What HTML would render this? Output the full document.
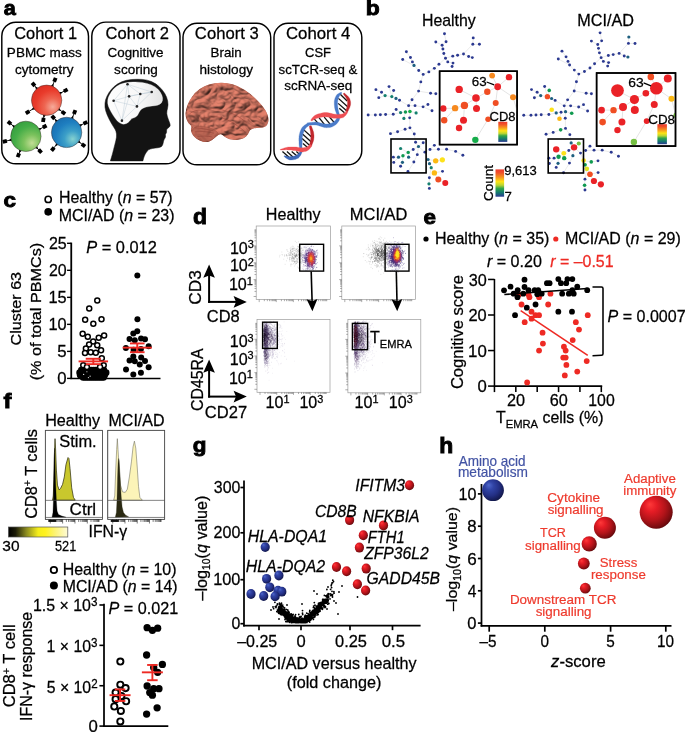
<!DOCTYPE html>
<html lang="en"><head><meta charset="utf-8"><title>Figure</title>
<style>html,body{margin:0;padding:0;background:#fff;}svg{display:block;font-family:"Liberation Sans",sans-serif;}.k{stroke:#000;}</style></head><body>
<svg width="685" height="732" viewBox="0 0 685 732" stroke-width="0.26">
<rect width="685" height="732" fill="#fff"/>
<g id="pa">
<text x="3.70" y="15.10" font-size="20.4" font-weight="bold" stroke="#000" stroke-width="0.9" textLength="12.03" lengthAdjust="spacingAndGlyphs">a</text>
<rect x="1.80" y="22.20" width="86.70" height="141.60" fill="none" stroke="#000" stroke-width="1.45" rx="14" />
<rect x="91.80" y="22.10" width="88.20" height="141.70" fill="none" stroke="#000" stroke-width="1.45" rx="14" />
<rect x="183.00" y="23.30" width="87.70" height="141.50" fill="none" stroke="#000" stroke-width="1.45" rx="14" />
<rect x="274.00" y="23.30" width="87.80" height="141.50" fill="none" stroke="#000" stroke-width="1.45" rx="14" />
<text x="14.18" y="39.30" font-size="16.63" class="k" textLength="62.91" lengthAdjust="spacingAndGlyphs">Cohort 1</text>
<text x="105.57" y="39.30" font-size="16.63" class="k" textLength="63.46" lengthAdjust="spacingAndGlyphs">Cohort 2</text>
<text x="194.87" y="39.30" font-size="16.63" class="k" textLength="63.85" lengthAdjust="spacingAndGlyphs">Cohort 3</text>
<text x="285.96" y="39.30" font-size="16.63" class="k" textLength="64.41" lengthAdjust="spacingAndGlyphs">Cohort 4</text>
<text x="6.89" y="57.30" font-size="12.56" class="k" textLength="75.00" lengthAdjust="spacingAndGlyphs">PBMC mass</text>
<text x="14.93" y="73.60" font-size="12.56" class="k" textLength="58.49" lengthAdjust="spacingAndGlyphs">cytometry</text>
<text x="107.53" y="57.30" font-size="12.56" class="k" textLength="55.86" lengthAdjust="spacingAndGlyphs">Cognitive</text>
<text x="114.13" y="73.60" font-size="12.56" class="k" textLength="43.74" lengthAdjust="spacingAndGlyphs">scoring</text>
<text x="210.60" y="57.30" font-size="12.56" class="k" textLength="31.16" lengthAdjust="spacingAndGlyphs">Brain</text>
<text x="199.45" y="73.60" font-size="12.56" class="k" textLength="53.58" lengthAdjust="spacingAndGlyphs">histology</text>
<text x="305.05" y="57.30" font-size="12.56" class="k" textLength="25.86" lengthAdjust="spacingAndGlyphs">CSF</text>
<text x="278.54" y="73.60" font-size="12.56" class="k" textLength="78.77" lengthAdjust="spacingAndGlyphs">scTCR-seq &amp;</text>
<text x="284.23" y="89.50" font-size="12.56" class="k" textLength="68.03" lengthAdjust="spacingAndGlyphs">scRNA-seq</text>
<defs>
<radialGradient id="cg0" cx="0.7" cy="0.72" r="0.9"><stop offset="0" stop-color="#f6ab9a"/><stop offset="0.3" stop-color="#ee6652"/><stop offset="0.62" stop-color="#e93b2b"/><stop offset="1" stop-color="#d9291d"/></radialGradient>
<radialGradient id="cg1" cx="0.7" cy="0.72" r="0.9"><stop offset="0" stop-color="#c2dd95"/><stop offset="0.3" stop-color="#7cc25d"/><stop offset="0.62" stop-color="#45ad48"/><stop offset="1" stop-color="#2f9a3a"/></radialGradient>
<radialGradient id="cg2" cx="0.7" cy="0.72" r="0.9"><stop offset="0" stop-color="#86d2d0"/><stop offset="0.3" stop-color="#3c9fc8"/><stop offset="0.62" stop-color="#1e7ec0"/><stop offset="1" stop-color="#1568aa"/></radialGradient>
</defs>
<line x1="37.68" y1="89.46" x2="33.50" y2="84.45" stroke="#000" stroke-width="0.9" />
<rect x="31.40" y="82.55" width="4.2" height="3.8" fill="#000" transform="rotate(-129.8 33.50 84.45)"/>
<path d="M38.53,87.98 L35.25,86.55 L36.07,90.03Z" fill="#000" stroke="none" stroke-width="0" />
<line x1="51.91" y1="87.25" x2="54.92" y2="79.85" stroke="#000" stroke-width="0.9" />
<rect x="52.82" y="77.95" width="4.2" height="3.8" fill="#000" transform="rotate(-67.9 54.92 79.85)"/>
<path d="M53.62,87.30 L53.35,83.73 L50.66,86.09Z" fill="#000" stroke="none" stroke-width="0" />
<line x1="59.08" y1="93.79" x2="65.69" y2="90.37" stroke="#000" stroke-width="0.9" />
<rect x="63.59" y="88.47" width="4.2" height="3.8" fill="#000" transform="rotate(-27.3 65.69 90.37)"/>
<path d="M60.35,94.93 L62.45,92.04 L58.88,92.09Z" fill="#000" stroke="none" stroke-width="0" />
<line x1="57.89" y1="108.56" x2="63.46" y2="112.70" stroke="#000" stroke-width="0.9" />
<rect x="61.36" y="110.80" width="4.2" height="3.8" fill="#000" transform="rotate(36.6 63.46 112.70)"/>
<path d="M57.41,110.21 L60.94,110.83 L59.32,107.64Z" fill="#000" stroke="none" stroke-width="0" />
<line x1="44.34" y1="114.03" x2="43.36" y2="119.93" stroke="#000" stroke-width="0.9" />
<rect x="41.26" y="118.03" width="4.2" height="3.8" fill="#000" transform="rotate(99.5 43.36 119.93)"/>
<path d="M42.66,114.36 L43.72,117.78 L45.82,114.88Z" fill="#000" stroke="none" stroke-width="0" />
<line x1="34.82" y1="107.72" x2="27.59" y2="112.31" stroke="#000" stroke-width="0.9" />
<rect x="25.49" y="110.41" width="4.2" height="3.8" fill="#000" transform="rotate(147.6 27.59 112.31)"/>
<path d="M33.46,106.69 L31.61,109.76 L35.17,109.39Z" fill="#000" stroke="none" stroke-width="0" />
<circle cx="46.64" cy="100.22" r="15.20" fill="url(#cg0)" stroke="#3a2a2a" stroke-width="0.45" />
<line x1="15.08" y1="127.45" x2="9.46" y2="122.82" stroke="#000" stroke-width="0.9" />
<rect x="7.36" y="120.92" width="4.2" height="3.8" fill="#000" transform="rotate(-140.5 9.46 122.82)"/>
<path d="M15.63,125.83 L12.15,125.03 L13.60,128.30Z" fill="#000" stroke="none" stroke-width="0" />
<line x1="38.28" y1="129.85" x2="44.67" y2="126.50" stroke="#000" stroke-width="0.9" />
<rect x="42.57" y="124.60" width="4.2" height="3.8" fill="#000" transform="rotate(-27.7 44.67 126.50)"/>
<path d="M39.56,130.99 L41.65,128.08 L38.07,128.15Z" fill="#000" stroke="none" stroke-width="0" />
<line x1="12.26" y1="139.59" x2="4.86" y2="141.34" stroke="#000" stroke-width="0.9" />
<rect x="2.76" y="139.44" width="4.2" height="3.8" fill="#000" transform="rotate(166.6 4.86 141.34)"/>
<path d="M11.31,138.17 L8.57,140.46 L12.05,141.28Z" fill="#000" stroke="none" stroke-width="0" />
<line x1="20.70" y1="149.36" x2="18.39" y2="155.14" stroke="#000" stroke-width="0.9" />
<rect x="16.29" y="153.24" width="4.2" height="3.8" fill="#000" transform="rotate(111.7 18.39 155.14)"/>
<path d="M18.99,149.32 L19.29,152.89 L21.96,150.51Z" fill="#000" stroke="none" stroke-width="0" />
<line x1="35.56" y1="146.47" x2="40.07" y2="151.20" stroke="#000" stroke-width="0.9" />
<rect x="37.97" y="149.30" width="4.2" height="3.8" fill="#000" transform="rotate(46.3 40.07 151.20)"/>
<path d="M34.81,148.01 L38.18,149.22 L37.13,145.80Z" fill="#000" stroke="none" stroke-width="0" />
<circle cx="25.88" cy="136.35" r="15.20" fill="url(#cg1)" stroke="#3a2a2a" stroke-width="0.45" />
<line x1="57.32" y1="121.94" x2="53.21" y2="117.30" stroke="#000" stroke-width="0.9" />
<rect x="51.11" y="115.40" width="4.2" height="3.8" fill="#000" transform="rotate(-131.6 53.21 117.30)"/>
<path d="M58.12,120.43 L54.80,119.09 L55.73,122.55Z" fill="#000" stroke="none" stroke-width="0" />
<line x1="71.74" y1="119.38" x2="74.63" y2="112.04" stroke="#000" stroke-width="0.9" />
<rect x="72.53" y="110.14" width="4.2" height="3.8" fill="#000" transform="rotate(-68.5 74.63 112.04)"/>
<path d="M73.45,119.41 L73.13,115.85 L70.47,118.24Z" fill="#000" stroke="none" stroke-width="0" />
<line x1="79.08" y1="126.04" x2="85.40" y2="122.82" stroke="#000" stroke-width="0.9" />
<rect x="83.30" y="120.92" width="4.2" height="3.8" fill="#000" transform="rotate(-27.0 85.40 122.82)"/>
<path d="M80.35,127.20 L82.47,124.32 L78.89,124.35Z" fill="#000" stroke="none" stroke-width="0" />
<line x1="77.73" y1="140.92" x2="83.43" y2="145.29" stroke="#000" stroke-width="0.9" />
<rect x="81.33" y="143.39" width="4.2" height="3.8" fill="#000" transform="rotate(37.4 83.43 145.29)"/>
<path d="M77.23,142.56 L80.75,143.23 L79.18,140.01Z" fill="#000" stroke="none" stroke-width="0" />
<line x1="57.69" y1="143.20" x2="52.82" y2="149.10" stroke="#000" stroke-width="0.9" />
<rect x="50.72" y="147.20" width="4.2" height="3.8" fill="#000" transform="rotate(129.6 52.82 149.10)"/>
<path d="M56.08,142.64 L55.27,146.13 L58.54,144.68Z" fill="#000" stroke="none" stroke-width="0" />
<circle cx="66.61" cy="132.41" r="15.20" fill="url(#cg2)" stroke="#3a2a2a" stroke-width="0.45" />
<path d="M131.6,79.5 Q137.2,79.1 142.1,79.4 Q147.1,79.7 151.5,81.6 Q155.8,83.4 159.2,86.7 Q162.6,89.9 164.8,93.6 Q167.0,97.3 167.7,101.1 Q168.4,104.8 167.6,107.9 Q166.7,111.0 166.8,113.5 Q167.0,115.9 168.2,119.0 Q169.4,122.1 170.0,124.0 Q170.6,125.9 169.4,126.9 Q168.2,128.0 167.3,128.8 Q166.3,129.6 166.6,131.1 Q166.8,132.7 166.0,133.6 Q165.1,134.6 165.5,135.8 Q165.8,137.0 164.9,138.3 Q163.9,139.5 163.5,141.4 Q163.2,143.2 162.6,144.9 Q162.0,146.6 160.1,147.2 Q158.3,147.8 155.2,148.1 Q152.1,148.4 150.2,149.1 Q148.3,149.7 147.1,151.2 Q145.9,152.8 144.9,154.8 Q144.0,156.9 143.4,158.9 Q142.9,160.9 142.9,160.9 Q142.9,160.9 126.6,160.9 Q110.4,160.9 110.4,160.9 Q110.4,160.9 111.4,157.6 Q112.4,154.4 113.6,149.4 Q114.9,144.5 115.8,140.8 Q116.8,137.0 116.5,133.9 Q116.1,130.8 114.9,129.0 Q113.6,127.1 111.1,122.8 Q108.6,118.4 107.1,114.7 Q105.5,111.0 105.0,107.3 Q104.6,103.5 105.6,99.8 Q106.7,96.1 108.9,92.7 Q111.1,89.3 114.2,86.5 Q117.3,83.7 121.7,81.8 Q126.0,80.0 131.6,79.5Z" fill="#131313" stroke="#131313" stroke-width="0.5" stroke-linejoin="round"/>
<defs><linearGradient id="bwg" x1="0" y1="0" x2="1" y2="0"><stop offset="0" stop-color="#fdfdfd"/><stop offset="0.6" stop-color="#f7f7f7"/><stop offset="1" stop-color="#e4e4e4"/></linearGradient></defs>
<path d="M124.2,83.1 Q128.5,82.2 132.8,82.0 Q137.2,81.8 142.1,82.4 Q147.1,83.1 151.5,84.9 Q155.8,86.8 158.3,89.6 Q160.8,92.4 161.9,95.2 Q163.0,98.0 162.5,100.4 Q162.0,102.9 159.8,104.2 Q157.7,105.4 154.9,105.7 Q152.1,106.0 149.0,106.5 Q145.9,107.0 143.7,107.9 Q141.5,108.7 140.3,110.5 Q139.0,112.2 138.4,113.8 Q137.8,115.3 136.3,116.6 Q134.7,117.8 133.2,118.1 Q131.6,118.4 130.7,119.8 Q129.7,121.2 128.2,122.4 Q126.6,123.6 124.8,124.0 Q122.9,124.4 121.1,123.6 Q119.2,122.8 117.3,120.9 Q115.5,119.0 113.3,115.6 Q111.1,112.2 109.6,109.1 Q108.0,106.0 107.7,103.2 Q107.4,100.4 108.3,97.6 Q109.3,94.9 111.4,91.7 Q113.6,88.6 116.7,86.3 Q119.8,83.9 124.2,83.1Z" fill="url(#bwg)" stroke="#fafafa" stroke-width="0.3" stroke-linejoin="round"/>
<line x1="127.51" y1="84.31" x2="140.29" y2="93.98" stroke="#a9bccb" stroke-width="0.35" />
<line x1="127.51" y1="84.31" x2="151.70" y2="92.00" stroke="#a9bccb" stroke-width="0.35" />
<line x1="127.51" y1="84.31" x2="129.12" y2="96.34" stroke="#a9bccb" stroke-width="0.35" />
<line x1="127.51" y1="84.31" x2="113.61" y2="100.81" stroke="#a9bccb" stroke-width="0.35" />
<line x1="140.29" y1="93.98" x2="151.70" y2="92.00" stroke="#a9bccb" stroke-width="0.35" />
<line x1="140.29" y1="93.98" x2="129.12" y2="96.34" stroke="#a9bccb" stroke-width="0.35" />
<line x1="140.29" y1="93.98" x2="136.94" y2="106.39" stroke="#a9bccb" stroke-width="0.35" />
<line x1="151.70" y1="92.00" x2="136.94" y2="106.39" stroke="#a9bccb" stroke-width="0.35" />
<line x1="129.12" y1="96.34" x2="113.61" y2="100.81" stroke="#a9bccb" stroke-width="0.35" />
<line x1="129.12" y1="96.34" x2="136.94" y2="106.39" stroke="#a9bccb" stroke-width="0.35" />
<line x1="129.12" y1="96.34" x2="121.92" y2="120.66" stroke="#a9bccb" stroke-width="0.35" />
<line x1="113.61" y1="100.81" x2="136.94" y2="106.39" stroke="#a9bccb" stroke-width="0.35" />
<line x1="113.61" y1="100.81" x2="121.92" y2="120.66" stroke="#a9bccb" stroke-width="0.35" />
<line x1="136.94" y1="106.39" x2="121.92" y2="120.66" stroke="#a9bccb" stroke-width="0.35" />
<line x1="127.51" y1="84.31" x2="121.92" y2="120.66" stroke="#a9bccb" stroke-width="0.35" />
<line x1="151.70" y1="92.00" x2="129.12" y2="96.34" stroke="#a9bccb" stroke-width="0.35" />
<circle cx="127.51" cy="84.31" r="1.30" fill="#222" />
<circle cx="140.29" cy="93.98" r="1.30" fill="#222" />
<circle cx="151.70" cy="92.00" r="1.30" fill="#222" />
<circle cx="129.12" cy="96.34" r="1.30" fill="#222" />
<circle cx="113.61" cy="100.81" r="1.30" fill="#222" />
<circle cx="136.94" cy="106.39" r="1.30" fill="#222" />
<circle cx="121.92" cy="120.66" r="1.30" fill="#222" />
<defs><radialGradient id="brg" cx="0.45" cy="0.35" r="0.8"><stop offset="0" stop-color="#cf8270"/><stop offset="0.6" stop-color="#b96250"/><stop offset="1" stop-color="#9a493b"/></radialGradient><filter id="bt" x="-0.05" y="-0.05" width="1.1" height="1.1" color-interpolation-filters="sRGB"><feTurbulence type="turbulence" baseFrequency="0.085 0.11" numOctaves="2" seed="8" result="n"/><feDiffuseLighting in="n" surfaceScale="2.5" diffuseConstant="1.2" lighting-color="#c9725f" result="l"><feDistantLight azimuth="240" elevation="52"/></feDiffuseLighting><feComposite in="l" in2="SourceGraphic" operator="in" result="c"/><feGaussianBlur in="c" stdDeviation="0.35" result="cb"/><feComposite in="cb" in2="SourceGraphic" operator="in"/></filter></defs>
<path d="M186.6,119.6 Q185.3,116.0 185.6,112.7 Q185.9,109.4 187.3,105.5 Q188.6,101.5 191.9,96.9 Q195.1,92.3 199.7,89.1 Q204.3,85.8 209.6,84.3 Q214.8,82.9 220.8,82.7 Q226.7,82.5 232.6,84.3 Q238.5,86.0 244.4,89.8 Q250.3,93.6 254.9,97.9 Q259.5,102.2 262.8,106.5 Q266.1,110.7 267.5,114.7 Q269.0,118.6 268.2,121.9 Q267.4,125.2 265.4,126.5 Q263.5,127.8 259.5,127.8 Q255.6,127.8 252.6,128.8 Q249.7,129.8 249.0,132.1 Q248.4,134.4 246.1,136.4 Q243.8,138.3 240.5,139.3 Q237.2,140.3 233.2,139.8 Q229.3,139.4 226.7,137.9 Q224.0,136.4 222.4,135.0 Q220.8,133.7 218.8,134.7 Q216.8,135.7 214.5,138.0 Q212.2,140.3 209.3,141.4 Q206.3,142.5 203.0,141.7 Q199.7,140.9 196.8,138.7 Q193.8,136.4 192.2,133.7 Q190.5,131.1 191.2,128.5 Q191.9,125.8 189.9,124.5 Q187.9,123.2 186.6,119.6Z" fill="url(#brg)" stroke="none" stroke-width="0" />
<path d="M186.6,119.6 Q185.3,116.0 185.6,112.7 Q185.9,109.4 187.3,105.5 Q188.6,101.5 191.9,96.9 Q195.1,92.3 199.7,89.1 Q204.3,85.8 209.6,84.3 Q214.8,82.9 220.8,82.7 Q226.7,82.5 232.6,84.3 Q238.5,86.0 244.4,89.8 Q250.3,93.6 254.9,97.9 Q259.5,102.2 262.8,106.5 Q266.1,110.7 267.5,114.7 Q269.0,118.6 268.2,121.9 Q267.4,125.2 265.4,126.5 Q263.5,127.8 259.5,127.8 Q255.6,127.8 252.6,128.8 Q249.7,129.8 249.0,132.1 Q248.4,134.4 246.1,136.4 Q243.8,138.3 240.5,139.3 Q237.2,140.3 233.2,139.8 Q229.3,139.4 226.7,137.9 Q224.0,136.4 222.4,135.0 Q220.8,133.7 218.8,134.7 Q216.8,135.7 214.5,138.0 Q212.2,140.3 209.3,141.4 Q206.3,142.5 203.0,141.7 Q199.7,140.9 196.8,138.7 Q193.8,136.4 192.2,133.7 Q190.5,131.1 191.2,128.5 Q191.9,125.8 189.9,124.5 Q187.9,123.2 186.6,119.6Z" fill="#c06a58" stroke="none" stroke-width="0" filter="url(#bt)" opacity="0.85"/>
<path d="M192.2,133.4 Q191.2,130.4 193.8,128.1 Q196.5,125.8 201.1,126.2 Q205.6,126.5 210.2,128.1 Q214.8,129.8 217.1,131.8 Q219.4,133.7 217.1,135.7 Q214.8,137.7 211.6,139.8 Q208.3,142.0 204.3,141.5 Q200.4,140.9 196.8,138.7 Q193.2,136.4 192.2,133.4Z" fill="#b4604f" stroke="#8a3e32" stroke-width="0.4" opacity="0.75"/>
<path d="M189.9,113.4 Q196.5,109.4 200.4,110.1 Q204.3,110.7 208.3,109.4 Q212.2,108.1 216.8,108.8 Q221.4,109.4 226.7,111.4 Q231.9,113.4 235.9,115.3 Q239.8,117.3 243.1,119.9 L246.4,122.6" fill="none" stroke="#8a3e32" stroke-width="0.8" stroke-linecap="round" opacity="0.6"/>
<path d="M201.7,118.6 Q210.9,116.0 216.2,116.6 Q221.4,117.3 226.0,119.3 Q230.6,121.2 234.6,123.9 Q238.5,126.5 241.8,129.1 L245.1,131.8" fill="none" stroke="#8a3e32" stroke-width="0.8" stroke-linecap="round" opacity="0.6"/>
<path d="M195.1,131.8 Q204.3,131.1 208.9,132.1 L213.5,133.1" fill="none" stroke="#8a3e32" stroke-width="0.8" stroke-linecap="round" opacity="0.6"/>
<path d="M197.8,136.4 Q205.6,135.7 208.9,136.4 L212.2,137.0" fill="none" stroke="#8a3e32" stroke-width="0.8" stroke-linecap="round" opacity="0.6"/>
<path d="M194.5,127.8 Q203.0,128.5 207.9,129.6 L212.9,130.7" fill="none" stroke="#8a3e32" stroke-width="0.8" stroke-linecap="round" opacity="0.6"/>
<line x1="302.96" y1="129.12" x2="311.37" y2="136.75" stroke="#111" stroke-width="1.3" />
<line x1="302.17" y1="133.72" x2="311.37" y2="142.00" stroke="#111" stroke-width="1.3" />
<line x1="302.17" y1="138.58" x2="310.58" y2="146.21" stroke="#111" stroke-width="1.3" />
<line x1="302.96" y1="143.58" x2="308.47" y2="148.31" stroke="#111" stroke-width="1.3" />
<line x1="313.99" y1="118.61" x2="318.99" y2="124.39" stroke="#111" stroke-width="1.3" />
<line x1="318.99" y1="117.56" x2="324.77" y2="124.92" stroke="#111" stroke-width="1.3" />
<line x1="324.24" y1="117.04" x2="330.29" y2="124.39" stroke="#111" stroke-width="1.3" />
<line x1="329.50" y1="117.04" x2="334.75" y2="123.08" stroke="#111" stroke-width="1.3" />
<line x1="340.27" y1="94.18" x2="347.10" y2="101.01" stroke="#111" stroke-width="1.3" />
<line x1="338.43" y1="98.38" x2="347.63" y2="106.79" stroke="#111" stroke-width="1.3" />
<line x1="338.17" y1="103.37" x2="346.31" y2="110.47" stroke="#111" stroke-width="1.3" />
<line x1="339.22" y1="108.37" x2="344.48" y2="112.83" stroke="#111" stroke-width="1.3" />
<line x1="282.46" y1="151.46" x2="289.03" y2="157.24" stroke="#111" stroke-width="1.3" />
<line x1="286.93" y1="151.46" x2="293.76" y2="157.77" stroke="#111" stroke-width="1.3" />
<line x1="291.66" y1="151.46" x2="297.96" y2="156.72" stroke="#111" stroke-width="1.3" />
<line x1="296.39" y1="151.46" x2="300.33" y2="155.14" stroke="#111" stroke-width="1.3" />
<path d="M309.3,126.1 L309.4,126.7 L309.5,127.5 L309.7,128.4 L310.0,129.4 L310.2,130.4 L310.4,131.5 L310.5,132.4 L310.6,133.3 L310.7,134.1 L310.8,134.9 L310.8,135.6 L310.8,136.4 L310.8,137.1 L310.8,137.8 L310.7,138.6 L310.6,139.4 L310.5,140.2 L310.4,141.2 L310.1,142.2 L309.9,143.3 L309.6,144.3 L309.4,145.2 L309.2,146.0 L309.1,146.6 L311.0,147.2 L311.2,146.6 L311.5,145.9 L311.9,145.0 L312.3,144.0 L312.7,143.0 L313.1,141.9 L313.4,140.9 L313.7,139.9 L313.8,139.0 L313.9,138.1 L314.0,137.2 L314.0,136.3 L314.0,135.5 L313.9,134.6 L313.8,133.7 L313.7,132.8 L313.5,131.8 L313.1,130.8 L312.8,129.7 L312.4,128.7 L312.0,127.7 L311.7,126.8 L311.3,126.1 L311.1,125.6Z" fill="#c1272d" stroke="#c1272d" stroke-width="0.3" stroke-linejoin="round"/>
<path d="M343.2,93.8 L343.5,94.3 L344.0,94.9 L344.5,95.7 L345.1,96.5 L345.7,97.3 L346.2,98.1 L346.6,98.9 L346.8,99.5 L347.1,100.1 L347.3,100.7 L347.4,101.3 L347.5,102.0 L347.5,102.6 L347.5,103.2 L347.5,103.9 L347.4,104.6 L347.3,105.3 L347.2,106.2 L346.9,107.2 L346.6,108.2 L346.3,109.2 L346.0,110.1 L345.8,110.9 L345.7,111.4 L347.5,112.1 L347.8,111.6 L348.1,110.9 L348.5,110.1 L349.0,109.1 L349.5,108.1 L349.9,107.1 L350.2,106.0 L350.5,105.0 L350.6,104.1 L350.6,103.3 L350.6,102.4 L350.5,101.6 L350.3,100.8 L350.1,99.9 L349.8,99.1 L349.5,98.3 L348.9,97.4 L348.2,96.6 L347.4,95.8 L346.6,95.1 L345.9,94.4 L345.2,93.8 L344.6,93.3 L344.1,93.0Z" fill="#c1272d" stroke="#c1272d" stroke-width="0.3" stroke-linejoin="round"/>
<path d="M284.0,156.4 L284.4,156.7 L284.9,157.2 L285.5,157.7 L286.2,158.2 L287.1,158.7 L288.0,159.2 L288.9,159.7 L290.0,160.0 L291.0,160.0 L292.0,159.9 L293.1,159.8 L294.2,159.6 L295.2,159.4 L296.3,159.0 L297.2,158.6 L298.2,158.2 L299.0,157.4 L299.7,156.6 L300.3,155.7 L300.8,154.9 L301.3,154.0 L301.6,153.3 L301.9,152.7 L302.0,152.3 L300.5,151.2 L300.1,151.6 L299.6,152.1 L299.2,152.7 L298.6,153.4 L298.1,154.0 L297.5,154.6 L296.9,155.0 L296.4,155.3 L295.9,155.6 L295.1,155.8 L294.3,156.1 L293.5,156.3 L292.6,156.5 L291.7,156.6 L290.9,156.6 L290.2,156.6 L289.5,156.7 L288.8,156.7 L287.9,156.5 L287.1,156.3 L286.3,156.1 L285.5,155.9 L284.8,155.8 L284.3,155.7Z" fill="#3f68b8" stroke="#3f68b8" stroke-width="0.3" stroke-linejoin="round"/>
<path d="M301.7,152.1 L301.8,151.4 L301.8,150.5 L301.9,149.5 L301.9,148.3 L302.0,147.1 L302.0,145.8 L302.1,144.6 L302.2,143.6 L302.2,142.5 L302.2,141.5 L302.2,140.5 L302.2,139.6 L302.2,138.6 L302.3,137.7 L302.4,136.9 L302.5,136.0 L302.7,135.1 L302.9,134.2 L303.2,133.3 L303.5,132.4 L303.8,131.6 L304.1,130.8 L304.5,130.0 L304.9,129.4 L305.3,128.8 L305.8,128.2 L306.4,127.6 L307.0,127.0 L307.7,126.4 L308.3,125.9 L308.8,125.5 L309.2,125.1 L307.7,123.2 L307.3,123.4 L306.7,123.8 L306.0,124.2 L305.3,124.7 L304.4,125.3 L303.6,125.9 L302.8,126.7 L302.1,127.5 L301.5,128.4 L301.1,129.3 L300.7,130.3 L300.3,131.3 L299.9,132.3 L299.7,133.3 L299.4,134.4 L299.2,135.4 L299.0,136.4 L299.0,137.5 L298.9,138.5 L298.9,139.5 L298.9,140.6 L299.0,141.6 L299.0,142.6 L299.0,143.6 L299.1,144.7 L299.2,145.9 L299.4,147.1 L299.5,148.4 L299.6,149.6 L299.8,150.6 L299.9,151.5 L300.0,152.1Z" fill="#4a7bc9" stroke="#4a7bc9" stroke-width="0.3" stroke-linejoin="round"/>
<path d="M307.5,125.3 L308.2,125.3 L309.2,125.2 L310.2,125.1 L311.4,125.1 L312.7,125.0 L313.9,124.9 L315.1,125.0 L316.2,125.0 L317.2,125.2 L318.3,125.5 L319.4,125.9 L320.6,126.3 L321.8,126.7 L323.0,127.1 L324.2,127.5 L325.4,127.6 L326.6,127.7 L327.7,127.6 L328.7,127.6 L329.8,127.4 L330.8,127.2 L331.7,126.9 L332.7,126.6 L333.6,126.1 L334.5,125.6 L335.3,125.0 L336.1,124.4 L336.8,123.7 L337.4,123.0 L338.0,122.2 L338.5,121.5 L339.0,120.7 L339.4,119.8 L339.6,118.9 L339.8,118.0 L339.9,117.2 L339.9,116.4 L339.9,115.7 L339.9,115.2 L339.9,114.8 L337.5,114.5 L337.4,115.0 L337.3,115.5 L337.2,116.2 L337.1,116.8 L336.9,117.5 L336.8,118.2 L336.5,118.7 L336.3,119.2 L335.9,119.6 L335.5,120.2 L335.0,120.7 L334.4,121.3 L333.8,121.8 L333.2,122.2 L332.6,122.6 L332.0,122.9 L331.3,123.2 L330.6,123.4 L329.9,123.7 L329.1,123.8 L328.3,124.0 L327.4,124.0 L326.6,124.1 L325.7,124.0 L324.8,124.0 L323.8,123.8 L322.7,123.5 L321.6,123.2 L320.3,122.9 L319.1,122.6 L317.8,122.3 L316.5,122.2 L315.2,122.1 L313.9,122.2 L312.5,122.3 L311.2,122.4 L310.0,122.6 L308.9,122.7 L308.0,122.8 L307.3,122.9Z" fill="#4a7bc9" stroke="#4a7bc9" stroke-width="0.3" stroke-linejoin="round"/>
<path d="M339.6,115.0 L339.4,114.4 L339.2,113.6 L339.0,112.7 L338.7,111.7 L338.5,110.7 L338.2,109.7 L338.0,108.7 L337.9,107.8 L337.8,107.0 L337.7,106.1 L337.6,105.2 L337.6,104.3 L337.6,103.4 L337.6,102.6 L337.7,101.8 L337.7,101.1 L337.8,100.4 L337.9,99.8 L338.1,99.2 L338.3,98.6 L338.5,98.0 L338.7,97.4 L339.0,96.9 L339.2,96.5 L339.4,96.0 L339.7,95.5 L340.1,95.0 L340.5,94.6 L340.9,94.1 L341.3,93.7 L341.7,93.3 L341.9,93.0 L341.3,92.2 L340.9,92.3 L340.5,92.5 L340.0,92.7 L339.4,93.0 L338.7,93.4 L338.1,93.8 L337.4,94.2 L336.8,94.8 L336.4,95.4 L336.0,96.0 L335.7,96.7 L335.3,97.4 L335.0,98.2 L334.8,99.0 L334.6,99.8 L334.4,100.6 L334.3,101.6 L334.3,102.5 L334.3,103.5 L334.3,104.4 L334.4,105.4 L334.5,106.4 L334.6,107.4 L334.8,108.4 L335.0,109.4 L335.3,110.5 L335.7,111.5 L336.1,112.6 L336.4,113.6 L336.8,114.4 L337.1,115.2 L337.3,115.7Z" fill="#4a7bc9" stroke="#4a7bc9" stroke-width="0.3" stroke-linejoin="round"/>
<path d="M280.3,150.0 L280.9,150.0 L281.6,150.0 L282.5,150.0 L283.5,149.9 L284.5,149.9 L285.6,149.8 L286.6,149.8 L287.5,149.9 L288.5,149.9 L289.4,150.0 L290.4,150.0 L291.4,150.1 L292.4,150.2 L293.3,150.4 L294.3,150.5 L295.1,150.6 L296.0,150.8 L296.7,150.9 L297.5,151.1 L298.4,151.3 L299.2,151.6 L300.1,151.7 L301.0,151.9 L301.9,151.9 L302.8,151.9 L303.6,151.8 L304.5,151.6 L305.3,151.4 L306.1,151.2 L306.8,150.9 L307.6,150.5 L308.3,150.1 L309.0,149.6 L309.6,148.9 L310.1,148.2 L310.6,147.5 L311.0,146.9 L311.3,146.3 L311.6,145.8 L311.7,145.5 L310.5,144.3 L310.1,144.6 L309.6,144.9 L309.1,145.3 L308.6,145.8 L308.1,146.2 L307.5,146.6 L307.0,146.8 L306.5,147.0 L306.1,147.2 L305.6,147.4 L305.0,147.5 L304.4,147.6 L303.8,147.7 L303.2,147.8 L302.5,147.8 L301.9,147.8 L301.3,147.8 L300.7,147.8 L300.0,147.7 L299.2,147.6 L298.3,147.4 L297.5,147.3 L296.5,147.1 L295.5,147.0 L294.6,147.0 L293.6,147.0 L292.5,147.0 L291.5,147.0 L290.5,147.0 L289.4,147.1 L288.4,147.1 L287.4,147.2 L286.3,147.5 L285.3,147.7 L284.2,148.1 L283.2,148.4 L282.3,148.7 L281.4,149.0 L280.7,149.3 L280.2,149.5Z" fill="#ee4f54" stroke="#ee4f54" stroke-width="0.3" stroke-linejoin="round"/>
<path d="M311.5,121.0 L312.0,120.8 L312.6,120.5 L313.2,120.1 L313.9,119.7 L314.7,119.2 L315.5,118.8 L316.3,118.5 L317.1,118.3 L317.9,118.0 L318.9,117.7 L320.0,117.5 L321.1,117.3 L322.3,117.1 L323.4,116.9 L324.6,116.9 L325.6,116.8 L326.5,116.9 L327.5,117.0 L328.6,117.2 L329.7,117.4 L330.9,117.7 L332.1,118.0 L333.4,118.2 L334.6,118.3 L335.7,118.3 L336.8,118.3 L338.0,118.3 L339.1,118.3 L340.2,118.2 L341.2,118.0 L342.3,117.8 L343.3,117.4 L344.2,116.8 L345.0,116.1 L345.7,115.4 L346.3,114.6 L346.8,113.9 L347.2,113.2 L347.5,112.7 L347.7,112.3 L346.7,111.3 L346.3,111.5 L345.7,111.9 L345.2,112.4 L344.5,112.8 L343.9,113.3 L343.2,113.6 L342.6,113.9 L342.0,114.0 L341.4,114.2 L340.6,114.3 L339.8,114.4 L338.9,114.4 L337.9,114.4 L336.9,114.4 L335.9,114.3 L334.9,114.2 L334.0,114.1 L333.0,113.9 L331.9,113.6 L330.7,113.3 L329.5,113.0 L328.2,112.7 L326.9,112.6 L325.5,112.5 L324.2,112.6 L322.9,112.8 L321.6,113.1 L320.3,113.4 L319.0,113.7 L317.8,114.1 L316.7,114.5 L315.6,115.0 L314.7,115.6 L313.8,116.3 L313.0,117.1 L312.4,117.8 L311.8,118.5 L311.3,119.2 L311.0,119.7 L310.7,120.1Z" fill="#ee4f54" stroke="#ee4f54" stroke-width="0.3" stroke-linejoin="round"/>
</g>
<g id="pb">
<text x="365.70" y="14.80" font-size="20.6" font-weight="bold" stroke="#000" stroke-width="0.9" textLength="13.98" lengthAdjust="spacingAndGlyphs">b</text>
<text x="421.99" y="25.70" font-size="16.96" class="k" textLength="53.76" lengthAdjust="spacingAndGlyphs">Healthy</text>
<text x="577.26" y="25.70" font-size="16.96" class="k" textLength="56.71" lengthAdjust="spacingAndGlyphs">MCI/AD</text>
<path d="M444.5,33.8 L446.1,41.7 L442.1,45.2 L442.9,49.0 L443.8,53.5 L445.5,58.2 L447.8,61.9" fill="none" stroke="#d6d6d6" stroke-width="0.5" />
<path d="M435.8,41.9 L442.1,45.2" fill="none" stroke="#d6d6d6" stroke-width="0.5" />
<path d="M445.5,58.2 L439.0,64.3 L434.4,68.4 L428.8,71.9 L423.2,74.4 L420.8,81.9 L418.6,91.1 L412.0,99.8 L408.6,105.7" fill="none" stroke="#d6d6d6" stroke-width="0.5" />
<path d="M423.2,74.4 L418.7,70.5 L414.0,65.5 L412.4,61.9 L410.5,57.5 L406.4,51.8" fill="none" stroke="#d6d6d6" stroke-width="0.5" />
<path d="M402.7,59.6 L414.0,65.5" fill="none" stroke="#d6d6d6" stroke-width="0.5" />
<path d="M418.6,91.1 L430.6,93.2 L435.8,93.7" fill="none" stroke="#d6d6d6" stroke-width="0.5" />
<path d="M408.6,105.7 L415.1,105.7 L423.1,106.9 L427.9,104.5" fill="none" stroke="#d6d6d6" stroke-width="0.5" />
<path d="M423.1,106.9 L432.0,110.8" fill="none" stroke="#d6d6d6" stroke-width="0.5" />
<path d="M408.6,105.7 L399.5,100.3 L396.0,98.4 L391.8,96.6 L385.1,95.6 L381.5,92.3 L375.9,89.6" fill="none" stroke="#d6d6d6" stroke-width="0.5" />
<path d="M385.1,95.6 L378.8,97.7" fill="none" stroke="#d6d6d6" stroke-width="0.5" />
<path d="M391.8,96.6 L389.0,86.6" fill="none" stroke="#d6d6d6" stroke-width="0.5" />
<path d="M391.8,96.6 L393.6,90.4" fill="none" stroke="#d6d6d6" stroke-width="0.5" />
<path d="M368.1,115.0 L375.4,115.0 L380.4,114.7 L385.6,114.5 L393.2,114.2 L400.6,112.6 L405.5,112.0 L409.9,111.4 L416.1,112.9" fill="none" stroke="#d6d6d6" stroke-width="0.5" />
<path d="M396.1,109.5 L400.6,112.6" fill="none" stroke="#d6d6d6" stroke-width="0.5" />
<path d="M409.9,111.4 L408.6,105.7" fill="none" stroke="#d6d6d6" stroke-width="0.5" />
<path d="M409.9,111.4 L409.7,117.9 L409.9,127.9 L405.1,129.3 L397.6,131.8 L390.5,133.6" fill="none" stroke="#d6d6d6" stroke-width="0.5" />
<path d="M403.9,118.4 L405.5,112.0" fill="none" stroke="#d6d6d6" stroke-width="0.5" />
<path d="M409.9,127.9 L414.3,134.0 L415.6,142.2 L418.5,146.5 L413.2,149.5 L408.2,152.4 L403.0,155.7 L398.5,157.2 L393.4,157.2" fill="none" stroke="#d6d6d6" stroke-width="0.5" />
<path d="M408.2,152.4 L400.6,148.5" fill="none" stroke="#d6d6d6" stroke-width="0.5" />
<path d="M403.0,155.7 L402.4,162.3 L400.6,166.2" fill="none" stroke="#d6d6d6" stroke-width="0.5" />
<path d="M398.5,157.2 L393.8,162.4" fill="none" stroke="#d6d6d6" stroke-width="0.5" />
<path d="M418.5,146.5 L423.2,142.7" fill="none" stroke="#d6d6d6" stroke-width="0.5" />
<path d="M418.5,146.5 L424.9,152.2 L428.1,159.5 L429.5,163.7 L431.2,167.7 L434.4,172.9 L438.3,179.6 L445.3,182.9" fill="none" stroke="#d6d6d6" stroke-width="0.5" />
<path d="M418.5,146.5 L417.3,154.7 L413.9,162.0 L408.0,171.5" fill="none" stroke="#d6d6d6" stroke-width="0.5" />
<path d="M408.2,152.4 L408.6,157.2" fill="none" stroke="#d6d6d6" stroke-width="0.5" />
<path d="M424.9,152.2 L430.0,149.5 L434.4,145.3" fill="none" stroke="#d6d6d6" stroke-width="0.5" />
<path d="M430.0,149.5 L438.4,149.3 L446.6,149.3 L455.6,151.4 L462.9,155.2" fill="none" stroke="#d6d6d6" stroke-width="0.5" />
<path d="M428.1,159.5 L435.7,160.8 L442.4,159.8" fill="none" stroke="#d6d6d6" stroke-width="0.5" />
<path d="M434.4,172.9 L442.5,171.3" fill="none" stroke="#d6d6d6" stroke-width="0.5" />
<path d="M431.2,167.7 L429.4,177.8 L429.0,183.8 L429.4,188.4" fill="none" stroke="#d6d6d6" stroke-width="0.5" />
<path d="M445.5,58.2 L452.7,56.1 L457.6,55.2 L463.5,54.0 L472.8,44.2 L473.2,37.9" fill="none" stroke="#d6d6d6" stroke-width="0.5" />
<path d="M472.8,44.2 L479.4,44.3" fill="none" stroke="#d6d6d6" stroke-width="0.5" />
<path d="M463.5,54.0 L468.6,56.5 L472.3,57.6" fill="none" stroke="#d6d6d6" stroke-width="0.5" />
<path d="M447.8,61.9 L453.0,63.1 L452.1,66.5" fill="none" stroke="#d6d6d6" stroke-width="0.5" />
<circle cx="444.48" cy="33.80" r="1.45" fill="#2b3990" />
<circle cx="446.06" cy="41.69" r="1.45" fill="#2b3990" />
<circle cx="442.12" cy="45.23" r="1.45" fill="#2b3990" />
<circle cx="442.91" cy="49.04" r="1.45" fill="#2b3990" />
<circle cx="443.83" cy="53.51" r="1.45" fill="#2b3990" />
<circle cx="445.53" cy="58.24" r="1.45" fill="#2b3990" />
<circle cx="447.77" cy="61.92" r="1.45" fill="#2b3990" />
<circle cx="435.81" cy="41.95" r="1.45" fill="#2b3990" />
<circle cx="438.96" cy="64.29" r="1.45" fill="#2b3990" />
<circle cx="434.37" cy="68.36" r="1.45" fill="#2b3990" />
<circle cx="428.85" cy="71.91" r="1.45" fill="#2b3990" />
<circle cx="423.20" cy="74.40" r="1.45" fill="#2b3990" />
<circle cx="420.83" cy="81.89" r="1.45" fill="#2b3990" />
<circle cx="418.60" cy="91.09" r="1.45" fill="#2b3990" />
<circle cx="412.03" cy="99.76" r="1.45" fill="#2b3990" />
<circle cx="408.61" cy="105.67" r="1.45" fill="#2b3990" />
<circle cx="418.73" cy="70.46" r="1.45" fill="#2b3990" />
<circle cx="414.00" cy="65.47" r="1.60" fill="#1d5f7f" />
<circle cx="412.42" cy="61.92" r="1.45" fill="#2b3990" />
<circle cx="410.45" cy="57.45" r="1.45" fill="#2b3990" />
<circle cx="406.38" cy="51.80" r="1.45" fill="#2b3990" />
<circle cx="402.70" cy="59.56" r="1.45" fill="#2b3990" />
<circle cx="430.56" cy="93.19" r="1.45" fill="#2b3990" />
<circle cx="435.81" cy="93.72" r="1.45" fill="#2b3990" />
<circle cx="415.05" cy="105.67" r="1.45" fill="#2b3990" />
<circle cx="423.07" cy="106.86" r="1.45" fill="#2b3990" />
<circle cx="427.93" cy="104.49" r="1.45" fill="#2b3990" />
<circle cx="432.00" cy="110.80" r="1.45" fill="#2b3990" />
<circle cx="399.55" cy="100.29" r="1.45" fill="#2b3990" />
<circle cx="396.00" cy="98.45" r="1.60" fill="#1d5f7f" />
<circle cx="391.80" cy="96.61" r="1.60" fill="#14806f" />
<circle cx="385.10" cy="95.56" r="1.60" fill="#14806f" />
<circle cx="381.55" cy="92.27" r="1.45" fill="#2b3990" />
<circle cx="375.90" cy="89.64" r="1.45" fill="#2b3990" />
<circle cx="378.79" cy="97.66" r="1.45" fill="#2b3990" />
<circle cx="389.04" cy="86.62" r="1.45" fill="#2b3990" />
<circle cx="393.64" cy="90.43" r="1.45" fill="#2b3990" />
<circle cx="368.15" cy="114.98" r="1.45" fill="#2b3990" />
<circle cx="375.37" cy="114.98" r="1.45" fill="#2b3990" />
<circle cx="380.37" cy="114.72" r="1.45" fill="#2b3990" />
<circle cx="385.62" cy="114.45" r="1.45" fill="#2b3990" />
<circle cx="393.24" cy="114.19" r="1.45" fill="#2b3990" />
<circle cx="400.60" cy="112.61" r="1.60" fill="#14806f" />
<circle cx="405.46" cy="111.96" r="1.70" fill="#0f9a4f" />
<circle cx="409.93" cy="111.43" r="1.80" fill="#16ad4b" />
<circle cx="416.10" cy="112.88" r="1.60" fill="#14806f" />
<circle cx="396.13" cy="109.46" r="1.45" fill="#2b3990" />
<circle cx="403.88" cy="118.39" r="1.60" fill="#14806f" />
<circle cx="409.66" cy="117.87" r="1.45" fill="#2b3990" />
<circle cx="409.93" cy="127.85" r="1.45" fill="#2b3990" />
<circle cx="405.07" cy="129.30" r="1.45" fill="#2b3990" />
<circle cx="397.58" cy="131.80" r="1.45" fill="#2b3990" />
<circle cx="390.48" cy="133.64" r="1.45" fill="#2b3990" />
<circle cx="414.26" cy="134.03" r="1.45" fill="#2b3990" />
<circle cx="415.58" cy="142.18" r="1.45" fill="#2b3990" />
<circle cx="418.47" cy="146.51" r="1.60" fill="#1d5f7f" />
<circle cx="413.21" cy="149.53" r="1.45" fill="#2b3990" />
<circle cx="408.22" cy="152.42" r="1.70" fill="#0f9a4f" />
<circle cx="402.96" cy="155.71" r="1.70" fill="#0f9a4f" />
<circle cx="398.50" cy="157.15" r="1.60" fill="#1d5f7f" />
<circle cx="393.37" cy="157.15" r="1.45" fill="#2b3990" />
<circle cx="400.60" cy="148.48" r="1.60" fill="#14806f" />
<circle cx="402.44" cy="162.28" r="1.60" fill="#1d5f7f" />
<circle cx="400.60" cy="166.22" r="1.45" fill="#2b3990" />
<circle cx="393.77" cy="162.41" r="1.45" fill="#2b3990" />
<circle cx="423.20" cy="142.70" r="1.45" fill="#2b3990" />
<circle cx="417.29" cy="154.66" r="1.45" fill="#2b3990" />
<circle cx="413.87" cy="162.02" r="1.45" fill="#2b3990" />
<circle cx="407.96" cy="171.48" r="1.45" fill="#2b3990" />
<circle cx="408.61" cy="157.15" r="1.60" fill="#1d5f7f" />
<circle cx="424.91" cy="152.16" r="1.45" fill="#2b3990" />
<circle cx="428.06" cy="159.52" r="1.60" fill="#1d5f7f" />
<circle cx="429.50" cy="163.72" r="1.60" fill="#1d5f7f" />
<circle cx="431.21" cy="167.67" r="1.60" fill="#14806f" />
<circle cx="434.37" cy="172.92" r="2.70" fill="#fcb913" />
<circle cx="438.31" cy="179.62" r="3.00" fill="#f04e23" />
<circle cx="445.27" cy="182.91" r="3.00" fill="#ea2227" />
<circle cx="430.03" cy="149.53" r="1.45" fill="#2b3990" />
<circle cx="434.37" cy="145.33" r="1.45" fill="#2b3990" />
<circle cx="438.44" cy="149.27" r="1.45" fill="#2b3990" />
<circle cx="446.59" cy="149.27" r="1.45" fill="#2b3990" />
<circle cx="455.63" cy="151.39" r="1.45" fill="#2b3990" />
<circle cx="462.85" cy="155.20" r="1.45" fill="#2b3990" />
<circle cx="435.68" cy="160.83" r="2.70" fill="#fcb913" />
<circle cx="442.38" cy="159.78" r="2.60" fill="#fde21a" />
<circle cx="442.51" cy="171.34" r="1.45" fill="#2b3990" />
<circle cx="429.37" cy="177.78" r="1.45" fill="#2b3990" />
<circle cx="428.98" cy="183.83" r="1.60" fill="#14806f" />
<circle cx="429.37" cy="188.42" r="1.45" fill="#2b3990" />
<circle cx="452.74" cy="56.14" r="1.45" fill="#2b3990" />
<circle cx="457.60" cy="55.22" r="1.45" fill="#2b3990" />
<circle cx="463.51" cy="54.04" r="1.45" fill="#2b3990" />
<circle cx="472.84" cy="44.18" r="1.45" fill="#2b3990" />
<circle cx="473.23" cy="37.88" r="1.45" fill="#2b3990" />
<circle cx="479.41" cy="44.31" r="1.45" fill="#2b3990" />
<circle cx="468.64" cy="56.53" r="1.45" fill="#2b3990" />
<circle cx="472.31" cy="57.58" r="1.45" fill="#2b3990" />
<circle cx="453.00" cy="63.10" r="1.45" fill="#2b3990" />
<circle cx="452.08" cy="66.52" r="1.45" fill="#2b3990" />
<path d="M600.1,32.8 L601.7,40.9 L597.7,44.5 L598.5,48.3 L599.4,52.9 L601.1,57.7 L603.4,61.4" fill="none" stroke="#d6d6d6" stroke-width="0.5" />
<path d="M591.4,41.1 L597.7,44.5" fill="none" stroke="#d6d6d6" stroke-width="0.5" />
<path d="M601.1,57.7 L594.6,63.8 L590.0,68.0 L584.4,71.6 L578.8,74.1 L576.4,81.7 L574.2,91.0 L567.6,99.9 L564.2,105.9" fill="none" stroke="#d6d6d6" stroke-width="0.5" />
<path d="M578.8,74.1 L574.3,70.1 L569.6,65.0 L568.0,61.4 L566.1,56.9 L562.0,51.1" fill="none" stroke="#d6d6d6" stroke-width="0.5" />
<path d="M558.3,59.0 L569.6,65.0" fill="none" stroke="#d6d6d6" stroke-width="0.5" />
<path d="M574.2,91.0 L586.2,93.2 L591.4,93.7" fill="none" stroke="#d6d6d6" stroke-width="0.5" />
<path d="M564.2,105.9 L570.7,105.9 L578.7,107.1 L583.5,104.7" fill="none" stroke="#d6d6d6" stroke-width="0.5" />
<path d="M578.7,107.1 L587.6,111.1" fill="none" stroke="#d6d6d6" stroke-width="0.5" />
<path d="M564.2,105.9 L555.1,100.4 L551.6,98.5 L547.4,96.7 L540.7,95.6 L537.1,92.2 L531.5,89.6" fill="none" stroke="#d6d6d6" stroke-width="0.5" />
<path d="M540.7,95.6 L534.4,97.7" fill="none" stroke="#d6d6d6" stroke-width="0.5" />
<path d="M547.4,96.7 L544.6,86.5" fill="none" stroke="#d6d6d6" stroke-width="0.5" />
<path d="M547.4,96.7 L549.2,90.4" fill="none" stroke="#d6d6d6" stroke-width="0.5" />
<path d="M523.7,115.3 L531.0,115.3 L536.0,115.1 L541.2,114.8 L548.8,114.5 L556.2,112.9 L561.1,112.2 L565.5,111.7 L571.7,113.2" fill="none" stroke="#d6d6d6" stroke-width="0.5" />
<path d="M551.7,109.7 L556.2,112.9" fill="none" stroke="#d6d6d6" stroke-width="0.5" />
<path d="M565.5,111.7 L564.2,105.9" fill="none" stroke="#d6d6d6" stroke-width="0.5" />
<path d="M565.5,111.7 L565.3,118.3 L565.5,128.4 L560.7,129.9 L553.2,132.4 L546.1,134.3" fill="none" stroke="#d6d6d6" stroke-width="0.5" />
<path d="M559.5,118.8 L561.1,112.2" fill="none" stroke="#d6d6d6" stroke-width="0.5" />
<path d="M565.5,128.4 L569.9,134.7 L571.2,143.0 L574.1,147.4 L568.8,150.4 L563.8,153.4 L558.6,156.7 L554.1,158.2 L549.0,158.2" fill="none" stroke="#d6d6d6" stroke-width="0.5" />
<path d="M563.8,153.4 L556.2,149.4" fill="none" stroke="#d6d6d6" stroke-width="0.5" />
<path d="M558.6,156.7 L558.0,163.4 L556.2,167.4" fill="none" stroke="#d6d6d6" stroke-width="0.5" />
<path d="M554.1,158.2 L549.4,163.5" fill="none" stroke="#d6d6d6" stroke-width="0.5" />
<path d="M574.1,147.4 L578.8,143.5" fill="none" stroke="#d6d6d6" stroke-width="0.5" />
<path d="M574.1,147.4 L580.5,153.1 L583.7,160.6 L585.1,164.8 L586.8,168.8 L590.0,174.2 L593.9,181.0 L600.9,184.3" fill="none" stroke="#d6d6d6" stroke-width="0.5" />
<path d="M574.1,147.4 L572.9,155.6 L569.5,163.1 L563.6,172.7" fill="none" stroke="#d6d6d6" stroke-width="0.5" />
<path d="M563.8,153.4 L564.2,158.2" fill="none" stroke="#d6d6d6" stroke-width="0.5" />
<path d="M580.5,153.1 L585.6,150.4 L590.0,146.2" fill="none" stroke="#d6d6d6" stroke-width="0.5" />
<path d="M585.6,150.4 L594.0,150.2 L602.2,150.2 L611.2,152.3 L618.5,156.2" fill="none" stroke="#d6d6d6" stroke-width="0.5" />
<path d="M583.7,160.6 L591.3,161.9 L598.0,160.8" fill="none" stroke="#d6d6d6" stroke-width="0.5" />
<path d="M590.0,174.2 L598.1,172.6" fill="none" stroke="#d6d6d6" stroke-width="0.5" />
<path d="M586.8,168.8 L585.0,179.1 L584.6,185.3 L585.0,189.9" fill="none" stroke="#d6d6d6" stroke-width="0.5" />
<path d="M601.1,57.7 L608.3,55.5 L613.2,54.6 L619.1,53.4 L628.4,43.4 L628.8,37.0" fill="none" stroke="#d6d6d6" stroke-width="0.5" />
<path d="M628.4,43.4 L635.0,43.5" fill="none" stroke="#d6d6d6" stroke-width="0.5" />
<path d="M619.1,53.4 L624.2,55.9 L627.9,57.0" fill="none" stroke="#d6d6d6" stroke-width="0.5" />
<path d="M603.4,61.4 L608.6,62.6 L607.7,66.1" fill="none" stroke="#d6d6d6" stroke-width="0.5" />
<circle cx="600.08" cy="32.84" r="1.45" fill="#2b3990" />
<circle cx="601.66" cy="40.85" r="1.45" fill="#2b3990" />
<circle cx="597.72" cy="44.46" r="1.45" fill="#2b3990" />
<circle cx="598.51" cy="48.33" r="1.45" fill="#2b3990" />
<circle cx="599.43" cy="52.87" r="1.45" fill="#2b3990" />
<circle cx="601.13" cy="57.67" r="1.45" fill="#2b3990" />
<circle cx="603.37" cy="61.41" r="1.45" fill="#2b3990" />
<circle cx="591.41" cy="41.12" r="1.45" fill="#2b3990" />
<circle cx="594.56" cy="63.81" r="1.45" fill="#2b3990" />
<circle cx="589.97" cy="67.95" r="1.45" fill="#2b3990" />
<circle cx="584.45" cy="71.56" r="1.45" fill="#2b3990" />
<circle cx="578.80" cy="74.09" r="1.45" fill="#2b3990" />
<circle cx="576.43" cy="81.70" r="1.45" fill="#2b3990" />
<circle cx="574.20" cy="91.05" r="1.45" fill="#2b3990" />
<circle cx="567.63" cy="99.86" r="1.45" fill="#2b3990" />
<circle cx="564.21" cy="105.86" r="1.45" fill="#2b3990" />
<circle cx="574.33" cy="70.09" r="1.45" fill="#2b3990" />
<circle cx="569.60" cy="65.02" r="1.45" fill="#2b3990" />
<circle cx="568.02" cy="61.41" r="1.45" fill="#2b3990" />
<circle cx="566.05" cy="56.87" r="1.45" fill="#2b3990" />
<circle cx="561.98" cy="51.13" r="1.45" fill="#2b3990" />
<circle cx="558.30" cy="59.01" r="1.45" fill="#2b3990" />
<circle cx="586.16" cy="93.18" r="1.45" fill="#2b3990" />
<circle cx="591.41" cy="93.72" r="1.45" fill="#2b3990" />
<circle cx="570.65" cy="105.86" r="1.45" fill="#2b3990" />
<circle cx="578.67" cy="107.06" r="1.45" fill="#2b3990" />
<circle cx="583.53" cy="104.66" r="1.45" fill="#2b3990" />
<circle cx="587.60" cy="111.07" r="1.45" fill="#2b3990" />
<circle cx="555.15" cy="100.39" r="1.45" fill="#2b3990" />
<circle cx="551.60" cy="98.52" r="1.60" fill="#1d5f7f" />
<circle cx="547.40" cy="96.65" r="2.70" fill="#f04e23" />
<circle cx="540.70" cy="95.58" r="1.60" fill="#1d5f7f" />
<circle cx="537.15" cy="92.25" r="1.45" fill="#2b3990" />
<circle cx="531.50" cy="89.58" r="1.45" fill="#2b3990" />
<circle cx="534.39" cy="97.72" r="1.45" fill="#2b3990" />
<circle cx="544.64" cy="86.51" r="1.45" fill="#2b3990" />
<circle cx="549.24" cy="90.38" r="1.80" fill="#0f9a4f" />
<circle cx="523.75" cy="115.32" r="1.45" fill="#2b3990" />
<circle cx="530.97" cy="115.32" r="1.45" fill="#2b3990" />
<circle cx="535.97" cy="115.05" r="1.45" fill="#2b3990" />
<circle cx="541.22" cy="114.78" r="1.45" fill="#2b3990" />
<circle cx="548.84" cy="114.52" r="1.45" fill="#2b3990" />
<circle cx="556.20" cy="112.92" r="1.60" fill="#1d5f7f" />
<circle cx="561.06" cy="112.25" r="1.45" fill="#2b3990" />
<circle cx="565.53" cy="111.71" r="1.60" fill="#1d5f7f" />
<circle cx="571.70" cy="113.18" r="1.80" fill="#0f9a4f" />
<circle cx="551.73" cy="109.71" r="2.30" fill="#fde21a" />
<circle cx="559.48" cy="118.79" r="2.30" fill="#fcb913" />
<circle cx="565.26" cy="118.25" r="1.45" fill="#2b3990" />
<circle cx="565.53" cy="128.40" r="1.45" fill="#2b3990" />
<circle cx="560.67" cy="129.87" r="1.80" fill="#0f9a4f" />
<circle cx="553.18" cy="132.40" r="1.45" fill="#2b3990" />
<circle cx="546.08" cy="134.27" r="1.45" fill="#2b3990" />
<circle cx="569.86" cy="134.67" r="1.45" fill="#2b3990" />
<circle cx="571.18" cy="142.95" r="1.60" fill="#1d5f7f" />
<circle cx="574.07" cy="147.36" r="3.20" fill="#ea2227" />
<circle cx="568.81" cy="150.43" r="1.45" fill="#2b3990" />
<circle cx="563.82" cy="153.36" r="2.40" fill="#fde21a" />
<circle cx="558.56" cy="156.70" r="2.20" fill="#0f9a4f" />
<circle cx="554.10" cy="158.17" r="1.45" fill="#2b3990" />
<circle cx="548.97" cy="158.17" r="1.45" fill="#2b3990" />
<circle cx="556.20" cy="149.36" r="3.20" fill="#ea2227" />
<circle cx="558.04" cy="163.37" r="1.60" fill="#1d5f7f" />
<circle cx="556.20" cy="167.38" r="1.45" fill="#2b3990" />
<circle cx="549.37" cy="163.51" r="1.45" fill="#2b3990" />
<circle cx="578.80" cy="143.48" r="2.10" fill="#76c043" />
<circle cx="572.89" cy="155.63" r="1.60" fill="#1d5f7f" />
<circle cx="569.47" cy="163.11" r="1.45" fill="#2b3990" />
<circle cx="563.56" cy="172.72" r="1.45" fill="#2b3990" />
<circle cx="564.21" cy="158.17" r="2.20" fill="#0f9a4f" />
<circle cx="580.51" cy="153.10" r="1.45" fill="#2b3990" />
<circle cx="583.66" cy="160.57" r="2.30" fill="#fde21a" />
<circle cx="585.10" cy="164.84" r="1.80" fill="#0f9a4f" />
<circle cx="586.81" cy="168.85" r="2.30" fill="#dde225" />
<circle cx="589.97" cy="174.19" r="2.80" fill="#f04e23" />
<circle cx="593.91" cy="181.00" r="3.10" fill="#ea2227" />
<circle cx="600.87" cy="184.33" r="3.10" fill="#ea2227" />
<circle cx="585.63" cy="150.43" r="1.45" fill="#2b3990" />
<circle cx="589.97" cy="146.15" r="1.45" fill="#2b3990" />
<circle cx="594.04" cy="150.16" r="1.45" fill="#2b3990" />
<circle cx="602.19" cy="150.16" r="1.45" fill="#2b3990" />
<circle cx="611.23" cy="152.31" r="1.45" fill="#2b3990" />
<circle cx="618.45" cy="156.18" r="1.45" fill="#2b3990" />
<circle cx="591.28" cy="161.91" r="1.80" fill="#0f9a4f" />
<circle cx="597.98" cy="160.84" r="1.45" fill="#2b3990" />
<circle cx="598.11" cy="172.59" r="1.45" fill="#2b3990" />
<circle cx="584.97" cy="179.13" r="1.45" fill="#2b3990" />
<circle cx="584.58" cy="185.27" r="1.80" fill="#0f9a4f" />
<circle cx="584.97" cy="189.94" r="1.45" fill="#2b3990" />
<circle cx="608.34" cy="55.54" r="1.45" fill="#2b3990" />
<circle cx="613.20" cy="54.60" r="1.45" fill="#2b3990" />
<circle cx="619.11" cy="53.40" r="1.45" fill="#2b3990" />
<circle cx="628.44" cy="43.39" r="1.45" fill="#2b3990" />
<circle cx="628.83" cy="36.98" r="1.60" fill="#1d5f7f" />
<circle cx="635.01" cy="43.52" r="1.45" fill="#2b3990" />
<circle cx="624.24" cy="55.94" r="1.45" fill="#2b3990" />
<circle cx="627.91" cy="57.01" r="1.60" fill="#1d5f7f" />
<circle cx="608.60" cy="62.61" r="1.45" fill="#2b3990" />
<circle cx="607.68" cy="66.08" r="1.45" fill="#2b3990" />
<defs><linearGradient id="rb" x1="0" y1="0" x2="0" y2="1"><stop offset="0" stop-color="#ee3a2c"/><stop offset="0.12" stop-color="#f0502a"/><stop offset="0.3" stop-color="#f79a1e"/><stop offset="0.45" stop-color="#fde414"/><stop offset="0.58" stop-color="#b8d433"/><stop offset="0.7" stop-color="#2fa54a"/><stop offset="0.85" stop-color="#14796f"/><stop offset="1" stop-color="#2b3990"/></linearGradient></defs>
<rect x="391.00" y="139.00" width="35.10" height="33.90" fill="none" stroke="#000" stroke-width="1.6" />
<rect x="548.20" y="139.00" width="35.30" height="34.00" fill="none" stroke="#000" stroke-width="1.6" />
<rect x="439.60" y="71.20" width="77.50" height="73.40" fill="#fff" stroke="#000" stroke-width="1.5" />
<clipPath id="cl439"><rect x="439.6" y="71.2" width="77.5" height="73.39999999999999"/></clipPath><g clip-path="url(#cl439)">
<line x1="492.15" y1="75.58" x2="497.67" y2="86.75" stroke="#c9c9c9" stroke-width="0.5" />
<line x1="508.97" y1="77.16" x2="497.67" y2="86.75" stroke="#c9c9c9" stroke-width="0.5" />
<line x1="497.67" y1="86.75" x2="487.29" y2="91.75" stroke="#c9c9c9" stroke-width="0.5" />
<line x1="487.29" y1="91.75" x2="475.99" y2="98.05" stroke="#c9c9c9" stroke-width="0.5" />
<line x1="475.99" y1="98.05" x2="459.18" y2="89.38" stroke="#c9c9c9" stroke-width="0.5" />
<line x1="475.99" y1="98.05" x2="464.43" y2="105.41" stroke="#c9c9c9" stroke-width="0.5" />
<line x1="464.43" y1="105.41" x2="455.10" y2="108.17" stroke="#c9c9c9" stroke-width="0.5" />
<line x1="455.10" y1="108.17" x2="443.28" y2="108.56" stroke="#c9c9c9" stroke-width="0.5" />
<line x1="455.10" y1="108.17" x2="444.20" y2="120.25" stroke="#c9c9c9" stroke-width="0.5" />
<line x1="464.43" y1="105.41" x2="463.51" y2="120.25" stroke="#c9c9c9" stroke-width="0.5" />
<line x1="463.51" y1="120.25" x2="459.04" y2="128.00" stroke="#c9c9c9" stroke-width="0.5" />
<line x1="475.99" y1="98.05" x2="476.52" y2="108.43" stroke="#c9c9c9" stroke-width="0.5" />
<line x1="497.67" y1="86.75" x2="513.04" y2="97.13" stroke="#c9c9c9" stroke-width="0.5" />
<line x1="497.67" y1="86.75" x2="495.70" y2="103.04" stroke="#c9c9c9" stroke-width="0.5" />
<line x1="495.70" y1="103.04" x2="488.08" y2="119.20" stroke="#c9c9c9" stroke-width="0.5" />
<line x1="488.08" y1="119.20" x2="475.34" y2="139.83" stroke="#c9c9c9" stroke-width="0.5" />
<line x1="513.04" y1="97.13" x2="519.09" y2="117.88" stroke="#c9c9c9" stroke-width="0.5" />
<circle cx="492.15" cy="75.58" r="2.90" fill="#f6891f" />
<circle cx="508.97" cy="77.16" r="3.20" fill="#ea2227" />
<circle cx="497.67" cy="86.75" r="3.40" fill="#ea2227" />
<circle cx="487.29" cy="91.75" r="3.20" fill="#f04e23" />
<circle cx="459.18" cy="89.38" r="3.70" fill="#ea2227" />
<circle cx="475.99" cy="98.05" r="3.80" fill="#ea2227" />
<circle cx="513.04" cy="97.13" r="3.00" fill="#f6891f" />
<circle cx="495.70" cy="103.04" r="3.00" fill="#f04e23" />
<circle cx="464.43" cy="105.41" r="3.70" fill="#f04e23" />
<circle cx="455.10" cy="108.17" r="3.20" fill="#f6891f" />
<circle cx="443.28" cy="108.56" r="3.20" fill="#ea2227" />
<circle cx="476.52" cy="108.43" r="3.50" fill="#ea2227" />
<circle cx="444.20" cy="120.25" r="3.20" fill="#f04e23" />
<circle cx="463.51" cy="120.25" r="3.50" fill="#ea2227" />
<circle cx="459.04" cy="128.00" r="3.20" fill="#ea2227" />
<circle cx="488.08" cy="119.20" r="2.80" fill="#f04e23" />
<circle cx="475.34" cy="139.83" r="3.20" fill="#16ad4b" />
<circle cx="519.09" cy="117.88" r="2.00" fill="#0f9a4f" />
</g>
<rect x="439.60" y="71.20" width="77.50" height="73.40" fill="none" stroke="#000" stroke-width="1.5" />
<rect x="498.3" y="121.8" width="9.00" height="20.10" fill="url(#rb)"/>
<text x="471.73" y="86.10" font-size="13.36" class="k" textLength="14.87" lengthAdjust="spacingAndGlyphs">63</text>
<text x="489.55" y="121.00" font-size="13.04" class="k" textLength="26.01" lengthAdjust="spacingAndGlyphs">CD8</text>
<line x1="486.60" y1="82.00" x2="494.20" y2="84.90" stroke="#000" stroke-width="1.3" />
<rect x="596.60" y="73.00" width="78.90" height="73.10" fill="#fff" stroke="#000" stroke-width="1.5" />
<clipPath id="cl596"><rect x="596.6" y="73.0" width="78.89999999999998" height="73.1"/></clipPath><g clip-path="url(#cl596)">
<line x1="650.84" y1="76.90" x2="656.36" y2="88.20" stroke="#c9c9c9" stroke-width="0.5" />
<line x1="667.79" y1="78.48" x2="656.36" y2="88.20" stroke="#c9c9c9" stroke-width="0.5" />
<line x1="656.36" y1="88.20" x2="645.85" y2="93.32" stroke="#c9c9c9" stroke-width="0.5" />
<line x1="645.85" y1="93.32" x2="634.42" y2="99.50" stroke="#c9c9c9" stroke-width="0.5" />
<line x1="634.42" y1="99.50" x2="617.47" y2="90.56" stroke="#c9c9c9" stroke-width="0.5" />
<line x1="634.42" y1="99.50" x2="622.99" y2="107.12" stroke="#c9c9c9" stroke-width="0.5" />
<line x1="622.99" y1="107.12" x2="613.53" y2="110.14" stroke="#c9c9c9" stroke-width="0.5" />
<line x1="613.53" y1="110.14" x2="601.57" y2="110.14" stroke="#c9c9c9" stroke-width="0.5" />
<line x1="613.53" y1="110.14" x2="602.62" y2="122.09" stroke="#c9c9c9" stroke-width="0.5" />
<line x1="622.99" y1="107.12" x2="621.93" y2="122.09" stroke="#c9c9c9" stroke-width="0.5" />
<line x1="621.93" y1="122.09" x2="617.47" y2="130.10" stroke="#c9c9c9" stroke-width="0.5" />
<line x1="634.42" y1="99.50" x2="634.81" y2="109.88" stroke="#c9c9c9" stroke-width="0.5" />
<line x1="656.36" y1="88.20" x2="671.47" y2="98.84" stroke="#c9c9c9" stroke-width="0.5" />
<line x1="656.36" y1="88.20" x2="654.26" y2="104.62" stroke="#c9c9c9" stroke-width="0.5" />
<line x1="654.26" y1="104.62" x2="646.64" y2="121.04" stroke="#c9c9c9" stroke-width="0.5" />
<line x1="646.64" y1="121.04" x2="633.89" y2="141.93" stroke="#c9c9c9" stroke-width="0.5" />
<line x1="671.47" y1="98.84" x2="675.80" y2="115.26" stroke="#c9c9c9" stroke-width="0.5" />
<circle cx="650.84" cy="76.90" r="3.30" fill="#f04e23" />
<circle cx="667.79" cy="78.48" r="4.00" fill="#ea2227" />
<circle cx="656.36" cy="88.20" r="6.30" fill="#ea2227" />
<circle cx="645.85" cy="93.32" r="3.30" fill="#ea2227" />
<circle cx="617.47" cy="90.56" r="6.40" fill="#ea2227" />
<circle cx="634.42" cy="99.50" r="4.60" fill="#ea2227" />
<circle cx="671.47" cy="98.84" r="3.00" fill="#fcb913" />
<circle cx="654.26" cy="104.62" r="3.50" fill="#ea2227" />
<circle cx="622.99" cy="107.12" r="4.00" fill="#ea2227" />
<circle cx="613.53" cy="110.14" r="3.20" fill="#f04e23" />
<circle cx="601.57" cy="110.14" r="3.30" fill="#ea2227" />
<circle cx="634.81" cy="109.88" r="4.00" fill="#ea2227" />
<circle cx="602.62" cy="122.09" r="3.30" fill="#f04e23" />
<circle cx="621.93" cy="122.09" r="3.50" fill="#ea2227" />
<circle cx="617.47" cy="130.10" r="3.20" fill="#ea2227" />
<circle cx="646.64" cy="121.04" r="2.90" fill="#ea2227" />
<circle cx="633.89" cy="141.93" r="3.20" fill="#76c043" />
<circle cx="675.80" cy="115.26" r="2.40" fill="#76c043" />
</g>
<rect x="596.60" y="73.00" width="78.90" height="73.10" fill="none" stroke="#000" stroke-width="1.5" />
<rect x="657.4" y="124.2" width="9.50" height="20.00" fill="url(#rb)"/>
<text x="628.21" y="87.00" font-size="13.36" class="k" textLength="15.41" lengthAdjust="spacingAndGlyphs">63</text>
<text x="648.23" y="123.50" font-size="13.04" class="k" textLength="26.85" lengthAdjust="spacingAndGlyphs">CD8</text>
<line x1="643.60" y1="82.90" x2="651.00" y2="85.80" stroke="#000" stroke-width="1.3" />
<rect x="495.5" y="169.4" width="8.6" height="27.3" fill="url(#rb)"/>
<text x="504.28" y="175.00" font-size="12.80" class="k" textLength="32.57" lengthAdjust="spacingAndGlyphs">9,613</text>
<text x="504.64" y="201.00" font-size="12.80" class="k" textLength="7.34" lengthAdjust="spacingAndGlyphs">7</text>
<text x="492.53" y="200.30" font-size="12.94" class="k" textLength="35.99" lengthAdjust="spacingAndGlyphs" transform="rotate(-90 493.20 200.30)">Count</text>
</g>
<g id="pc">
<text x="3.60" y="206.70" font-size="20.4" font-weight="bold" stroke="#000" stroke-width="0.9" textLength="12.49" lengthAdjust="spacingAndGlyphs">c</text>
<circle cx="48.20" cy="199.40" r="3.10" fill="#fff" stroke="#000" stroke-width="1.6" />
<circle cx="48.20" cy="211.80" r="3.85" fill="#000" />
<text x="58.99" y="203.10" font-size="16.43" class="k" textLength="113.67" lengthAdjust="spacingAndGlyphs">Healthy (<tspan font-style="italic">n</tspan> = 57)</text>
<text x="58.68" y="220.80" font-size="16.43" class="k" textLength="115.78" lengthAdjust="spacingAndGlyphs">MCI/AD (<tspan font-style="italic">n</tspan> = 23)</text>
<line x1="71.25" y1="242.60" x2="71.25" y2="379.10" stroke="#000" stroke-width="1.8" />
<line x1="70.35" y1="378.40" x2="160.50" y2="378.40" stroke="#000" stroke-width="1.5" />
<line x1="67.05" y1="378.40" x2="71.25" y2="378.40" stroke="#000" stroke-width="1.4" />
<text x="57.33" y="384.10" font-size="16.98" class="k" textLength="9.32" lengthAdjust="spacingAndGlyphs">0</text>
<line x1="67.05" y1="351.38" x2="71.25" y2="351.38" stroke="#000" stroke-width="1.4" />
<text x="57.33" y="357.08" font-size="16.98" class="k" textLength="9.37" lengthAdjust="spacingAndGlyphs">5</text>
<line x1="67.05" y1="324.36" x2="71.25" y2="324.36" stroke="#000" stroke-width="1.4" />
<text x="48.47" y="330.06" font-size="16.98" class="k" textLength="18.18" lengthAdjust="spacingAndGlyphs">10</text>
<line x1="67.05" y1="297.34" x2="71.25" y2="297.34" stroke="#000" stroke-width="1.4" />
<text x="48.47" y="303.04" font-size="16.98" class="k" textLength="18.22" lengthAdjust="spacingAndGlyphs">15</text>
<line x1="67.05" y1="270.32" x2="71.25" y2="270.32" stroke="#000" stroke-width="1.4" />
<text x="48.90" y="276.02" font-size="16.98" class="k" textLength="17.73" lengthAdjust="spacingAndGlyphs">20</text>
<line x1="67.05" y1="243.30" x2="71.25" y2="243.30" stroke="#000" stroke-width="1.4" />
<text x="48.90" y="249.00" font-size="16.98" class="k" textLength="17.78" lengthAdjust="spacingAndGlyphs">25</text>
<text x="86.21" y="252.70" font-size="16.43" class="k" textLength="70.65" lengthAdjust="spacingAndGlyphs"><tspan font-style="italic">P</tspan> = 0.012</text>
<text x="-15.91" y="308.60" font-size="15.35" class="k" textLength="73.50" lengthAdjust="spacingAndGlyphs" transform="rotate(-90 20.90 308.60)">Cluster 63</text>
<text x="-27.96" y="311.60" font-size="15.35" class="k" textLength="137.48" lengthAdjust="spacingAndGlyphs" transform="rotate(-90 40.80 311.60)">(% of total PBMCs)</text>
<circle cx="81.35" cy="370.00" r="3.30" fill="#000" />
<circle cx="83.39" cy="370.00" r="3.30" fill="#000" />
<circle cx="85.44" cy="370.00" r="3.30" fill="#000" />
<circle cx="87.48" cy="370.00" r="3.30" fill="#000" />
<circle cx="89.53" cy="370.00" r="3.30" fill="#000" />
<circle cx="91.57" cy="370.00" r="3.30" fill="#000" />
<circle cx="93.61" cy="370.00" r="3.30" fill="#000" />
<circle cx="95.66" cy="370.00" r="3.30" fill="#000" />
<circle cx="97.70" cy="370.00" r="3.30" fill="#000" />
<circle cx="99.74" cy="370.00" r="3.30" fill="#000" />
<circle cx="101.79" cy="370.00" r="3.30" fill="#000" />
<circle cx="103.83" cy="370.00" r="3.30" fill="#000" />
<circle cx="79.60" cy="372.63" r="3.30" fill="#000" />
<circle cx="81.64" cy="372.63" r="3.30" fill="#000" />
<circle cx="83.69" cy="372.63" r="3.30" fill="#000" />
<circle cx="85.73" cy="372.63" r="3.30" fill="#000" />
<circle cx="87.77" cy="372.63" r="3.30" fill="#000" />
<circle cx="89.82" cy="372.63" r="3.30" fill="#000" />
<circle cx="91.86" cy="372.63" r="3.30" fill="#000" />
<circle cx="93.91" cy="372.63" r="3.30" fill="#000" />
<circle cx="95.95" cy="372.63" r="3.30" fill="#000" />
<circle cx="97.99" cy="372.63" r="3.30" fill="#000" />
<circle cx="100.04" cy="372.63" r="3.30" fill="#000" />
<circle cx="102.08" cy="372.63" r="3.30" fill="#000" />
<circle cx="104.12" cy="372.63" r="3.30" fill="#000" />
<circle cx="106.17" cy="372.63" r="3.30" fill="#000" />
<circle cx="80.18" cy="375.26" r="3.30" fill="#000" />
<circle cx="82.23" cy="375.26" r="3.30" fill="#000" />
<circle cx="84.27" cy="375.26" r="3.30" fill="#000" />
<circle cx="86.31" cy="375.26" r="3.30" fill="#000" />
<circle cx="88.36" cy="375.26" r="3.30" fill="#000" />
<circle cx="90.40" cy="375.26" r="3.30" fill="#000" />
<circle cx="92.45" cy="375.26" r="3.30" fill="#000" />
<circle cx="94.49" cy="375.26" r="3.30" fill="#000" />
<circle cx="96.53" cy="375.26" r="3.30" fill="#000" />
<circle cx="98.58" cy="375.26" r="3.30" fill="#000" />
<circle cx="100.62" cy="375.26" r="3.30" fill="#000" />
<circle cx="102.66" cy="375.26" r="3.30" fill="#000" />
<circle cx="104.71" cy="375.26" r="3.30" fill="#000" />
<circle cx="83.10" cy="377.45" r="3.30" fill="#000" />
<circle cx="85.15" cy="377.45" r="3.30" fill="#000" />
<circle cx="87.19" cy="377.45" r="3.30" fill="#000" />
<circle cx="89.23" cy="377.45" r="3.30" fill="#000" />
<circle cx="91.28" cy="377.45" r="3.30" fill="#000" />
<circle cx="93.32" cy="377.45" r="3.30" fill="#000" />
<circle cx="95.36" cy="377.45" r="3.30" fill="#000" />
<circle cx="97.41" cy="377.45" r="3.30" fill="#000" />
<circle cx="99.45" cy="377.45" r="3.30" fill="#000" />
<circle cx="101.50" cy="377.45" r="3.30" fill="#000" />
<circle cx="103.54" cy="377.45" r="3.30" fill="#000" />
<circle cx="97.26" cy="300.51" r="2.50" fill="#fff" stroke="#000" stroke-width="1.5" />
<circle cx="89.23" cy="308.54" r="2.50" fill="#fff" stroke="#000" stroke-width="1.5" />
<circle cx="85.15" cy="319.64" r="2.50" fill="#fff" stroke="#000" stroke-width="1.5" />
<circle cx="101.50" cy="319.20" r="2.50" fill="#fff" stroke="#000" stroke-width="1.5" />
<circle cx="93.32" cy="323.87" r="2.50" fill="#fff" stroke="#000" stroke-width="1.5" />
<circle cx="82.66" cy="333.65" r="2.50" fill="#fff" stroke="#000" stroke-width="1.5" />
<circle cx="104.12" cy="335.55" r="2.50" fill="#fff" stroke="#000" stroke-width="1.5" />
<circle cx="87.77" cy="336.86" r="2.50" fill="#fff" stroke="#000" stroke-width="1.5" />
<circle cx="98.72" cy="337.74" r="2.50" fill="#fff" stroke="#000" stroke-width="1.5" />
<circle cx="93.18" cy="341.53" r="2.50" fill="#fff" stroke="#000" stroke-width="1.5" />
<circle cx="89.09" cy="344.45" r="2.50" fill="#fff" stroke="#000" stroke-width="1.5" />
<circle cx="97.26" cy="345.18" r="2.50" fill="#fff" stroke="#000" stroke-width="1.5" />
<circle cx="85.88" cy="348.39" r="2.50" fill="#fff" stroke="#000" stroke-width="1.5" />
<circle cx="101.06" cy="350.15" r="2.50" fill="#fff" stroke="#000" stroke-width="1.5" />
<circle cx="85.00" cy="353.07" r="2.50" fill="#fff" stroke="#000" stroke-width="1.5" />
<circle cx="90.69" cy="352.19" r="2.50" fill="#fff" stroke="#000" stroke-width="1.5" />
<circle cx="95.80" cy="352.63" r="2.50" fill="#fff" stroke="#000" stroke-width="1.5" />
<circle cx="101.79" cy="358.32" r="2.50" fill="#fff" stroke="#000" stroke-width="1.5" />
<circle cx="83.25" cy="365.18" r="2.50" fill="#fff" stroke="#000" stroke-width="1.5" />
<circle cx="103.69" cy="365.18" r="2.50" fill="#fff" stroke="#000" stroke-width="1.5" />
<circle cx="86.90" cy="367.08" r="2.50" fill="#fff" stroke="#000" stroke-width="1.5" />
<circle cx="100.04" cy="367.08" r="2.50" fill="#fff" stroke="#000" stroke-width="1.5" />
<circle cx="86.90" cy="371.75" r="0.55" fill="#fff" />
<circle cx="90.11" cy="376.13" r="0.55" fill="#fff" />
<circle cx="83.69" cy="374.38" r="0.55" fill="#fff" />
<circle cx="88.36" cy="377.59" r="0.55" fill="#fff" />
<circle cx="137.41" cy="319.20" r="3.00" fill="#000" />
<circle cx="137.34" cy="275.40" r="3.00" fill="#000" />
<circle cx="137.26" cy="331.31" r="3.00" fill="#000" />
<circle cx="133.32" cy="333.50" r="3.00" fill="#000" />
<circle cx="129.53" cy="339.05" r="3.00" fill="#000" />
<circle cx="134.78" cy="340.36" r="3.00" fill="#000" />
<circle cx="141.06" cy="338.61" r="3.00" fill="#000" />
<circle cx="145.00" cy="339.20" r="3.00" fill="#000" />
<circle cx="125.88" cy="347.96" r="3.00" fill="#000" />
<circle cx="148.65" cy="346.35" r="3.00" fill="#000" />
<circle cx="133.61" cy="349.85" r="3.00" fill="#000" />
<circle cx="140.91" cy="349.12" r="3.00" fill="#000" />
<circle cx="133.32" cy="356.42" r="3.00" fill="#000" />
<circle cx="141.20" cy="357.59" r="3.00" fill="#000" />
<circle cx="129.53" cy="360.51" r="3.00" fill="#000" />
<circle cx="134.78" cy="361.24" r="3.00" fill="#000" />
<circle cx="145.00" cy="360.95" r="3.00" fill="#000" />
<circle cx="139.74" cy="364.45" r="3.00" fill="#000" />
<circle cx="148.65" cy="367.23" r="3.00" fill="#000" />
<circle cx="126.02" cy="369.56" r="3.00" fill="#000" />
<circle cx="140.91" cy="372.63" r="3.00" fill="#000" />
<circle cx="133.32" cy="374.38" r="3.00" fill="#000" />
<line x1="78.58" y1="361.39" x2="108.07" y2="361.39" stroke="#ee2a24" stroke-width="1.9" />
<line x1="85.73" y1="358.76" x2="100.91" y2="358.76" stroke="#ee2a24" stroke-width="1.9" />
<line x1="85.73" y1="364.16" x2="100.91" y2="364.16" stroke="#ee2a24" stroke-width="1.9" />
<line x1="93.32" y1="358.76" x2="93.32" y2="364.16" stroke="#ee2a24" stroke-width="1.9" />
<line x1="122.66" y1="347.66" x2="151.86" y2="347.66" stroke="#ee2a24" stroke-width="1.9" />
<line x1="129.96" y1="343.43" x2="144.56" y2="343.43" stroke="#ee2a24" stroke-width="1.9" />
<line x1="129.96" y1="352.19" x2="144.56" y2="352.19" stroke="#ee2a24" stroke-width="1.9" />
<line x1="137.26" y1="343.43" x2="137.26" y2="352.19" stroke="#ee2a24" stroke-width="1.9" />
</g>
<g id="pd">
<text x="193.00" y="223.70" font-size="21.4" font-weight="bold" stroke="#000" stroke-width="0.9" textLength="13.98" lengthAdjust="spacingAndGlyphs">d</text>
<text x="265.87" y="220.00" font-size="16.28" class="k" textLength="54.58" lengthAdjust="spacingAndGlyphs">Healthy</text>
<text x="349.84" y="220.00" font-size="16.28" class="k" textLength="57.54" lengthAdjust="spacingAndGlyphs">MCI/AD</text>
<rect x="256.20" y="226.00" width="74.30" height="73.50" fill="#fff" stroke="#9c9c9c" stroke-width="0.7" />
<path d="M256.2,296.50h-2.6M259.20,299.5v2.6M256.2,291.42h-1.7M264.34,299.5v1.7M256.2,288.45h-1.7M267.35,299.5v1.7M256.2,286.34h-1.7M269.48,299.5v1.7M256.2,284.70h-1.7M271.13,299.5v1.7M256.2,283.37h-1.7M272.49,299.5v1.7M256.2,282.24h-1.7M273.63,299.5v1.7M256.2,281.26h-1.7M274.62,299.5v1.7M256.2,280.40h-1.7M275.49,299.5v1.7M256.2,279.62h-2.6M276.27,299.5v2.6M256.2,274.55h-1.7M281.42,299.5v1.7M256.2,271.57h-1.7M284.42,299.5v1.7M256.2,269.47h-1.7M286.56,299.5v1.7M256.2,267.83h-1.7M288.21,299.5v1.7M256.2,266.49h-1.7M289.56,299.5v1.7M256.2,265.36h-1.7M290.71,299.5v1.7M256.2,264.39h-1.7M291.70,299.5v1.7M256.2,263.52h-1.7M292.57,299.5v1.7M256.2,262.75h-2.6M293.35,299.5v2.6M256.2,257.67h-1.7M298.49,299.5v1.7M256.2,254.70h-1.7M301.50,299.5v1.7M256.2,252.59h-1.7M303.63,299.5v1.7M256.2,250.95h-1.7M305.28,299.5v1.7M256.2,249.62h-1.7M306.64,299.5v1.7M256.2,248.49h-1.7M307.78,299.5v1.7M256.2,247.51h-1.7M308.77,299.5v1.7M256.2,246.65h-1.7M309.64,299.5v1.7M256.2,245.88h-2.6M310.43,299.5v2.6M256.2,240.80h-1.7M315.57,299.5v1.7M256.2,237.82h-1.7M318.57,299.5v1.7M256.2,235.72h-1.7M320.71,299.5v1.7M256.2,234.08h-1.7M322.36,299.5v1.7M256.2,232.74h-1.7M323.71,299.5v1.7M256.2,231.61h-1.7M324.86,299.5v1.7M256.2,230.64h-1.7M325.85,299.5v1.7M256.2,229.77h-1.7M326.72,299.5v1.7" stroke="#5a5a5a" stroke-width="0.5" fill="none"/>
<rect x="341.80" y="226.00" width="73.70" height="73.50" fill="#fff" stroke="#9c9c9c" stroke-width="0.7" />
<path d="M341.8,296.50h-2.6M344.80,299.5v2.6M341.8,291.42h-1.7M349.89,299.5v1.7M341.8,288.45h-1.7M352.88,299.5v1.7M341.8,286.34h-1.7M354.99,299.5v1.7M341.8,284.70h-1.7M356.63,299.5v1.7M341.8,283.37h-1.7M357.97,299.5v1.7M341.8,282.24h-1.7M359.10,299.5v1.7M341.8,281.26h-1.7M360.08,299.5v1.7M341.8,280.40h-1.7M360.95,299.5v1.7M341.8,279.62h-2.6M361.73,299.5v2.6M341.8,274.55h-1.7M366.82,299.5v1.7M341.8,271.57h-1.7M369.80,299.5v1.7M341.8,269.47h-1.7M371.91,299.5v1.7M341.8,267.83h-1.7M373.56,299.5v1.7M341.8,266.49h-1.7M374.90,299.5v1.7M341.8,265.36h-1.7M376.03,299.5v1.7M341.8,264.39h-1.7M377.01,299.5v1.7M341.8,263.52h-1.7M377.88,299.5v1.7M341.8,262.75h-2.6M378.65,299.5v2.6M341.8,257.67h-1.7M383.74,299.5v1.7M341.8,254.70h-1.7M386.73,299.5v1.7M341.8,252.59h-1.7M388.84,299.5v1.7M341.8,250.95h-1.7M390.48,299.5v1.7M341.8,249.62h-1.7M391.82,299.5v1.7M341.8,248.49h-1.7M392.95,299.5v1.7M341.8,247.51h-1.7M393.93,299.5v1.7M341.8,246.65h-1.7M394.80,299.5v1.7M341.8,245.88h-2.6M395.57,299.5v2.6M341.8,240.80h-1.7M400.67,299.5v1.7M341.8,237.82h-1.7M403.65,299.5v1.7M341.8,235.72h-1.7M405.76,299.5v1.7M341.8,234.08h-1.7M407.41,299.5v1.7M341.8,232.74h-1.7M408.75,299.5v1.7M341.8,231.61h-1.7M409.88,299.5v1.7M341.8,230.64h-1.7M410.86,299.5v1.7M341.8,229.77h-1.7M411.73,299.5v1.7" stroke="#5a5a5a" stroke-width="0.5" fill="none"/>
<rect x="257.00" y="319.60" width="73.00" height="72.70" fill="#fff" stroke="#9c9c9c" stroke-width="0.7" />
<path d="M257.0,389.30h-2.6M260.00,392.3v2.6M257.0,384.28h-1.7M265.04,392.3v1.7M257.0,381.34h-1.7M267.99,392.3v1.7M257.0,379.26h-1.7M270.08,392.3v1.7M257.0,377.64h-1.7M271.71,392.3v1.7M257.0,376.32h-1.7M273.03,392.3v1.7M257.0,375.21h-1.7M274.16,392.3v1.7M257.0,374.24h-1.7M275.13,392.3v1.7M257.0,373.39h-1.7M275.98,392.3v1.7M257.0,372.62h-2.6M276.75,392.3v2.6M257.0,367.61h-1.7M281.79,392.3v1.7M257.0,364.67h-1.7M284.74,392.3v1.7M257.0,362.59h-1.7M286.83,392.3v1.7M257.0,360.97h-1.7M288.46,392.3v1.7M257.0,359.65h-1.7M289.78,392.3v1.7M257.0,358.53h-1.7M290.91,392.3v1.7M257.0,357.57h-1.7M291.88,392.3v1.7M257.0,356.71h-1.7M292.73,392.3v1.7M257.0,355.95h-2.6M293.50,392.3v2.6M257.0,350.93h-1.7M298.54,392.3v1.7M257.0,347.99h-1.7M301.49,392.3v1.7M257.0,345.91h-1.7M303.58,392.3v1.7M257.0,344.29h-1.7M305.21,392.3v1.7M257.0,342.97h-1.7M306.53,392.3v1.7M257.0,341.86h-1.7M307.66,392.3v1.7M257.0,340.89h-1.7M308.63,392.3v1.7M257.0,340.04h-1.7M309.48,392.3v1.7M257.0,339.28h-2.6M310.25,392.3v2.6M257.0,334.26h-1.7M315.29,392.3v1.7M257.0,331.32h-1.7M318.24,392.3v1.7M257.0,329.24h-1.7M320.33,392.3v1.7M257.0,327.62h-1.7M321.96,392.3v1.7M257.0,326.30h-1.7M323.28,392.3v1.7M257.0,325.18h-1.7M324.41,392.3v1.7M257.0,324.22h-1.7M325.38,392.3v1.7M257.0,323.36h-1.7M326.23,392.3v1.7" stroke="#5a5a5a" stroke-width="0.5" fill="none"/>
<rect x="347.90" y="319.60" width="72.90" height="73.20" fill="#fff" stroke="#9c9c9c" stroke-width="0.7" />
<path d="M347.9,389.80h-2.6M350.90,392.8v2.6M347.9,384.74h-1.7M355.93,392.8v1.7M347.9,381.78h-1.7M358.88,392.8v1.7M347.9,379.69h-1.7M360.97,392.8v1.7M347.9,378.06h-1.7M362.59,392.8v1.7M347.9,376.73h-1.7M363.91,392.8v1.7M347.9,375.60h-1.7M365.03,392.8v1.7M347.9,374.63h-1.7M366.00,392.8v1.7M347.9,373.77h-1.7M366.86,392.8v1.7M347.9,373.00h-2.6M367.62,392.8v2.6M347.9,367.94h-1.7M372.66,392.8v1.7M347.9,364.98h-1.7M375.60,392.8v1.7M347.9,362.89h-1.7M377.69,392.8v1.7M347.9,361.26h-1.7M379.32,392.8v1.7M347.9,359.93h-1.7M380.64,392.8v1.7M347.9,358.80h-1.7M381.76,392.8v1.7M347.9,357.83h-1.7M382.73,392.8v1.7M347.9,356.97h-1.7M383.58,392.8v1.7M347.9,356.20h-2.6M384.35,392.8v2.6M347.9,351.14h-1.7M389.38,392.8v1.7M347.9,348.18h-1.7M392.33,392.8v1.7M347.9,346.09h-1.7M394.42,392.8v1.7M347.9,344.46h-1.7M396.04,392.8v1.7M347.9,343.13h-1.7M397.36,392.8v1.7M347.9,342.00h-1.7M398.48,392.8v1.7M347.9,341.03h-1.7M399.45,392.8v1.7M347.9,340.17h-1.7M400.31,392.8v1.7M347.9,339.40h-2.6M401.07,392.8v2.6M347.9,334.34h-1.7M406.11,392.8v1.7M347.9,331.38h-1.7M409.05,392.8v1.7M347.9,329.29h-1.7M411.14,392.8v1.7M347.9,327.66h-1.7M412.77,392.8v1.7M347.9,326.33h-1.7M414.09,392.8v1.7M347.9,325.20h-1.7M415.21,392.8v1.7M347.9,324.23h-1.7M416.18,392.8v1.7M347.9,323.37h-1.7M417.03,392.8v1.7" stroke="#5a5a5a" stroke-width="0.5" fill="none"/>
<path d="M302.7,262.5h0.60M289.8,248.6h0.60M297.3,267.0h0.60M306.6,255.1h0.60M303.5,249.2h0.60M285.8,255.1h0.60M279.6,255.3h0.60M281.7,254.5h0.60M297.7,246.8h0.60M306.1,258.8h0.60M301.9,248.9h0.60M298.5,247.0h0.60M295.1,264.7h0.60M304.8,262.0h0.60M287.4,250.0h0.60M298.3,268.4h0.60M306.7,253.5h0.60M291.7,264.4h0.60M290.6,266.1h0.60M301.6,244.4h0.60M305.7,245.9h0.60M290.3,264.2h0.60M305.3,254.8h0.60M290.6,247.4h0.60M279.3,256.9h0.60M306.7,252.7h0.60M305.6,259.8h0.60M298.0,246.7h0.60M293.8,263.8h0.60M304.2,262.1h0.60M305.3,261.9h0.60M284.8,264.3h0.60M308.2,248.9h0.60M291.1,264.0h0.60M293.0,263.7h0.60M284.4,255.9h0.60M298.2,241.8h0.60M290.6,265.0h0.60M299.6,245.6h0.60M305.4,253.5h0.60M305.9,249.6h0.60M284.1,254.8h0.60M291.7,246.8h0.60M302.9,247.5h0.60M310.8,258.9h0.60M294.1,266.0h0.60M297.2,246.4h0.60M283.5,259.2h0.60M304.1,263.0h0.60M298.1,247.1h0.60M284.5,256.0h0.60M303.4,261.0h0.60M281.6,252.0h0.60M296.5,242.6h0.60M286.1,249.8h0.60M294.9,241.3h0.60M286.3,260.8h0.60M304.5,252.3h0.60M292.5,246.1h0.60M282.0,255.0h0.60M304.9,259.6h0.60M293.2,246.9h0.60M300.1,263.0h0.60M298.0,267.7h0.60" stroke="#9a9a9a" stroke-width="0.60" fill="none" opacity="0.7"/>
<path d="M295.9,251.8h0.60M296.6,256.1h0.60M295.5,255.2h0.60M296.6,254.8h0.60M299.4,256.1h0.60M295.9,259.0h0.60M295.2,256.5h0.60M293.3,253.1h0.60M299.6,256.3h0.60M294.1,255.6h0.60M292.8,257.3h0.60M298.1,252.8h0.60M296.1,255.4h0.60M292.1,254.1h0.60M299.5,256.1h0.60M294.4,253.7h0.60M296.5,255.6h0.60M295.6,251.9h0.60M294.3,257.0h0.60M297.7,258.8h0.60M292.3,257.0h0.60M291.7,255.3h0.60M296.6,255.6h0.60M299.9,257.0h0.60M295.5,256.1h0.60M296.6,254.6h0.60M292.4,254.2h0.60M292.1,256.8h0.60M296.4,255.0h0.60M293.4,258.3h0.60M298.4,257.0h0.60M298.8,253.7h0.60M293.0,258.9h0.60M296.8,256.3h0.60M291.9,254.0h0.60M299.3,257.4h0.60M295.9,254.8h0.60M294.3,253.7h0.60M299.5,256.4h0.60M298.0,257.4h0.60M299.4,253.3h0.60M296.3,255.7h0.60M300.2,255.1h0.60M294.7,257.1h0.60M298.2,255.1h0.60M294.0,258.9h0.60M299.5,257.4h0.60M299.2,253.0h0.60M295.5,256.5h0.60M295.6,257.4h0.60M293.5,254.9h0.60M296.1,253.7h0.60M298.8,254.6h0.60M299.6,253.6h0.60M297.9,253.9h0.60M296.7,254.8h0.60M294.2,252.7h0.60M292.5,256.7h0.60M295.5,257.3h0.60M295.4,256.6h0.60M293.7,254.8h0.60M293.6,257.6h0.60M298.6,258.1h0.60M295.6,256.1h0.60M291.5,256.0h0.60M297.6,256.1h0.60M299.1,252.7h0.60M297.4,258.8h0.60M295.6,253.9h0.60M298.5,254.8h0.60M298.2,254.9h0.60M299.0,258.2h0.60M299.1,255.6h0.60M294.4,255.9h0.60M297.4,252.7h0.60M292.1,258.1h0.60M291.2,253.7h0.60M295.3,255.5h0.60M292.8,257.8h0.60M300.0,255.6h0.60M294.3,258.3h0.60M295.2,255.8h0.60M292.9,258.6h0.60M292.4,254.7h0.60M293.8,255.8h0.60M294.9,254.7h0.60M296.5,258.7h0.60M298.8,253.0h0.60" stroke="#666" stroke-width="0.60" fill="none" opacity="0.7"/>
<path d="M289.4,255.7h0.60M298.6,251.1h0.60M287.1,258.1h0.60M302.4,256.5h0.60M300.6,253.7h0.60M296.7,260.4h0.60M289.4,257.6h0.60M296.7,260.7h0.60M299.2,250.3h0.60M299.2,258.5h0.60M293.9,248.1h0.60M300.9,253.5h0.60M299.5,249.2h0.60M293.0,261.5h0.60M288.0,255.3h0.60M297.2,250.8h0.60M298.8,260.9h0.60M293.1,248.6h0.60M291.3,259.2h0.60M290.0,254.9h0.60M303.9,257.5h0.60M303.0,254.8h0.60M296.4,249.6h0.60M290.0,253.0h0.60M294.6,261.5h0.60M302.4,250.3h0.60M298.0,250.1h0.60M290.0,253.6h0.60M289.1,255.3h0.60M292.3,259.0h0.60M287.9,253.9h0.60M290.8,252.1h0.60M298.8,261.2h0.60M301.6,259.8h0.60M299.2,260.5h0.60M294.0,250.4h0.60M292.7,260.4h0.60M301.0,256.2h0.60M300.9,261.6h0.60M300.2,261.8h0.60M292.4,250.1h0.60M297.5,250.0h0.60M296.9,262.3h0.60M289.7,259.4h0.60M292.1,261.6h0.60M295.3,250.5h0.60M293.6,250.0h0.60M291.8,258.6h0.60M297.8,262.4h0.60M302.1,259.8h0.60M293.6,260.9h0.60M297.0,259.6h0.60M300.2,253.7h0.60M301.8,250.6h0.60M296.4,263.2h0.60M295.9,249.0h0.60M298.4,251.6h0.60M300.6,250.7h0.60M300.2,260.1h0.60M291.3,261.1h0.60M296.6,250.9h0.60M301.1,251.6h0.60M301.0,253.1h0.60M301.3,255.1h0.60M296.0,263.4h0.60M295.4,261.0h0.60M302.1,259.6h0.60M290.5,252.5h0.60M297.2,262.0h0.60M302.5,254.7h0.60M292.4,249.0h0.60M295.1,261.5h0.60M301.6,255.0h0.60M290.9,249.9h0.60M300.7,253.8h0.60M293.8,259.5h0.60M292.0,260.7h0.60M288.9,252.4h0.60M302.6,258.6h0.60M299.2,260.2h0.60M297.6,251.7h0.60M300.8,259.1h0.60M300.5,248.8h0.60M293.7,248.5h0.60M288.8,253.7h0.60M299.2,251.3h0.60M291.5,258.2h0.60M292.0,251.5h0.60M298.2,251.2h0.60M289.2,259.3h0.60M289.0,254.5h0.60M291.9,251.4h0.60M292.0,248.3h0.60M296.0,261.1h0.60M289.4,258.7h0.60M294.2,262.3h0.60M300.6,262.4h0.60M289.5,260.9h0.60M294.9,249.1h0.60M302.6,253.9h0.60M297.0,261.6h0.60M291.8,248.6h0.60M291.6,260.2h0.60M300.1,262.2h0.60M298.3,249.2h0.60M290.8,249.2h0.60M300.9,254.7h0.60M297.4,250.7h0.60M298.0,259.2h0.60M290.9,252.6h0.60M295.6,263.5h0.60M290.2,250.8h0.60M294.0,261.4h0.60M294.4,261.8h0.60M295.5,262.8h0.60M302.4,254.5h0.60M296.4,249.3h0.60M302.3,260.9h0.60M299.8,259.8h0.60M290.2,255.4h0.60M289.8,257.4h0.60M293.6,260.1h0.60M297.3,248.4h0.60M287.4,255.8h0.60M298.7,250.5h0.60M301.7,255.1h0.60M298.4,251.3h0.60M290.5,251.5h0.60M291.0,258.7h0.60M287.6,251.5h0.60M303.0,250.7h0.60M286.2,255.9h0.60M290.4,250.1h0.60M291.6,251.9h0.60M290.0,250.6h0.60M300.9,248.8h0.60M298.5,249.5h0.60M298.7,250.7h0.60M286.3,255.0h0.60M290.9,257.6h0.60M293.4,251.0h0.60M292.6,249.4h0.60M290.2,254.8h0.60M286.4,254.9h0.60M299.5,261.6h0.60M294.5,262.0h0.60M296.3,261.6h0.60M298.9,252.3h0.60" stroke="#808080" stroke-width="0.60" fill="none" opacity="0.7"/>
<path d="M312.8,254.6h0.72M308.3,266.4h0.72M304.4,262.2h0.72M312.4,262.3h0.72M310.5,266.4h0.72M307.5,266.8h0.72M313.7,260.2h0.72M311.7,264.7h0.72M311.3,265.1h0.72M311.9,253.0h0.72M312.9,258.8h0.72M303.1,257.3h0.72M313.2,261.6h0.72M312.2,254.1h0.72M310.4,265.8h0.72M303.3,264.7h0.72M303.6,265.0h0.72M313.1,255.0h0.72M306.9,268.7h0.72M313.9,261.2h0.72M305.1,254.9h0.72M313.2,261.3h0.72M308.4,268.3h0.72M312.2,266.0h0.72M313.6,259.3h0.72M304.6,253.8h0.72M307.0,267.5h0.72M305.3,252.8h0.72M308.7,250.4h0.72M313.5,258.8h0.72M306.3,252.3h0.72M312.0,265.1h0.72M306.3,250.7h0.72M313.7,262.7h0.72M309.2,251.7h0.72M303.2,254.8h0.72M311.2,252.2h0.72M313.4,261.1h0.72M311.6,250.5h0.72M312.8,263.6h0.72M304.3,256.1h0.72M309.0,267.4h0.72M313.1,253.7h0.72M304.0,257.5h0.72M312.9,259.6h0.72M302.8,262.5h0.72M314.1,259.0h0.72M307.1,268.8h0.72M303.6,260.8h0.72M305.4,250.9h0.72M310.3,265.7h0.72M305.7,265.1h0.72M302.5,260.5h0.72M314.2,257.9h0.72M305.0,265.5h0.72M313.8,260.2h0.72M315.0,260.3h0.72M303.9,262.5h0.72M314.0,259.8h0.72M302.6,257.4h0.72M311.1,252.7h0.72M311.2,251.7h0.72M312.5,255.5h0.72M304.3,254.3h0.72M311.6,252.0h0.72M303.9,258.8h0.72M310.4,250.4h0.72M309.7,267.1h0.72M303.9,260.5h0.72M311.5,265.2h0.72M309.5,265.7h0.72M308.4,267.3h0.72M306.0,253.1h0.72M313.6,257.6h0.72M313.9,261.4h0.72M312.0,265.3h0.72M308.5,268.8h0.72M302.8,255.2h0.72M311.9,264.2h0.72M306.6,251.1h0.72M312.2,253.1h0.72M313.4,252.2h0.72M312.8,251.6h0.72M305.5,251.3h0.72M313.4,259.7h0.72M310.2,268.3h0.72M309.6,250.1h0.72M306.1,266.4h0.72M313.4,256.6h0.72M304.8,252.2h0.72M305.1,254.2h0.72M313.4,261.2h0.72M311.1,253.2h0.72M312.8,252.1h0.72M313.4,259.5h0.72M312.9,254.4h0.72M303.9,260.1h0.72M312.4,262.7h0.72M303.4,256.1h0.72M307.3,265.4h0.72M310.4,250.3h0.72M304.4,266.0h0.72M305.7,253.3h0.72M313.2,263.0h0.72M314.7,261.1h0.72M308.5,266.8h0.72M313.7,261.3h0.72M307.5,250.0h0.72M307.3,251.4h0.72M306.9,265.6h0.72M313.7,260.8h0.72M312.0,264.8h0.72M303.4,256.0h0.72M313.2,255.2h0.72M304.6,256.4h0.72M305.5,251.3h0.72M313.5,258.4h0.72M305.3,265.9h0.72" stroke="#7a5a9c" stroke-width="0.72" fill="none" opacity="0.75"/>
<path d="M309.3,247.8h0.72M314.1,253.1h0.72M299.7,267.8h0.72M312.5,269.3h0.72M299.1,265.3h0.72M307.6,246.3h0.72M307.5,269.5h0.72M302.5,268.8h0.72M301.3,256.8h0.72M300.4,255.0h0.72M316.1,267.6h0.72M305.1,250.4h0.72M316.9,250.0h0.72M314.4,253.3h0.72M314.0,252.7h0.72M307.7,248.6h0.72M314.5,253.6h0.72M315.0,261.4h0.72M301.4,263.2h0.72M313.2,270.2h0.72M314.7,252.0h0.72M314.7,263.0h0.72M302.7,266.8h0.72M315.2,269.2h0.72M316.8,250.8h0.72M313.2,266.9h0.72M310.9,273.4h0.72M302.1,261.2h0.72M316.9,254.6h0.72M311.4,249.0h0.72M316.0,256.8h0.72M313.4,250.4h0.72M301.3,248.0h0.72M316.3,252.8h0.72M302.5,252.4h0.72M307.2,269.1h0.72M309.6,270.2h0.72M317.1,255.6h0.72M303.8,246.6h0.72M313.2,267.3h0.72M316.9,257.1h0.72M314.4,267.4h0.72M305.9,268.9h0.72M310.1,248.9h0.72M301.2,258.4h0.72M305.8,249.2h0.72M317.2,262.5h0.72M313.0,267.1h0.72M311.1,269.8h0.72M303.4,269.7h0.72M308.9,248.0h0.72M314.3,251.3h0.72M300.6,252.5h0.72M299.6,259.1h0.72M315.7,256.8h0.72M315.9,257.1h0.72M304.2,247.7h0.72M313.7,265.4h0.72M306.2,247.4h0.72M299.3,252.0h0.72M312.3,267.8h0.72M304.9,247.1h0.72M305.0,269.0h0.72M305.5,247.9h0.72M301.9,255.5h0.72M315.5,263.0h0.72M316.4,263.6h0.72M314.7,263.1h0.72M313.3,246.7h0.72M307.5,270.8h0.72M314.6,254.8h0.72" stroke="#9080b0" stroke-width="0.72" fill="none" opacity="0.75"/>
<path d="M306.8,257.6h0.72M310.0,259.5h0.72M309.5,261.2h0.72M308.6,259.8h0.72M307.7,261.1h0.72M309.5,256.8h0.72M308.8,258.8h0.72M308.0,260.8h0.72M308.6,256.7h0.72M308.5,261.2h0.72M309.3,259.3h0.72M309.3,259.1h0.72M308.3,259.1h0.72M307.9,256.9h0.72M307.1,259.6h0.72M308.1,255.8h0.72M309.9,258.0h0.72M308.9,260.6h0.72M309.6,260.7h0.72M308.9,258.0h0.72M307.5,261.4h0.72M307.6,261.2h0.72M306.6,259.6h0.72M310.0,257.5h0.72M309.4,259.7h0.72M306.7,259.3h0.72M309.4,255.9h0.72M309.4,260.4h0.72M310.2,258.5h0.72M308.9,255.8h0.72M308.8,261.0h0.72M308.2,261.3h0.72M309.2,259.9h0.72M308.9,258.4h0.72M307.5,261.4h0.72M309.1,255.9h0.72M309.2,259.8h0.72M309.5,259.2h0.72M309.8,257.9h0.72M308.4,258.5h0.72M308.0,261.2h0.72M309.1,259.1h0.72M309.5,260.3h0.72M309.5,259.4h0.72M309.4,261.8h0.72M308.7,260.5h0.72M307.5,258.7h0.72M309.0,260.2h0.72M309.8,260.5h0.72M307.5,259.8h0.72M310.4,259.5h0.72M308.5,261.5h0.72M308.5,256.9h0.72M309.3,261.4h0.72M310.1,258.2h0.72M308.1,260.8h0.72M308.9,258.7h0.72M307.6,261.7h0.72M307.7,259.8h0.72M309.6,260.2h0.72M309.9,259.9h0.72M309.0,256.3h0.72M309.7,260.8h0.72M306.5,259.7h0.72M306.7,260.2h0.72M306.7,260.4h0.72M308.5,255.9h0.72M308.8,261.1h0.72M306.9,260.3h0.72M306.8,257.5h0.72M308.4,259.4h0.72M308.2,261.7h0.72M308.3,261.8h0.72M309.4,259.8h0.72M309.2,260.1h0.72M308.9,258.1h0.72M308.3,261.5h0.72M309.0,257.9h0.72M308.4,255.8h0.72M309.0,258.9h0.72M307.4,257.2h0.72M309.5,256.8h0.72M308.1,261.0h0.72M309.9,259.5h0.72M307.4,260.0h0.72M308.8,261.8h0.72" stroke="#4a2f7c" stroke-width="0.72" fill="none" opacity="0.75"/>
<path d="M310.9,261.8h0.72M312.0,257.2h0.72M309.3,263.4h0.72M311.1,256.4h0.72M309.9,253.3h0.72M310.1,256.2h0.72M306.9,255.5h0.72M305.7,255.7h0.72M305.3,257.1h0.72M305.5,255.1h0.72M306.9,255.3h0.72M311.3,262.9h0.72M307.1,255.3h0.72M309.3,265.1h0.72M306.6,253.5h0.72M310.5,262.4h0.72M310.5,262.0h0.72M306.8,261.4h0.72M309.4,262.5h0.72M307.3,265.3h0.72M310.9,256.6h0.72M306.8,262.3h0.72M306.6,257.3h0.72M306.1,255.4h0.72M306.9,262.3h0.72M310.9,255.6h0.72M310.7,254.9h0.72M310.6,255.7h0.72M309.0,254.7h0.72M311.6,258.7h0.72M310.4,261.6h0.72M309.1,265.3h0.72M308.7,264.2h0.72M305.5,263.2h0.72M307.8,254.9h0.72M311.9,262.0h0.72M305.5,259.5h0.72M305.7,254.2h0.72M306.9,253.1h0.72M306.1,253.9h0.72M307.0,261.6h0.72M305.8,258.8h0.72M311.7,254.4h0.72M309.9,262.7h0.72M310.8,261.1h0.72M310.9,261.5h0.72M312.2,260.6h0.72M307.7,253.0h0.72M305.2,258.9h0.72M312.1,257.6h0.72M309.6,263.0h0.72M309.8,263.9h0.72M310.3,261.4h0.72M309.3,263.1h0.72M305.2,261.3h0.72M307.0,261.9h0.72M310.3,262.8h0.72M306.7,262.0h0.72M305.4,255.5h0.72M311.6,254.3h0.72M310.4,260.8h0.72M304.7,257.0h0.72M305.8,260.6h0.72M305.0,258.6h0.72M305.9,258.8h0.72M308.4,263.4h0.72M305.2,256.8h0.72M309.8,262.9h0.72M306.5,255.2h0.72M308.1,263.7h0.72M309.4,252.6h0.72M311.9,262.4h0.72M311.3,258.0h0.72M305.7,254.8h0.72M305.9,260.5h0.72M307.8,264.7h0.72M305.9,260.3h0.72M305.4,261.7h0.72M311.9,259.8h0.72M305.9,261.0h0.72M311.7,263.5h0.72M310.3,256.4h0.72M308.6,264.0h0.72M312.2,261.7h0.72M309.9,255.7h0.72M305.1,260.8h0.72M308.8,253.2h0.72M306.3,258.5h0.72M310.9,257.6h0.72M307.1,264.6h0.72M307.2,261.7h0.72M309.1,255.3h0.72M304.8,260.6h0.72M306.3,260.6h0.72M307.5,263.5h0.72M310.4,257.0h0.72M304.8,258.6h0.72M306.3,259.9h0.72M311.6,256.8h0.72M311.6,259.9h0.72M309.1,262.7h0.72M306.4,261.0h0.72M311.0,259.3h0.72M305.4,261.0h0.72M311.4,261.7h0.72M309.3,263.5h0.72M310.9,260.0h0.72M305.4,260.9h0.72M308.2,252.3h0.72M310.2,262.6h0.72M306.1,254.8h0.72M305.5,263.5h0.72M305.5,262.4h0.72M306.1,255.3h0.72M311.2,263.7h0.72M311.1,263.5h0.72M304.5,258.4h0.72M304.5,257.2h0.72M308.6,264.1h0.72M311.2,263.2h0.72M306.2,257.6h0.72M311.4,260.4h0.72M306.6,257.7h0.72M307.6,263.6h0.72M307.1,256.0h0.72M305.5,258.9h0.72M309.6,253.3h0.72M306.6,257.5h0.72M310.6,255.1h0.72M308.2,262.6h0.72M306.3,259.7h0.72M310.6,253.2h0.72M308.6,254.6h0.72M311.6,256.0h0.72M307.7,264.8h0.72M309.6,254.9h0.72M310.8,264.2h0.72M307.7,265.1h0.72M306.6,261.0h0.72M311.5,260.5h0.72M310.2,255.9h0.72M305.0,259.5h0.72M305.9,260.1h0.72M310.9,260.7h0.72M311.6,255.9h0.72" stroke="#5a3f8c" stroke-width="0.72" fill="none" opacity="0.75"/>
<path d="M316.0,255.7h0.80M302.2,257.6h0.80M306.7,268.2h0.80M305.4,259.2h0.80M305.3,257.9h0.80M315.6,263.9h0.80M304.0,258.0h0.80M317.4,253.0h0.80M306.8,265.8h0.80M306.9,250.2h0.80M305.6,270.4h0.80M316.1,250.7h0.80M309.3,248.8h0.80M316.1,259.7h0.80M312.3,269.4h0.80M309.6,269.3h0.80M308.5,248.9h0.80M314.3,251.2h0.80M310.7,246.6h0.80M312.9,268.7h0.80M304.1,255.6h0.80M316.4,267.4h0.80M314.4,265.9h0.80M311.3,246.0h0.80M312.8,268.5h0.80M315.7,256.4h0.80M315.3,264.2h0.80M307.3,250.4h0.80M305.1,260.3h0.80M306.9,266.5h0.80M305.4,262.6h0.80M305.1,261.2h0.80M304.9,261.7h0.80M303.8,258.7h0.80M315.5,251.7h0.80M305.0,261.7h0.80M316.2,256.9h0.80" stroke="#4a3a80" stroke-width="0.80" fill="none" opacity="0.75"/>
<path d="M311.5,259.2h0.80M309.4,257.4h0.80M310.0,260.7h0.80M309.9,256.2h0.80M311.9,258.0h0.80M310.2,256.1h0.80M309.9,257.4h0.80M310.6,257.1h0.80M311.1,256.3h0.80M311.9,258.4h0.80M311.4,257.0h0.80M309.3,258.4h0.80M311.1,259.7h0.80M311.9,259.1h0.80M309.7,259.7h0.80M311.8,260.2h0.80M311.0,260.3h0.80M311.4,260.1h0.80M311.0,256.8h0.80M311.5,259.3h0.80M309.9,256.8h0.80M309.4,257.5h0.80M311.4,256.9h0.80M311.4,257.7h0.80M311.1,257.0h0.80M310.2,260.2h0.80M309.3,259.3h0.80M309.5,260.2h0.80M311.5,257.7h0.80M311.8,259.5h0.80M310.8,256.3h0.80M311.2,260.7h0.80M310.1,256.9h0.80M309.4,257.8h0.80M309.8,258.6h0.80M311.4,260.2h0.80M311.8,257.3h0.80M311.0,260.5h0.80M310.0,256.8h0.80M309.5,257.5h0.80M310.0,259.7h0.80M310.3,257.3h0.80M309.5,258.4h0.80M309.4,258.9h0.80M309.4,259.5h0.80M311.2,257.3h0.80M310.9,256.1h0.80M311.5,257.5h0.80M309.9,257.7h0.80M310.8,261.4h0.80M310.2,257.4h0.80M311.7,258.1h0.80M309.5,259.2h0.80M310.2,260.2h0.80M309.5,256.9h0.80M312.0,258.3h0.80M309.2,258.4h0.80M309.7,260.7h0.80M311.1,261.2h0.80M309.4,259.0h0.80M312.0,257.9h0.80M311.8,259.5h0.80M309.7,258.8h0.80M310.9,256.2h0.80M311.7,259.0h0.80M311.7,258.1h0.80M309.6,258.2h0.80M310.1,260.2h0.80" stroke="#f47b20" stroke-width="0.80" fill="none" opacity="0.75"/>
<path d="M312.5,252.6h0.80M313.8,253.8h0.80M310.9,251.0h0.80M306.3,258.6h0.80M307.8,253.9h0.80M311.0,251.6h0.80M313.8,254.4h0.80M307.7,253.2h0.80M314.0,261.9h0.80M314.5,262.7h0.80M308.4,252.3h0.80M314.6,256.4h0.80M314.6,255.2h0.80M314.3,256.4h0.80M314.6,258.4h0.80M308.1,252.2h0.80M314.0,263.3h0.80M312.1,265.8h0.80M306.2,259.3h0.80M308.5,252.6h0.80M314.0,262.1h0.80M312.4,265.0h0.80M308.8,251.9h0.80M308.1,252.5h0.80M313.8,263.7h0.80M307.1,263.3h0.80M310.4,251.4h0.80M307.9,263.9h0.80M306.2,257.4h0.80M308.5,264.9h0.80M308.8,266.1h0.80M315.0,258.0h0.80M313.9,263.5h0.80M307.3,263.2h0.80M307.9,253.6h0.80M314.4,260.8h0.80M312.5,251.3h0.80M311.7,266.4h0.80M306.4,257.0h0.80M309.6,251.9h0.80M313.8,263.3h0.80M307.9,252.7h0.80M308.2,265.5h0.80M314.8,256.9h0.80M310.7,266.2h0.80M311.3,265.6h0.80M314.7,256.3h0.80M309.2,266.4h0.80M307.7,264.8h0.80M307.7,253.7h0.80M307.6,254.3h0.80M312.5,265.9h0.80M309.2,266.2h0.80M310.8,266.9h0.80M310.8,266.4h0.80M314.5,254.8h0.80M307.6,253.6h0.80M314.1,262.4h0.80M307.1,263.6h0.80M307.9,252.8h0.80M307.9,252.0h0.80M313.8,263.1h0.80M313.1,253.1h0.80M313.1,263.9h0.80M307.9,265.3h0.80" stroke="#7a2f7c" stroke-width="0.80" fill="none" opacity="0.75"/>
<path d="M309.6,255.4h0.80M308.9,259.8h0.80M308.6,259.4h0.80M311.0,262.4h0.80M312.1,256.7h0.80M312.3,256.6h0.80M310.0,261.3h0.80M311.9,257.1h0.80M309.5,255.8h0.80M311.6,256.0h0.80M312.7,259.4h0.80M312.4,259.0h0.80M312.7,259.5h0.80M312.2,261.1h0.80M309.0,259.1h0.80M309.5,255.4h0.80M312.3,257.8h0.80M310.2,255.4h0.80M310.3,255.5h0.80M310.8,261.6h0.80M311.3,254.7h0.80M309.1,256.3h0.80M312.8,258.2h0.80M312.2,260.8h0.80M312.3,260.2h0.80M311.1,255.4h0.80M310.1,261.6h0.80M308.8,258.8h0.80M310.1,261.6h0.80M310.2,255.4h0.80M312.6,257.7h0.80M310.8,255.7h0.80M309.0,259.9h0.80M309.7,261.5h0.80M308.7,259.4h0.80M312.8,257.8h0.80M311.5,255.3h0.80M310.0,261.5h0.80M309.0,259.4h0.80M309.0,261.4h0.80M308.8,259.9h0.80M312.4,257.0h0.80M312.0,260.5h0.80M309.1,261.5h0.80M311.1,255.6h0.80M309.5,255.0h0.80M312.7,257.5h0.80M309.3,261.9h0.80M309.0,257.8h0.80M311.8,261.6h0.80M311.6,260.9h0.80M310.6,262.5h0.80M310.6,261.8h0.80M309.0,256.1h0.80M312.3,260.3h0.80M312.3,261.1h0.80M311.8,260.5h0.80M312.1,259.6h0.80M309.5,256.5h0.80M309.2,261.1h0.80M308.7,259.2h0.80M311.0,261.3h0.80M308.7,259.4h0.80M310.0,255.3h0.80M310.1,255.3h0.80M312.0,257.0h0.80M312.0,257.3h0.80M308.6,259.7h0.80M308.9,259.2h0.80M308.8,257.0h0.80M311.6,256.3h0.80M310.0,261.3h0.80M311.6,255.5h0.80M311.2,262.1h0.80M309.9,261.6h0.80M310.3,254.7h0.80M311.7,261.6h0.80M310.8,261.6h0.80M311.0,261.6h0.80M311.9,261.5h0.80M309.3,261.7h0.80M309.7,255.4h0.80M308.7,258.6h0.80M308.4,259.6h0.80M312.1,261.5h0.80M309.0,257.2h0.80M309.0,260.2h0.80M309.9,254.7h0.80M311.2,254.8h0.80M312.6,257.2h0.80M309.1,257.2h0.80M308.8,259.4h0.80M310.3,255.6h0.80M309.1,257.0h0.80M311.7,260.8h0.80M311.2,255.2h0.80M309.1,259.2h0.80M312.6,259.6h0.80M309.0,256.0h0.80M308.7,259.0h0.80M311.7,261.6h0.80M310.9,255.5h0.80" stroke="#ea5a2a" stroke-width="0.80" fill="none" opacity="0.75"/>
<path d="M308.1,255.0h0.80M310.7,251.8h0.80M314.1,256.8h0.80M308.8,253.9h0.80M312.2,252.3h0.80M307.4,261.8h0.80M312.2,264.3h0.80M314.3,259.7h0.80M312.0,264.6h0.80M312.9,253.5h0.80M313.3,262.1h0.80M310.6,264.4h0.80M309.4,264.3h0.80M314.2,257.0h0.80M314.1,259.4h0.80M312.5,253.2h0.80M311.4,264.1h0.80M311.7,263.8h0.80M307.5,261.4h0.80M313.3,255.8h0.80M308.9,252.9h0.80M310.5,252.3h0.80M311.1,264.5h0.80M307.8,262.3h0.80M313.8,257.7h0.80M310.2,252.8h0.80M310.5,252.9h0.80M312.7,263.1h0.80M307.2,259.2h0.80M309.4,264.4h0.80M311.6,252.8h0.80M307.5,260.8h0.80M311.9,264.6h0.80M311.8,252.9h0.80M309.8,264.4h0.80M309.9,264.6h0.80M307.4,259.6h0.80M308.1,255.3h0.80M313.9,257.5h0.80M308.3,262.7h0.80M311.1,265.2h0.80M309.5,252.6h0.80M307.7,255.6h0.80M311.1,252.1h0.80M312.1,263.7h0.80M308.1,254.4h0.80M313.2,254.3h0.80M312.4,263.4h0.80M311.6,265.0h0.80M312.8,254.5h0.80M313.8,261.0h0.80M312.7,263.2h0.80M311.2,253.0h0.80M307.5,257.2h0.80M313.5,261.9h0.80M309.3,264.5h0.80M313.4,255.9h0.80M314.0,258.9h0.80M314.2,258.6h0.80M307.5,257.1h0.80M313.6,260.2h0.80M313.6,257.7h0.80M311.6,252.7h0.80M312.2,263.5h0.80M314.2,259.6h0.80M313.8,257.7h0.80M307.4,255.9h0.80M310.7,265.4h0.80M307.3,260.1h0.80M310.5,252.3h0.80M308.0,255.1h0.80M312.7,263.7h0.80M307.9,262.1h0.80M309.0,253.0h0.80M312.9,254.3h0.80M307.2,255.7h0.80M307.6,258.5h0.80M312.6,254.3h0.80M311.7,264.9h0.80M309.6,263.9h0.80M312.8,262.7h0.80M311.0,264.5h0.80M314.2,256.7h0.80M308.2,253.4h0.80M314.0,257.8h0.80M313.6,260.9h0.80M313.3,256.2h0.80" stroke="#a8305e" stroke-width="0.80" fill="none" opacity="0.75"/>
<path d="M308.5,260.4h0.80M313.3,256.9h0.80M307.7,257.7h0.80M307.9,259.9h0.80M312.7,255.8h0.80M310.2,253.7h0.80M307.8,258.5h0.80M312.8,261.8h0.80M313.1,259.5h0.80M312.6,261.4h0.80M308.6,256.4h0.80M308.7,255.8h0.80M313.5,259.2h0.80M310.9,263.2h0.80M308.1,261.0h0.80M308.1,258.0h0.80M308.1,260.7h0.80M308.2,261.2h0.80M313.1,259.1h0.80M308.4,261.2h0.80M308.6,261.6h0.80M310.7,254.3h0.80M310.2,253.6h0.80M309.0,262.3h0.80M308.0,257.8h0.80M312.0,262.2h0.80M308.0,260.6h0.80M312.8,262.1h0.80M312.9,261.5h0.80M312.6,255.7h0.80M309.9,254.4h0.80M311.8,263.3h0.80M308.3,259.1h0.80M309.9,253.9h0.80M313.2,259.0h0.80M308.2,256.7h0.80M311.1,254.3h0.80M311.8,262.2h0.80M313.5,259.0h0.80M308.4,257.6h0.80M307.8,259.1h0.80M309.3,255.1h0.80M309.1,255.4h0.80M313.0,256.3h0.80M310.8,254.0h0.80M311.7,254.9h0.80M310.6,263.1h0.80M312.0,254.9h0.80M308.8,255.8h0.80M312.9,258.5h0.80M308.3,259.8h0.80M310.7,263.5h0.80M311.8,253.9h0.80M312.3,262.5h0.80M310.0,253.6h0.80M308.4,260.5h0.80M311.7,253.5h0.80M313.5,259.6h0.80M309.8,253.9h0.80M308.7,254.5h0.80M313.0,255.4h0.80M308.6,260.9h0.80M310.1,253.9h0.80M309.2,263.2h0.80M308.4,261.9h0.80M311.2,254.0h0.80M311.5,263.2h0.80M311.5,263.1h0.80M308.4,260.2h0.80M309.0,254.6h0.80M309.8,253.6h0.80M308.7,261.5h0.80M312.9,257.8h0.80M308.4,259.3h0.80M310.0,254.4h0.80M307.8,258.3h0.80M313.0,261.9h0.80M312.8,255.5h0.80M308.4,260.4h0.80M312.4,255.9h0.80M312.9,258.8h0.80M307.8,258.0h0.80M312.3,261.8h0.80M308.1,258.1h0.80M308.2,260.3h0.80M313.5,257.7h0.80M307.9,256.8h0.80M310.7,254.1h0.80M312.8,257.7h0.80M309.2,255.0h0.80M311.4,254.5h0.80M313.1,255.7h0.80M308.7,256.0h0.80M312.8,256.3h0.80M313.2,259.6h0.80M309.3,262.9h0.80M308.4,261.3h0.80M311.6,253.7h0.80M311.2,262.9h0.80M311.6,263.7h0.80" stroke="#d03a40" stroke-width="0.80" fill="none" opacity="0.75"/>
<path d="M311.1,258.8h0.80M310.6,259.5h0.80M310.1,259.4h0.80M311.2,258.6h0.80M309.9,257.9h0.80M310.4,257.7h0.80M310.1,259.0h0.80M310.8,258.7h0.80M310.1,258.6h0.80M311.0,259.3h0.80M309.9,258.4h0.80M310.7,258.1h0.80M310.1,257.9h0.80M310.8,257.9h0.80M310.7,259.5h0.80M311.1,258.4h0.80M311.1,257.9h0.80M310.2,257.9h0.80M310.1,259.3h0.80M311.0,259.1h0.80M310.4,257.2h0.80M310.6,258.4h0.80M311.0,258.7h0.80" stroke="#f9a825" stroke-width="0.80" fill="none" opacity="0.75"/>
<path d="M307.1,264.8h0.80M310.1,249.3h0.80M307.7,265.7h0.80M305.9,254.6h0.80M311.3,267.3h0.80M311.8,267.2h0.80M311.8,267.7h0.80M305.4,257.4h0.80M306.7,253.6h0.80M310.9,250.2h0.80M309.5,249.9h0.80M314.6,253.6h0.80M306.2,261.7h0.80M306.2,257.0h0.80M314.7,252.6h0.80M308.0,266.0h0.80M305.8,259.9h0.80M314.7,254.2h0.80M308.4,250.0h0.80M315.3,261.4h0.80M312.2,267.8h0.80M308.7,250.6h0.80M313.7,251.4h0.80M315.5,257.3h0.80M315.2,259.3h0.80M306.3,253.6h0.80M312.2,249.5h0.80M306.4,264.1h0.80M305.7,258.3h0.80M311.6,249.6h0.80M315.3,259.2h0.80M312.2,250.3h0.80M315.4,260.1h0.80M313.5,266.6h0.80M305.4,258.3h0.80M312.7,250.3h0.80M306.3,255.0h0.80" stroke="#4f2f7c" stroke-width="0.80" fill="none" opacity="0.75"/>
<path d="M380.7,256.3h0.60M377.7,255.6h0.60M381.8,256.0h0.60M382.4,251.8h0.60M376.7,253.4h0.60M377.9,253.9h0.60M381.2,251.9h0.60M382.8,251.9h0.60M377.4,254.6h0.60M380.1,254.2h0.60M384.0,254.5h0.60M379.8,256.1h0.60M381.0,255.5h0.60M383.9,254.7h0.60M379.0,250.4h0.60M381.7,255.0h0.60M377.9,253.6h0.60M382.8,252.9h0.60M379.6,251.9h0.60M383.0,251.6h0.60M383.9,254.8h0.60M380.6,254.0h0.60M381.4,253.0h0.60M382.6,251.4h0.60M382.1,253.8h0.60M381.7,251.3h0.60M383.1,252.9h0.60M380.9,251.3h0.60M382.0,256.6h0.60M380.3,252.9h0.60M378.1,253.7h0.60M377.4,254.7h0.60M378.8,250.8h0.60M383.4,255.2h0.60M381.9,250.0h0.60M378.6,251.7h0.60M381.7,253.7h0.60M383.9,252.5h0.60M379.7,254.0h0.60M378.0,251.1h0.60M377.0,253.0h0.60M381.8,254.4h0.60M379.3,256.3h0.60M377.0,253.4h0.60M383.8,255.0h0.60M382.5,256.4h0.60M379.2,252.5h0.60M381.2,255.7h0.60M379.5,250.7h0.60M380.2,253.5h0.60M379.7,252.7h0.60M380.3,251.9h0.60M377.2,254.0h0.60M379.3,252.5h0.60M377.1,254.9h0.60M381.8,255.8h0.60M377.5,253.5h0.60M384.1,253.3h0.60M384.2,253.3h0.60M382.5,253.2h0.60M383.9,254.3h0.60M380.8,254.9h0.60M378.8,253.5h0.60M377.9,255.6h0.60M381.5,254.6h0.60M377.9,255.0h0.60M380.3,252.2h0.60M381.6,254.9h0.60M378.1,250.8h0.60M377.5,254.0h0.60M383.8,253.2h0.60M382.2,251.8h0.60M380.3,255.6h0.60M381.4,253.5h0.60M379.7,251.5h0.60M377.5,254.8h0.60M377.9,250.9h0.60M381.7,255.9h0.60M382.1,253.4h0.60M379.8,256.0h0.60M381.2,250.9h0.60M381.0,253.7h0.60M378.5,255.1h0.60M380.8,257.3h0.60M377.7,250.8h0.60M378.2,250.5h0.60M381.0,250.1h0.60M382.5,254.3h0.60M381.1,251.4h0.60M377.7,251.1h0.60M378.5,251.2h0.60M380.5,256.2h0.60M378.8,255.0h0.60M383.1,255.6h0.60M381.8,250.2h0.60M378.3,252.9h0.60M379.6,255.8h0.60M377.9,254.1h0.60M381.1,253.1h0.60M379.5,249.7h0.60M379.7,254.8h0.60M383.1,256.2h0.60M380.3,256.4h0.60M383.0,252.9h0.60M380.0,252.0h0.60M379.6,251.7h0.60M381.2,252.1h0.60M381.9,254.9h0.60M378.1,255.5h0.60M381.3,252.0h0.60M381.8,252.8h0.60M383.8,251.9h0.60M377.8,251.4h0.60M382.8,252.7h0.60M381.5,254.6h0.60M381.6,252.2h0.60M381.6,255.5h0.60M383.2,255.3h0.60M383.1,250.9h0.60M379.3,251.8h0.60M381.0,251.3h0.60M376.9,254.7h0.60M377.2,252.2h0.60M381.5,250.0h0.60M383.0,252.9h0.60M381.9,257.1h0.60M383.9,254.0h0.60M382.7,253.3h0.60M377.3,255.1h0.60M381.0,250.4h0.60M377.9,255.5h0.60M381.9,250.3h0.60M381.0,250.4h0.60M379.0,256.3h0.60M380.2,256.7h0.60M383.5,253.7h0.60" stroke="#2a2a2a" stroke-width="0.60" fill="none" opacity="0.75"/>
<path d="M386.1,256.0h0.60M380.9,249.3h0.60M375.8,252.4h0.60M381.7,249.8h0.60M375.7,252.0h0.60M374.3,253.2h0.60M375.3,249.8h0.60M383.2,257.8h0.60M379.1,260.8h0.60M375.1,254.5h0.60M384.5,253.4h0.60M377.1,255.6h0.60M377.3,249.9h0.60M377.2,260.4h0.60M384.5,255.1h0.60M380.9,258.9h0.60M383.4,259.5h0.60M385.4,254.1h0.60M379.4,257.3h0.60M381.7,247.9h0.60M386.8,252.8h0.60M387.2,255.3h0.60M385.8,258.6h0.60M381.4,247.4h0.60M387.3,253.0h0.60M380.8,259.7h0.60M386.6,254.9h0.60M383.9,247.3h0.60M385.0,254.4h0.60M380.7,257.6h0.60M387.5,250.1h0.60M386.6,253.1h0.60M383.4,246.7h0.60M375.4,247.7h0.60M386.0,248.2h0.60M383.4,250.7h0.60M378.0,248.8h0.60M373.3,254.8h0.60M374.7,249.6h0.60M384.2,257.9h0.60M381.3,246.2h0.60M374.8,251.9h0.60M381.7,248.5h0.60M381.2,260.4h0.60M385.9,248.8h0.60M383.4,250.8h0.60M375.0,253.7h0.60M377.6,260.5h0.60M381.3,247.9h0.60M385.2,250.2h0.60M375.5,250.9h0.60M378.1,258.0h0.60M374.4,250.0h0.60M378.9,257.5h0.60M375.6,257.1h0.60M382.5,249.0h0.60M383.5,260.3h0.60M376.4,250.3h0.60M384.4,256.0h0.60M383.1,257.1h0.60M377.3,246.7h0.60M385.0,252.3h0.60M379.2,246.0h0.60M384.4,247.8h0.60M383.8,250.2h0.60M384.0,249.4h0.60M375.7,257.6h0.60M381.4,261.1h0.60M384.9,250.8h0.60M377.4,250.1h0.60M376.6,249.6h0.60M374.7,249.0h0.60M386.1,253.1h0.60M373.0,253.6h0.60M376.8,250.9h0.60M378.7,259.2h0.60M384.9,251.5h0.60M380.7,247.4h0.60M380.2,260.7h0.60M385.1,254.4h0.60M376.9,259.1h0.60M378.3,260.9h0.60M382.2,257.2h0.60M385.7,254.7h0.60M376.0,249.9h0.60M383.7,255.9h0.60M384.9,258.7h0.60M373.3,251.4h0.60M381.3,257.8h0.60M377.0,251.7h0.60M376.6,249.6h0.60M384.2,252.2h0.60M375.7,258.2h0.60M376.5,258.6h0.60M378.3,260.9h0.60M385.9,249.3h0.60M387.7,252.3h0.60M382.5,258.0h0.60M375.7,255.6h0.60M384.8,251.7h0.60M376.7,259.9h0.60M375.0,251.9h0.60M383.1,250.5h0.60M374.5,248.9h0.60M382.2,260.1h0.60M379.0,259.6h0.60M387.9,253.6h0.60M386.3,256.3h0.60M386.0,256.5h0.60M384.7,250.9h0.60M382.2,249.8h0.60M385.5,253.6h0.60M374.2,252.8h0.60M372.9,253.0h0.60M378.0,258.4h0.60M374.4,251.7h0.60M378.6,258.8h0.60M380.9,246.2h0.60M376.1,252.5h0.60M376.9,251.8h0.60M375.3,255.1h0.60M378.8,258.4h0.60M378.9,258.5h0.60M382.3,260.2h0.60M379.0,259.1h0.60M377.8,249.0h0.60M376.5,252.0h0.60M377.0,256.3h0.60M386.9,253.2h0.60M379.9,245.9h0.60M385.9,252.6h0.60M386.2,253.5h0.60M377.4,256.2h0.60M385.4,254.3h0.60M385.2,258.2h0.60M384.4,250.0h0.60M379.3,258.8h0.60M376.7,258.5h0.60M381.1,246.8h0.60M380.2,248.6h0.60M384.1,257.9h0.60M376.4,259.3h0.60M378.3,249.5h0.60M384.0,249.8h0.60M376.2,251.3h0.60M377.7,250.2h0.60M384.4,253.6h0.60M381.7,249.4h0.60M387.4,254.1h0.60M385.2,250.7h0.60M384.0,249.4h0.60M377.4,256.2h0.60M380.6,260.5h0.60M378.7,247.4h0.60M383.7,259.3h0.60M385.3,248.0h0.60M384.0,249.0h0.60M376.4,251.7h0.60M377.5,249.8h0.60M386.5,253.8h0.60M374.7,258.3h0.60M375.7,252.6h0.60M376.4,251.2h0.60M384.1,259.5h0.60M384.6,249.8h0.60M373.3,255.1h0.60M375.7,258.9h0.60M383.3,247.6h0.60M382.9,247.0h0.60M373.6,253.3h0.60M375.2,258.8h0.60M384.4,259.5h0.60M383.2,258.8h0.60M382.8,258.3h0.60M376.3,249.2h0.60M383.8,259.4h0.60M378.1,249.0h0.60M379.6,259.9h0.60M383.5,251.0h0.60M375.9,253.7h0.60M379.7,247.3h0.60M376.6,257.5h0.60M386.3,250.6h0.60M378.5,249.1h0.60M386.6,253.6h0.60M384.5,258.1h0.60M377.4,250.0h0.60M385.9,254.3h0.60M380.3,259.4h0.60M376.3,255.6h0.60M384.7,257.7h0.60M381.8,246.3h0.60M375.6,253.0h0.60M377.7,257.4h0.60M376.1,248.7h0.60M374.9,258.3h0.60M380.7,248.1h0.60M378.1,257.0h0.60M374.7,256.6h0.60M376.4,247.7h0.60M375.3,250.3h0.60M384.0,250.5h0.60M384.3,252.1h0.60M386.1,257.7h0.60M383.0,257.4h0.60M375.9,256.9h0.60M373.8,253.1h0.60M383.4,258.2h0.60M376.8,257.8h0.60M373.3,250.8h0.60M374.2,254.9h0.60M375.2,249.1h0.60M385.6,259.1h0.60M384.6,259.8h0.60M375.5,253.2h0.60M380.0,249.5h0.60M378.3,248.5h0.60M376.2,248.3h0.60M383.5,248.7h0.60M387.4,256.3h0.60M387.4,250.2h0.60M374.4,257.1h0.60M372.8,254.0h0.60M375.2,250.6h0.60M381.8,259.6h0.60M380.0,248.8h0.60M386.6,256.7h0.60M385.3,259.7h0.60M381.1,257.8h0.60M380.1,258.5h0.60M382.1,245.9h0.60M375.3,257.6h0.60M386.4,256.3h0.60M378.9,258.9h0.60M383.0,260.0h0.60M375.6,248.0h0.60M379.3,248.5h0.60M383.8,259.4h0.60M376.2,251.3h0.60M381.9,248.3h0.60M380.9,258.1h0.60M382.3,258.4h0.60M384.7,255.4h0.60M385.3,254.4h0.60M376.8,249.3h0.60M384.7,252.9h0.60M375.5,255.7h0.60M384.1,247.0h0.60M377.2,250.9h0.60M375.6,259.3h0.60M381.6,257.7h0.60M385.4,256.1h0.60M382.6,249.5h0.60" stroke="#4a4a4a" stroke-width="0.60" fill="none" opacity="0.75"/>
<path d="M389.9,248.2h0.60M385.7,243.9h0.60M377.4,261.3h0.60M373.5,248.0h0.60M387.1,249.3h0.60M389.1,245.7h0.60M388.6,255.9h0.60M374.4,261.3h0.60M381.3,245.2h0.60M389.4,256.0h0.60M390.6,251.3h0.60M372.5,245.9h0.60M387.6,248.4h0.60M383.0,243.9h0.60M376.0,261.0h0.60M383.1,245.3h0.60M375.4,246.0h0.60M389.2,251.8h0.60M384.4,243.7h0.60M388.5,247.0h0.60M385.9,247.3h0.60M391.9,254.3h0.60M386.8,259.0h0.60M376.8,264.3h0.60M371.0,258.5h0.60M371.0,254.3h0.60M380.8,265.1h0.60M374.1,261.5h0.60M388.9,252.7h0.60M376.8,246.1h0.60M382.4,245.5h0.60M384.2,261.4h0.60M391.2,250.0h0.60M383.9,243.2h0.60M387.0,259.3h0.60M376.0,244.6h0.60M372.1,245.9h0.60M373.8,258.0h0.60M388.0,247.9h0.60M376.6,261.0h0.60M377.6,245.7h0.60M388.6,247.0h0.60M386.0,262.6h0.60M377.6,244.2h0.60M387.4,246.9h0.60M371.9,250.1h0.60M373.5,259.2h0.60M387.0,244.4h0.60M371.0,254.9h0.60M384.9,263.8h0.60M389.9,253.3h0.60M372.0,261.5h0.60M384.5,246.6h0.60M387.0,258.7h0.60M386.0,246.6h0.60M375.4,245.7h0.60M388.8,258.1h0.60M391.6,252.0h0.60M385.2,246.5h0.60M380.4,242.5h0.60M377.7,262.3h0.60M382.8,244.4h0.60M372.5,245.2h0.60M376.9,261.0h0.60M387.3,261.0h0.60M380.9,265.0h0.60M390.8,258.8h0.60M384.6,262.1h0.60M390.6,255.2h0.60M389.2,250.8h0.60M388.2,248.2h0.60M374.8,243.4h0.60M374.1,261.0h0.60M385.8,244.9h0.60M374.3,260.6h0.60M384.6,264.0h0.60M377.2,262.5h0.60M382.5,244.0h0.60M384.0,261.0h0.60M373.9,248.7h0.60M370.6,257.7h0.60M375.4,260.9h0.60M386.5,248.1h0.60M378.5,245.7h0.60M391.0,257.0h0.60M390.3,249.7h0.60M378.6,262.5h0.60M387.5,244.3h0.60M387.7,258.2h0.60M376.3,246.1h0.60M388.6,259.7h0.60M379.1,261.4h0.60M386.8,259.3h0.60M386.2,262.1h0.60M371.8,254.5h0.60M372.9,251.3h0.60M389.3,251.1h0.60M387.5,245.4h0.60M375.1,263.5h0.60M389.3,253.6h0.60M371.4,257.0h0.60M375.2,260.9h0.60M381.0,245.7h0.60M371.6,257.5h0.60M379.7,243.4h0.60M385.1,245.2h0.60M371.7,257.3h0.60M386.2,248.1h0.60M374.3,247.0h0.60M370.4,259.2h0.60M389.8,254.2h0.60M379.6,263.0h0.60M372.4,250.0h0.60M390.7,251.9h0.60M389.4,249.2h0.60M380.9,243.0h0.60M388.5,247.7h0.60M391.1,256.6h0.60M385.2,243.0h0.60M371.6,257.0h0.60M375.9,259.9h0.60M372.2,249.1h0.60M385.6,246.6h0.60M388.5,245.2h0.60M378.8,242.4h0.60M389.4,251.3h0.60M375.7,246.8h0.60M385.3,244.4h0.60M384.7,263.6h0.60M374.0,258.3h0.60M385.7,262.3h0.60M382.9,262.9h0.60M376.8,244.1h0.60M375.0,245.2h0.60M373.9,248.6h0.60M382.2,243.3h0.60M375.2,259.3h0.60M381.5,244.0h0.60M373.6,261.6h0.60M388.7,259.7h0.60M385.5,260.2h0.60M370.2,252.6h0.60M388.8,256.9h0.60M384.0,243.5h0.60M379.6,244.0h0.60M388.2,256.5h0.60M386.8,258.2h0.60M371.9,252.5h0.60M386.4,246.3h0.60M378.0,262.0h0.60M376.7,260.9h0.60M372.3,261.8h0.60M374.3,248.3h0.60M383.0,243.8h0.60M386.7,259.7h0.60M377.9,261.6h0.60M384.1,245.6h0.60M372.6,256.7h0.60M381.2,264.2h0.60M385.5,260.8h0.60M388.0,248.1h0.60M390.4,248.3h0.60M371.5,257.1h0.60M379.8,242.4h0.60M387.6,256.9h0.60M375.2,244.3h0.60M378.1,245.2h0.60M369.6,249.6h0.60M371.6,252.5h0.60M374.7,261.0h0.60M380.9,263.4h0.60M387.6,259.9h0.60M374.7,244.3h0.60M379.4,263.5h0.60M373.2,245.9h0.60M370.8,254.3h0.60M369.6,254.0h0.60M372.2,252.1h0.60M375.4,260.7h0.60M374.2,258.3h0.60M381.3,242.3h0.60M383.7,242.4h0.60M390.4,251.5h0.60M382.9,262.7h0.60M373.0,259.5h0.60M380.3,244.9h0.60M389.9,251.1h0.60M371.5,257.3h0.60M384.2,245.9h0.60M382.8,244.9h0.60M372.8,247.4h0.60M384.8,263.8h0.60M389.3,259.4h0.60" stroke="#707070" stroke-width="0.60" fill="none" opacity="0.75"/>
<path d="M383.5,266.9h0.60M379.2,241.8h0.60M391.5,248.7h0.60M392.3,244.4h0.60M379.1,238.4h0.60M368.3,261.2h0.60M369.2,263.9h0.60M380.6,274.4h0.60M380.6,266.1h0.60M381.9,265.5h0.60M383.5,265.3h0.60M391.5,245.5h0.60M378.9,267.0h0.60M395.6,250.7h0.60M380.2,239.8h0.60M369.7,258.3h0.60M386.6,264.1h0.60M368.0,250.1h0.60M375.4,265.7h0.60M367.6,256.2h0.60M376.4,264.8h0.60M369.0,261.6h0.60M367.9,247.2h0.60M381.5,237.8h0.60M376.0,266.5h0.60M393.3,253.2h0.60M370.8,264.6h0.60M395.2,260.2h0.60M393.9,252.5h0.60M382.9,267.1h0.60M376.1,267.4h0.60M397.9,260.6h0.60M377.4,265.7h0.60M372.2,241.2h0.60M392.6,255.7h0.60M395.6,255.3h0.60M392.9,246.8h0.60M372.8,243.3h0.60M376.0,265.4h0.60M386.9,242.6h0.60M390.2,245.8h0.60M383.1,240.6h0.60M372.5,263.2h0.60M366.6,262.0h0.60M380.8,241.5h0.60M393.0,254.9h0.60M377.4,266.4h0.60M395.5,262.6h0.60M383.8,267.0h0.60M374.3,242.5h0.60M392.6,264.0h0.60M373.5,242.4h0.60M372.4,268.6h0.60M383.8,268.1h0.60M370.7,267.3h0.60M378.8,239.4h0.60M365.9,249.3h0.60M368.6,255.3h0.60M392.7,250.3h0.60M389.0,241.2h0.60M392.3,246.8h0.60M394.0,259.9h0.60M378.2,238.7h0.60M392.5,253.9h0.60M380.9,269.2h0.60M366.4,254.4h0.60M374.4,242.5h0.60M370.0,261.6h0.60M391.3,261.6h0.60M392.8,242.1h0.60M370.7,244.1h0.60M392.5,256.2h0.60M368.3,255.1h0.60M389.1,261.9h0.60M384.6,238.2h0.60M395.4,255.2h0.60M377.5,241.6h0.60M386.1,241.3h0.60M369.1,248.7h0.60M377.4,266.9h0.60M383.0,239.7h0.60M385.2,265.1h0.60M395.8,251.1h0.60M374.3,265.2h0.60M391.5,245.7h0.60M362.9,256.7h0.60M379.9,236.9h0.60M363.6,253.6h0.60M367.8,248.9h0.60M385.8,242.4h0.60M390.2,260.5h0.60M378.3,266.1h0.60M368.8,257.5h0.60M386.5,263.5h0.60M375.8,241.2h0.60M394.8,252.6h0.60M388.6,243.7h0.60M370.6,259.9h0.60M368.0,247.4h0.60M383.5,273.1h0.60M392.3,267.4h0.60M388.1,263.8h0.60M363.5,253.5h0.60M367.9,244.9h0.60M399.2,254.0h0.60M377.8,265.2h0.60M378.1,271.1h0.60M372.2,262.5h0.60M385.0,242.3h0.60M377.8,265.2h0.60M369.7,262.0h0.60M367.7,254.9h0.60M364.9,260.5h0.60M381.7,266.2h0.60M387.1,243.1h0.60M389.4,261.9h0.60M370.1,246.0h0.60M374.2,240.7h0.60" stroke="#9a9a9a" stroke-width="0.60" fill="none" opacity="0.75"/>
<path d="M393.7,259.9h0.72M393.8,255.2h0.72M396.0,258.0h0.72M395.7,256.7h0.72M395.7,259.2h0.72M393.4,256.4h0.72M396.4,256.7h0.72M395.5,259.4h0.72M396.6,256.2h0.72M394.1,255.3h0.72M395.8,257.8h0.72M395.1,260.2h0.72M394.0,258.6h0.72M396.7,257.0h0.72M393.1,254.9h0.72M393.4,259.2h0.72M396.0,258.3h0.72M395.6,254.1h0.72M392.6,256.4h0.72M393.8,256.6h0.72M394.1,258.1h0.72M394.3,253.6h0.72M396.0,259.3h0.72M395.0,257.7h0.72M393.9,256.8h0.72M392.5,258.3h0.72M395.6,254.4h0.72M393.5,254.4h0.72M394.5,255.9h0.72M394.4,259.9h0.72M395.6,258.0h0.72M394.4,259.9h0.72M396.3,259.1h0.72M392.3,257.0h0.72M394.2,257.9h0.72M394.6,258.0h0.72M396.2,255.9h0.72M396.4,258.0h0.72M394.5,260.3h0.72M395.3,257.3h0.72M396.6,256.7h0.72M394.7,258.4h0.72M394.3,257.0h0.72M393.9,255.3h0.72M393.7,255.2h0.72M394.1,256.6h0.72M392.8,257.6h0.72M396.4,256.1h0.72M393.8,257.1h0.72M395.6,254.6h0.72M394.4,258.7h0.72M392.3,256.7h0.72M394.4,255.2h0.72M394.3,258.7h0.72M396.3,255.7h0.72M395.7,259.9h0.72M392.7,257.9h0.72M395.2,259.3h0.72M393.7,259.1h0.72M396.4,256.4h0.72M395.1,256.2h0.72M394.5,256.9h0.72M396.2,259.1h0.72M395.6,258.4h0.72M394.2,256.5h0.72M394.3,258.1h0.72M394.7,258.5h0.72M392.3,257.1h0.72M395.3,258.4h0.72M394.6,255.6h0.72M394.7,257.4h0.72M396.4,256.2h0.72M395.3,256.2h0.72M394.7,255.4h0.72M395.9,257.4h0.72M395.3,256.6h0.72M396.7,255.4h0.72M394.9,254.8h0.72M394.6,259.0h0.72M394.5,259.3h0.72M393.7,254.6h0.72M396.3,256.9h0.72M396.3,259.5h0.72M396.2,256.1h0.72M393.6,253.8h0.72M396.1,258.0h0.72M393.6,255.1h0.72M392.5,257.8h0.72M395.2,259.8h0.72M393.4,257.2h0.72M395.6,254.0h0.72M395.7,253.9h0.72M394.6,255.4h0.72M395.5,254.6h0.72M392.4,257.9h0.72M392.9,257.4h0.72M393.6,256.9h0.72M393.6,255.2h0.72M393.4,256.9h0.72M396.5,256.1h0.72M396.5,255.3h0.72M394.7,253.7h0.72M395.4,254.1h0.72M396.8,257.8h0.72M392.5,258.2h0.72M394.6,255.2h0.72M394.5,257.3h0.72M396.6,257.7h0.72M394.2,256.0h0.72M394.7,260.2h0.72M396.5,255.9h0.72M395.5,253.8h0.72M394.9,259.6h0.72M394.7,258.6h0.72M395.1,256.3h0.72M395.1,258.0h0.72M393.5,259.6h0.72M395.6,257.3h0.72M395.3,258.0h0.72M395.9,258.5h0.72M395.6,255.1h0.72M395.5,253.9h0.72M395.8,255.5h0.72M395.2,256.2h0.72M395.8,259.7h0.72M392.5,256.5h0.72M393.5,260.2h0.72M393.9,257.9h0.72M393.8,258.5h0.72M392.8,256.1h0.72M392.5,258.6h0.72M394.2,256.3h0.72M396.2,258.9h0.72M393.4,259.6h0.72M394.8,260.1h0.72M393.4,257.1h0.72M392.6,257.6h0.72M396.0,256.5h0.72M395.4,256.1h0.72M396.9,257.1h0.72M394.7,254.4h0.72M395.0,258.4h0.72M396.4,257.7h0.72M393.2,258.4h0.72" stroke="#352a6a" stroke-width="0.72" fill="none" opacity="0.8"/>
<path d="M391.3,255.8h0.72M398.6,259.4h0.72M398.3,258.4h0.72M396.4,259.8h0.72M391.4,254.4h0.72M396.5,253.4h0.72M392.4,252.9h0.72M396.9,258.4h0.72M393.0,251.6h0.72M391.7,258.4h0.72M394.2,252.4h0.72M397.0,262.3h0.72M396.8,253.6h0.72M391.1,254.0h0.72M395.9,252.9h0.72M398.6,257.9h0.72M396.5,260.1h0.72M398.0,260.0h0.72M393.9,262.7h0.72M395.8,260.6h0.72M395.0,263.4h0.72M392.2,254.7h0.72M398.4,257.2h0.72M391.4,262.3h0.72M391.8,260.5h0.72M397.4,260.2h0.72M394.6,262.2h0.72M390.6,258.4h0.72M393.0,260.7h0.72M394.4,262.3h0.72M393.4,260.5h0.72M395.2,263.7h0.72M397.5,257.8h0.72M398.4,255.4h0.72M397.9,255.5h0.72M395.1,260.9h0.72M395.4,260.6h0.72M396.8,251.6h0.72M394.6,250.6h0.72M398.2,256.0h0.72M391.9,262.7h0.72M395.7,253.6h0.72M394.6,261.7h0.72M394.4,262.8h0.72M392.2,261.9h0.72M390.2,256.9h0.72M396.5,262.6h0.72M393.9,249.9h0.72M392.6,263.0h0.72M398.2,261.4h0.72M394.6,261.5h0.72M395.2,250.4h0.72M397.9,253.8h0.72M391.4,252.7h0.72M390.4,259.0h0.72M397.2,255.5h0.72M397.4,261.2h0.72M397.0,258.8h0.72M391.3,260.9h0.72M396.6,262.1h0.72M391.3,256.5h0.72M395.7,261.6h0.72M390.9,255.0h0.72M397.8,257.6h0.72M391.5,252.3h0.72M396.8,259.7h0.72M395.8,253.1h0.72M393.2,251.5h0.72M391.5,258.5h0.72M392.0,256.3h0.72M396.9,258.2h0.72M393.4,261.4h0.72M394.8,252.4h0.72M394.1,250.0h0.72M396.1,262.9h0.72M396.2,251.6h0.72M391.3,261.1h0.72M391.9,259.9h0.72M394.1,261.1h0.72M393.5,263.0h0.72M396.7,262.1h0.72M399.1,255.8h0.72M393.4,261.9h0.72M398.1,257.0h0.72M390.4,258.1h0.72M395.9,263.3h0.72M397.4,257.1h0.72M397.7,260.0h0.72M393.7,260.8h0.72M390.8,253.5h0.72M392.1,260.2h0.72M397.4,262.2h0.72M396.9,260.9h0.72M390.1,256.9h0.72M394.4,252.7h0.72M397.1,259.0h0.72M394.3,253.2h0.72M391.1,257.2h0.72M396.3,260.4h0.72M394.5,252.2h0.72M397.2,258.6h0.72M393.3,252.9h0.72M390.6,256.4h0.72M396.5,254.7h0.72M398.6,257.7h0.72M391.9,258.4h0.72M397.4,262.3h0.72M396.4,251.0h0.72M398.8,257.1h0.72M391.7,258.4h0.72M396.7,261.0h0.72M397.0,254.3h0.72M392.1,261.0h0.72M392.2,261.5h0.72M394.6,261.4h0.72M398.8,254.4h0.72M394.2,250.9h0.72M391.3,257.9h0.72M397.4,256.4h0.72M392.9,253.1h0.72M391.2,255.0h0.72M392.1,257.1h0.72M394.8,261.3h0.72M394.6,251.2h0.72M390.8,260.5h0.72M392.3,260.6h0.72M397.3,258.7h0.72M396.2,254.0h0.72M394.2,261.2h0.72M391.4,260.6h0.72M397.8,253.1h0.72M397.3,256.3h0.72M390.2,258.9h0.72M392.7,253.2h0.72M396.5,260.1h0.72M392.6,259.6h0.72M393.3,262.9h0.72M397.6,252.8h0.72M394.9,261.2h0.72M392.2,259.1h0.72M392.6,262.0h0.72M393.6,253.6h0.72M392.2,256.9h0.72M397.7,256.1h0.72M395.7,253.3h0.72M395.2,262.7h0.72M396.8,261.5h0.72M397.9,259.1h0.72M397.5,254.9h0.72M392.8,252.3h0.72M392.3,260.6h0.72M394.0,262.1h0.72M397.0,256.2h0.72M396.3,251.6h0.72M398.5,258.9h0.72M395.8,262.0h0.72M397.0,254.9h0.72M393.1,260.8h0.72M393.4,261.1h0.72M395.0,263.3h0.72M392.5,259.8h0.72M390.8,259.8h0.72M392.1,253.9h0.72M393.2,261.8h0.72M399.1,258.5h0.72M398.1,260.7h0.72M393.6,251.1h0.72M395.0,262.8h0.72M396.2,253.1h0.72M391.4,254.8h0.72M394.4,253.3h0.72M394.6,261.2h0.72M391.8,254.6h0.72M392.0,256.8h0.72M397.5,258.2h0.72M397.7,254.7h0.72M397.2,252.4h0.72M395.3,262.3h0.72M396.1,259.9h0.72M393.2,253.9h0.72M397.8,257.4h0.72M393.7,260.5h0.72M395.9,250.2h0.72M391.0,261.3h0.72M392.1,259.5h0.72M392.8,263.7h0.72M392.3,261.5h0.72M393.0,259.8h0.72M394.3,253.3h0.72M399.1,257.7h0.72M391.7,261.8h0.72M396.4,260.6h0.72M397.8,261.1h0.72M397.8,254.5h0.72M395.2,253.1h0.72M395.3,262.5h0.72M391.1,256.4h0.72M396.5,259.9h0.72M399.1,258.8h0.72M390.9,252.9h0.72M392.5,253.6h0.72M390.9,259.0h0.72M392.0,257.3h0.72M397.2,261.3h0.72M397.9,260.3h0.72M391.1,256.9h0.72M397.7,259.1h0.72M396.9,254.3h0.72M395.3,261.2h0.72M391.4,256.8h0.72M397.9,261.6h0.72M392.4,253.0h0.72M397.8,251.9h0.72M392.1,252.9h0.72M395.4,252.8h0.72M395.8,253.1h0.72M391.7,253.0h0.72M396.3,260.0h0.72M398.0,257.1h0.72M397.3,260.3h0.72M392.5,255.0h0.72M391.7,252.5h0.72M392.3,259.5h0.72M391.5,255.0h0.72M392.2,252.2h0.72M398.9,258.9h0.72M392.4,259.3h0.72M399.1,257.5h0.72M393.5,261.4h0.72M394.5,250.7h0.72M394.4,250.9h0.72M393.9,252.7h0.72M391.0,255.0h0.72M395.6,250.4h0.72M397.1,256.1h0.72M394.4,261.1h0.72M394.5,252.0h0.72M396.9,253.6h0.72M391.8,254.9h0.72M396.5,259.4h0.72M392.6,253.6h0.72M394.7,253.2h0.72M393.0,262.3h0.72M397.3,257.6h0.72M392.5,260.6h0.72M398.8,255.5h0.72M398.2,258.1h0.72M392.2,256.1h0.72M397.0,257.0h0.72M398.8,257.2h0.72M396.3,263.0h0.72M394.1,260.8h0.72M393.3,250.8h0.72M392.3,253.2h0.72M391.7,260.3h0.72M395.4,261.2h0.72M398.1,253.2h0.72M395.0,263.2h0.72M392.7,261.1h0.72M396.5,262.3h0.72M397.4,261.4h0.72M396.6,254.3h0.72M395.7,261.4h0.72M394.6,262.0h0.72M397.4,260.3h0.72M394.2,251.0h0.72M396.5,259.4h0.72M393.1,250.8h0.72M391.9,252.4h0.72M397.8,253.8h0.72M392.3,258.9h0.72M392.1,252.2h0.72M397.7,260.4h0.72M392.7,253.9h0.72M391.1,259.9h0.72M391.9,253.0h0.72M395.2,251.5h0.72M399.0,258.7h0.72M398.7,254.5h0.72M396.7,251.0h0.72M394.0,262.6h0.72M398.3,257.5h0.72M392.9,260.5h0.72M398.7,254.5h0.72M392.7,259.4h0.72M390.1,258.4h0.72M391.7,257.9h0.72M396.3,252.5h0.72M396.3,253.4h0.72M392.6,260.0h0.72M394.1,261.1h0.72M393.3,263.1h0.72M392.8,252.5h0.72M393.1,253.5h0.72M391.9,255.5h0.72M390.4,257.4h0.72M390.1,258.4h0.72M391.9,261.1h0.72M390.5,256.6h0.72M391.9,261.7h0.72M395.5,262.8h0.72M390.6,260.3h0.72M396.0,252.9h0.72M396.3,252.0h0.72M391.7,256.9h0.72M393.1,261.3h0.72M398.0,252.4h0.72M397.5,258.5h0.72M393.6,253.5h0.72M392.6,251.6h0.72M392.7,252.5h0.72M392.0,255.4h0.72M393.4,262.6h0.72M393.0,262.4h0.72M399.0,259.4h0.72M398.0,254.0h0.72M398.1,257.5h0.72M398.7,256.2h0.72M393.1,254.0h0.72" stroke="#4a2f7c" stroke-width="0.72" fill="none" opacity="0.8"/>
<path d="M388.6,261.8h0.72M392.2,266.6h0.72M396.6,263.7h0.72M392.7,263.8h0.72M396.1,248.7h0.72M394.8,264.3h0.72M389.3,261.6h0.72M399.8,259.0h0.72M395.0,249.7h0.72M393.0,249.9h0.72M389.4,258.3h0.72M399.8,260.2h0.72M390.6,262.5h0.72M400.3,260.5h0.72M399.9,254.5h0.72M389.6,256.2h0.72M399.7,251.2h0.72M399.1,249.9h0.72M398.7,261.8h0.72M398.2,250.5h0.72M397.7,265.3h0.72M388.5,255.0h0.72M398.5,248.9h0.72M397.1,248.6h0.72M394.3,265.6h0.72M390.9,248.8h0.72M399.2,261.2h0.72M399.9,251.7h0.72M397.4,265.9h0.72M391.4,265.7h0.72M400.0,251.3h0.72M398.7,265.3h0.72M399.8,256.0h0.72M399.7,255.5h0.72M394.9,264.4h0.72M401.0,257.2h0.72M388.7,253.7h0.72M389.0,253.4h0.72M389.1,256.3h0.72M399.4,260.7h0.72M397.8,264.3h0.72M401.4,256.3h0.72M400.7,259.4h0.72M389.6,253.3h0.72M390.3,249.5h0.72M387.8,257.3h0.72M390.9,265.8h0.72M393.2,249.3h0.72M399.9,261.0h0.72M400.6,262.4h0.72M398.3,250.9h0.72M394.6,248.8h0.72M393.8,249.1h0.72M401.2,259.9h0.72M398.5,252.1h0.72M393.9,246.8h0.72M387.8,256.7h0.72M396.9,247.1h0.72M392.3,249.1h0.72M400.0,263.5h0.72M389.9,254.2h0.72M390.8,251.0h0.72M396.4,248.1h0.72M389.2,258.1h0.72M395.1,249.3h0.72M392.0,249.4h0.72M395.8,264.2h0.72M398.9,251.3h0.72M391.8,266.8h0.72M400.6,257.1h0.72M399.7,253.1h0.72M399.4,256.9h0.72M400.1,263.3h0.72M399.5,250.2h0.72M394.7,248.9h0.72M392.9,265.8h0.72M389.5,256.8h0.72M401.3,253.9h0.72M400.1,258.8h0.72M389.2,255.8h0.72M400.0,253.8h0.72M390.9,249.4h0.72M400.7,259.4h0.72M390.9,250.4h0.72M389.9,255.9h0.72M399.6,254.9h0.72M400.1,254.9h0.72M389.2,257.1h0.72M396.3,248.2h0.72M395.7,266.3h0.72M390.4,265.1h0.72M389.0,262.4h0.72M399.4,255.0h0.72M394.2,265.9h0.72M400.6,257.2h0.72M399.0,253.0h0.72M396.5,248.3h0.72M397.3,248.3h0.72M396.6,265.9h0.72M390.7,251.2h0.72M394.5,246.2h0.72M396.5,249.4h0.72M388.0,258.6h0.72M399.3,255.7h0.72M394.2,266.7h0.72M390.5,252.6h0.72M394.4,264.6h0.72M397.5,264.4h0.72M388.7,261.8h0.72M398.9,261.1h0.72M398.7,252.6h0.72M388.8,263.1h0.72M390.4,260.6h0.72M389.9,260.7h0.72M399.5,258.1h0.72M395.1,247.3h0.72M394.0,247.3h0.72M393.9,246.8h0.72M397.7,265.6h0.72M399.3,256.6h0.72M390.7,264.3h0.72M390.0,252.8h0.72M395.4,264.3h0.72M398.8,261.5h0.72M398.9,249.9h0.72M399.8,257.6h0.72M400.0,253.5h0.72M400.4,260.5h0.72M396.1,264.3h0.72M389.4,256.6h0.72M395.8,248.3h0.72M401.5,257.4h0.72M391.5,265.0h0.72M392.2,246.8h0.72M394.1,265.0h0.72M390.8,250.7h0.72M387.8,259.0h0.72M389.3,260.5h0.72M395.8,264.6h0.72M392.8,249.6h0.72M392.7,248.4h0.72M399.0,260.0h0.72M390.3,264.8h0.72M398.4,248.6h0.72M390.1,249.2h0.72M393.4,265.7h0.72M397.6,250.8h0.72M388.9,260.7h0.72M391.4,264.2h0.72M388.2,257.5h0.72M390.7,265.7h0.72M398.5,262.1h0.72M400.1,261.8h0.72M392.5,247.7h0.72M388.7,255.2h0.72M394.7,248.9h0.72M398.5,265.9h0.72M391.5,249.2h0.72M395.3,249.7h0.72M392.6,246.7h0.72M400.3,255.6h0.72M401.0,256.0h0.72M396.3,264.5h0.72M389.5,262.9h0.72M397.7,262.9h0.72M389.7,262.2h0.72M389.2,252.8h0.72M395.4,248.4h0.72M397.9,250.2h0.72M392.6,264.3h0.72M395.7,248.3h0.72M396.7,264.5h0.72M397.9,265.3h0.72M398.4,261.3h0.72M389.1,254.7h0.72M389.5,256.4h0.72M396.0,265.2h0.72M389.8,262.9h0.72M389.7,261.2h0.72M395.5,266.1h0.72M395.9,266.9h0.72M398.9,264.0h0.72M396.5,249.6h0.72M391.5,263.4h0.72M397.4,247.6h0.72M400.4,257.2h0.72M390.0,260.5h0.72M400.9,260.7h0.72M399.8,251.5h0.72M398.9,265.2h0.72M395.2,266.6h0.72M399.9,251.4h0.72M389.7,250.9h0.72M396.2,246.6h0.72M396.4,265.1h0.72M388.8,255.2h0.72M401.5,257.4h0.72M391.1,247.8h0.72M391.3,251.0h0.72M399.5,258.4h0.72M393.6,249.3h0.72M388.5,255.5h0.72M391.0,248.8h0.72M393.1,264.1h0.72M390.4,249.7h0.72M400.2,259.2h0.72M398.9,253.4h0.72M391.1,248.7h0.72M398.8,252.9h0.72M390.8,251.7h0.72M393.0,249.9h0.72M397.4,248.2h0.72M396.3,250.2h0.72" stroke="#5a3f8c" stroke-width="0.72" fill="none" opacity="0.8"/>
<path d="M388.5,247.2h0.72M387.3,255.2h0.72M399.2,245.6h0.72M387.8,242.9h0.72M389.0,264.2h0.72M387.5,253.5h0.72M397.6,246.9h0.72M389.9,266.0h0.72M401.8,258.8h0.72M401.2,242.6h0.72M403.3,259.0h0.72M384.8,254.3h0.72M398.5,242.0h0.72M404.5,250.6h0.72M389.1,248.5h0.72M387.5,264.9h0.72M386.3,254.8h0.72M387.9,261.6h0.72M400.0,266.0h0.72M387.8,250.9h0.72M387.5,263.0h0.72M386.1,258.8h0.72M392.3,246.1h0.72M386.6,252.1h0.72M396.2,245.3h0.72M401.6,247.2h0.72M396.3,270.6h0.72M404.2,263.4h0.72M396.9,242.5h0.72M387.6,262.8h0.72M399.4,267.1h0.72M402.2,262.8h0.72M400.7,262.5h0.72M401.2,261.5h0.72M386.8,252.8h0.72M390.7,242.3h0.72M393.8,271.3h0.72M394.9,271.5h0.72M393.0,245.8h0.72M388.0,251.0h0.72M394.0,241.8h0.72M403.0,255.2h0.72M398.6,243.7h0.72M396.8,270.1h0.72M395.5,268.9h0.72M392.7,269.8h0.72M388.3,267.0h0.72M389.2,247.9h0.72M396.6,268.8h0.72M404.7,246.5h0.72M387.8,252.0h0.72M388.2,265.1h0.72M397.8,247.2h0.72M395.5,269.5h0.72M390.5,245.9h0.72M392.1,270.3h0.72M390.1,245.2h0.72M396.8,271.7h0.72M400.6,250.1h0.72M393.2,237.7h0.72M397.9,269.1h0.72M389.0,266.0h0.72M394.5,245.0h0.72M403.2,253.3h0.72M390.0,270.9h0.72M402.6,245.9h0.72M398.9,266.5h0.72M385.7,267.6h0.72M398.9,246.5h0.72M391.4,270.0h0.72M402.6,242.8h0.72M402.3,257.4h0.72M388.4,263.4h0.72M389.6,247.5h0.72M386.5,255.3h0.72M397.8,243.2h0.72M403.8,251.7h0.72M393.4,245.2h0.72M402.1,242.4h0.72M398.1,271.9h0.72M385.6,257.7h0.72M396.6,244.4h0.72M386.5,256.8h0.72M399.1,268.2h0.72M391.3,246.2h0.72M388.1,251.4h0.72M403.6,267.8h0.72M388.0,244.6h0.72M387.0,256.1h0.72M400.2,266.9h0.72M394.7,269.1h0.72M401.8,260.5h0.72M394.3,243.5h0.72M395.1,269.2h0.72M389.5,243.6h0.72M392.3,246.5h0.72M401.6,262.8h0.72M401.1,265.0h0.72M397.8,246.3h0.72M401.2,261.5h0.72M402.0,250.1h0.72M395.4,241.6h0.72M394.0,270.4h0.72M389.2,265.0h0.72M402.0,265.6h0.72M393.3,245.6h0.72M390.8,245.5h0.72M384.9,258.0h0.72M387.2,264.3h0.72M402.1,268.2h0.72M396.0,271.3h0.72M401.0,252.2h0.72M403.4,258.0h0.72M398.3,267.3h0.72M390.9,246.7h0.72M387.7,261.4h0.72M387.6,254.3h0.72M391.2,245.2h0.72M389.7,270.9h0.72M390.8,266.5h0.72M384.8,256.4h0.72M395.8,244.7h0.72M389.3,246.9h0.72M387.5,249.8h0.72" stroke="#8070a8" stroke-width="0.72" fill="none" opacity="0.8"/>
<path d="M393.8,250.6h0.80M396.6,247.3h0.80M400.8,256.2h0.80M397.9,262.1h0.80M392.5,254.3h0.80M399.7,259.8h0.80M392.9,251.0h0.80M393.7,250.0h0.80M399.3,261.9h0.80M393.9,261.0h0.80M394.5,249.3h0.80M392.3,257.2h0.80M394.0,249.4h0.80M396.3,247.5h0.80M393.9,261.9h0.80M398.9,262.3h0.80M393.6,250.3h0.80M400.0,260.6h0.80M397.5,247.7h0.80M400.7,256.1h0.80M395.3,263.0h0.80M400.8,258.6h0.80M395.7,262.5h0.80M397.2,263.1h0.80M393.1,252.2h0.80M396.5,262.4h0.80M394.7,262.1h0.80M400.5,258.1h0.80M400.1,259.2h0.80M392.5,258.1h0.80M396.1,263.0h0.80M392.7,251.4h0.80M400.6,252.6h0.80M401.2,254.5h0.80M393.5,250.1h0.80M392.4,253.7h0.80M393.1,252.0h0.80M394.9,248.0h0.80M394.6,262.8h0.80M399.8,259.7h0.80M396.2,247.7h0.80M394.9,249.1h0.80M393.3,260.0h0.80M400.7,256.5h0.80M399.1,261.3h0.80M396.2,262.4h0.80M393.7,260.6h0.80M400.7,255.8h0.80M393.3,250.6h0.80M392.9,257.6h0.80M392.3,252.9h0.80M395.9,262.7h0.80M397.6,247.6h0.80M400.6,252.8h0.80M395.8,262.2h0.80M399.5,260.4h0.80M394.3,249.6h0.80M392.6,259.2h0.80M397.6,248.4h0.80M396.9,263.3h0.80M393.3,251.4h0.80M397.8,248.5h0.80M393.3,249.8h0.80M392.7,257.4h0.80M394.9,248.9h0.80M394.9,248.9h0.80M395.4,262.8h0.80" stroke="#702a78" stroke-width="0.80" fill="none" opacity="0.8"/>
<path d="M398.2,245.8h0.80M395.1,265.8h0.80M398.2,265.0h0.80M394.3,245.2h0.80M399.1,264.9h0.80M401.8,251.1h0.80M402.2,257.7h0.80M395.9,245.2h0.80M391.5,264.2h0.80M395.0,265.2h0.80M402.5,253.8h0.80M391.3,250.2h0.80M402.7,252.5h0.80M395.8,265.1h0.80M405.1,253.4h0.80M393.0,247.2h0.80M392.8,262.7h0.80M390.9,257.2h0.80M391.3,262.0h0.80M393.9,246.6h0.80M389.7,251.6h0.80M402.8,258.0h0.80M393.3,246.7h0.80M400.3,247.5h0.80M397.2,245.6h0.80M390.4,253.1h0.80M402.9,259.1h0.80M391.1,262.5h0.80M399.7,246.3h0.80M393.2,247.8h0.80M401.9,250.6h0.80M392.2,247.7h0.80M390.4,255.7h0.80M392.4,261.8h0.80M397.9,266.5h0.80M390.1,266.2h0.80M390.9,260.7h0.80M399.5,246.0h0.80M391.2,250.0h0.80M395.3,245.8h0.80M403.4,251.5h0.80M396.1,265.5h0.80M402.7,258.9h0.80M401.9,251.3h0.80M390.5,251.8h0.80M403.2,264.1h0.80M390.9,252.1h0.80" stroke="#3a2f70" stroke-width="0.80" fill="none" opacity="0.8"/>
<path d="M396.3,245.9h0.80M395.6,264.6h0.80M401.5,255.5h0.80M401.4,254.5h0.80M398.0,247.4h0.80M392.5,249.4h0.80M393.7,263.5h0.80M401.6,258.6h0.80M401.3,255.4h0.80M397.6,247.1h0.80M397.0,264.4h0.80M393.1,249.0h0.80M401.8,253.2h0.80M391.5,258.0h0.80M391.3,256.5h0.80M395.2,264.5h0.80M391.3,255.1h0.80M391.6,257.0h0.80M401.9,257.3h0.80M395.8,246.2h0.80M391.7,256.4h0.80M394.6,247.8h0.80M398.8,246.7h0.80M401.5,253.0h0.80M393.7,248.0h0.80M392.9,249.2h0.80M399.0,247.8h0.80M396.2,246.0h0.80M392.4,259.8h0.80M399.0,247.1h0.80M396.8,246.5h0.80M400.6,250.1h0.80M397.1,264.8h0.80M393.5,247.5h0.80M391.9,251.3h0.80M391.3,254.5h0.80M391.6,258.7h0.80M393.1,249.7h0.80M400.4,248.7h0.80M401.2,254.1h0.80M401.5,256.5h0.80M401.5,252.8h0.80M394.9,247.6h0.80M400.3,248.6h0.80M394.6,262.9h0.80M393.2,248.2h0.80M400.5,260.2h0.80M391.9,257.9h0.80M392.0,258.6h0.80" stroke="#452a72" stroke-width="0.80" fill="none" opacity="0.8"/>
<path d="M399.2,256.3h0.80M397.7,251.0h0.80M395.5,259.8h0.80M399.6,255.0h0.80M394.2,256.6h0.80M399.3,256.4h0.80M398.6,258.2h0.80M395.9,259.8h0.80M399.2,254.7h0.80M396.1,260.2h0.80M399.6,255.8h0.80M393.7,254.8h0.80M399.1,253.6h0.80M395.3,251.6h0.80M394.3,256.3h0.80M399.0,255.4h0.80M396.2,259.6h0.80M397.6,251.4h0.80M394.1,252.3h0.80M399.0,258.8h0.80M394.8,258.5h0.80M398.9,254.7h0.80M399.4,254.8h0.80M399.4,254.9h0.80M396.0,260.1h0.80M399.5,255.8h0.80M394.5,252.4h0.80M395.7,260.3h0.80M398.9,252.0h0.80M394.8,258.2h0.80M395.7,251.2h0.80M393.6,256.1h0.80M398.4,258.0h0.80M394.4,252.5h0.80M396.3,260.7h0.80M398.6,252.0h0.80M397.5,251.2h0.80M398.3,251.3h0.80M396.5,251.2h0.80M398.7,252.3h0.80M394.7,252.4h0.80M394.9,258.3h0.80M396.9,260.2h0.80M395.0,251.9h0.80M398.8,252.5h0.80M396.5,259.7h0.80M397.8,259.9h0.80M394.2,258.4h0.80M398.9,258.7h0.80M399.6,256.0h0.80M395.7,259.7h0.80M396.6,250.0h0.80M396.9,250.1h0.80M395.9,251.0h0.80M398.9,253.0h0.80M394.2,257.2h0.80M397.6,251.4h0.80M398.0,251.2h0.80M397.5,259.2h0.80M395.7,259.2h0.80M395.3,250.8h0.80M397.3,260.3h0.80M399.6,254.6h0.80M395.5,250.5h0.80M399.5,257.5h0.80M396.3,251.1h0.80M394.0,257.7h0.80M399.2,257.2h0.80M398.1,251.4h0.80M394.7,258.7h0.80M398.7,257.5h0.80M398.3,251.3h0.80M399.0,256.8h0.80M398.9,258.1h0.80M399.6,254.9h0.80M394.3,256.5h0.80M394.1,257.1h0.80M397.9,259.5h0.80M398.7,257.2h0.80M397.6,259.5h0.80M398.3,259.5h0.80M394.7,258.9h0.80M396.8,260.8h0.80M396.4,260.7h0.80M394.1,257.8h0.80M399.3,257.1h0.80M398.9,256.4h0.80M395.8,259.8h0.80M394.6,259.2h0.80M394.3,254.7h0.80M393.5,255.6h0.80M397.3,259.9h0.80M398.4,252.2h0.80M396.4,250.0h0.80M397.9,251.0h0.80M396.7,250.3h0.80M398.8,252.7h0.80M398.4,259.1h0.80M395.6,251.2h0.80M393.6,255.6h0.80M399.1,252.3h0.80M395.3,251.7h0.80M396.1,251.2h0.80M398.9,252.4h0.80M398.6,258.1h0.80M398.8,258.6h0.80M399.6,255.0h0.80M397.7,250.6h0.80M399.1,253.6h0.80M394.1,253.2h0.80M396.5,260.1h0.80M398.8,257.8h0.80M394.8,251.7h0.80M394.4,257.5h0.80M396.3,250.5h0.80M393.9,254.3h0.80M395.2,252.0h0.80M396.5,250.4h0.80M394.1,256.6h0.80M397.5,250.9h0.80M399.1,255.5h0.80M394.4,258.0h0.80M397.3,251.2h0.80M397.7,260.2h0.80M398.1,259.0h0.80M396.7,250.6h0.80M397.5,251.1h0.80M394.3,257.4h0.80M399.3,257.6h0.80M396.3,251.1h0.80M393.9,255.0h0.80M396.1,259.9h0.80M395.5,251.1h0.80M397.8,250.9h0.80M395.0,259.5h0.80M398.4,250.9h0.80M394.8,252.6h0.80" stroke="#d03a40" stroke-width="0.80" fill="none" opacity="0.8"/>
<path d="M399.9,253.3h0.80M393.6,253.9h0.80M393.1,253.9h0.80M395.6,260.8h0.80M400.2,255.5h0.80M394.5,259.5h0.80M392.7,255.9h0.80M399.9,253.9h0.80M397.2,249.0h0.80M394.1,260.4h0.80M397.1,249.0h0.80M394.7,250.9h0.80M396.6,261.7h0.80M394.6,260.3h0.80M399.1,250.7h0.80M395.2,249.1h0.80M397.2,250.0h0.80M394.1,250.3h0.80M393.4,257.6h0.80M397.3,261.7h0.80M394.2,251.8h0.80M397.9,249.8h0.80M399.0,259.5h0.80M394.6,250.9h0.80M396.5,249.8h0.80M393.8,257.8h0.80M395.7,249.7h0.80M398.4,260.0h0.80M397.5,249.4h0.80M400.4,256.5h0.80M398.5,260.1h0.80M400.1,257.6h0.80M398.6,260.2h0.80M393.5,253.4h0.80M395.8,249.4h0.80M399.7,258.6h0.80M400.4,256.6h0.80M400.1,253.5h0.80M400.1,254.3h0.80M398.3,250.1h0.80M394.0,252.4h0.80M395.2,249.6h0.80M399.2,259.6h0.80M395.7,261.5h0.80M396.2,248.8h0.80M399.5,252.7h0.80M393.5,255.9h0.80M394.2,259.5h0.80M393.8,257.8h0.80M399.4,251.7h0.80M396.8,249.9h0.80M396.1,248.9h0.80M396.3,261.7h0.80M399.7,256.5h0.80M398.6,250.7h0.80M399.7,259.3h0.80M393.4,255.0h0.80M392.9,256.4h0.80M395.3,249.5h0.80M394.5,259.7h0.80M396.7,249.1h0.80M396.4,249.6h0.80M399.4,252.3h0.80M398.3,260.6h0.80M396.0,261.0h0.80M393.6,253.2h0.80M393.7,252.0h0.80M395.2,249.1h0.80M397.1,261.8h0.80M398.5,260.1h0.80M397.9,249.1h0.80M399.0,259.2h0.80M394.0,259.9h0.80M396.8,248.7h0.80M392.9,255.5h0.80M397.4,250.1h0.80M396.9,261.6h0.80M400.1,253.6h0.80M393.6,257.6h0.80M399.4,251.9h0.80M400.3,254.4h0.80M392.9,256.2h0.80M398.2,250.2h0.80M394.0,259.2h0.80M396.0,249.7h0.80M400.0,257.9h0.80M393.2,256.9h0.80M399.6,251.2h0.80M399.7,257.9h0.80M393.6,258.1h0.80M394.2,251.0h0.80M399.3,259.0h0.80M398.4,250.8h0.80M394.1,259.4h0.80M394.1,259.4h0.80M396.8,249.7h0.80M395.3,249.0h0.80M398.5,261.0h0.80M399.1,258.8h0.80M400.2,257.6h0.80M394.9,260.2h0.80M398.7,250.5h0.80M395.8,249.8h0.80M394.8,250.8h0.80M393.2,257.6h0.80M393.7,251.0h0.80M398.6,250.7h0.80M395.4,261.9h0.80M394.7,250.2h0.80M399.4,250.9h0.80M399.3,258.6h0.80M399.6,257.4h0.80M399.5,252.6h0.80M397.3,261.5h0.80M399.8,258.1h0.80M394.9,261.0h0.80M393.3,257.2h0.80M394.0,252.0h0.80" stroke="#a8305e" stroke-width="0.80" fill="none" opacity="0.8"/>
<path d="M397.6,254.2h0.80M396.7,252.9h0.80M397.0,253.2h0.80M395.7,253.9h0.80M395.7,257.3h0.80M397.1,256.6h0.80M396.4,254.0h0.80M396.0,257.8h0.80M397.8,256.5h0.80M397.3,253.5h0.80M395.5,256.7h0.80M396.4,252.8h0.80M398.0,255.8h0.80M397.8,256.2h0.80M396.0,257.8h0.80M395.8,254.2h0.80M395.7,257.1h0.80M395.6,253.9h0.80M396.4,257.8h0.80M396.6,253.3h0.80M397.7,254.2h0.80M396.9,253.9h0.80M396.3,253.2h0.80M395.4,256.7h0.80M397.3,256.0h0.80M397.5,253.8h0.80M395.3,255.2h0.80M396.5,252.8h0.80M397.6,256.6h0.80M397.9,256.2h0.80M396.8,257.5h0.80M397.2,253.3h0.80M395.6,256.9h0.80M395.5,255.8h0.80M397.4,257.4h0.80M397.6,253.8h0.80M396.4,252.9h0.80M396.7,257.1h0.80M397.4,256.3h0.80M397.3,254.9h0.80M395.9,256.3h0.80M397.3,256.7h0.80M396.6,257.2h0.80M396.6,256.9h0.80M395.8,256.8h0.80M395.7,256.9h0.80M397.9,256.4h0.80M396.4,256.9h0.80M396.4,253.5h0.80M395.2,254.9h0.80M395.7,254.3h0.80M395.5,256.8h0.80M398.0,256.0h0.80M396.4,257.1h0.80M396.4,253.8h0.80M395.4,257.1h0.80M395.7,256.7h0.80M398.1,254.8h0.80M397.8,255.8h0.80M397.2,257.9h0.80M397.2,256.9h0.80M397.5,256.6h0.80M397.5,254.8h0.80M396.3,257.4h0.80M395.8,255.3h0.80M395.8,255.3h0.80M396.0,253.5h0.80M395.5,254.1h0.80M397.6,256.5h0.80M396.5,253.2h0.80M396.1,257.8h0.80M397.5,254.7h0.80M397.6,256.1h0.80M395.9,257.4h0.80M397.8,253.8h0.80M397.1,256.4h0.80M395.6,254.3h0.80M397.7,254.8h0.80M397.3,256.3h0.80M397.3,253.6h0.80M396.9,257.1h0.80M396.0,256.8h0.80M395.7,253.3h0.80M396.3,257.3h0.80M397.7,254.8h0.80M397.3,256.3h0.80M397.2,254.3h0.80M396.1,257.9h0.80M395.5,255.8h0.80M396.7,253.3h0.80M395.6,255.0h0.80M397.1,256.5h0.80M397.6,257.3h0.80M397.5,253.8h0.80M397.8,255.1h0.80M397.0,253.0h0.80M397.3,253.4h0.80M396.7,253.4h0.80M395.5,257.0h0.80M395.7,257.2h0.80M397.5,254.6h0.80M395.2,254.8h0.80M395.7,254.4h0.80M396.1,253.5h0.80M395.6,255.2h0.80M395.3,256.2h0.80M397.6,254.8h0.80M395.5,256.4h0.80" stroke="#f9a825" stroke-width="0.80" fill="none" opacity="0.8"/>
<path d="M394.8,256.0h0.80M398.3,255.6h0.80M397.0,258.2h0.80M398.2,253.2h0.80M395.5,258.5h0.80M395.3,258.7h0.80M398.4,257.5h0.80M394.6,254.4h0.80M395.1,257.1h0.80M394.6,255.9h0.80M394.4,255.4h0.80M398.2,257.2h0.80M394.9,255.9h0.80M394.5,254.3h0.80M394.9,252.9h0.80M396.9,258.8h0.80M395.1,253.6h0.80M394.8,257.3h0.80M394.7,256.6h0.80M397.0,252.3h0.80M398.6,255.2h0.80M396.7,251.9h0.80M394.5,254.6h0.80M394.4,256.3h0.80M398.4,256.1h0.80M397.5,253.2h0.80M394.4,255.5h0.80M397.5,252.9h0.80M394.7,256.9h0.80M398.8,253.9h0.80M396.8,259.4h0.80M395.1,253.7h0.80M395.0,252.6h0.80M396.8,259.2h0.80M394.9,252.9h0.80M396.6,258.8h0.80M397.6,258.3h0.80M395.2,258.1h0.80M394.7,256.1h0.80M397.5,258.1h0.80M394.4,254.9h0.80M398.4,257.2h0.80M397.6,253.1h0.80M397.4,252.7h0.80M398.2,257.8h0.80M397.5,252.1h0.80M397.2,258.7h0.80M394.8,257.1h0.80M398.1,258.3h0.80M395.3,253.4h0.80M394.5,257.1h0.80M398.1,257.9h0.80M395.3,257.2h0.80M396.3,258.2h0.80M394.5,253.9h0.80M396.6,252.3h0.80M395.5,257.9h0.80M397.9,253.8h0.80M397.2,251.8h0.80M398.5,257.5h0.80M396.1,251.9h0.80M398.3,254.0h0.80M398.0,253.5h0.80M396.1,251.4h0.80M397.9,253.5h0.80M396.0,258.5h0.80M396.8,252.4h0.80M398.3,253.4h0.80M397.9,257.0h0.80M398.1,256.5h0.80M394.4,254.3h0.80M394.4,255.9h0.80M395.1,257.7h0.80M396.0,259.0h0.80M398.3,256.9h0.80M398.5,257.5h0.80M396.8,251.4h0.80M398.4,255.7h0.80M398.3,257.1h0.80M398.3,255.3h0.80M394.9,257.0h0.80M394.7,256.1h0.80M395.2,252.2h0.80M398.4,253.8h0.80M398.0,258.4h0.80M398.4,254.7h0.80M396.5,252.1h0.80M396.7,258.7h0.80M395.3,253.5h0.80M396.7,252.2h0.80M397.5,257.8h0.80M397.8,258.0h0.80M396.5,259.3h0.80M398.0,253.3h0.80M396.9,251.6h0.80M396.3,252.2h0.80M394.8,257.4h0.80M394.8,254.0h0.80M394.8,256.7h0.80M395.1,256.7h0.80M398.5,253.6h0.80M397.7,257.5h0.80M396.6,259.3h0.80M396.2,259.1h0.80M398.5,254.1h0.80M395.6,252.0h0.80M397.8,257.3h0.80M395.5,253.0h0.80M394.7,256.8h0.80M396.4,251.4h0.80M398.3,256.6h0.80M398.2,255.2h0.80M398.6,256.9h0.80M398.5,257.8h0.80M398.0,257.0h0.80M396.0,252.7h0.80M395.1,256.4h0.80M395.7,258.2h0.80M397.8,252.0h0.80M397.7,252.2h0.80M397.4,252.7h0.80M397.0,251.8h0.80M396.7,258.9h0.80M398.3,257.3h0.80M398.4,253.9h0.80M398.4,257.6h0.80M395.7,257.8h0.80M398.2,256.5h0.80M396.2,258.6h0.80M395.8,259.2h0.80" stroke="#ef5e28" stroke-width="0.80" fill="none" opacity="0.8"/>
<path d="M397.1,255.3h0.80M397.3,255.5h0.80M397.0,256.5h0.80M396.1,254.5h0.80M396.8,256.5h0.80M396.1,256.2h0.80M396.7,255.3h0.80M396.4,254.1h0.80M396.1,254.5h0.80M397.1,256.0h0.80M396.8,256.5h0.80M396.6,255.3h0.80M396.8,256.3h0.80M396.9,255.3h0.80M396.0,256.1h0.80M396.6,256.8h0.80M396.3,256.7h0.80M396.4,254.1h0.80M397.4,255.6h0.80M396.4,256.0h0.80M396.4,255.8h0.80M396.4,256.3h0.80M396.5,255.6h0.80M396.7,255.0h0.80M396.2,254.5h0.80M396.8,256.2h0.80M397.2,255.0h0.80M396.3,256.1h0.80M397.3,255.5h0.80M397.1,254.5h0.80M396.6,255.6h0.80M396.7,256.4h0.80M396.6,255.2h0.80M396.5,255.4h0.80M397.0,254.3h0.80M396.5,256.0h0.80M397.0,255.7h0.80M396.1,255.3h0.80M396.1,255.9h0.80M396.5,255.9h0.80M396.8,255.7h0.80M396.8,255.8h0.80M396.1,254.5h0.80" stroke="#fdd022" stroke-width="0.80" fill="none" opacity="0.8"/>
<path d="M397.5,249.7h0.80M398.5,254.0h0.80M395.3,254.8h0.80M395.8,256.9h0.80M396.7,258.3h0.80M395.5,253.1h0.80M397.5,250.6h0.80M398.5,256.4h0.80M398.3,253.0h0.80M397.4,257.3h0.80M395.5,258.3h0.80M396.0,251.1h0.80M397.9,247.8h0.80M398.1,256.4h0.80M397.5,258.7h0.80M395.9,258.5h0.80M400.0,261.3h0.80M399.1,253.3h0.80M396.0,249.6h0.80M395.2,255.5h0.80M395.5,254.7h0.80M395.3,254.3h0.80M398.0,256.2h0.80M394.8,255.6h0.80M398.0,251.7h0.80M395.6,248.6h0.80M397.6,248.6h0.80M398.7,254.8h0.80M398.2,256.5h0.80M395.5,258.3h0.80M397.9,259.5h0.80M397.4,249.7h0.80M397.9,256.7h0.80M398.1,256.1h0.80M394.9,255.2h0.80M395.9,251.3h0.80M398.3,257.2h0.80M398.2,255.7h0.80M398.9,251.2h0.80M396.4,250.0h0.80M398.6,258.4h0.80M396.7,257.7h0.80M398.7,255.7h0.80M398.6,256.3h0.80M398.7,253.8h0.80M398.5,252.8h0.80M397.1,257.1h0.80M394.2,259.0h0.80M395.6,252.9h0.80M396.7,250.6h0.80" stroke="#fdd022" stroke-width="0.80" fill="none" opacity="0.8"/>
<path d="M396.2,254.2h0.80M396.9,251.5h0.80M397.4,256.9h0.80M397.3,252.2h0.80M397.5,252.2h0.80M397.4,251.5h0.80M397.6,254.9h0.80M396.5,252.5h0.80M398.0,252.4h0.80M397.9,254.4h0.80M396.3,252.8h0.80M396.6,253.4h0.80M397.9,252.0h0.80M396.7,255.5h0.80M396.5,254.1h0.80M396.9,253.6h0.80M397.0,253.6h0.80M396.4,252.6h0.80M396.3,255.7h0.80M398.0,254.8h0.80M397.0,251.6h0.80M397.7,253.8h0.80M397.3,251.2h0.80M396.6,254.6h0.80M397.0,252.1h0.80M397.1,254.4h0.80M396.5,255.4h0.80M397.0,256.5h0.80M396.9,256.7h0.80M396.5,254.2h0.80M396.4,255.4h0.80M397.3,252.0h0.80M397.9,252.9h0.80M396.3,252.7h0.80M396.1,255.7h0.80M397.0,254.3h0.80M396.7,254.3h0.80M397.2,253.3h0.80M396.2,252.4h0.80M395.9,254.1h0.80M397.8,255.3h0.80M396.6,253.2h0.80M396.7,253.2h0.80M397.9,252.4h0.80M397.9,252.6h0.80M397.2,251.4h0.80M397.8,253.7h0.80M397.4,253.6h0.80M397.5,252.5h0.80M398.0,253.5h0.80M397.2,253.7h0.80M396.2,251.7h0.80M397.6,254.3h0.80M396.8,254.6h0.80M396.8,254.8h0.80M396.9,252.8h0.80M395.9,253.2h0.80M396.6,254.0h0.80M398.1,255.3h0.80M398.2,254.6h0.80M397.5,255.6h0.80M397.8,256.5h0.80M396.5,255.1h0.80M397.2,257.0h0.80M397.9,252.7h0.80M397.5,255.8h0.80M397.3,251.0h0.80M397.3,256.0h0.80M396.2,255.8h0.80M397.3,251.8h0.80" stroke="#fde725" stroke-width="0.80" fill="none" opacity="0.8"/>
<path d="M265.8,358.5h0.64M264.9,363.2h0.64M266.6,356.3h0.64M268.5,345.0h0.64M267.2,357.2h0.64M268.9,349.3h0.64M269.5,326.4h0.64M264.6,354.5h0.64M268.4,326.2h0.64M269.1,336.7h0.64M268.3,325.4h0.64M268.3,352.8h0.64M270.0,337.1h0.64M269.3,333.1h0.64M268.0,350.0h0.64M264.6,355.5h0.64M268.9,334.6h0.64M269.1,334.2h0.64M264.0,353.9h0.64M263.6,352.9h0.64M268.0,353.1h0.64M268.0,347.9h0.64M268.9,343.1h0.64M266.7,353.9h0.64M269.7,336.5h0.64M269.4,338.7h0.64M268.0,354.0h0.64M265.5,358.2h0.64M268.7,350.7h0.64M267.2,357.1h0.64M263.8,353.7h0.64M266.2,363.1h0.64M265.4,356.9h0.64M270.6,332.1h0.64M264.1,354.5h0.64M269.5,328.2h0.64M268.2,350.8h0.64M269.8,331.5h0.64M269.3,330.1h0.64M265.5,364.0h0.64M264.4,354.9h0.64M268.9,337.5h0.64M268.9,340.4h0.64M267.3,352.7h0.64M266.2,354.0h0.64M269.5,323.3h0.64M268.9,336.6h0.64" stroke="#8a7aa0" stroke-width="0.64" fill="none" opacity="0.9"/>
<path d="M267.1,346.5h0.64M266.3,352.0h0.64M267.1,347.8h0.64M266.1,350.8h0.64M268.0,333.9h0.64M264.8,323.8h0.64M267.6,329.4h0.64M267.7,331.6h0.64M267.7,342.8h0.64M267.6,347.7h0.64M268.1,333.8h0.64M265.8,322.2h0.64M267.8,329.8h0.64M268.1,328.9h0.64M266.7,323.2h0.64M266.5,349.7h0.64M263.6,352.6h0.64M266.9,347.3h0.64M263.4,325.1h0.64M265.8,323.3h0.64M267.1,349.6h0.64M267.8,345.0h0.64M265.0,323.1h0.64M268.3,338.1h0.64M263.6,351.7h0.64M267.2,326.0h0.64M265.7,350.4h0.64M266.1,350.6h0.64M267.6,330.0h0.64M267.9,346.7h0.64M267.2,348.9h0.64M268.6,334.4h0.64M264.7,322.8h0.64M268.0,333.2h0.64M264.7,322.1h0.64M266.7,323.6h0.64M263.7,323.7h0.64M266.5,349.0h0.64M268.1,344.9h0.64M264.8,354.0h0.64M264.6,350.4h0.64M267.9,338.3h0.64M267.9,332.5h0.64M264.3,323.2h0.64M265.7,350.2h0.64M268.0,328.6h0.64M268.4,333.2h0.64M267.5,326.6h0.64M267.9,333.6h0.64M264.1,351.5h0.64M266.8,325.8h0.64M266.9,326.1h0.64M265.0,351.1h0.64M264.1,350.8h0.64M267.9,346.9h0.64M264.4,349.8h0.64M268.6,335.1h0.64M266.6,348.5h0.64M267.5,348.9h0.64M266.9,347.9h0.64M267.5,348.8h0.64M266.2,351.0h0.64M264.2,349.4h0.64M264.2,349.7h0.64M264.4,350.1h0.64M265.7,352.4h0.64M266.0,323.7h0.64M266.4,349.8h0.64M266.0,324.3h0.64M267.8,329.8h0.64M264.1,322.2h0.64M267.1,351.2h0.64M268.0,339.2h0.64M264.9,353.4h0.64M268.3,330.7h0.64M267.3,346.1h0.64M265.1,352.5h0.64M267.3,348.8h0.64M264.5,351.4h0.64M267.4,326.0h0.64M267.3,351.3h0.64M263.6,351.3h0.64M268.6,333.8h0.64" stroke="#5a4a78" stroke-width="0.64" fill="none" opacity="0.9"/>
<path d="M266.3,340.3h0.64M266.4,337.0h0.64M266.3,340.3h0.64M266.5,337.8h0.64M266.2,332.3h0.64M265.5,341.6h0.64M265.4,343.2h0.64M266.8,337.6h0.64M266.0,333.7h0.64M264.4,340.1h0.64M265.3,329.3h0.64M265.4,345.7h0.64M264.0,333.3h0.64M266.1,337.5h0.64M265.1,329.1h0.64M265.8,332.0h0.64M264.2,337.8h0.64M263.9,342.0h0.64M265.4,342.6h0.64M264.9,331.5h0.64M265.4,344.0h0.64M265.5,330.0h0.64M265.8,332.4h0.64M266.0,331.0h0.64M265.9,331.3h0.64M265.0,344.0h0.64M263.8,341.2h0.64M265.2,330.6h0.64M266.0,329.9h0.64M264.3,330.3h0.64M264.6,343.5h0.64M264.3,342.9h0.64M264.9,329.3h0.64M265.9,342.5h0.64M265.4,344.0h0.64M266.2,342.6h0.64M264.3,339.8h0.64M263.9,331.2h0.64M263.6,337.5h0.64M264.3,337.7h0.64M266.5,334.3h0.64M264.5,333.7h0.64M266.8,336.3h0.64M264.2,337.8h0.64M265.3,345.1h0.64M264.3,343.7h0.64M265.8,329.3h0.64M266.3,332.3h0.64M266.4,338.3h0.64M264.2,343.2h0.64M263.9,334.3h0.64M264.1,333.7h0.64M266.0,331.1h0.64M264.3,330.6h0.64M264.9,331.9h0.64M265.3,331.1h0.64M264.3,332.1h0.64M266.0,333.2h0.64M265.0,331.2h0.64M265.8,340.8h0.64M264.4,330.3h0.64M264.8,331.3h0.64M263.8,331.8h0.64M264.9,331.8h0.64M266.6,340.9h0.64M264.0,338.2h0.64M265.9,342.4h0.64M264.3,333.7h0.64M266.1,336.8h0.64M266.4,342.7h0.64M263.6,337.0h0.64M266.6,336.9h0.64M264.1,335.3h0.64M264.3,344.2h0.64M263.5,336.6h0.64M265.5,332.3h0.64M265.6,341.6h0.64M264.9,331.7h0.64M264.2,331.9h0.64M266.0,340.8h0.64M264.2,342.6h0.64M266.1,340.4h0.64M263.8,339.5h0.64M266.2,339.4h0.64M263.9,339.4h0.64M266.0,334.6h0.64M264.8,342.7h0.64M266.2,333.5h0.64M265.8,332.9h0.64M266.0,342.6h0.64M266.7,333.3h0.64M263.9,339.6h0.64M263.7,337.2h0.64M265.0,329.7h0.64M264.2,339.7h0.64M266.5,342.7h0.64M266.0,342.4h0.64M265.3,331.9h0.64M264.2,331.8h0.64M266.5,337.9h0.64M264.9,341.5h0.64M266.1,342.0h0.64M266.6,337.1h0.64M266.7,339.4h0.64M265.5,345.1h0.64M264.1,334.7h0.64M263.8,339.1h0.64M266.6,341.7h0.64M263.5,337.1h0.64M263.6,333.8h0.64M264.7,343.1h0.64M266.0,332.2h0.64M264.2,341.2h0.64M266.6,332.8h0.64M265.2,331.5h0.64M266.1,341.7h0.64M266.1,344.3h0.64M266.9,336.4h0.64M264.4,330.1h0.64M264.5,330.2h0.64M266.7,332.5h0.64M266.6,340.5h0.64M265.1,328.4h0.64M264.0,339.0h0.64M264.5,332.0h0.64M264.3,334.0h0.64M266.5,338.3h0.64M266.6,340.9h0.64M265.4,344.2h0.64M263.9,334.8h0.64M264.9,329.3h0.64M263.9,342.2h0.64M264.0,340.4h0.64M263.8,334.2h0.64M264.9,342.2h0.64M264.0,341.1h0.64M265.0,331.1h0.64M264.2,340.2h0.64M265.8,340.7h0.64M266.0,333.4h0.64M266.6,332.0h0.64M266.0,330.3h0.64M264.6,333.6h0.64M264.7,333.2h0.64M264.1,341.8h0.64M264.6,343.4h0.64M264.3,340.4h0.64M266.2,336.7h0.64M264.0,340.8h0.64M266.2,336.6h0.64M266.2,341.4h0.64M264.6,331.9h0.64M263.6,333.4h0.64M263.8,336.1h0.64M264.3,341.8h0.64M264.6,344.0h0.64M264.9,332.8h0.64M266.1,334.3h0.64M266.7,337.8h0.64M266.1,335.1h0.64M264.5,340.4h0.64M264.8,329.3h0.64M266.3,342.8h0.64M265.2,332.3h0.64M266.7,332.8h0.64M264.0,332.8h0.64M266.1,334.7h0.64M265.9,341.0h0.64M266.3,342.2h0.64M264.2,338.5h0.64M263.9,340.8h0.64M263.5,337.9h0.64M266.6,335.5h0.64M263.6,338.2h0.64M264.4,339.5h0.64M266.7,333.1h0.64M263.8,335.4h0.64M266.8,335.4h0.64M264.7,329.1h0.64M264.5,331.4h0.64M263.6,335.0h0.64M266.2,330.3h0.64M266.7,337.2h0.64M266.1,332.1h0.64M264.3,338.7h0.64M265.7,341.0h0.64M265.1,328.7h0.64M263.8,339.2h0.64M264.8,343.8h0.64M265.5,331.4h0.64M266.2,332.8h0.64M263.9,331.4h0.64M265.3,343.4h0.64M264.4,339.3h0.64M265.3,331.5h0.64M265.0,344.7h0.64M265.1,330.1h0.64M265.4,344.5h0.64M266.3,335.5h0.64M264.7,330.1h0.64M266.8,340.7h0.64M264.0,335.5h0.64M265.3,331.0h0.64M264.3,336.9h0.64M265.9,332.0h0.64M263.9,341.0h0.64M266.2,342.9h0.64M266.8,340.9h0.64M265.1,345.5h0.64M264.5,343.8h0.64M265.1,344.8h0.64M263.8,335.0h0.64M264.3,341.4h0.64M263.8,340.6h0.64M265.1,331.1h0.64M265.7,342.1h0.64M264.9,341.5h0.64M265.2,342.0h0.64M264.5,343.5h0.64M263.8,331.7h0.64M265.9,332.2h0.64M266.1,341.4h0.64M263.5,335.9h0.64M263.7,334.8h0.64M264.5,331.7h0.64M264.1,336.7h0.64M265.4,345.2h0.64M264.0,333.6h0.64M265.0,330.0h0.64M264.0,340.2h0.64M263.9,331.5h0.64M266.4,336.0h0.64M266.1,336.7h0.64M266.2,339.9h0.64M264.0,333.8h0.64M264.3,336.5h0.64M266.3,339.5h0.64M263.5,336.1h0.64M265.8,343.0h0.64M264.0,333.6h0.64M263.9,335.5h0.64M266.4,342.6h0.64M266.0,343.1h0.64M265.9,331.0h0.64M266.8,337.2h0.64M264.3,335.9h0.64M264.9,331.7h0.64M264.7,343.6h0.64M266.0,334.1h0.64M266.4,342.8h0.64M266.1,329.4h0.64M265.9,342.7h0.64M265.1,343.5h0.64M266.2,341.4h0.64M265.9,344.8h0.64M265.5,344.9h0.64M265.6,332.3h0.64M264.3,339.8h0.64M266.8,338.8h0.64M266.3,332.9h0.64M263.8,341.1h0.64M264.1,339.6h0.64M265.2,329.5h0.64M264.3,341.7h0.64M264.4,333.5h0.64M265.9,342.2h0.64M263.6,337.4h0.64M264.0,339.8h0.64" stroke="#2a1a38" stroke-width="0.64" fill="none" opacity="0.9"/>
<path d="M264.0,329.7h0.64M267.4,341.6h0.64M263.4,345.7h0.64M263.8,348.1h0.64M267.0,330.5h0.64M267.1,333.7h0.64M267.3,344.5h0.64M266.3,328.6h0.64M265.0,345.9h0.64M266.1,345.0h0.64M263.5,339.9h0.64M266.8,343.4h0.64M263.5,344.3h0.64M267.4,336.3h0.64M263.6,330.9h0.64M266.8,344.8h0.64M264.8,327.6h0.64M264.0,343.8h0.64M265.3,327.0h0.64M265.5,347.3h0.64M265.1,324.7h0.64M267.5,337.5h0.64M266.4,328.7h0.64M264.6,348.3h0.64M266.6,326.2h0.64M266.2,326.5h0.64M264.0,343.8h0.64M265.0,345.8h0.64M265.9,327.5h0.64M266.1,326.4h0.64M266.7,345.8h0.64M267.1,343.4h0.64M266.8,327.7h0.64M264.8,325.6h0.64M263.8,342.8h0.64M266.2,327.3h0.64M265.0,327.3h0.64M266.9,329.7h0.64M267.3,332.7h0.64M266.4,328.3h0.64M264.3,349.0h0.64M266.2,328.5h0.64M267.3,335.1h0.64M265.6,347.2h0.64M263.7,347.8h0.64M266.1,347.3h0.64M267.5,333.0h0.64M266.4,329.9h0.64M263.8,329.7h0.64M263.7,345.8h0.64M263.6,344.1h0.64M266.9,342.8h0.64M266.7,332.0h0.64M265.2,350.1h0.64M267.0,340.9h0.64M265.0,347.3h0.64M265.9,349.6h0.64M266.1,325.4h0.64M264.2,348.4h0.64M263.5,329.1h0.64M265.9,325.8h0.64M264.4,326.9h0.64M265.0,346.2h0.64M265.4,348.4h0.64M266.8,327.2h0.64M267.4,333.0h0.64M264.4,346.1h0.64M266.3,345.3h0.64M265.9,325.5h0.64M264.5,327.5h0.64M263.9,330.5h0.64M263.9,345.2h0.64M264.2,326.5h0.64M264.5,328.5h0.64M264.7,328.2h0.64M263.6,332.4h0.64M267.2,331.3h0.64M266.8,341.2h0.64M264.1,329.8h0.64M263.6,328.4h0.64M266.0,325.1h0.64M267.0,332.0h0.64M264.7,348.7h0.64M266.7,330.3h0.64M266.2,327.8h0.64M266.9,329.5h0.64M267.8,339.2h0.64M264.8,324.5h0.64M266.4,344.1h0.64M267.8,336.4h0.64M263.7,329.3h0.64M266.1,327.7h0.64M267.4,338.1h0.64M267.5,334.2h0.64M264.6,327.1h0.64M266.7,326.4h0.64M266.8,345.6h0.64M264.2,345.6h0.64M267.5,341.7h0.64M263.7,344.1h0.64M267.7,339.8h0.64M263.6,330.5h0.64M266.9,344.4h0.64M266.4,326.1h0.64M266.9,329.7h0.64M266.9,328.6h0.64M267.0,338.4h0.64M265.0,345.9h0.64M267.3,342.6h0.64M266.4,329.6h0.64M266.2,329.6h0.64M267.2,345.7h0.64M264.5,345.2h0.64M267.5,337.7h0.64M265.6,346.7h0.64M266.9,332.7h0.64M264.4,348.0h0.64M267.5,339.1h0.64M265.6,327.8h0.64M263.5,339.7h0.64M264.4,344.9h0.64M263.9,330.6h0.64M265.9,347.3h0.64M264.9,326.9h0.64M263.4,341.8h0.64M266.9,338.9h0.64M266.7,347.7h0.64M267.0,338.5h0.64M267.0,339.5h0.64M267.3,336.3h0.64M267.7,333.0h0.64M266.1,327.4h0.64M267.3,341.7h0.64M265.8,349.5h0.64M267.8,337.5h0.64M267.1,339.6h0.64M266.7,345.2h0.64M267.2,341.3h0.64M265.4,347.3h0.64M266.2,327.7h0.64M263.6,330.6h0.64M264.0,345.4h0.64M266.0,324.9h0.64M263.8,346.7h0.64M266.2,344.7h0.64M267.1,328.8h0.64M264.5,325.6h0.64M266.5,346.0h0.64M267.4,338.3h0.64M264.7,346.9h0.64M263.4,335.5h0.64M263.7,330.1h0.64M267.0,345.9h0.64M264.1,328.5h0.64M263.7,326.4h0.64M267.5,338.3h0.64M267.7,340.5h0.64M265.1,349.3h0.64M264.4,328.9h0.64M265.6,328.2h0.64M263.6,331.7h0.64M267.0,329.6h0.64M264.8,349.7h0.64M266.2,345.9h0.64M263.6,343.3h0.64M264.9,345.8h0.64M267.5,332.8h0.64M267.1,343.5h0.64M265.2,327.5h0.64M267.3,331.1h0.64M266.9,343.0h0.64M264.6,328.0h0.64M266.9,328.0h0.64M266.7,331.9h0.64M267.4,335.0h0.64M267.0,341.1h0.64M265.4,349.1h0.64M267.7,339.6h0.64M267.0,341.7h0.64M267.3,341.4h0.64M265.7,346.5h0.64M267.7,334.1h0.64M267.6,337.5h0.64M266.7,347.3h0.64M264.5,327.9h0.64M263.5,334.1h0.64M267.2,334.5h0.64M264.9,347.1h0.64M266.9,329.0h0.64M264.3,325.9h0.64M264.0,327.7h0.64M267.2,332.1h0.64M264.8,347.2h0.64M267.7,337.1h0.64M264.3,329.0h0.64M266.0,346.6h0.64M266.1,328.9h0.64M266.2,349.2h0.64M263.4,341.2h0.64M265.6,348.0h0.64M265.7,346.3h0.64M263.5,329.7h0.64M266.5,330.1h0.64M265.6,325.2h0.64M265.3,327.1h0.64M264.1,329.0h0.64M264.9,349.4h0.64M265.9,327.1h0.64M263.9,344.7h0.64M267.0,338.9h0.64M266.8,330.4h0.64M266.9,334.2h0.64M264.7,325.1h0.64M263.5,340.9h0.64M263.9,345.8h0.64M263.5,331.2h0.64M263.5,333.4h0.64M267.3,333.6h0.64M263.7,332.3h0.64M266.1,345.0h0.64M267.5,332.6h0.64M265.0,327.3h0.64M267.3,343.1h0.64" stroke="#3a2a50" stroke-width="0.64" fill="none" opacity="0.9"/>
<path d="M264.6,339.9h0.64M265.6,339.4h0.64M265.1,338.3h0.64M265.8,339.0h0.64M265.8,336.6h0.64M265.3,336.9h0.64M265.5,335.4h0.64M264.5,338.3h0.64M264.4,338.3h0.64M264.4,338.3h0.64M264.9,335.8h0.64M264.9,333.7h0.64M265.0,339.2h0.64M264.4,336.5h0.64M265.4,333.2h0.64M265.6,338.7h0.64M265.2,334.0h0.64M264.7,333.5h0.64M264.8,338.4h0.64M264.9,333.8h0.64M266.0,336.1h0.64M265.7,337.0h0.64M264.9,335.3h0.64M265.5,338.5h0.64M265.3,338.9h0.64M264.6,334.3h0.64M264.7,334.5h0.64M265.5,340.6h0.64M265.2,334.9h0.64M264.7,340.5h0.64M266.1,337.8h0.64M264.4,339.2h0.64M265.3,336.9h0.64M264.5,335.1h0.64M265.1,334.6h0.64M265.5,337.5h0.64M265.1,333.1h0.64M264.8,339.7h0.64M265.8,334.2h0.64M264.6,337.3h0.64M266.0,338.3h0.64M265.1,337.3h0.64M265.9,336.9h0.64M265.3,340.0h0.64M264.5,337.3h0.64M265.8,338.5h0.64M265.3,334.9h0.64M265.0,340.5h0.64M265.1,332.7h0.64M266.0,336.7h0.64M265.7,338.8h0.64M265.4,337.3h0.64M265.0,339.3h0.64M265.3,333.3h0.64M264.9,335.4h0.64M265.5,341.1h0.64M264.7,335.1h0.64M265.4,339.6h0.64M265.9,335.8h0.64M264.7,338.7h0.64M264.7,338.6h0.64M264.4,337.6h0.64M265.1,335.7h0.64M264.8,336.3h0.64M264.4,336.2h0.64M265.4,334.8h0.64M265.4,338.9h0.64M264.8,340.1h0.64M265.4,335.6h0.64M265.1,340.9h0.64M265.7,339.9h0.64M265.4,336.6h0.64M265.7,336.8h0.64M265.3,340.0h0.64M264.6,336.3h0.64M264.5,335.7h0.64M264.5,335.9h0.64M265.9,335.1h0.64M265.2,340.6h0.64M264.8,335.7h0.64M265.9,335.6h0.64M265.0,336.0h0.64M265.4,336.4h0.64M265.3,333.5h0.64M265.7,337.0h0.64M265.3,337.1h0.64M265.3,337.0h0.64M264.7,339.8h0.64M264.9,340.1h0.64M265.3,339.1h0.64M265.6,333.8h0.64M264.4,336.5h0.64M264.3,336.8h0.64M264.7,335.9h0.64M265.7,339.7h0.64M265.1,340.0h0.64M265.7,337.7h0.64M264.9,337.1h0.64M265.3,335.5h0.64M265.7,334.5h0.64M265.1,334.0h0.64M265.6,335.4h0.64M265.0,338.4h0.64M264.9,336.6h0.64M265.6,338.8h0.64M266.0,337.7h0.64M264.7,335.2h0.64M264.8,336.9h0.64M264.9,341.0h0.64M264.4,338.6h0.64M265.4,334.2h0.64M265.9,336.2h0.64M265.8,335.3h0.64M265.6,334.9h0.64M265.1,337.6h0.64" stroke="#1a1024" stroke-width="0.64" fill="none" opacity="0.9"/>
<path d="M265.0,340.1h0.56M275.2,338.5h0.56M274.0,340.4h0.56M268.0,328.0h0.56M272.7,342.7h0.56M269.2,344.5h0.56M265.5,345.6h0.56M274.5,339.5h0.56M274.7,343.9h0.56M265.3,342.6h0.56M275.3,342.0h0.56M273.9,340.4h0.56M265.0,332.8h0.56M270.8,329.9h0.56M266.5,340.7h0.56M265.5,340.9h0.56M271.5,327.6h0.56M268.6,331.1h0.56M269.1,328.0h0.56M265.7,343.4h0.56M272.4,331.0h0.56M271.6,331.9h0.56M270.7,347.1h0.56M274.7,344.3h0.56M269.9,328.7h0.56M273.6,330.4h0.56M270.1,331.4h0.56M274.1,330.3h0.56M265.8,328.7h0.56M267.9,328.1h0.56M267.4,329.3h0.56M273.6,341.5h0.56M273.0,343.4h0.56M270.7,344.3h0.56M269.8,345.3h0.56M266.3,337.3h0.56M266.8,333.9h0.56M273.1,340.7h0.56M268.0,344.5h0.56M265.1,331.3h0.56M266.9,341.9h0.56M268.6,348.4h0.56M264.7,330.1h0.56M266.0,342.9h0.56M272.4,348.5h0.56M266.4,331.9h0.56M269.2,331.5h0.56M265.3,335.8h0.56M275.5,339.4h0.56M268.7,330.4h0.56M266.6,330.3h0.56M273.9,330.7h0.56M267.1,343.8h0.56M267.5,346.5h0.56M274.9,339.4h0.56M270.0,346.5h0.56M269.4,329.2h0.56M264.6,330.9h0.56M271.7,342.9h0.56M270.2,344.3h0.56M267.5,328.8h0.56M271.2,329.1h0.56M275.5,335.3h0.56M273.4,342.5h0.56M266.7,334.9h0.56M271.4,331.3h0.56M272.3,343.8h0.56M274.3,340.2h0.56M270.5,327.7h0.56M266.6,335.1h0.56M266.6,328.0h0.56M272.2,345.6h0.56M274.2,335.6h0.56M268.3,348.6h0.56M275.2,335.4h0.56M273.7,335.3h0.56M272.7,338.6h0.56M275.0,342.2h0.56M268.2,344.3h0.56M273.7,334.4h0.56M266.8,331.6h0.56M274.7,331.9h0.56M268.4,329.3h0.56M273.0,332.7h0.56M267.5,347.7h0.56M270.1,345.3h0.56M274.2,335.2h0.56M266.4,330.1h0.56M274.6,339.2h0.56M273.4,339.5h0.56M266.7,335.0h0.56M265.9,332.0h0.56M272.0,334.0h0.56M266.9,331.5h0.56M265.9,329.9h0.56M273.7,343.1h0.56M274.4,342.9h0.56M264.5,331.9h0.56M267.6,326.9h0.56M273.4,338.6h0.56M264.3,337.3h0.56M268.1,330.2h0.56M274.0,342.1h0.56M272.1,332.2h0.56M265.5,338.9h0.56M269.5,347.2h0.56M269.1,345.1h0.56M268.3,331.1h0.56M271.2,329.2h0.56M272.4,344.4h0.56M271.1,329.7h0.56M273.4,342.6h0.56M265.0,340.0h0.56M270.5,348.2h0.56M266.9,332.8h0.56M264.8,332.3h0.56M266.1,341.9h0.56M265.8,339.1h0.56M269.4,326.5h0.56M274.3,338.5h0.56M275.0,338.4h0.56M265.8,328.6h0.56M266.1,334.6h0.56M265.9,335.7h0.56M275.1,332.5h0.56M265.4,336.3h0.56M268.8,327.7h0.56M266.3,338.2h0.56M274.7,337.8h0.56M266.3,339.2h0.56M264.4,341.4h0.56M272.3,343.2h0.56M272.8,336.7h0.56M265.3,337.3h0.56M274.4,337.1h0.56M273.1,340.2h0.56M269.9,345.5h0.56M273.6,333.0h0.56M274.1,341.3h0.56M265.1,337.1h0.56M274.9,339.3h0.56M269.6,327.9h0.56M265.7,347.5h0.56M272.9,344.4h0.56M266.6,345.5h0.56M266.5,331.5h0.56M266.3,344.9h0.56M268.3,347.7h0.56M267.6,347.9h0.56M274.0,334.8h0.56M265.3,337.7h0.56M264.4,331.7h0.56M267.8,343.4h0.56M275.0,335.4h0.56M266.8,330.1h0.56M273.5,335.8h0.56M270.2,346.9h0.56M273.6,338.1h0.56M271.2,343.8h0.56M272.0,328.6h0.56M266.9,330.6h0.56M271.9,332.7h0.56M266.7,327.5h0.56M266.8,333.9h0.56M266.8,327.4h0.56M272.8,340.3h0.56M272.7,339.1h0.56M265.3,336.7h0.56M272.9,341.8h0.56M271.7,331.0h0.56M268.7,331.0h0.56M275.3,338.6h0.56M273.5,334.7h0.56M267.3,345.8h0.56M265.0,332.4h0.56M268.8,330.7h0.56M270.0,328.0h0.56M266.7,333.5h0.56M270.3,326.9h0.56M266.4,339.4h0.56M268.7,349.6h0.56M270.5,331.3h0.56M266.8,347.0h0.56M266.9,342.9h0.56M271.4,330.1h0.56M272.1,328.0h0.56M273.4,328.8h0.56M275.5,336.6h0.56M267.8,331.3h0.56M274.0,333.8h0.56M267.2,345.6h0.56M269.7,326.7h0.56M266.1,339.5h0.56M272.5,330.4h0.56M271.4,348.6h0.56M266.3,333.0h0.56M266.2,332.5h0.56M272.8,339.9h0.56M274.3,333.8h0.56M266.4,327.9h0.56M270.6,329.5h0.56M268.9,348.5h0.56M267.2,342.6h0.56M275.6,337.9h0.56M273.7,343.5h0.56M266.1,342.4h0.56M266.8,349.1h0.56M273.0,339.4h0.56M265.8,337.6h0.56M266.2,331.0h0.56M265.4,334.1h0.56M271.0,345.3h0.56M265.1,341.8h0.56M271.9,332.7h0.56M267.8,348.1h0.56M268.4,349.2h0.56M274.4,339.9h0.56M269.9,350.3h0.56M273.6,346.7h0.56M274.1,337.0h0.56M274.0,346.2h0.56M266.1,340.1h0.56M272.9,344.3h0.56M274.2,335.7h0.56M269.7,328.6h0.56M266.1,340.5h0.56M267.0,328.9h0.56M268.6,348.7h0.56M274.2,335.7h0.56M272.1,328.6h0.56M268.3,331.8h0.56M273.0,337.8h0.56M272.8,331.7h0.56M272.3,344.7h0.56M265.4,345.0h0.56M268.2,345.0h0.56M264.4,339.9h0.56M274.1,340.8h0.56M272.4,334.0h0.56M272.1,346.1h0.56M273.0,337.4h0.56M270.6,329.9h0.56M274.8,341.7h0.56M268.1,328.1h0.56M275.4,340.7h0.56M271.3,330.5h0.56" stroke="#5a4a78" stroke-width="0.56" fill="none" opacity="0.75"/>
<path d="M275.7,352.6h0.56M272.6,356.8h0.56M267.7,368.7h0.56M271.0,362.3h0.56M281.9,346.1h0.56M274.9,358.3h0.56M284.4,343.4h0.56M281.4,339.3h0.56M281.6,328.2h0.56M269.4,356.6h0.56M278.5,325.3h0.56M277.2,323.1h0.56M280.3,339.5h0.56M280.3,325.9h0.56M278.3,344.5h0.56M266.0,355.2h0.56M282.2,343.5h0.56M277.4,349.9h0.56M281.4,334.1h0.56M267.6,362.8h0.56M273.4,356.1h0.56M279.2,338.8h0.56M276.6,360.6h0.56M279.8,325.0h0.56M278.4,324.2h0.56M272.1,357.7h0.56M279.8,347.1h0.56M280.3,327.3h0.56M278.8,339.5h0.56M267.7,356.7h0.56M277.8,321.3h0.56M286.2,359.2h0.56M281.5,341.1h0.56M271.6,357.2h0.56M276.9,357.4h0.56M282.4,338.9h0.56M279.3,342.0h0.56M282.2,350.5h0.56M278.3,349.3h0.56M278.9,327.3h0.56M276.8,324.3h0.56M281.7,336.0h0.56M275.2,354.4h0.56M284.6,356.4h0.56M280.7,326.2h0.56M276.0,356.6h0.56" stroke="#a9a0bd" stroke-width="0.56" fill="none" opacity="0.75"/>
<path d="M271.1,335.7h0.56M269.1,332.5h0.56M269.7,342.6h0.56M267.7,339.9h0.56M270.7,335.8h0.56M271.4,335.4h0.56M267.5,335.2h0.56M269.7,339.2h0.56M271.5,338.4h0.56M268.1,334.8h0.56M266.9,335.2h0.56M267.4,334.7h0.56M271.9,337.9h0.56M269.8,334.0h0.56M268.7,337.2h0.56M268.0,332.9h0.56M271.2,338.3h0.56M267.9,342.1h0.56M267.1,336.0h0.56M268.9,334.7h0.56M271.7,334.2h0.56M270.7,339.7h0.56M266.6,336.9h0.56M268.1,335.1h0.56M272.5,338.5h0.56M267.2,341.8h0.56M271.0,336.1h0.56M269.1,333.6h0.56M270.4,336.2h0.56M272.3,340.6h0.56M267.1,334.2h0.56M271.4,341.1h0.56M271.7,338.6h0.56M270.0,334.9h0.56M271.6,337.1h0.56M266.6,340.2h0.56M268.1,333.7h0.56M267.3,337.6h0.56M267.7,337.2h0.56M272.1,339.4h0.56M270.6,341.7h0.56M269.1,343.2h0.56M270.5,337.1h0.56M268.4,334.3h0.56M267.8,338.1h0.56M272.5,336.8h0.56M272.4,337.1h0.56M270.9,337.4h0.56M270.7,342.7h0.56M268.1,334.8h0.56M269.7,339.6h0.56M267.1,339.1h0.56M269.9,340.9h0.56M267.8,339.0h0.56M272.4,336.3h0.56M272.4,337.3h0.56M271.9,338.2h0.56M268.9,334.3h0.56M269.8,332.2h0.56M268.2,338.8h0.56M270.6,341.4h0.56M271.3,335.7h0.56M269.9,339.8h0.56M267.4,335.1h0.56M271.3,336.3h0.56M267.1,335.2h0.56M269.2,343.6h0.56M270.5,333.6h0.56M269.7,343.4h0.56M270.3,341.3h0.56M271.6,335.2h0.56M267.8,333.7h0.56M269.3,337.6h0.56M269.0,343.6h0.56M269.0,339.6h0.56M269.7,341.9h0.56M270.1,342.1h0.56M269.8,340.6h0.56M271.0,332.7h0.56M269.4,332.7h0.56M268.4,341.0h0.56M270.4,342.9h0.56M268.3,333.5h0.56M270.3,334.8h0.56M270.6,341.0h0.56M270.9,338.8h0.56M268.0,339.1h0.56M270.1,342.3h0.56M267.8,339.8h0.56M271.2,343.0h0.56M272.6,338.6h0.56M271.2,334.7h0.56M270.2,341.0h0.56M272.1,335.2h0.56M271.3,341.5h0.56M270.8,339.8h0.56M271.8,338.1h0.56M268.3,337.8h0.56M270.8,334.4h0.56M269.2,335.0h0.56M267.8,334.9h0.56M269.0,334.2h0.56M271.0,338.9h0.56M272.3,337.3h0.56M268.8,335.0h0.56M269.4,337.4h0.56M270.3,338.3h0.56M269.6,332.4h0.56M270.7,335.1h0.56M267.1,335.3h0.56M268.3,338.7h0.56M269.1,334.7h0.56M268.0,339.9h0.56M267.8,333.6h0.56M270.3,332.9h0.56M270.8,342.8h0.56M269.9,340.9h0.56M270.3,333.9h0.56M269.9,337.1h0.56M268.0,334.1h0.56M269.3,340.5h0.56M269.2,342.1h0.56M268.6,334.8h0.56M271.4,336.5h0.56M268.3,339.0h0.56M266.6,338.2h0.56M268.5,337.4h0.56M268.3,342.2h0.56M269.4,339.4h0.56M267.8,337.3h0.56M272.0,336.1h0.56M271.2,340.4h0.56M270.8,336.2h0.56M272.3,339.5h0.56M269.3,335.5h0.56M270.4,332.2h0.56M269.5,341.1h0.56M271.5,333.5h0.56M271.3,334.4h0.56M271.3,340.5h0.56M270.6,340.3h0.56M268.6,338.1h0.56M267.6,338.8h0.56M269.4,339.4h0.56M269.5,343.9h0.56M268.9,336.7h0.56M270.1,332.4h0.56M271.4,334.3h0.56" stroke="#3a2a50" stroke-width="0.56" fill="none" opacity="0.75"/>
<path d="M266.0,324.4h0.56M267.8,355.0h0.56M270.0,351.0h0.56M266.6,326.7h0.56M275.2,345.1h0.56M276.2,348.0h0.56M277.8,340.6h0.56M276.0,336.9h0.56M267.7,322.1h0.56M267.1,352.5h0.56M275.7,342.2h0.56M270.6,355.6h0.56M268.6,324.8h0.56M277.7,340.7h0.56M265.3,352.4h0.56M278.5,336.5h0.56M270.5,354.4h0.56M264.9,347.9h0.56M266.8,354.2h0.56M277.8,335.4h0.56M264.3,352.8h0.56M272.3,351.9h0.56M265.4,354.1h0.56M274.4,348.9h0.56M272.2,349.9h0.56M273.7,328.9h0.56M276.8,338.9h0.56M274.3,327.3h0.56M276.2,329.3h0.56M272.7,353.2h0.56M276.5,332.1h0.56M275.8,327.5h0.56M273.4,354.7h0.56M269.3,351.1h0.56M272.5,350.2h0.56M277.3,340.9h0.56M278.6,340.2h0.56M276.2,344.8h0.56M275.3,342.5h0.56M264.9,348.6h0.56M267.5,354.5h0.56M272.6,325.1h0.56M264.4,324.4h0.56M274.4,350.3h0.56M266.0,323.1h0.56M270.8,323.0h0.56M273.6,349.1h0.56M275.4,333.4h0.56M276.8,334.8h0.56M266.1,351.1h0.56M269.2,354.9h0.56M271.8,355.3h0.56M274.1,329.7h0.56M276.8,345.9h0.56M276.9,343.1h0.56M270.8,352.7h0.56M277.3,335.4h0.56M277.2,336.9h0.56M277.4,344.5h0.56M275.2,329.0h0.56M267.9,323.8h0.56M274.0,325.9h0.56M276.8,342.9h0.56M272.7,354.0h0.56M276.7,341.7h0.56M274.4,325.1h0.56M272.3,349.2h0.56M268.7,323.6h0.56M266.1,349.4h0.56M269.1,355.9h0.56M268.5,325.5h0.56M265.5,324.5h0.56M272.7,352.0h0.56M268.8,324.7h0.56M276.7,333.3h0.56M278.7,337.0h0.56M274.9,345.9h0.56M266.8,326.9h0.56M270.0,324.0h0.56M271.5,321.9h0.56M274.7,324.4h0.56M265.6,326.9h0.56M276.0,339.4h0.56M276.4,329.1h0.56M275.1,348.6h0.56M265.8,326.9h0.56M272.3,354.7h0.56M273.0,353.8h0.56M276.5,347.9h0.56M269.5,321.8h0.56M266.7,350.1h0.56M267.3,324.4h0.56M276.1,332.0h0.56M265.1,325.5h0.56M267.6,324.8h0.56M275.3,327.9h0.56M277.4,328.8h0.56M267.4,351.2h0.56M275.8,337.8h0.56M278.0,334.9h0.56M275.7,335.5h0.56M273.4,327.9h0.56M265.1,328.6h0.56M274.1,326.6h0.56M275.1,330.5h0.56M276.4,337.9h0.56M276.6,333.6h0.56M271.9,325.9h0.56M265.9,349.8h0.56M273.6,321.5h0.56M271.4,324.4h0.56M267.0,352.7h0.56M275.8,340.6h0.56M270.5,352.9h0.56M267.4,325.2h0.56M277.7,344.4h0.56M275.0,329.6h0.56M273.0,326.3h0.56M265.0,348.8h0.56M269.3,350.4h0.56M276.6,346.7h0.56M277.8,333.2h0.56M268.2,353.2h0.56M278.0,335.9h0.56M270.3,321.4h0.56M274.0,329.3h0.56M270.0,323.5h0.56M277.1,343.8h0.56M272.7,349.5h0.56M265.5,352.6h0.56M275.2,329.1h0.56M268.4,354.3h0.56M270.9,324.2h0.56M273.5,321.4h0.56" stroke="#8a7aa5" stroke-width="0.56" fill="none" opacity="0.75"/>
<path d="M263.9,352.0h0.56M264.0,354.2h0.56M267.2,348.2h0.56M264.7,348.6h0.56M264.6,346.2h0.56M267.7,363.2h0.56M264.7,362.5h0.56M264.4,348.3h0.56M264.0,352.4h0.56M267.4,352.8h0.56M265.2,363.9h0.56M266.0,347.7h0.56M264.5,360.7h0.56M268.4,355.3h0.56M264.8,360.0h0.56M267.3,358.4h0.56M264.0,351.8h0.56M267.4,347.9h0.56M265.7,362.9h0.56M267.4,350.8h0.56M263.6,355.5h0.56M264.1,359.0h0.56M263.7,350.9h0.56M267.8,355.1h0.56M267.1,359.5h0.56M267.7,354.7h0.56M263.7,356.8h0.56M263.6,355.0h0.56M265.0,348.5h0.56M264.1,348.2h0.56M266.6,348.5h0.56M266.2,360.6h0.56M264.9,347.6h0.56M263.9,361.9h0.56M267.4,348.2h0.56M267.3,357.9h0.56M265.5,362.2h0.56M265.7,345.9h0.56M265.0,364.8h0.56M265.4,362.0h0.56M264.0,363.8h0.56M263.7,355.8h0.56M264.5,345.4h0.56M266.2,348.7h0.56M268.5,354.5h0.56M264.9,360.1h0.56M265.5,346.1h0.56M266.2,365.6h0.56M263.9,351.9h0.56M267.0,348.1h0.56M263.7,360.3h0.56M267.5,351.3h0.56M264.5,360.3h0.56M264.1,352.2h0.56M264.9,346.4h0.56M266.3,349.6h0.56M263.7,352.4h0.56M266.3,361.5h0.56M266.6,363.5h0.56M266.1,349.1h0.56M266.7,363.3h0.56M264.0,351.0h0.56M266.6,360.7h0.56M265.6,347.7h0.56M264.0,351.7h0.56M267.9,361.5h0.56M263.8,348.9h0.56M267.1,363.2h0.56M264.3,349.4h0.56M264.0,351.9h0.56M265.9,361.0h0.56M267.0,348.9h0.56M265.4,348.9h0.56M263.8,349.3h0.56M263.6,359.0h0.56M266.9,359.5h0.56M267.5,355.6h0.56M264.3,347.3h0.56M267.5,350.2h0.56M267.3,357.1h0.56M264.0,356.5h0.56M268.1,357.0h0.56M267.5,358.8h0.56M267.6,362.0h0.56M265.6,348.1h0.56M264.0,348.4h0.56M264.2,348.6h0.56M264.9,348.7h0.56M266.7,350.1h0.56M266.7,363.1h0.56M268.0,356.5h0.56M267.0,345.0h0.56M264.2,363.2h0.56M266.8,361.2h0.56M264.0,359.7h0.56M264.6,350.6h0.56M267.7,353.5h0.56M267.2,357.6h0.56M265.6,344.0h0.56M266.3,349.2h0.56M267.1,348.1h0.56M267.4,361.9h0.56M264.4,362.5h0.56M266.8,361.2h0.56M264.6,348.2h0.56M268.3,358.1h0.56M267.2,357.8h0.56M266.7,347.7h0.56M266.3,349.0h0.56M263.7,347.4h0.56M264.5,349.1h0.56M265.9,362.6h0.56M265.8,361.3h0.56M267.9,356.4h0.56M264.5,365.4h0.56M267.6,356.3h0.56M268.3,356.1h0.56M264.0,356.7h0.56M268.1,357.5h0.56M264.3,361.6h0.56M266.1,345.1h0.56M267.5,357.6h0.56M265.3,349.0h0.56M265.3,347.7h0.56M267.7,358.6h0.56M264.1,353.3h0.56M268.4,357.8h0.56M266.7,361.3h0.56M264.2,359.0h0.56" stroke="#6a5a8a" stroke-width="0.56" fill="none" opacity="0.75"/>
<path d="M264.5,352.9h0.56M265.0,351.8h0.56M266.1,355.0h0.56M264.5,358.6h0.56M265.2,353.7h0.56M266.6,355.1h0.56M267.0,353.0h0.56M265.0,355.9h0.56M266.3,358.9h0.56M265.2,355.9h0.56M266.2,352.1h0.56M264.9,353.1h0.56M265.7,352.1h0.56M264.4,357.5h0.56M266.0,358.0h0.56M264.6,356.1h0.56M265.1,353.6h0.56M264.5,355.2h0.56M265.2,355.9h0.56M266.4,355.9h0.56M266.4,358.9h0.56M267.1,354.4h0.56M265.1,351.9h0.56M266.6,357.1h0.56M265.8,357.8h0.56M264.3,353.3h0.56M264.7,351.8h0.56M266.1,356.2h0.56M265.8,354.0h0.56M265.4,359.1h0.56M266.0,357.5h0.56M266.7,353.7h0.56M266.8,355.4h0.56M265.3,356.8h0.56M265.4,353.1h0.56M266.1,358.4h0.56M266.1,355.0h0.56M265.2,356.5h0.56M267.1,356.8h0.56M266.1,354.4h0.56M264.9,358.2h0.56M266.1,354.4h0.56M264.9,358.5h0.56M265.0,356.8h0.56M266.5,354.2h0.56M265.0,360.0h0.56M265.3,354.8h0.56M265.3,352.2h0.56M266.7,354.2h0.56M266.2,358.9h0.56M265.6,359.9h0.56M265.8,355.1h0.56M266.2,355.4h0.56M265.1,356.9h0.56M265.5,359.0h0.56M264.6,355.9h0.56M266.1,357.4h0.56M265.9,360.4h0.56M265.2,352.2h0.56M265.4,359.4h0.56M264.6,353.7h0.56M266.5,353.7h0.56M265.4,351.7h0.56M265.5,352.2h0.56M264.1,356.5h0.56M265.7,358.8h0.56M265.7,356.0h0.56M266.1,358.6h0.56M264.7,357.9h0.56M265.5,355.5h0.56M264.9,356.2h0.56M265.8,355.4h0.56M265.1,349.8h0.56M264.1,356.1h0.56M265.3,354.2h0.56M266.2,349.9h0.56M265.8,353.6h0.56M266.9,356.3h0.56M265.5,358.8h0.56M264.9,350.9h0.56M264.4,351.9h0.56M265.9,350.8h0.56" stroke="#3a2a50" stroke-width="0.56" fill="none" opacity="0.75"/>
<path d="M266.9,343.8h0.56M265.6,371.1h0.56M270.3,353.1h0.56M267.2,365.2h0.56M263.6,345.3h0.56M265.0,341.3h0.56M267.2,339.4h0.56M264.9,341.7h0.56M269.4,359.1h0.56M266.1,338.4h0.56M269.4,355.0h0.56M266.9,338.8h0.56M268.8,360.0h0.56M266.7,340.3h0.56M269.2,352.9h0.56M266.0,338.9h0.56M267.8,365.3h0.56M264.7,336.3h0.56M267.1,365.8h0.56M268.0,367.3h0.56M266.2,341.8h0.56M267.3,366.8h0.56M268.5,360.4h0.56M269.0,356.3h0.56M264.8,366.7h0.56M266.3,337.1h0.56M266.7,343.9h0.56M264.5,367.1h0.56M266.5,341.0h0.56M269.8,354.2h0.56M267.6,342.5h0.56M267.2,370.0h0.56M270.7,350.2h0.56M266.2,341.9h0.56M268.2,363.2h0.56M269.3,363.0h0.56M265.7,342.3h0.56M271.8,358.3h0.56M265.6,340.8h0.56M267.3,364.6h0.56M268.5,372.3h0.56M267.2,373.0h0.56M268.9,350.7h0.56" stroke="#9a8ab0" stroke-width="0.56" fill="none" opacity="0.75"/>
<path d="M272.9,343.7h0.52M271.7,338.2h0.52M273.1,343.8h0.52M270.7,336.2h0.52M271.6,351.2h0.52M273.3,337.2h0.52M269.9,346.0h0.52M275.3,344.6h0.52M274.1,341.0h0.52M273.4,346.1h0.52M268.2,343.9h0.52M272.5,352.6h0.52M269.8,345.4h0.52M269.1,344.8h0.52M271.7,335.8h0.52M275.3,342.0h0.52M273.8,343.6h0.52M270.4,336.8h0.52M272.7,344.7h0.52M267.7,339.1h0.52M268.7,343.4h0.52M275.4,346.2h0.52M274.5,340.8h0.52M269.0,343.4h0.52M271.6,349.2h0.52M272.5,349.8h0.52M273.3,341.5h0.52M274.9,340.4h0.52M272.2,338.0h0.52M273.0,350.9h0.52M274.5,341.1h0.52M275.0,341.3h0.52M269.6,337.7h0.52M270.6,340.1h0.52M274.9,349.3h0.52M270.0,337.6h0.52M270.7,340.8h0.52M271.8,351.4h0.52M273.7,350.7h0.52M272.7,341.3h0.52M272.5,337.0h0.52M269.2,346.0h0.52M270.7,341.9h0.52M273.1,340.1h0.52M273.8,343.4h0.52M268.6,344.0h0.52M268.6,348.7h0.52M269.0,344.1h0.52M273.2,337.9h0.52M275.7,349.0h0.52M274.6,342.4h0.52M269.4,348.8h0.52M269.1,346.2h0.52M270.2,347.0h0.52M270.2,349.3h0.52M274.2,350.4h0.52M270.5,346.8h0.52M272.2,349.1h0.52M272.6,347.9h0.52M270.9,346.3h0.52" stroke="#8a7aa5" stroke-width="0.52" fill="none" opacity="0.65"/>
<path d="M278.6,333.6h0.52M272.4,353.1h0.52M278.4,338.6h0.52M272.8,355.0h0.52M266.8,340.3h0.52M268.3,335.9h0.52M268.5,329.2h0.52M270.4,355.4h0.52M266.3,340.6h0.52M277.3,341.0h0.52M274.4,336.2h0.52M276.5,338.9h0.52M266.2,344.5h0.52M265.1,344.0h0.52M265.9,339.3h0.52M273.4,330.8h0.52M267.7,356.5h0.52M268.0,350.3h0.52M265.1,333.4h0.52M280.9,345.4h0.52M268.6,352.1h0.52M269.9,336.0h0.52M268.6,356.4h0.52M270.4,335.3h0.52M278.2,331.6h0.52M267.2,339.9h0.52M276.5,349.3h0.52M271.4,331.4h0.52M276.9,356.1h0.52M276.6,331.6h0.52M265.3,338.0h0.52M272.1,334.4h0.52M272.8,356.7h0.52M265.4,341.9h0.52M277.2,357.0h0.52M273.0,335.1h0.52M268.8,335.3h0.52M279.0,352.4h0.52M274.5,358.4h0.52M274.6,328.6h0.52M266.6,349.1h0.52M276.2,337.3h0.52M265.6,339.0h0.52M265.3,345.5h0.52M266.3,348.3h0.52M277.3,345.3h0.52M266.9,336.8h0.52M278.5,346.1h0.52M264.9,352.0h0.52M278.3,340.9h0.52M265.4,338.8h0.52M272.5,332.2h0.52M267.0,331.1h0.52M269.8,335.9h0.52M276.3,335.7h0.52M278.9,333.9h0.52M271.0,357.0h0.52M280.8,343.6h0.52M273.6,334.3h0.52M264.5,350.0h0.52M275.6,329.7h0.52M279.0,331.4h0.52M269.4,352.8h0.52M277.8,342.8h0.52M268.6,329.5h0.52M272.0,355.7h0.52M275.9,354.3h0.52M265.1,339.5h0.52M270.0,330.4h0.52M268.4,352.0h0.52M267.5,339.5h0.52M266.4,355.2h0.52M277.3,339.9h0.52M267.9,336.2h0.52M265.8,352.7h0.52M273.8,335.1h0.52M273.8,352.7h0.52M275.6,351.1h0.52M269.0,333.2h0.52M277.1,332.1h0.52M272.2,354.8h0.52M272.1,333.9h0.52M266.3,333.7h0.52M267.2,329.7h0.52M271.0,330.2h0.52M277.3,353.7h0.52M277.7,354.9h0.52M275.5,336.4h0.52M267.6,332.7h0.52M269.6,334.0h0.52M270.9,328.8h0.52M265.7,331.0h0.52M278.8,343.0h0.52M268.9,354.9h0.52M270.3,333.2h0.52" stroke="#a9a0bd" stroke-width="0.52" fill="none" opacity="0.65"/>
<path d="M279.7,328.1h0.52M278.6,364.8h0.52M280.9,334.2h0.52M279.4,324.6h0.52M284.3,349.4h0.52M282.7,351.3h0.52M276.7,327.8h0.52M281.9,330.9h0.52M272.1,373.3h0.52M265.5,363.3h0.52M280.9,355.9h0.52M282.5,344.5h0.52M283.8,321.9h0.52M268.8,380.3h0.52M284.4,352.3h0.52M268.6,327.5h0.52M286.6,331.5h0.52M272.3,368.3h0.52M277.4,362.0h0.52M280.7,363.8h0.52M276.7,321.9h0.52M273.4,326.5h0.52M283.7,345.0h0.52M280.7,331.5h0.52M284.4,353.0h0.52M283.9,337.8h0.52M285.3,339.5h0.52M282.7,335.7h0.52M269.3,365.3h0.52M272.4,325.7h0.52M280.0,363.7h0.52M278.5,363.4h0.52M265.9,328.1h0.52M284.4,343.8h0.52M266.9,326.9h0.52M269.8,365.4h0.52M294.4,361.2h0.52M282.6,346.0h0.52M281.3,363.2h0.52" stroke="#c0b8d0" stroke-width="0.52" fill="none" opacity="0.65"/>
<path d="M357.0,331.4h0.64M356.2,345.9h0.64M354.1,325.8h0.64M357.2,337.9h0.64M356.9,330.6h0.64M357.4,341.6h0.64M353.8,332.4h0.64M357.0,345.5h0.64M356.6,342.3h0.64M356.8,325.8h0.64M357.2,342.4h0.64M355.5,348.2h0.64M354.2,343.1h0.64M357.2,333.4h0.64M357.0,327.7h0.64M357.7,334.4h0.64M354.6,324.9h0.64M357.7,337.7h0.64M357.2,341.2h0.64M355.2,322.0h0.64M353.9,347.0h0.64M356.8,327.1h0.64M357.4,342.2h0.64M355.2,324.2h0.64M357.5,338.3h0.64M354.8,326.0h0.64M354.6,348.9h0.64M357.3,328.6h0.64M354.3,347.8h0.64M355.9,345.1h0.64M356.6,344.0h0.64M354.1,328.5h0.64M357.1,334.9h0.64M354.9,324.7h0.64M354.2,328.9h0.64M353.8,326.4h0.64M357.2,336.7h0.64M354.8,325.7h0.64M356.6,343.2h0.64M353.9,344.2h0.64M357.1,332.6h0.64M356.9,340.8h0.64M356.7,324.4h0.64M357.2,332.5h0.64M355.7,346.8h0.64M354.1,327.6h0.64M356.5,326.4h0.64M357.3,333.8h0.64M357.3,333.9h0.64M353.7,332.0h0.64M355.2,346.1h0.64M356.6,342.9h0.64M356.2,347.6h0.64M354.0,345.9h0.64M356.8,343.5h0.64M353.7,334.2h0.64M356.0,348.2h0.64M354.1,327.6h0.64M356.7,326.0h0.64M356.2,327.8h0.64M354.6,344.9h0.64M353.7,335.1h0.64M356.1,345.0h0.64M353.9,329.8h0.64M354.4,344.5h0.64M354.0,326.4h0.64M354.3,326.1h0.64M357.7,336.0h0.64M357.4,333.6h0.64M357.7,335.6h0.64M356.4,344.6h0.64M356.3,345.2h0.64M357.0,332.8h0.64M354.2,326.4h0.64M353.8,340.4h0.64M355.1,326.0h0.64M354.1,329.0h0.64M353.9,331.4h0.64M355.7,325.1h0.64M355.9,323.7h0.64M354.6,325.3h0.64M355.2,345.4h0.64M357.5,343.0h0.64M354.1,343.3h0.64M356.2,324.3h0.64M354.5,346.1h0.64M353.7,331.9h0.64M355.9,348.9h0.64M355.0,322.3h0.64M354.9,324.7h0.64M356.9,331.0h0.64M356.1,346.9h0.64M356.0,325.3h0.64M356.5,326.1h0.64M357.3,337.5h0.64M357.7,333.3h0.64M357.4,342.5h0.64M357.7,333.3h0.64M356.5,324.2h0.64M357.6,332.6h0.64M355.9,327.1h0.64M355.9,345.1h0.64M357.1,344.6h0.64M357.0,339.8h0.64M354.6,346.5h0.64M356.1,326.6h0.64M357.2,336.7h0.64M354.9,324.0h0.64M356.7,328.1h0.64M355.2,347.1h0.64M353.6,337.3h0.64M357.4,332.7h0.64M353.8,346.6h0.64M356.5,324.5h0.64M353.8,332.1h0.64M354.0,343.9h0.64M357.3,332.1h0.64M356.5,325.7h0.64M356.9,331.5h0.64M354.2,325.6h0.64M354.1,346.9h0.64M356.4,325.0h0.64M357.1,329.5h0.64M354.3,344.5h0.64M357.3,335.1h0.64M354.3,343.7h0.64M356.3,324.9h0.64M355.5,347.7h0.64M353.8,344.2h0.64M356.0,345.6h0.64M357.5,332.9h0.64M353.7,326.3h0.64M354.0,341.2h0.64M355.2,323.9h0.64M356.6,342.9h0.64M357.7,340.4h0.64M356.8,343.8h0.64M354.7,345.9h0.64M356.1,348.2h0.64M353.8,345.5h0.64M357.0,328.0h0.64M357.5,330.1h0.64M355.0,348.7h0.64M355.0,347.2h0.64M353.9,346.2h0.64M355.8,325.4h0.64M354.6,326.0h0.64M355.6,346.4h0.64M355.8,347.7h0.64M357.3,337.2h0.64M353.8,339.9h0.64M354.0,328.4h0.64M355.2,347.9h0.64M356.7,347.6h0.64M357.6,334.5h0.64M354.0,347.6h0.64M356.8,326.9h0.64M356.7,329.4h0.64M356.2,346.4h0.64M355.8,345.9h0.64M354.8,345.1h0.64M357.8,335.4h0.64M354.8,344.7h0.64M355.0,322.8h0.64M357.6,337.9h0.64M355.9,349.5h0.64M354.5,345.3h0.64M353.9,341.9h0.64M356.6,347.5h0.64M354.5,343.9h0.64M356.6,345.7h0.64M354.8,325.1h0.64M357.2,339.5h0.64M353.9,330.8h0.64M357.0,328.7h0.64M355.2,349.3h0.64M356.1,345.3h0.64M354.0,345.0h0.64M353.8,327.0h0.64M356.7,344.1h0.64M357.4,336.1h0.64M354.6,323.1h0.64M356.6,346.6h0.64M355.4,324.9h0.64M356.7,342.4h0.64M355.7,325.8h0.64M355.4,346.7h0.64M353.9,332.1h0.64M354.8,323.9h0.64M354.8,327.3h0.64M353.6,333.3h0.64M354.7,325.4h0.64M355.7,346.2h0.64M357.3,340.0h0.64M354.2,325.5h0.64M354.7,346.1h0.64M353.9,345.6h0.64M355.3,324.7h0.64M354.4,343.7h0.64M357.3,336.6h0.64M355.0,349.4h0.64M356.8,326.1h0.64M354.8,326.8h0.64M354.6,327.9h0.64M353.7,329.1h0.64M354.2,329.0h0.64M353.6,329.3h0.64M356.6,325.0h0.64M356.0,325.7h0.64M355.0,348.7h0.64M357.2,341.1h0.64M355.8,325.8h0.64M356.0,348.2h0.64M356.2,348.6h0.64M354.8,326.5h0.64M357.4,331.5h0.64M357.9,335.6h0.64M356.8,346.1h0.64M353.9,341.4h0.64M354.0,347.5h0.64M355.6,347.8h0.64M354.6,327.1h0.64M355.3,323.8h0.64M354.7,349.4h0.64M353.7,329.9h0.64M357.6,337.9h0.64M354.4,325.2h0.64M356.5,324.5h0.64M357.0,340.1h0.64M356.6,347.3h0.64M356.7,342.9h0.64M354.8,346.2h0.64M356.9,344.2h0.64M355.8,345.7h0.64M353.7,332.4h0.64M357.3,334.0h0.64M356.5,345.2h0.64M354.5,345.2h0.64M357.4,332.2h0.64M354.3,343.0h0.64M353.8,340.2h0.64M357.2,340.2h0.64M355.4,325.6h0.64M354.0,345.1h0.64M353.7,328.4h0.64M354.7,345.7h0.64M355.9,326.9h0.64M354.9,349.2h0.64M355.9,323.5h0.64M357.5,339.7h0.64M355.3,326.7h0.64M355.7,326.5h0.64M353.8,339.1h0.64M354.4,326.2h0.64M356.5,346.3h0.64M353.8,330.1h0.64M353.8,343.6h0.64M353.8,330.8h0.64M356.9,330.7h0.64M357.8,339.0h0.64M356.0,346.6h0.64M355.6,324.2h0.64M356.6,343.6h0.64M355.1,346.6h0.64M353.9,328.8h0.64M355.2,324.9h0.64M355.6,345.8h0.64M357.2,332.3h0.64M357.4,338.2h0.64M357.8,334.5h0.64M357.4,334.0h0.64M354.1,348.0h0.64M357.2,337.3h0.64M353.7,327.9h0.64M356.6,323.9h0.64M355.2,347.9h0.64M354.6,327.2h0.64M355.4,346.3h0.64M355.6,349.1h0.64M355.3,346.9h0.64M355.0,322.7h0.64M355.9,325.1h0.64M357.3,336.9h0.64M357.0,346.2h0.64M357.1,332.9h0.64M356.8,343.7h0.64M355.6,325.0h0.64M357.1,331.1h0.64M356.4,327.7h0.64M357.0,328.1h0.64M353.7,341.6h0.64M357.4,343.9h0.64M354.2,345.4h0.64M357.3,336.1h0.64M355.1,347.7h0.64M354.2,328.6h0.64M357.0,341.7h0.64M353.7,335.8h0.64M357.3,337.5h0.64" stroke="#3a1a38" stroke-width="0.64" fill="none" opacity="0.9"/>
<path d="M356.5,340.3h0.64M355.8,342.2h0.64M354.2,337.9h0.64M354.9,342.0h0.64M355.6,326.9h0.64M356.3,328.7h0.64M356.5,336.0h0.64M357.0,334.9h0.64M355.6,329.0h0.64M356.6,340.2h0.64M356.3,340.6h0.64M355.7,330.6h0.64M355.7,342.9h0.64M355.8,344.7h0.64M355.7,342.8h0.64M355.6,328.0h0.64M355.8,340.8h0.64M355.4,341.8h0.64M354.3,331.7h0.64M356.4,338.7h0.64M354.4,331.2h0.64M356.3,333.0h0.64M356.7,336.7h0.64M356.1,343.7h0.64M354.6,333.9h0.64M354.3,329.8h0.64M355.2,327.2h0.64M354.3,336.8h0.64M355.7,341.2h0.64M356.6,329.9h0.64M354.2,332.1h0.64M355.2,341.4h0.64M354.2,338.2h0.64M355.8,345.1h0.64M356.3,336.6h0.64M356.0,330.2h0.64M355.0,330.5h0.64M354.4,336.9h0.64M355.2,330.5h0.64M355.2,344.2h0.64M354.8,331.0h0.64M356.3,329.4h0.64M355.7,330.7h0.64M356.0,339.9h0.64M354.8,344.2h0.64M354.4,333.3h0.64M353.8,333.8h0.64M354.0,337.2h0.64M356.2,333.9h0.64M355.8,342.1h0.64M354.9,328.7h0.64M355.4,342.0h0.64M354.2,342.5h0.64M354.5,335.0h0.64M356.1,330.9h0.64M356.5,331.5h0.64M356.1,332.9h0.64M356.5,336.7h0.64M354.6,333.9h0.64M355.8,341.6h0.64M355.3,326.8h0.64M355.7,341.1h0.64M354.3,329.3h0.64M356.0,327.6h0.64M355.6,326.9h0.64M356.9,336.6h0.64M354.7,328.9h0.64M353.8,334.2h0.64M355.3,345.1h0.64M356.4,337.9h0.64M354.5,341.5h0.64M356.6,334.9h0.64M354.2,337.9h0.64M355.3,329.4h0.64M354.6,341.5h0.64M355.4,330.2h0.64M355.8,344.0h0.64M355.5,329.8h0.64M354.3,339.2h0.64M356.0,328.0h0.64M354.0,339.8h0.64M354.9,329.0h0.64M356.6,339.8h0.64M355.2,340.9h0.64M355.8,328.7h0.64M354.7,344.3h0.64M355.4,344.5h0.64M354.4,342.4h0.64M354.1,341.4h0.64M356.4,331.0h0.64M354.7,330.6h0.64M354.3,341.0h0.64M356.8,331.3h0.64M354.6,338.4h0.64M354.7,339.8h0.64M356.7,338.8h0.64M355.6,330.4h0.64M355.8,341.8h0.64M354.5,332.4h0.64M355.9,342.7h0.64M356.7,331.8h0.64M354.3,336.7h0.64M355.9,327.6h0.64M354.8,330.5h0.64M355.9,340.4h0.64M354.9,342.3h0.64M356.5,339.5h0.64M356.2,330.0h0.64M355.8,326.9h0.64M355.9,330.5h0.64M354.9,343.2h0.64M356.6,339.5h0.64M356.7,341.6h0.64M357.0,336.7h0.64M355.1,329.6h0.64M355.7,330.2h0.64M354.4,331.0h0.64M355.0,343.8h0.64M355.4,342.0h0.64M355.2,328.0h0.64M355.2,328.0h0.64M356.1,344.3h0.64M356.4,339.5h0.64M354.3,341.3h0.64M356.8,336.9h0.64M356.6,341.4h0.64M354.7,331.7h0.64M356.4,339.4h0.64M354.2,333.4h0.64M355.9,331.0h0.64M356.4,337.1h0.64M354.7,329.5h0.64M356.4,343.0h0.64M354.5,333.6h0.64M354.2,335.1h0.64M354.1,332.6h0.64M355.0,331.6h0.64M353.8,337.7h0.64M355.4,328.3h0.64M353.8,335.9h0.64M354.2,334.9h0.64M354.8,344.5h0.64M355.5,343.6h0.64M354.2,341.1h0.64M354.3,337.0h0.64M356.2,332.4h0.64M356.2,328.8h0.64M354.4,337.0h0.64M355.2,328.3h0.64M355.2,331.3h0.64M355.6,343.6h0.64M355.1,330.2h0.64M355.9,342.0h0.64M355.6,343.5h0.64M354.3,331.7h0.64M356.5,339.8h0.64M355.4,329.2h0.64M354.4,336.0h0.64M356.3,334.3h0.64M355.6,330.7h0.64M354.5,331.9h0.64M355.8,340.7h0.64M355.7,329.6h0.64M356.2,342.2h0.64M356.7,338.1h0.64M356.0,342.1h0.64M356.9,339.5h0.64M354.7,340.7h0.64M356.3,335.6h0.64M356.6,337.6h0.64M356.1,332.8h0.64M354.3,340.7h0.64M355.6,342.8h0.64M354.3,333.9h0.64M354.4,342.2h0.64M357.0,338.3h0.64M355.7,344.1h0.64M356.0,341.2h0.64M356.1,331.4h0.64M354.9,328.0h0.64M355.9,342.4h0.64M355.1,329.1h0.64M354.8,340.0h0.64M356.8,332.7h0.64M354.7,344.0h0.64M354.5,340.1h0.64M356.3,337.3h0.64M354.6,334.7h0.64M355.1,329.3h0.64M356.1,340.9h0.64M354.1,341.0h0.64M356.2,331.2h0.64M355.0,344.0h0.64M356.7,334.8h0.64M356.2,331.2h0.64M354.0,339.9h0.64M356.9,339.3h0.64M355.2,341.2h0.64M354.2,341.4h0.64M356.9,339.5h0.64M354.8,342.1h0.64M356.9,337.2h0.64M354.0,341.0h0.64M356.5,329.9h0.64M354.9,343.9h0.64M356.3,335.3h0.64M355.8,342.1h0.64M354.9,330.0h0.64M354.5,340.1h0.64M356.8,334.4h0.64M354.5,341.4h0.64M355.5,342.8h0.64M354.9,341.0h0.64M355.9,327.4h0.64M355.1,329.3h0.64M355.1,328.2h0.64M356.5,342.2h0.64M354.8,330.3h0.64M356.2,335.1h0.64M354.3,329.3h0.64M354.4,341.5h0.64M355.1,344.8h0.64M357.0,334.9h0.64M355.7,331.2h0.64M356.5,333.2h0.64M354.6,334.0h0.64M354.5,330.9h0.64M354.6,341.2h0.64M356.5,331.2h0.64M356.3,338.7h0.64M353.8,336.9h0.64M356.0,327.5h0.64M355.2,330.5h0.64M356.4,336.9h0.64M356.5,336.4h0.64M356.9,333.2h0.64M355.1,329.4h0.64M354.4,333.0h0.64M354.2,341.6h0.64M354.6,341.8h0.64M356.6,331.5h0.64M356.6,340.5h0.64M355.3,329.8h0.64M355.0,330.9h0.64M356.1,339.1h0.64M354.2,340.5h0.64M355.7,345.1h0.64M355.1,330.6h0.64M356.7,333.4h0.64M356.0,343.7h0.64M356.3,335.7h0.64M354.4,329.4h0.64M354.7,331.1h0.64M354.5,340.3h0.64M356.2,333.8h0.64M355.3,328.2h0.64M354.2,336.4h0.64M356.1,331.6h0.64M355.7,331.1h0.64M356.8,337.9h0.64M356.1,339.8h0.64M354.7,342.6h0.64M354.5,330.7h0.64M355.8,340.3h0.64M354.7,340.6h0.64M355.3,327.5h0.64M354.8,344.6h0.64M356.8,332.4h0.64M354.3,339.6h0.64M354.8,330.0h0.64M354.7,338.5h0.64M356.4,331.8h0.64M354.1,339.9h0.64M356.7,340.5h0.64M354.7,328.8h0.64M353.9,337.6h0.64M354.0,337.7h0.64M357.0,335.6h0.64M355.8,344.4h0.64M356.4,343.1h0.64M356.9,337.3h0.64M354.1,335.4h0.64M355.6,329.3h0.64M355.9,331.8h0.64M357.0,338.7h0.64M356.5,339.3h0.64M354.3,340.7h0.64M355.3,329.1h0.64M353.9,337.2h0.64M353.9,333.3h0.64M354.4,341.6h0.64M354.2,336.7h0.64M357.0,336.5h0.64M354.5,341.6h0.64M355.4,343.1h0.64M356.4,329.0h0.64M356.1,329.0h0.64M355.4,327.2h0.64M356.4,341.3h0.64M355.8,345.0h0.64M354.0,339.6h0.64M355.8,343.9h0.64M356.2,343.2h0.64M356.2,328.9h0.64M356.8,335.0h0.64M355.0,329.8h0.64M354.3,332.9h0.64M354.2,336.5h0.64M354.9,340.5h0.64M355.6,329.8h0.64M354.8,328.1h0.64M355.2,329.0h0.64M354.2,334.4h0.64M355.1,342.6h0.64M355.2,343.3h0.64M356.1,332.2h0.64M355.6,329.1h0.64M354.0,332.6h0.64M356.8,335.5h0.64M354.4,335.0h0.64M353.9,334.6h0.64M354.3,336.0h0.64M354.9,327.0h0.64M356.3,341.7h0.64M356.2,328.0h0.64M354.6,343.1h0.64M354.0,334.7h0.64M355.8,340.6h0.64M355.7,328.1h0.64M355.9,342.0h0.64M354.9,343.6h0.64M355.4,342.3h0.64M354.4,342.1h0.64M354.7,339.2h0.64M354.4,341.1h0.64M356.2,333.4h0.64M356.4,334.0h0.64M356.3,338.5h0.64M355.0,341.4h0.64M356.2,342.8h0.64M354.2,332.9h0.64M355.5,326.9h0.64M356.3,337.7h0.64M354.4,337.2h0.64M356.8,336.7h0.64M356.6,337.8h0.64M354.3,330.1h0.64M354.8,343.7h0.64M354.0,338.0h0.64M356.4,332.6h0.64M356.1,332.4h0.64M355.2,341.3h0.64M355.2,329.5h0.64M354.6,333.4h0.64M356.6,333.6h0.64M353.8,335.2h0.64M356.7,334.6h0.64M355.8,329.7h0.64M353.9,335.8h0.64M355.8,341.9h0.64M355.7,330.7h0.64M355.9,329.0h0.64" stroke="#4a1020" stroke-width="0.64" fill="none" opacity="0.9"/>
<path d="M357.9,344.8h0.64M356.7,324.1h0.64M358.4,331.5h0.64M358.0,332.6h0.64M356.3,349.6h0.64M358.2,333.1h0.64M354.3,353.6h0.64M357.9,327.0h0.64M355.6,350.0h0.64M355.3,352.8h0.64M356.6,348.8h0.64M358.0,325.4h0.64M358.7,335.2h0.64M357.7,343.5h0.64M354.2,351.8h0.64M354.4,350.9h0.64M357.7,330.1h0.64M357.5,325.0h0.64M353.8,324.9h0.64M354.0,349.6h0.64M354.8,350.1h0.64M356.2,353.0h0.64M357.4,344.9h0.64M355.6,350.5h0.64M357.7,325.9h0.64M358.3,334.2h0.64M358.0,324.8h0.64M354.9,350.0h0.64M356.9,348.6h0.64M358.3,333.8h0.64M358.2,326.7h0.64M358.1,346.5h0.64M353.8,347.3h0.64M356.6,349.6h0.64M357.0,347.7h0.64M355.9,351.1h0.64M354.9,322.1h0.64M357.2,323.0h0.64M355.6,350.2h0.64M356.7,349.4h0.64M357.0,348.5h0.64M358.4,336.1h0.64M357.1,322.2h0.64M357.1,350.2h0.64M354.3,323.3h0.64M358.2,334.2h0.64M356.9,348.9h0.64M357.0,347.1h0.64M357.5,347.7h0.64M354.2,323.0h0.64M355.9,350.7h0.64M357.7,345.3h0.64M357.7,325.9h0.64M356.6,353.3h0.64M358.0,325.4h0.64M354.0,322.3h0.64M355.4,352.2h0.64M355.2,352.1h0.64M357.9,344.8h0.64M356.8,322.2h0.64M358.3,345.3h0.64M354.1,349.8h0.64M354.9,350.0h0.64M358.0,330.5h0.64M354.9,352.7h0.64M354.4,349.2h0.64M358.3,332.2h0.64M357.4,344.4h0.64M357.1,351.4h0.64M354.0,349.1h0.64M357.8,340.3h0.64M354.8,350.2h0.64M356.4,353.3h0.64M353.7,347.7h0.64M356.7,322.4h0.64M353.8,322.3h0.64M356.3,353.8h0.64M354.2,349.6h0.64M357.7,347.3h0.64M358.2,329.5h0.64M357.1,325.7h0.64M355.4,352.3h0.64M355.5,352.1h0.64M357.1,323.8h0.64M357.4,323.2h0.64M357.2,325.8h0.64M354.7,353.8h0.64M354.7,353.2h0.64M355.3,352.4h0.64M358.6,337.8h0.64M357.6,346.2h0.64M357.1,349.7h0.64M358.3,341.2h0.64M354.2,351.2h0.64M357.9,341.3h0.64M357.9,330.0h0.64M357.7,347.3h0.64M357.7,348.8h0.64M357.5,345.1h0.64M355.2,350.5h0.64M358.1,342.6h0.64M354.3,352.4h0.64M358.0,331.3h0.64M357.8,331.7h0.64M354.6,353.2h0.64M357.4,322.4h0.64M353.6,346.6h0.64M357.1,323.6h0.64M358.1,337.4h0.64M355.7,354.5h0.64M355.3,354.4h0.64M357.8,343.2h0.64M353.9,349.5h0.64M356.3,353.8h0.64M357.0,347.1h0.64M357.3,326.2h0.64M354.4,350.2h0.64M356.6,349.0h0.64M355.9,351.8h0.64M358.3,329.1h0.64M354.6,352.7h0.64" stroke="#4a3560" stroke-width="0.64" fill="none" opacity="0.9"/>
<path d="M355.2,333.5h0.64M355.6,337.3h0.64M354.8,335.4h0.64M355.3,339.3h0.64M355.9,337.9h0.64M355.2,339.4h0.64M354.7,338.0h0.64M354.9,337.1h0.64M355.7,337.9h0.64M355.4,337.4h0.64M355.8,337.0h0.64M355.7,334.1h0.64M355.1,336.6h0.64M355.7,338.2h0.64M356.0,333.9h0.64M355.0,336.2h0.64M355.6,332.9h0.64M356.0,334.8h0.64M355.1,334.7h0.64M355.2,332.9h0.64M355.5,334.1h0.64M355.4,340.1h0.64M355.6,331.5h0.64M356.2,335.1h0.64M355.6,339.2h0.64M355.7,337.5h0.64M356.0,334.2h0.64M355.2,335.1h0.64M355.1,335.9h0.64M355.3,332.6h0.64M355.7,335.8h0.64M354.9,338.9h0.64M355.6,332.7h0.64M355.0,334.0h0.64M355.3,337.4h0.64M355.4,338.7h0.64M355.4,333.1h0.64M354.8,333.3h0.64M355.6,338.8h0.64M354.6,335.2h0.64M355.9,336.8h0.64M354.9,333.1h0.64M354.8,335.1h0.64M356.1,338.0h0.64M356.0,337.8h0.64M355.5,332.5h0.64M354.9,339.3h0.64M355.6,332.9h0.64M356.0,337.9h0.64M356.1,337.0h0.64M355.2,332.0h0.64M356.0,334.0h0.64M355.7,332.5h0.64M355.9,339.1h0.64M355.9,339.9h0.64M354.9,337.9h0.64M355.2,336.8h0.64M354.8,334.9h0.64M355.5,334.5h0.64M355.1,334.1h0.64M355.2,338.7h0.64M354.9,334.1h0.64M355.5,339.4h0.64M355.5,335.9h0.64M355.1,338.9h0.64M355.0,334.6h0.64M356.1,337.3h0.64M354.8,337.2h0.64M354.9,335.5h0.64M355.8,335.8h0.64M355.0,336.0h0.64M355.9,335.5h0.64M354.8,337.6h0.64M355.1,333.5h0.64M354.9,338.3h0.64M355.4,337.7h0.64M355.7,335.0h0.64M354.9,335.6h0.64M355.1,334.7h0.64M355.5,338.5h0.64M354.9,333.1h0.64M355.4,340.0h0.64M355.3,334.2h0.64M355.8,334.7h0.64M354.6,335.6h0.64M356.0,337.3h0.64M355.8,333.8h0.64M355.5,337.4h0.64M355.7,337.8h0.64M356.2,335.8h0.64M355.2,337.8h0.64M355.7,339.8h0.64M354.6,336.3h0.64M355.3,337.6h0.64M356.0,337.0h0.64M355.9,338.4h0.64M355.6,335.7h0.64M356.1,335.6h0.64M355.7,334.9h0.64M355.0,335.8h0.64M356.0,335.9h0.64M354.9,339.1h0.64M355.1,336.7h0.64M355.9,339.2h0.64M354.8,337.0h0.64M355.4,332.2h0.64M355.9,338.8h0.64M354.9,337.5h0.64M355.8,332.6h0.64M355.2,336.7h0.64M356.2,336.8h0.64M355.5,340.1h0.64M355.6,335.8h0.64M356.1,337.3h0.64M355.2,334.5h0.64M355.3,335.5h0.64M355.9,334.2h0.64M355.3,332.6h0.64M356.0,339.0h0.64M355.0,336.4h0.64M355.4,331.8h0.64M355.6,332.2h0.64M354.8,333.1h0.64M355.4,337.8h0.64M355.1,333.1h0.64M356.0,333.6h0.64M354.7,334.2h0.64M355.8,333.7h0.64M355.1,333.1h0.64M354.8,335.5h0.64M354.8,336.3h0.64M356.0,334.4h0.64M356.2,336.9h0.64M355.8,336.3h0.64M356.0,336.0h0.64M355.0,338.3h0.64M354.8,339.3h0.64M355.1,338.3h0.64M356.0,334.8h0.64M355.5,339.5h0.64M355.8,335.7h0.64M355.5,337.7h0.64M354.8,337.3h0.64" stroke="#3a0a14" stroke-width="0.64" fill="none" opacity="0.9"/>
<path d="M359.5,333.4h0.64M360.7,335.6h0.64M359.3,352.0h0.64M356.7,356.8h0.64M359.4,341.6h0.64M358.9,338.2h0.64M356.2,354.8h0.64M359.8,333.0h0.64M353.9,353.8h0.64M358.9,330.5h0.64M354.0,354.7h0.64M356.5,367.6h0.64M359.0,344.4h0.64M355.2,355.8h0.64M355.8,357.5h0.64M355.4,355.6h0.64M358.9,341.8h0.64M359.2,334.5h0.64M358.5,344.7h0.64M359.4,335.7h0.64M358.0,348.5h0.64M355.4,361.1h0.64M358.7,325.5h0.64M358.5,328.4h0.64M354.3,359.0h0.64M355.2,354.8h0.64M359.1,342.7h0.64M354.7,363.1h0.64M360.3,337.8h0.64M356.7,356.5h0.64M353.6,354.2h0.64M358.5,353.1h0.64M357.7,350.7h0.64M354.6,354.6h0.64M359.2,334.3h0.64M358.9,323.6h0.64M358.8,339.7h0.64M359.4,326.0h0.64M354.4,355.5h0.64M359.3,349.8h0.64M356.7,353.7h0.64M358.5,344.6h0.64M360.6,342.4h0.64M359.8,325.0h0.64M354.8,357.0h0.64M359.1,352.8h0.64M358.8,355.5h0.64M359.7,347.7h0.64M358.2,347.2h0.64M358.5,322.8h0.64M359.7,331.4h0.64M356.4,362.7h0.64M358.6,329.5h0.64M354.1,358.2h0.64M358.1,349.0h0.64M359.4,349.2h0.64M353.9,356.8h0.64M358.3,323.9h0.64M358.9,343.1h0.64M355.8,357.9h0.64M358.3,349.7h0.64M359.5,326.8h0.64M358.9,329.7h0.64M359.0,330.9h0.64M354.9,357.1h0.64M356.8,356.1h0.64M355.3,355.4h0.64M358.9,333.3h0.64M355.5,356.2h0.64" stroke="#8a7aa0" stroke-width="0.64" fill="none" opacity="0.9"/>
<path d="M358.8,333.2h0.56M360.5,336.4h0.56M358.1,337.8h0.56M358.1,333.9h0.56M359.5,334.9h0.56M359.2,339.7h0.56M358.1,342.9h0.56M360.0,339.3h0.56M359.0,338.0h0.56M362.1,334.3h0.56M358.5,341.1h0.56M361.2,341.4h0.56M357.4,340.2h0.56M360.5,337.6h0.56M359.2,343.1h0.56M360.0,341.1h0.56M360.9,332.3h0.56M359.2,343.1h0.56M362.7,338.5h0.56M359.2,344.2h0.56M361.2,333.5h0.56M361.9,339.8h0.56M361.3,339.7h0.56M361.0,337.3h0.56M360.1,342.3h0.56M358.2,333.5h0.56M359.0,334.9h0.56M359.0,333.9h0.56M359.7,340.1h0.56M362.1,334.7h0.56M358.8,339.7h0.56M362.1,339.6h0.56M359.1,343.5h0.56M358.1,342.8h0.56M361.8,335.3h0.56M357.9,333.7h0.56M360.8,336.7h0.56M359.6,342.0h0.56M360.9,340.1h0.56M362.4,337.2h0.56M358.1,334.8h0.56M360.4,339.8h0.56M361.4,336.7h0.56M360.6,342.9h0.56M361.6,337.1h0.56M359.4,341.0h0.56M361.8,339.8h0.56M357.6,339.9h0.56M358.6,333.5h0.56M357.4,336.4h0.56M362.0,334.2h0.56M357.7,336.0h0.56M362.1,335.0h0.56M359.9,342.0h0.56M360.6,341.3h0.56M360.5,337.3h0.56M359.8,332.5h0.56M362.3,341.3h0.56M360.9,336.9h0.56M361.0,341.3h0.56M359.6,338.1h0.56M360.5,338.6h0.56M359.3,333.9h0.56M362.0,334.2h0.56M359.8,334.9h0.56M359.4,332.0h0.56M361.1,340.8h0.56M360.5,337.9h0.56M359.8,341.5h0.56M360.3,342.7h0.56M359.6,332.5h0.56M361.5,340.2h0.56M357.6,338.7h0.56M357.5,340.8h0.56M361.2,340.3h0.56M358.6,338.5h0.56M358.5,340.0h0.56M360.8,335.8h0.56M361.5,337.7h0.56M362.2,340.5h0.56M359.8,337.0h0.56M357.6,336.6h0.56M359.2,336.3h0.56M358.0,342.1h0.56M358.1,336.9h0.56M359.3,335.0h0.56M357.8,338.5h0.56M360.7,334.1h0.56M359.1,343.3h0.56M359.2,333.8h0.56M360.1,331.8h0.56M358.0,335.4h0.56M361.3,334.1h0.56M359.9,343.2h0.56M359.5,337.0h0.56M357.3,339.4h0.56M358.4,340.3h0.56M360.4,342.7h0.56M357.6,335.8h0.56M362.1,336.6h0.56M360.2,339.3h0.56M359.0,334.0h0.56M360.1,335.9h0.56M360.4,337.9h0.56M359.4,335.9h0.56M359.2,338.5h0.56M359.4,337.4h0.56M358.6,336.7h0.56M358.0,334.3h0.56M357.9,335.4h0.56M360.9,337.8h0.56M361.6,335.4h0.56M357.5,335.9h0.56M359.5,337.0h0.56M359.4,342.1h0.56M361.2,335.0h0.56M360.4,334.5h0.56M359.9,331.8h0.56M362.7,338.9h0.56M358.3,335.0h0.56M360.8,335.5h0.56M360.7,333.9h0.56M360.1,341.3h0.56M359.8,342.7h0.56M359.8,338.8h0.56M358.1,341.4h0.56M361.6,341.1h0.56M360.8,343.6h0.56M362.6,336.3h0.56M361.7,342.1h0.56M362.6,338.0h0.56M357.8,337.6h0.56M362.0,338.2h0.56M360.4,334.9h0.56M361.0,340.3h0.56M361.7,338.5h0.56M359.9,343.9h0.56M358.4,341.7h0.56M360.0,332.3h0.56M360.9,338.6h0.56M357.5,338.6h0.56M357.8,336.1h0.56M357.5,337.1h0.56M361.6,339.2h0.56M361.1,338.1h0.56M359.6,337.2h0.56M358.0,333.7h0.56M361.2,333.2h0.56M359.4,335.5h0.56M360.1,341.9h0.56M359.3,335.3h0.56M362.8,337.3h0.56M359.5,340.5h0.56M358.8,335.5h0.56M361.4,335.4h0.56M361.0,337.2h0.56M359.1,334.2h0.56M361.3,336.3h0.56M361.5,339.5h0.56M360.1,331.7h0.56M358.7,337.5h0.56M361.1,337.3h0.56M360.8,335.1h0.56M357.7,340.9h0.56M359.2,341.3h0.56M361.7,332.9h0.56M360.8,334.0h0.56M357.8,341.3h0.56M357.4,338.0h0.56M360.0,341.9h0.56M358.8,342.8h0.56M359.4,339.6h0.56M362.2,336.0h0.56M358.4,340.6h0.56M361.7,340.8h0.56M361.3,333.2h0.56M362.0,337.5h0.56M358.0,342.2h0.56M360.8,340.0h0.56M360.3,341.1h0.56M361.1,333.7h0.56M357.6,338.5h0.56M359.5,343.8h0.56M361.0,334.4h0.56M359.9,338.6h0.56M360.5,341.0h0.56M358.5,336.5h0.56M360.7,342.8h0.56M360.9,335.0h0.56M358.2,340.2h0.56M359.2,341.1h0.56M359.8,340.2h0.56M360.9,344.0h0.56M360.8,341.9h0.56M359.6,334.5h0.56M357.4,337.9h0.56M358.6,337.8h0.56" stroke="#2a1a38" stroke-width="0.56" fill="none" opacity="0.8"/>
<path d="M364.3,338.7h0.56M362.9,346.5h0.56M357.7,346.7h0.56M363.5,344.8h0.56M362.5,344.5h0.56M356.3,344.1h0.56M355.9,331.5h0.56M357.4,345.5h0.56M362.4,342.8h0.56M356.6,347.1h0.56M361.9,327.1h0.56M355.2,343.1h0.56M360.8,348.4h0.56M364.4,345.6h0.56M363.4,339.8h0.56M364.6,341.6h0.56M360.9,345.9h0.56M363.5,338.3h0.56M360.5,328.9h0.56M360.7,350.1h0.56M359.1,331.3h0.56M359.3,345.5h0.56M357.1,341.6h0.56M360.3,327.6h0.56M357.6,345.8h0.56M359.5,325.2h0.56M357.7,344.9h0.56M363.9,346.7h0.56M358.7,328.5h0.56M360.1,348.2h0.56M363.8,334.2h0.56M365.0,340.1h0.56M358.0,330.1h0.56M360.3,346.9h0.56M357.7,344.2h0.56M361.4,348.1h0.56M362.6,347.5h0.56M360.0,349.1h0.56M360.8,350.3h0.56M360.3,328.0h0.56M365.5,335.8h0.56M358.3,329.6h0.56M359.6,329.2h0.56M355.8,338.0h0.56M360.8,350.4h0.56M361.2,330.3h0.56M363.1,332.7h0.56M361.0,327.9h0.56M357.5,332.7h0.56M356.4,343.4h0.56M356.7,344.7h0.56M360.9,345.4h0.56M365.3,335.8h0.56M363.7,339.3h0.56M361.5,345.9h0.56M355.3,335.5h0.56M361.6,326.7h0.56M356.7,329.6h0.56M357.1,330.6h0.56M355.4,344.1h0.56M359.2,330.1h0.56M364.6,332.7h0.56M356.0,342.5h0.56M363.3,338.4h0.56M357.0,339.0h0.56M360.2,327.5h0.56M356.3,335.7h0.56M363.8,334.1h0.56M363.2,338.6h0.56M357.7,346.3h0.56M357.1,338.6h0.56M356.1,329.3h0.56M357.9,343.5h0.56M363.8,346.9h0.56M359.9,348.4h0.56M356.2,333.5h0.56M358.5,346.7h0.56M363.9,337.9h0.56M355.1,337.8h0.56M362.1,346.9h0.56M361.1,346.5h0.56M357.3,344.9h0.56M363.4,334.8h0.56M355.8,345.2h0.56M362.2,347.5h0.56M360.3,344.6h0.56M355.8,331.9h0.56M364.7,335.2h0.56M364.0,334.2h0.56M355.9,340.0h0.56M360.4,350.2h0.56M359.2,326.3h0.56M359.1,328.9h0.56M362.4,329.1h0.56M358.7,345.1h0.56M356.3,346.0h0.56M361.9,343.7h0.56M364.9,332.9h0.56M359.6,350.3h0.56M357.1,329.6h0.56M365.1,339.6h0.56M357.2,345.8h0.56M354.4,336.2h0.56M354.8,334.2h0.56M362.4,330.1h0.56M361.5,326.3h0.56M360.8,348.0h0.56M357.5,330.3h0.56M365.3,335.4h0.56M360.7,348.0h0.56M358.1,331.1h0.56M360.0,329.8h0.56M360.2,327.3h0.56M357.0,331.5h0.56M364.2,344.5h0.56M356.6,342.5h0.56M355.0,333.0h0.56M363.1,333.3h0.56M362.7,331.7h0.56M362.1,347.5h0.56M357.3,328.3h0.56M360.9,344.7h0.56M364.8,333.0h0.56M357.7,328.0h0.56M362.4,347.9h0.56M361.4,347.8h0.56M357.9,327.0h0.56M356.0,342.0h0.56M361.5,344.4h0.56M359.4,326.6h0.56M365.1,336.4h0.56M359.1,350.5h0.56M361.8,344.8h0.56M357.8,328.8h0.56M362.1,342.8h0.56M359.1,344.5h0.56M362.9,327.5h0.56M362.8,342.9h0.56M363.8,333.0h0.56M358.6,345.8h0.56M362.7,331.8h0.56M357.0,343.4h0.56M356.0,340.2h0.56M358.5,346.5h0.56M363.6,344.6h0.56M361.4,326.0h0.56M362.6,341.6h0.56M360.0,328.7h0.56M362.3,348.6h0.56M362.8,346.8h0.56M362.3,347.0h0.56M357.0,328.8h0.56M355.7,335.0h0.56M360.5,349.4h0.56M362.7,349.2h0.56M363.4,330.9h0.56M356.0,343.7h0.56M360.8,330.5h0.56M358.8,325.4h0.56M363.6,328.8h0.56M363.1,344.9h0.56M357.7,331.8h0.56M360.9,345.2h0.56M362.7,334.9h0.56M355.2,338.8h0.56M355.8,333.2h0.56M360.2,328.3h0.56M363.1,344.8h0.56M362.5,327.8h0.56M360.6,345.7h0.56M363.7,335.0h0.56M363.3,338.0h0.56M363.7,331.1h0.56M356.0,331.2h0.56M356.0,347.2h0.56M363.8,344.7h0.56M361.2,328.0h0.56M362.7,343.6h0.56M357.1,343.2h0.56M359.4,349.4h0.56M358.0,347.3h0.56M362.7,333.2h0.56M361.3,332.0h0.56M359.8,331.4h0.56M363.6,345.5h0.56M360.9,328.5h0.56M361.9,328.4h0.56M359.1,327.9h0.56M356.5,333.9h0.56M356.3,340.0h0.56M356.0,330.0h0.56M357.1,329.3h0.56M357.1,348.0h0.56M360.9,328.6h0.56M357.2,332.0h0.56M359.3,330.1h0.56M360.9,350.6h0.56M363.4,330.9h0.56M363.3,336.2h0.56M357.4,343.6h0.56M363.0,329.9h0.56M363.4,346.7h0.56M360.5,345.3h0.56M360.8,350.7h0.56M356.7,343.1h0.56M364.5,344.4h0.56M354.9,343.9h0.56M356.0,337.4h0.56M356.2,337.6h0.56M363.5,332.8h0.56M356.9,336.8h0.56M356.7,337.6h0.56M356.0,331.5h0.56M355.4,337.9h0.56M363.7,332.8h0.56M358.6,326.1h0.56M356.3,334.6h0.56M361.8,331.1h0.56M358.1,344.3h0.56M355.2,333.9h0.56M363.8,336.9h0.56M359.9,329.0h0.56M363.9,342.4h0.56M363.6,340.8h0.56M357.8,332.8h0.56M360.9,330.5h0.56M357.0,345.6h0.56M365.5,335.7h0.56M360.0,326.0h0.56M361.8,343.2h0.56M362.6,334.2h0.56M363.9,345.7h0.56M356.7,337.3h0.56M357.7,348.4h0.56M360.7,330.5h0.56M361.2,350.0h0.56M362.7,331.7h0.56M356.7,340.7h0.56M356.0,329.0h0.56M359.6,329.0h0.56M361.6,329.5h0.56M361.8,330.5h0.56M362.3,348.8h0.56M356.6,344.4h0.56M357.8,349.6h0.56M357.4,344.0h0.56M356.8,340.6h0.56M365.5,337.7h0.56M358.7,345.4h0.56M363.4,341.8h0.56M355.2,337.1h0.56M355.8,338.4h0.56M365.0,333.3h0.56M362.9,335.0h0.56M361.1,331.0h0.56M355.3,340.6h0.56M364.0,337.9h0.56M356.0,336.0h0.56M360.8,327.9h0.56M358.7,331.6h0.56M357.9,331.6h0.56M358.6,326.4h0.56M362.9,333.7h0.56M356.3,339.8h0.56M362.8,343.4h0.56M355.5,340.5h0.56M358.5,330.6h0.56M363.6,340.3h0.56M363.6,341.7h0.56M359.2,347.8h0.56M362.7,343.4h0.56M356.5,342.9h0.56M362.8,331.2h0.56M361.4,350.6h0.56M362.2,331.5h0.56M361.8,349.6h0.56M362.8,334.1h0.56M364.3,334.0h0.56M359.5,346.0h0.56M356.3,341.6h0.56M364.0,333.9h0.56M357.2,335.7h0.56M360.0,348.5h0.56M356.9,335.0h0.56M355.6,334.5h0.56M360.2,348.4h0.56M358.6,346.5h0.56M363.3,343.3h0.56M358.5,344.2h0.56M357.9,343.2h0.56M362.1,332.5h0.56M364.1,339.4h0.56M361.5,348.3h0.56M356.1,347.2h0.56M361.1,331.1h0.56M358.7,330.9h0.56M363.4,343.5h0.56M362.0,350.0h0.56M361.2,345.5h0.56M362.2,346.1h0.56M356.7,330.3h0.56M356.5,338.8h0.56M362.5,326.5h0.56M362.1,329.1h0.56M363.5,348.1h0.56M360.3,348.0h0.56M360.2,345.7h0.56M362.2,329.2h0.56M363.9,345.8h0.56M361.8,343.7h0.56M364.6,335.5h0.56M362.6,341.0h0.56M360.7,345.4h0.56M355.6,345.7h0.56M365.0,334.9h0.56M358.0,328.7h0.56M361.3,331.1h0.56M362.6,342.3h0.56M364.8,334.3h0.56M364.8,335.0h0.56M363.9,332.0h0.56M354.8,336.7h0.56M359.1,331.5h0.56M358.5,345.5h0.56M363.8,336.1h0.56M361.5,344.4h0.56M358.9,348.6h0.56M355.3,334.8h0.56M363.5,340.2h0.56M357.5,328.5h0.56M362.8,332.3h0.56M355.8,343.0h0.56M365.6,338.9h0.56M364.8,342.1h0.56M364.9,335.8h0.56M359.5,331.2h0.56M363.4,328.2h0.56M357.2,345.7h0.56M359.2,347.6h0.56M361.7,349.1h0.56M361.3,330.2h0.56M357.6,332.0h0.56M363.6,334.1h0.56M362.9,337.6h0.56M358.0,343.0h0.56M360.8,331.0h0.56M357.0,341.6h0.56M355.9,340.9h0.56M361.5,345.0h0.56M363.2,340.2h0.56M364.2,329.6h0.56M359.5,330.3h0.56M363.4,341.6h0.56M355.2,332.1h0.56M356.9,340.5h0.56M363.8,339.6h0.56M357.5,343.6h0.56M358.4,331.2h0.56M362.8,345.3h0.56M361.5,344.7h0.56M361.9,330.9h0.56M365.4,337.8h0.56M356.8,337.4h0.56M363.8,341.8h0.56M361.3,350.1h0.56M362.3,343.6h0.56M361.2,329.0h0.56M359.0,326.1h0.56M358.2,344.7h0.56M363.7,343.5h0.56M365.7,336.7h0.56M356.1,332.7h0.56M363.3,343.5h0.56M357.1,345.1h0.56M359.1,346.1h0.56M362.8,343.4h0.56M357.3,328.5h0.56M362.1,332.4h0.56" stroke="#4a3560" stroke-width="0.56" fill="none" opacity="0.8"/>
<path d="M358.8,356.0h0.56M357.8,325.4h0.56M367.6,344.7h0.56M366.0,344.9h0.56M363.8,354.2h0.56M366.4,335.8h0.56M357.6,324.1h0.56M368.1,341.3h0.56M354.2,349.1h0.56M363.0,351.9h0.56M356.5,349.8h0.56M365.9,341.5h0.56M356.6,353.8h0.56M363.1,325.6h0.56M357.2,323.9h0.56M354.3,332.9h0.56M361.4,325.2h0.56M366.9,339.7h0.56M366.5,327.8h0.56M366.2,331.8h0.56M357.0,351.6h0.56M357.4,352.3h0.56M360.4,323.4h0.56M365.1,323.1h0.56M357.0,324.9h0.56M365.5,332.7h0.56M364.4,348.2h0.56M363.3,326.6h0.56M367.9,344.2h0.56M365.7,324.8h0.56M355.5,350.6h0.56M365.5,323.8h0.56M363.6,351.6h0.56M363.9,327.6h0.56M365.4,347.1h0.56M364.1,325.9h0.56M366.4,333.9h0.56M354.3,327.5h0.56M365.1,347.9h0.56M367.1,333.9h0.56M367.5,336.6h0.56M354.7,329.2h0.56M363.4,323.0h0.56M355.4,347.1h0.56M366.9,333.1h0.56M365.8,347.8h0.56M354.3,334.0h0.56M356.8,350.7h0.56M360.0,356.2h0.56M366.6,337.0h0.56M358.3,356.8h0.56M355.9,327.1h0.56M358.4,321.7h0.56M356.8,326.2h0.56M366.0,326.8h0.56M366.0,351.1h0.56M366.3,328.9h0.56M364.4,321.7h0.56M362.2,322.2h0.56M363.6,354.8h0.56M356.4,324.7h0.56M362.8,324.3h0.56M367.6,337.8h0.56M361.1,322.6h0.56M368.5,336.2h0.56M357.4,326.0h0.56M362.8,350.5h0.56M365.5,330.5h0.56M357.4,349.9h0.56M354.8,328.3h0.56M368.0,342.9h0.56M357.8,355.1h0.56M359.4,353.9h0.56M364.7,348.0h0.56M362.9,349.7h0.56M359.7,355.1h0.56M357.9,324.2h0.56M364.2,348.2h0.56M362.8,322.9h0.56M366.7,336.5h0.56M366.0,335.2h0.56M366.6,336.4h0.56M361.0,325.0h0.56M363.5,327.5h0.56M355.9,328.4h0.56M367.0,331.7h0.56M356.6,352.0h0.56M362.5,350.7h0.56M361.0,351.3h0.56M362.9,351.6h0.56M355.6,326.0h0.56M365.2,347.1h0.56M360.5,324.0h0.56M354.8,330.4h0.56M363.5,326.7h0.56M363.5,354.5h0.56M356.6,355.8h0.56M360.6,323.0h0.56M365.5,352.2h0.56M364.3,349.9h0.56M361.0,355.5h0.56M357.2,325.1h0.56M365.5,328.4h0.56M363.1,351.4h0.56M363.6,327.1h0.56M359.8,324.5h0.56M362.6,322.7h0.56M357.2,355.4h0.56M364.8,329.5h0.56M364.3,348.6h0.56M364.8,345.0h0.56M366.7,349.6h0.56M354.3,342.7h0.56M354.7,329.6h0.56M354.4,344.6h0.56M364.9,326.3h0.56M363.4,325.0h0.56M356.4,350.0h0.56M354.3,325.0h0.56M362.7,326.1h0.56M356.5,353.2h0.56M354.4,330.9h0.56M354.6,325.0h0.56M354.8,352.6h0.56M358.3,352.2h0.56M355.4,353.8h0.56M356.8,324.6h0.56M364.1,347.9h0.56M362.3,350.1h0.56M366.8,337.8h0.56M357.4,351.1h0.56M362.5,323.4h0.56M355.0,353.4h0.56M365.9,333.9h0.56M363.5,348.4h0.56M364.1,348.8h0.56M364.3,324.7h0.56M360.4,323.3h0.56M360.7,356.8h0.56M365.8,327.7h0.56M355.9,325.7h0.56M359.8,354.3h0.56M354.4,349.2h0.56M362.7,352.5h0.56M367.5,337.1h0.56M355.3,352.8h0.56M366.0,342.8h0.56M356.7,352.9h0.56M358.8,321.9h0.56M366.2,344.3h0.56M355.2,328.7h0.56M358.8,356.6h0.56M368.3,342.0h0.56M365.8,329.1h0.56M361.3,351.8h0.56M359.5,351.7h0.56M365.2,332.4h0.56M359.6,355.4h0.56M354.2,332.4h0.56M366.5,337.3h0.56M356.8,350.1h0.56M366.8,328.3h0.56M363.3,322.2h0.56M357.8,322.8h0.56M363.7,348.1h0.56M361.8,352.5h0.56M362.1,353.1h0.56M363.1,321.0h0.56M356.5,324.2h0.56M362.2,321.7h0.56M361.2,352.2h0.56M362.2,356.0h0.56M355.7,349.5h0.56M365.8,332.9h0.56M354.8,349.5h0.56M354.4,352.6h0.56M362.2,350.3h0.56M366.9,332.7h0.56M355.9,325.2h0.56M354.6,324.7h0.56M365.2,346.2h0.56M365.7,340.8h0.56M360.6,351.6h0.56M366.4,348.5h0.56M354.9,350.3h0.56M360.5,352.1h0.56M366.1,349.3h0.56M363.0,353.2h0.56M367.2,348.5h0.56M364.3,329.2h0.56M356.5,353.6h0.56M363.4,327.0h0.56M366.5,328.9h0.56M359.3,353.0h0.56M354.7,329.4h0.56M364.0,352.9h0.56M364.0,326.3h0.56M364.9,328.9h0.56M365.7,337.2h0.56M365.3,326.4h0.56M359.7,352.7h0.56M360.9,353.9h0.56M366.7,338.4h0.56M363.8,350.7h0.56M366.7,330.3h0.56M361.2,351.4h0.56M366.2,348.9h0.56M360.4,352.6h0.56M358.8,323.8h0.56M365.4,343.4h0.56M354.3,328.9h0.56M361.9,353.9h0.56M367.9,337.4h0.56M361.3,323.4h0.56M356.2,353.0h0.56M367.0,341.2h0.56M360.3,356.3h0.56M358.2,352.5h0.56M358.1,322.4h0.56M362.0,350.9h0.56M358.6,352.0h0.56M357.4,350.3h0.56M359.1,322.3h0.56M362.4,353.2h0.56M364.7,330.2h0.56" stroke="#7a6a95" stroke-width="0.56" fill="none" opacity="0.8"/>
<path d="M365.0,356.5h0.56M369.1,346.3h0.56M370.6,336.0h0.56M364.9,357.7h0.56M375.8,334.3h0.56M359.2,362.1h0.56M357.7,357.6h0.56M358.1,361.6h0.56M366.2,353.4h0.56M369.9,325.7h0.56M367.7,324.8h0.56M361.8,360.0h0.56M362.2,358.0h0.56M361.4,360.6h0.56M357.0,359.6h0.56M366.2,321.1h0.56M368.7,348.5h0.56M355.8,359.1h0.56M368.8,332.8h0.56M363.5,362.4h0.56M368.8,350.5h0.56M360.1,357.8h0.56M368.5,331.4h0.56M354.4,359.9h0.56M359.1,358.9h0.56M361.4,361.0h0.56M366.7,355.2h0.56M368.9,322.0h0.56M371.2,324.9h0.56M370.0,341.1h0.56M368.5,352.8h0.56M363.1,358.0h0.56M368.7,346.2h0.56M370.0,346.9h0.56M368.5,334.4h0.56M371.2,339.6h0.56M357.8,357.4h0.56M365.4,354.6h0.56M366.1,360.3h0.56M361.8,359.0h0.56M356.9,359.8h0.56M369.2,342.2h0.56M368.1,329.4h0.56M369.4,336.4h0.56M355.1,355.9h0.56M368.6,346.4h0.56M369.7,360.1h0.56M368.5,342.6h0.56M361.3,365.2h0.56M369.1,328.5h0.56M368.5,333.6h0.56M364.0,359.1h0.56M366.9,361.0h0.56M372.0,323.6h0.56M365.7,322.8h0.56M370.2,328.0h0.56M369.0,329.4h0.56M355.7,355.1h0.56M355.2,355.6h0.56M368.7,348.3h0.56M370.4,325.7h0.56M371.7,323.9h0.56M368.1,345.9h0.56M364.7,356.5h0.56M372.0,365.5h0.56M364.7,357.8h0.56M368.2,328.5h0.56M365.0,321.4h0.56" stroke="#a9a0bd" stroke-width="0.56" fill="none" opacity="0.8"/>
<path d="M356.0,365.9h0.56M355.7,362.6h0.56M357.5,348.4h0.56M357.6,346.5h0.56M354.4,353.3h0.56M354.9,361.2h0.56M358.9,355.1h0.56M358.0,363.3h0.56M356.8,363.6h0.56M356.2,363.2h0.56M354.8,352.0h0.56M357.6,361.5h0.56M356.8,361.8h0.56M358.5,360.2h0.56M357.9,354.1h0.56M354.2,363.3h0.56M353.9,349.7h0.56M356.8,364.7h0.56M354.1,351.8h0.56M354.4,364.1h0.56M357.6,364.5h0.56M358.5,359.9h0.56M354.1,353.2h0.56M358.1,357.7h0.56M355.9,364.7h0.56M358.0,359.4h0.56M357.8,356.2h0.56M354.2,355.2h0.56M358.3,357.5h0.56M358.7,350.3h0.56M356.1,365.9h0.56M354.8,352.8h0.56M356.7,361.8h0.56M358.0,357.6h0.56M358.8,361.7h0.56M353.9,357.0h0.56M355.6,362.1h0.56M355.0,361.4h0.56M358.3,358.2h0.56M354.5,356.8h0.56M356.8,366.1h0.56M354.0,359.1h0.56M357.6,362.1h0.56M357.0,348.6h0.56M354.0,360.1h0.56M357.6,347.1h0.56M355.4,366.7h0.56M358.2,355.8h0.56M357.3,350.6h0.56M359.2,355.5h0.56M354.7,361.2h0.56M357.1,363.9h0.56M357.8,351.0h0.56M356.9,366.5h0.56M355.1,350.5h0.56M358.2,358.5h0.56M356.3,364.0h0.56M358.2,356.4h0.56M356.3,350.1h0.56M355.6,349.5h0.56M358.7,350.5h0.56M357.5,347.4h0.56M355.7,346.5h0.56M358.1,363.8h0.56M354.6,349.1h0.56M357.5,351.5h0.56M357.0,349.0h0.56M354.5,353.1h0.56M358.0,353.1h0.56M357.8,354.3h0.56M355.5,350.2h0.56M358.0,359.5h0.56M354.4,358.2h0.56M357.2,360.6h0.56M357.8,358.6h0.56M359.0,357.0h0.56M354.7,347.4h0.56M358.6,359.0h0.56M354.0,355.1h0.56M355.7,349.4h0.56M355.7,364.4h0.56M355.7,366.1h0.56M358.3,361.4h0.56M355.5,347.8h0.56M356.4,361.8h0.56M357.0,349.6h0.56M358.4,356.1h0.56M354.3,364.3h0.56M356.1,347.6h0.56M356.9,347.6h0.56M356.5,348.5h0.56M354.9,351.7h0.56M355.2,361.8h0.56M355.7,364.0h0.56M354.3,351.4h0.56M356.6,349.1h0.56M355.7,345.4h0.56M358.0,350.7h0.56M356.3,362.9h0.56M357.8,357.6h0.56M356.1,348.8h0.56M356.5,349.2h0.56M356.0,347.7h0.56M355.6,349.3h0.56M355.8,347.2h0.56M354.5,352.3h0.56M358.2,352.9h0.56M357.0,347.1h0.56M357.6,350.7h0.56M357.1,366.1h0.56M355.1,349.4h0.56M358.7,357.6h0.56M357.8,363.1h0.56M355.6,347.8h0.56" stroke="#8a7aa0" stroke-width="0.56" fill="none" opacity="0.7"/>
<path d="M354.8,344.4h0.56M358.4,366.5h0.56M357.4,345.0h0.56M359.2,352.4h0.56M356.1,368.6h0.56M357.6,345.5h0.56M355.4,341.2h0.56M357.4,344.4h0.56M358.7,348.3h0.56M357.2,368.2h0.56M359.3,369.1h0.56M362.5,356.4h0.56M353.9,365.2h0.56M360.1,342.2h0.56M358.4,364.5h0.56M354.5,368.3h0.56M354.4,365.7h0.56M354.1,342.8h0.56M354.8,371.8h0.56M355.4,343.3h0.56M359.5,356.0h0.56M355.8,367.3h0.56M354.1,369.3h0.56M356.3,368.7h0.56M359.5,358.6h0.56M359.4,364.5h0.56M359.2,351.0h0.56M354.3,343.3h0.56M357.3,337.4h0.56M354.7,372.2h0.56M357.3,370.6h0.56M355.2,344.9h0.56M358.1,366.9h0.56M358.8,362.9h0.56M359.4,357.5h0.56M359.3,368.1h0.56M360.3,364.8h0.56M359.5,358.7h0.56M358.1,365.2h0.56M354.7,340.4h0.56M355.5,342.6h0.56" stroke="#b0a8c0" stroke-width="0.56" fill="none" opacity="0.7"/>
<path d="M356.7,360.3h0.56M357.0,359.7h0.56M356.1,352.6h0.56M355.0,355.1h0.56M357.6,356.5h0.56M355.8,359.0h0.56M355.1,357.4h0.56M356.3,360.7h0.56M357.2,357.0h0.56M355.5,353.1h0.56M355.4,360.6h0.56M357.2,359.0h0.56M355.8,358.4h0.56M357.3,359.8h0.56M355.5,351.2h0.56M357.0,351.9h0.56M356.3,361.3h0.56M356.1,355.7h0.56M356.4,351.8h0.56M355.5,360.7h0.56M355.3,357.4h0.56M356.8,353.6h0.56M356.8,351.9h0.56M357.1,356.7h0.56M355.3,355.1h0.56M357.6,356.2h0.56M356.9,353.3h0.56M356.9,354.1h0.56M356.0,358.6h0.56M356.6,356.5h0.56M356.1,352.9h0.56M357.4,359.5h0.56M356.1,356.2h0.56M357.6,356.9h0.56M354.8,356.5h0.56M355.0,355.0h0.56M356.6,358.7h0.56M354.9,353.0h0.56M356.6,355.7h0.56M356.8,353.2h0.56M356.8,352.8h0.56M357.4,353.7h0.56M356.3,358.1h0.56M355.0,353.3h0.56M355.7,354.7h0.56M357.3,358.2h0.56M355.9,360.2h0.56M357.0,355.5h0.56M356.9,358.2h0.56M356.4,359.7h0.56M357.4,357.4h0.56M356.8,353.0h0.56M356.4,352.1h0.56M355.0,358.3h0.56M357.5,354.9h0.56M356.7,351.7h0.56M355.9,358.9h0.56M355.4,357.1h0.56M356.1,356.3h0.56M356.8,354.2h0.56M355.3,357.7h0.56M356.2,359.7h0.56M356.5,355.3h0.56M356.2,352.9h0.56M355.1,354.6h0.56M356.8,352.9h0.56M355.6,355.1h0.56M355.8,356.9h0.56M355.6,355.9h0.56M356.3,359.2h0.56M356.1,354.8h0.56M354.8,353.8h0.56M355.1,353.0h0.56M355.3,356.7h0.56M356.1,353.6h0.56M355.1,355.3h0.56M355.6,355.1h0.56M355.5,353.0h0.56M357.1,359.7h0.56" stroke="#5a3a6a" stroke-width="0.56" fill="none" opacity="0.7"/>
<path d="M370.9,354.7h0.52M362.0,330.4h0.52M359.8,359.4h0.52M368.0,339.5h0.52M367.8,357.5h0.52M367.2,351.3h0.52M369.5,343.6h0.52M370.0,344.4h0.52M355.2,337.5h0.52M368.5,336.5h0.52M365.5,355.3h0.52M356.0,342.6h0.52M356.1,346.0h0.52M360.6,332.5h0.52M373.1,346.9h0.52M369.4,341.4h0.52M358.1,355.6h0.52M357.9,336.9h0.52M362.8,354.9h0.52M371.6,343.6h0.52M363.1,358.6h0.52M363.5,335.4h0.52M354.9,340.0h0.52M373.2,339.0h0.52M358.7,352.3h0.52M370.9,341.9h0.52M363.8,336.4h0.52M370.7,338.0h0.52M357.2,346.8h0.52M366.0,359.6h0.52M355.3,349.1h0.52M362.7,354.6h0.52M357.3,333.3h0.52M358.4,334.4h0.52M369.4,347.9h0.52M362.3,356.2h0.52M372.1,350.7h0.52M370.4,340.0h0.52M367.2,352.3h0.52M355.0,345.4h0.52M363.1,360.1h0.52M357.3,351.5h0.52M369.3,349.6h0.52M354.3,352.1h0.52M369.6,342.9h0.52M367.8,336.3h0.52M357.0,352.8h0.52M358.5,331.4h0.52M356.4,331.1h0.52M362.7,331.0h0.52M356.1,356.0h0.52M356.4,354.0h0.52M358.6,354.6h0.52M367.2,357.7h0.52M370.6,346.8h0.52M360.6,354.5h0.52M354.2,347.0h0.52M359.4,352.5h0.52M368.0,334.9h0.52M369.9,344.9h0.52M364.0,354.8h0.52M364.1,334.4h0.52M364.4,328.1h0.52M357.3,353.6h0.52M372.4,353.0h0.52M370.0,351.9h0.52M368.8,352.0h0.52M356.7,346.8h0.52M371.8,350.8h0.52M369.1,343.3h0.52M367.8,339.6h0.52M362.0,355.9h0.52M368.8,348.7h0.52M369.6,342.6h0.52M363.4,359.2h0.52M373.6,346.1h0.52M369.7,337.4h0.52M366.9,336.4h0.52M368.7,343.5h0.52M359.4,356.1h0.52M369.8,342.2h0.52M358.1,351.4h0.52M354.6,344.2h0.52M364.1,328.7h0.52M361.4,334.3h0.52M358.3,351.2h0.52M373.5,346.8h0.52M361.1,356.3h0.52M372.0,340.0h0.52M369.3,348.5h0.52M368.6,347.2h0.52M358.7,356.2h0.52M366.0,331.9h0.52M368.7,350.9h0.52M363.7,336.2h0.52M360.3,337.0h0.52M357.4,343.6h0.52M355.7,350.7h0.52M369.1,345.0h0.52M370.7,344.1h0.52" stroke="#a9a0bd" stroke-width="0.52" fill="none" opacity="0.65"/>
<path d="M362.3,352.6h0.52M366.4,349.8h0.52M360.5,340.8h0.52M366.8,348.4h0.52M361.8,340.5h0.52M364.2,349.0h0.52M360.0,345.0h0.52M364.2,341.1h0.52M362.7,347.3h0.52M362.8,340.1h0.52M360.2,344.3h0.52M360.6,342.5h0.52M358.3,346.2h0.52M366.3,347.3h0.52M367.7,342.1h0.52M361.6,351.1h0.52M368.5,346.9h0.52M359.9,350.9h0.52M366.6,346.2h0.52M364.5,351.9h0.52M366.6,339.4h0.52M367.7,340.9h0.52M362.8,349.7h0.52M366.2,351.0h0.52M360.0,347.4h0.52M363.6,350.5h0.52M362.4,339.4h0.52M360.7,338.8h0.52M365.2,343.4h0.52M364.5,336.8h0.52M362.5,344.5h0.52M362.9,344.7h0.52M367.8,344.8h0.52M366.5,346.0h0.52M363.5,347.4h0.52M366.3,349.9h0.52M363.4,352.6h0.52M366.1,339.2h0.52M361.6,344.1h0.52M358.9,348.3h0.52M361.8,338.9h0.52M365.7,337.4h0.52M359.3,343.8h0.52M366.2,347.2h0.52M368.5,345.8h0.52M366.2,341.3h0.52M360.4,342.3h0.52M365.1,338.3h0.52M359.3,341.3h0.52M361.8,342.9h0.52M361.9,345.5h0.52M363.1,349.7h0.52M359.4,347.8h0.52M361.5,352.1h0.52M361.9,350.8h0.52M366.2,343.8h0.52M364.3,351.7h0.52M362.9,352.3h0.52M360.0,337.7h0.52M363.2,344.3h0.52M358.4,347.2h0.52M361.8,349.8h0.52M362.0,343.2h0.52M358.2,348.8h0.52M363.3,343.4h0.52M360.3,351.3h0.52M359.1,349.3h0.52M361.5,337.1h0.52M363.8,347.5h0.52M358.6,344.7h0.52M365.1,341.6h0.52M367.6,345.5h0.52M363.6,343.4h0.52M361.7,344.5h0.52M363.9,343.2h0.52M362.2,343.8h0.52M361.1,341.4h0.52M362.2,347.6h0.52M357.8,345.1h0.52M361.1,345.4h0.52" stroke="#8a7aa5" stroke-width="0.52" fill="none" opacity="0.65"/>
<path d="M362.2,363.0h0.52M365.3,362.5h0.52M373.2,327.3h0.52M359.9,368.0h0.52M363.3,368.3h0.52M354.7,357.0h0.52M374.9,336.9h0.52M373.7,356.5h0.52M371.6,331.7h0.52M358.0,370.5h0.52M377.9,343.4h0.52M373.4,333.5h0.52M354.4,364.3h0.52M374.3,340.1h0.52M374.0,355.8h0.52M371.6,359.6h0.52M360.8,366.4h0.52M368.3,360.9h0.52M355.8,359.8h0.52M366.6,361.8h0.52M372.5,357.8h0.52M373.7,353.6h0.52M371.8,359.7h0.52M354.4,331.6h0.52M364.7,366.4h0.52M374.1,342.0h0.52M375.9,335.0h0.52M356.3,360.6h0.52M358.3,322.0h0.52M371.9,364.7h0.52M366.2,370.4h0.52M364.5,363.1h0.52M375.9,351.4h0.52M377.0,335.9h0.52M377.4,337.1h0.52M354.8,360.3h0.52M361.1,326.3h0.52M364.6,367.9h0.52M374.2,336.2h0.52M358.7,367.1h0.52M382.3,362.7h0.52M361.2,326.3h0.52M363.0,370.6h0.52M358.0,329.2h0.52M367.9,361.1h0.52M376.6,334.0h0.52" stroke="#c0b8d0" stroke-width="0.52" fill="none" opacity="0.65"/>
<rect x="299.70" y="244.30" width="23.90" height="26.80" fill="none" stroke="#000" stroke-width="1.4" />
<rect x="385.10" y="244.30" width="23.90" height="26.80" fill="none" stroke="#000" stroke-width="1.4" />
<rect x="262.60" y="322.20" width="14.70" height="26.20" fill="none" stroke="#000" stroke-width="1.4" />
<rect x="352.40" y="323.40" width="15.20" height="26.30" fill="none" stroke="#000" stroke-width="1.4" />
<line x1="311.20" y1="271.50" x2="312.18" y2="304.00" stroke="#000" stroke-width="1.6" />
<path d="M312.40,311.20 L306.64,299.37 L312.10,301.36 L317.43,299.04Z" fill="#000" stroke="none" stroke-width="0" />
<line x1="396.30" y1="271.50" x2="397.04" y2="304.00" stroke="#000" stroke-width="1.6" />
<path d="M397.20,311.20 L391.53,299.33 L396.98,301.36 L402.33,299.08Z" fill="#000" stroke="none" stroke-width="0" />
<text x="229.89" y="253.90" font-size="16.79" class="k" textLength="23.98" lengthAdjust="spacingAndGlyphs">10<tspan font-size="11.4" dy="-5.6">3</tspan></text>
<text x="229.89" y="271.30" font-size="16.79" class="k" textLength="24.07" lengthAdjust="spacingAndGlyphs">10<tspan font-size="11.4" dy="-5.6">2</tspan></text>
<text x="228.89" y="290.20" font-size="16.79" class="k" textLength="24.04" lengthAdjust="spacingAndGlyphs">10<tspan font-size="11.4" dy="-5.6">1</tspan></text>
<text x="229.69" y="347.10" font-size="16.79" class="k" textLength="23.98" lengthAdjust="spacingAndGlyphs">10<tspan font-size="11.4" dy="-5.6">3</tspan></text>
<text x="229.69" y="365.00" font-size="16.79" class="k" textLength="23.98" lengthAdjust="spacingAndGlyphs">10<tspan font-size="11.4" dy="-5.6">3</tspan></text>
<text x="228.89" y="383.70" font-size="16.79" class="k" textLength="24.04" lengthAdjust="spacingAndGlyphs">10<tspan font-size="11.4" dy="-5.6">1</tspan></text>
<text x="265.59" y="408.00" font-size="16.50" class="k" textLength="24.04" lengthAdjust="spacingAndGlyphs">10<tspan font-size="11.2" dy="-5.1">1</tspan></text>
<text x="299.39" y="408.00" font-size="16.50" class="k" textLength="23.98" lengthAdjust="spacingAndGlyphs">10<tspan font-size="11.2" dy="-5.1">3</tspan></text>
<text x="354.59" y="408.00" font-size="16.50" class="k" textLength="24.04" lengthAdjust="spacingAndGlyphs">10<tspan font-size="11.2" dy="-5.1">1</tspan></text>
<text x="388.79" y="408.00" font-size="16.50" class="k" textLength="23.98" lengthAdjust="spacingAndGlyphs">10<tspan font-size="11.2" dy="-5.1">3</tspan></text>
<line x1="209.10" y1="302.90" x2="209.10" y2="272.52" stroke="#000" stroke-width="2.0" />
<path d="M209.10,264.60 L214.90,277.80 L209.10,275.42 L203.30,277.80Z" fill="#000" stroke="none" stroke-width="0" />
<line x1="208.10" y1="301.90" x2="238.88" y2="301.90" stroke="#000" stroke-width="2.0" />
<path d="M246.80,301.90 L233.60,307.70 L235.98,301.90 L233.60,296.10Z" fill="#000" stroke="none" stroke-width="0" />
<line x1="209.10" y1="397.60" x2="209.10" y2="367.52" stroke="#000" stroke-width="2.0" />
<path d="M209.10,359.60 L214.90,372.80 L209.10,370.42 L203.30,372.80Z" fill="#000" stroke="none" stroke-width="0" />
<line x1="208.10" y1="396.60" x2="238.88" y2="396.60" stroke="#000" stroke-width="2.0" />
<path d="M246.80,396.60 L233.60,402.40 L235.98,396.60 L233.60,390.80Z" fill="#000" stroke="none" stroke-width="0" />
<text x="183.83" y="287.30" font-size="16.28" class="k" textLength="34.61" lengthAdjust="spacingAndGlyphs" transform="rotate(-90 201.20 287.30)">CD3</text>
<text x="206.78" y="322.40" font-size="16.28" class="k" textLength="32.93" lengthAdjust="spacingAndGlyphs">CD8</text>
<text x="171.20" y="379.30" font-size="16.74" class="k" textLength="62.81" lengthAdjust="spacingAndGlyphs" transform="rotate(-90 203.00 379.30)">CD45RA</text>
<text x="204.87" y="417.80" font-size="16.74" class="k" textLength="42.28" lengthAdjust="spacingAndGlyphs">CD27</text>
<text x="369.94" y="342.60" font-size="16.43" class="k" textLength="41.88" lengthAdjust="spacingAndGlyphs">T<tspan font-size="11.4" dy="5.6">EMRA</tspan></text>
</g>
<g id="pe">
<text x="423.60" y="223.60" font-size="20.4" font-weight="bold" stroke="#000" stroke-width="0.9" textLength="12.49" lengthAdjust="spacingAndGlyphs">e</text>
<circle cx="426.00" cy="239.00" r="2.60" fill="#000" />
<text x="434.98" y="244.20" font-size="16.43" class="k" textLength="114.48" lengthAdjust="spacingAndGlyphs">Healthy (<tspan font-style="italic">n</tspan> = 35)</text>
<circle cx="555.80" cy="239.00" r="2.60" fill="#ee2a24" />
<text x="564.88" y="244.20" font-size="16.43" class="k" textLength="115.88" lengthAdjust="spacingAndGlyphs">MCI/AD (<tspan font-style="italic">n</tspan> = 29)</text>
<text x="486.92" y="267.30" font-size="16.43" class="k" textLength="54.90" lengthAdjust="spacingAndGlyphs"><tspan font-style="italic">r</tspan> = 0.20</text>
<text x="550.22" y="267.00" font-size="16.43" fill="#ee2a24" stroke="#ee2a24" textLength="63.37" lengthAdjust="spacingAndGlyphs"><tspan font-style="italic">r</tspan> = –0.51</text>
<line x1="494.45" y1="279.00" x2="494.45" y2="386.75" stroke="#000" stroke-width="1.55" />
<line x1="493.85" y1="386.10" x2="602.20" y2="386.10" stroke="#000" stroke-width="1.55" />
<line x1="488.05" y1="386.10" x2="494.45" y2="386.10" stroke="#000" stroke-width="1.55" />
<text x="477.43" y="392.40" font-size="16.37" class="k" textLength="9.32" lengthAdjust="spacingAndGlyphs">0</text>
<line x1="488.05" y1="350.55" x2="494.45" y2="350.55" stroke="#000" stroke-width="1.55" />
<text x="468.04" y="356.85" font-size="16.37" class="k" textLength="18.73" lengthAdjust="spacingAndGlyphs">10</text>
<line x1="488.05" y1="315.00" x2="494.45" y2="315.00" stroke="#000" stroke-width="1.55" />
<text x="468.48" y="321.30" font-size="16.37" class="k" textLength="18.28" lengthAdjust="spacingAndGlyphs">20</text>
<line x1="488.05" y1="279.45" x2="494.45" y2="279.45" stroke="#000" stroke-width="1.55" />
<text x="468.69" y="285.75" font-size="16.37" class="k" textLength="18.06" lengthAdjust="spacingAndGlyphs">30</text>
<line x1="494.45" y1="386.10" x2="494.45" y2="392.10" stroke="#000" stroke-width="1.55" />
<line x1="515.82" y1="386.10" x2="515.82" y2="392.10" stroke="#000" stroke-width="1.55" />
<line x1="537.19" y1="386.10" x2="537.19" y2="392.10" stroke="#000" stroke-width="1.55" />
<line x1="558.56" y1="386.10" x2="558.56" y2="392.10" stroke="#000" stroke-width="1.55" />
<line x1="579.93" y1="386.10" x2="579.93" y2="392.10" stroke="#000" stroke-width="1.55" />
<line x1="601.30" y1="386.10" x2="601.30" y2="392.10" stroke="#000" stroke-width="1.55" />
<text x="506.99" y="405.50" font-size="16.98" class="k" textLength="18.06" lengthAdjust="spacingAndGlyphs">20</text>
<text x="549.69" y="405.50" font-size="16.98" class="k" textLength="18.06" lengthAdjust="spacingAndGlyphs">60</text>
<text x="588.31" y="405.50" font-size="16.98" class="k" textLength="26.40" lengthAdjust="spacingAndGlyphs">100</text>
<text x="495.94" y="423.20" font-size="16.43" class="k" textLength="107.53" lengthAdjust="spacingAndGlyphs">T<tspan font-size="11.6" dy="5.2">EMRA</tspan><tspan dy="-5.2"> cells (%)</tspan></text>
<text x="406.12" y="332.00" font-size="16.43" class="k" textLength="114.07" lengthAdjust="spacingAndGlyphs" transform="rotate(-90 463.20 332.00)">Cognitive score</text>
<circle cx="528.54" cy="294.53" r="2.90" fill="#ee2a24" />
<circle cx="529.42" cy="297.15" r="2.90" fill="#ee2a24" />
<circle cx="518.91" cy="294.53" r="2.90" fill="#ee2a24" />
<circle cx="539.05" cy="297.15" r="2.90" fill="#ee2a24" />
<circle cx="550.44" cy="293.65" r="2.90" fill="#ee2a24" />
<circle cx="521.53" cy="304.51" r="2.90" fill="#ee2a24" />
<circle cx="548.16" cy="304.51" r="2.90" fill="#ee2a24" />
<circle cx="531.52" cy="311.70" r="2.90" fill="#ee2a24" />
<circle cx="535.55" cy="315.20" r="2.90" fill="#ee2a24" />
<circle cx="539.05" cy="315.20" r="2.90" fill="#ee2a24" />
<circle cx="531.52" cy="318.70" r="2.90" fill="#ee2a24" />
<circle cx="524.69" cy="322.21" r="2.90" fill="#ee2a24" />
<circle cx="587.76" cy="315.20" r="2.90" fill="#ee2a24" />
<circle cx="575.84" cy="322.21" r="2.90" fill="#ee2a24" />
<circle cx="579.00" cy="329.57" r="2.90" fill="#ee2a24" />
<circle cx="542.56" cy="332.72" r="2.90" fill="#ee2a24" />
<circle cx="572.69" cy="340.08" r="2.90" fill="#ee2a24" />
<circle cx="542.91" cy="343.58" r="2.90" fill="#ee2a24" />
<circle cx="563.93" cy="346.73" r="2.90" fill="#ee2a24" />
<circle cx="565.68" cy="350.59" r="2.90" fill="#ee2a24" />
<circle cx="539.05" cy="350.59" r="2.90" fill="#ee2a24" />
<circle cx="563.23" cy="357.60" r="2.90" fill="#ee2a24" />
<circle cx="565.68" cy="357.60" r="2.90" fill="#ee2a24" />
<circle cx="566.38" cy="364.95" r="2.90" fill="#ee2a24" />
<circle cx="586.71" cy="361.10" r="2.90" fill="#ee2a24" />
<circle cx="577.25" cy="371.61" r="2.90" fill="#ee2a24" />
<circle cx="564.81" cy="375.47" r="2.90" fill="#ee2a24" />
<circle cx="527.14" cy="382.47" r="2.90" fill="#ee2a24" />
<circle cx="524.51" cy="279.64" r="2.90" fill="#000" />
<circle cx="510.50" cy="286.64" r="2.90" fill="#000" />
<circle cx="504.02" cy="290.32" r="2.90" fill="#000" />
<circle cx="524.51" cy="286.99" r="2.90" fill="#000" />
<circle cx="517.68" cy="290.15" r="2.90" fill="#000" />
<circle cx="528.54" cy="290.15" r="2.90" fill="#000" />
<circle cx="534.67" cy="290.15" r="2.90" fill="#000" />
<circle cx="538.18" cy="290.15" r="2.90" fill="#000" />
<circle cx="513.65" cy="293.65" r="2.90" fill="#000" />
<circle cx="523.29" cy="293.65" r="2.90" fill="#000" />
<circle cx="537.30" cy="294.18" r="2.90" fill="#000" />
<circle cx="541.68" cy="293.65" r="2.90" fill="#000" />
<circle cx="517.51" cy="297.15" r="2.90" fill="#000" />
<circle cx="546.94" cy="283.14" r="2.90" fill="#000" />
<circle cx="549.57" cy="283.14" r="2.90" fill="#000" />
<circle cx="558.33" cy="279.11" r="2.90" fill="#000" />
<circle cx="560.95" cy="283.14" r="2.90" fill="#000" />
<circle cx="566.21" cy="283.14" r="2.90" fill="#000" />
<circle cx="567.44" cy="279.11" r="2.90" fill="#000" />
<circle cx="572.34" cy="279.11" r="2.90" fill="#000" />
<circle cx="577.25" cy="286.64" r="2.90" fill="#000" />
<circle cx="572.34" cy="290.15" r="2.90" fill="#000" />
<circle cx="562.18" cy="293.65" r="2.90" fill="#000" />
<circle cx="568.84" cy="293.65" r="2.90" fill="#000" />
<circle cx="573.74" cy="293.65" r="2.90" fill="#000" />
<circle cx="587.23" cy="290.15" r="2.90" fill="#000" />
<circle cx="535.55" cy="304.51" r="2.90" fill="#000" />
<circle cx="526.79" cy="307.67" r="2.90" fill="#000" />
<circle cx="515.05" cy="315.20" r="2.90" fill="#000" />
<circle cx="558.33" cy="311.70" r="2.90" fill="#000" />
<circle cx="571.99" cy="311.70" r="2.90" fill="#000" />
<line x1="504.37" y1="294.53" x2="587.23" y2="288.40" stroke="#000" stroke-width="1.55" />
<line x1="520.66" y1="310.64" x2="587.76" y2="355.32" stroke="#ee2a24" stroke-width="1.55" />
<path d="M592.5,287.0 L601.5,287.0 Q603.0,287.0 603.0,288.5 L603.0,353.8 Q603.0,355.3 601.5,355.3 L592.5,355.8" fill="none" stroke="#000" stroke-width="1.55" />
<text x="607.52" y="321.80" font-size="16.43" class="k" textLength="78.10" lengthAdjust="spacingAndGlyphs"><tspan font-style="italic">P</tspan> = 0.0007</text>
</g>
<g id="pf">
<text x="3.40" y="408.20" font-size="20.3" font-weight="bold" stroke="#000" stroke-width="0.9" textLength="7.90" lengthAdjust="spacingAndGlyphs">f</text>
<text x="45.16" y="425.50" font-size="16.43" class="k" textLength="54.89" lengthAdjust="spacingAndGlyphs">Healthy</text>
<text x="108.48" y="425.50" font-size="16.43" class="k" textLength="56.08" lengthAdjust="spacingAndGlyphs">MCI/AD</text>
<rect x="45.31" y="430.31" width="57.32" height="89.01" fill="#fff" stroke="#4d4d4d" stroke-width="0.7" />
<rect x="107.75" y="430.31" width="56.94" height="89.01" fill="#fff" stroke="#4d4d4d" stroke-width="0.7" />
<path d="M52.56,500.16 L53.25,495.98 L53.93,479.66 L54.48,452.33 L55.03,438.66 L55.56,448.15 L56.40,470.07 L57.48,485.11 L59.13,489.91 L60.50,488.52 L62.55,484.40 L64.31,476.91 L65.96,464.61 L68.01,457.51 L68.96,458.48 L70.06,468.71 L71.69,487.82 L73.48,497.40 L75.24,500.16Z" fill="#c9c72d" stroke="#26260a" stroke-width="0.7" stroke-linejoin="round"/>
<path d="M52.01,517.24 L52.98,512.44 L53.38,501.49 L53.74,479.66 L54.27,457.26 L54.61,448.15 L54.96,457.26 L55.49,479.66 L56.40,501.49 L57.08,511.07 L58.45,514.49 L61.83,516.10 L65.96,517.24Z" fill="#000" stroke="#000" stroke-width="0.3" stroke-linejoin="round"/>
<path d="M113.66,500.16 L114.74,495.98 L115.71,470.07 L116.66,449.60 L117.34,438.66 L118.02,449.60 L119.12,465.99 L120.49,485.11 L122.54,491.94 L125.27,492.36 L127.32,489.21 L129.37,476.91 L131.42,461.88 L133.05,446.86 L134.42,441.13 L135.79,448.23 L137.15,465.99 L138.52,486.49 L139.89,497.40 L142.33,500.16Z" fill="#fcf4b8" stroke="#6a6a5a" stroke-width="0.55" stroke-linejoin="round"/>
<path d="M115.29,517.24 L116.39,512.44 L116.94,501.49 L117.47,479.66 L118.02,463.24 L118.57,458.48 L119.12,460.49 L120.20,479.66 L121.17,496.04 L122.12,506.97 L123.49,512.44 L125.67,515.15 L128.69,516.86Z" fill="#2a2912" stroke="#2a2912" stroke-width="0.3" stroke-linejoin="round"/>
<line x1="45.31" y1="500.35" x2="102.63" y2="500.35" stroke="#4d4d4d" stroke-width="0.7" />
<line x1="45.31" y1="517.43" x2="102.63" y2="517.43" stroke="#4d4d4d" stroke-width="0.7" />
<rect x="45.31" y="430.31" width="57.32" height="89.01" fill="none" stroke="#4d4d4d" stroke-width="0.7" />
<path d="M50.31,519.33v4.2M54.03,519.33v2.6M56.20,519.33v2.6M57.74,519.33v2.6M58.93,519.33v2.6M59.91,519.33v2.6M60.73,519.33v2.6M61.45,519.33v2.6M62.08,519.33v2.6M62.64,519.33v4.2M66.35,519.33v2.6M68.53,519.33v2.6M70.07,519.33v2.6M71.26,519.33v2.6M72.24,519.33v2.6M73.06,519.33v2.6M73.78,519.33v2.6M74.41,519.33v2.6M74.97,519.33v4.2M78.68,519.33v2.6M80.85,519.33v2.6M82.40,519.33v2.6M83.59,519.33v2.6M84.57,519.33v2.6M85.39,519.33v2.6M86.11,519.33v2.6M86.74,519.33v2.6M87.30,519.33v4.2M91.01,519.33v2.6M93.18,519.33v2.6M94.72,519.33v2.6M95.92,519.33v2.6M96.90,519.33v2.6M97.72,519.33v2.6M98.44,519.33v2.6M99.07,519.33v2.6" stroke="#111" stroke-width="0.55" fill="none"/>
<rect x="48.31" y="519.73" width="8" height="2.2" fill="#111"/>
<line x1="107.75" y1="500.35" x2="164.69" y2="500.35" stroke="#4d4d4d" stroke-width="0.7" />
<line x1="107.75" y1="517.43" x2="164.69" y2="517.43" stroke="#4d4d4d" stroke-width="0.7" />
<rect x="107.75" y="430.31" width="56.94" height="89.01" fill="none" stroke="#4d4d4d" stroke-width="0.7" />
<path d="M112.75,519.33v4.2M116.44,519.33v2.6M118.59,519.33v2.6M120.12,519.33v2.6M121.31,519.33v2.6M122.27,519.33v2.6M123.09,519.33v2.6M123.80,519.33v2.6M124.43,519.33v2.6M124.99,519.33v4.2M128.67,519.33v2.6M130.83,519.33v2.6M132.35,519.33v2.6M133.54,519.33v2.6M134.51,519.33v2.6M135.33,519.33v2.6M136.04,519.33v2.6M136.66,519.33v2.6M137.22,519.33v4.2M140.91,519.33v2.6M143.06,519.33v2.6M144.59,519.33v2.6M145.77,519.33v2.6M146.74,519.33v2.6M147.56,519.33v2.6M148.27,519.33v2.6M148.90,519.33v2.6M149.46,519.33v4.2M153.14,519.33v2.6M155.29,519.33v2.6M156.82,519.33v2.6M158.01,519.33v2.6M158.98,519.33v2.6M159.80,519.33v2.6M160.51,519.33v2.6M161.13,519.33v2.6" stroke="#111" stroke-width="0.55" fill="none"/>
<rect x="110.75" y="519.73" width="8" height="2.2" fill="#111"/>
<text x="59.26" y="447.30" font-size="16.43" class="k" textLength="37.42" lengthAdjust="spacingAndGlyphs">Stim.</text>
<text x="69.54" y="514.80" font-size="16.43" class="k" textLength="26.61" lengthAdjust="spacingAndGlyphs">Ctrl</text>
<text x="-8.17" y="473.80" font-size="16.43" class="k" textLength="89.90" lengthAdjust="spacingAndGlyphs" transform="rotate(-90 36.90 473.80)">CD8<tspan font-size="10.5" dy="-5.5">+</tspan><tspan dy="5.5"> T cells</tspan></text>
<defs><linearGradient id="yb" x1="0" y1="0" x2="1" y2="0"><stop offset="0" stop-color="#000"/><stop offset="0.12" stop-color="#1c1c08"/><stop offset="0.3" stop-color="#8a8a20"/><stop offset="0.5" stop-color="#f5ee1c"/><stop offset="0.62" stop-color="#fff21f"/><stop offset="0.8" stop-color="#fdf47c"/><stop offset="1" stop-color="#fefbd8"/></linearGradient></defs>
<rect x="8.40" y="527.00" width="59.40" height="10.00" fill="url(#yb)" stroke="#555" stroke-width="0.7" />
<text x="2.32" y="550.60" font-size="15.30" class="k" textLength="17.20" lengthAdjust="spacingAndGlyphs">30</text>
<text x="54.99" y="550.60" font-size="15.30" class="k" textLength="21.33" lengthAdjust="spacingAndGlyphs">521</text>
<text x="88.54" y="537.00" font-size="16.43" class="k" textLength="38.69" lengthAdjust="spacingAndGlyphs">IFN-γ</text>
<circle cx="53.90" cy="570.00" r="3.20" fill="#fff" stroke="#000" stroke-width="1.8" />
<circle cx="53.90" cy="585.60" r="4.00" fill="#000" />
<text x="62.68" y="574.90" font-size="16.43" class="k" textLength="113.87" lengthAdjust="spacingAndGlyphs">Healthy (<tspan font-style="italic">n</tspan> = 10)</text>
<text x="62.69" y="592.30" font-size="16.43" class="k" textLength="114.86" lengthAdjust="spacingAndGlyphs">MCI/AD (<tspan font-style="italic">n</tspan> = 14)</text>
<line x1="104.00" y1="603.80" x2="104.00" y2="726.95" stroke="#000" stroke-width="1.75" />
<line x1="103.15" y1="726.10" x2="168.30" y2="726.10" stroke="#000" stroke-width="1.75" />
<line x1="99.40" y1="726.10" x2="104.00" y2="726.10" stroke="#000" stroke-width="1.6" />
<line x1="99.40" y1="685.73" x2="104.00" y2="685.73" stroke="#000" stroke-width="1.6" />
<line x1="99.40" y1="645.36" x2="104.00" y2="645.36" stroke="#000" stroke-width="1.6" />
<line x1="99.40" y1="604.99" x2="104.00" y2="604.99" stroke="#000" stroke-width="1.6" />
<text x="88.63" y="732.30" font-size="16.52" class="k" textLength="9.32" lengthAdjust="spacingAndGlyphs">0</text>
<text x="46.77" y="692.60" font-size="16.37" class="k" textLength="50.82" lengthAdjust="spacingAndGlyphs">5 × 10<tspan font-size="12" dy="-4.7">2</tspan></text>
<text x="46.61" y="651.50" font-size="16.37" class="k" textLength="50.89" lengthAdjust="spacingAndGlyphs">1 × 10<tspan font-size="12" dy="-4.7">3</tspan></text>
<text x="32.90" y="610.50" font-size="16.37" class="k" textLength="64.61" lengthAdjust="spacingAndGlyphs">1.5 × 10<tspan font-size="12" dy="-4.7">3</tspan></text>
<text x="108.51" y="613.70" font-size="16.43" class="k" textLength="69.69" lengthAdjust="spacingAndGlyphs"><tspan font-style="italic">P</tspan> = 0.021</text>
<text x="-26.03" y="666.00" font-size="16.43" class="k" textLength="82.92" lengthAdjust="spacingAndGlyphs" transform="rotate(-90 15.30 666.00)">CD8<tspan font-size="10.5" dy="-5.5">+</tspan><tspan dy="5.5"> T cell</tspan></text>
<text x="-23.38" y="666.00" font-size="16.43" class="k" textLength="109.17" lengthAdjust="spacingAndGlyphs" transform="rotate(-90 31.60 666.00)">IFN-γ response</text>
<circle cx="120.34" cy="661.56" r="3.10" fill="#fff" stroke="#000" stroke-width="1.9" />
<circle cx="120.34" cy="684.69" r="3.10" fill="#fff" stroke="#000" stroke-width="1.9" />
<circle cx="115.61" cy="692.57" r="3.10" fill="#fff" stroke="#000" stroke-width="1.9" />
<circle cx="125.59" cy="688.10" r="3.10" fill="#fff" stroke="#000" stroke-width="1.9" />
<circle cx="121.39" cy="695.98" r="3.10" fill="#fff" stroke="#000" stroke-width="1.9" />
<circle cx="126.12" cy="701.24" r="3.10" fill="#fff" stroke="#000" stroke-width="1.9" />
<circle cx="114.29" cy="706.49" r="3.10" fill="#fff" stroke="#000" stroke-width="1.9" />
<circle cx="120.86" cy="710.96" r="3.10" fill="#fff" stroke="#000" stroke-width="1.9" />
<circle cx="120.34" cy="721.47" r="3.10" fill="#fff" stroke="#000" stroke-width="1.9" />
<circle cx="115.61" cy="699.14" r="3.10" fill="#fff" stroke="#000" stroke-width="1.9" />
<circle cx="147.14" cy="627.67" r="3.65" fill="#000" />
<circle cx="157.65" cy="628.20" r="3.65" fill="#000" />
<circle cx="152.39" cy="630.30" r="3.65" fill="#000" />
<circle cx="146.61" cy="655.00" r="3.65" fill="#000" />
<circle cx="162.38" cy="664.45" r="3.65" fill="#000" />
<circle cx="153.70" cy="667.61" r="3.65" fill="#000" />
<circle cx="157.65" cy="672.34" r="3.65" fill="#000" />
<circle cx="147.14" cy="686.00" r="3.65" fill="#000" />
<circle cx="153.70" cy="688.63" r="3.65" fill="#000" />
<circle cx="158.96" cy="688.63" r="3.65" fill="#000" />
<circle cx="149.76" cy="692.57" r="3.65" fill="#000" />
<circle cx="152.39" cy="695.19" r="3.65" fill="#000" />
<circle cx="157.12" cy="707.81" r="3.65" fill="#000" />
<circle cx="146.61" cy="714.11" r="3.65" fill="#000" />
<line x1="109.56" y1="695.19" x2="130.58" y2="695.19" stroke="#ee2a24" stroke-width="1.9" />
<line x1="114.82" y1="689.41" x2="125.33" y2="689.41" stroke="#ee2a24" stroke-width="1.9" />
<line x1="114.82" y1="700.98" x2="125.33" y2="700.98" stroke="#ee2a24" stroke-width="1.9" />
<line x1="120.07" y1="689.41" x2="120.07" y2="700.98" stroke="#ee2a24" stroke-width="1.9" />
<line x1="141.88" y1="672.34" x2="162.90" y2="672.34" stroke="#ee2a24" stroke-width="1.9" />
<line x1="147.14" y1="664.98" x2="157.65" y2="664.98" stroke="#ee2a24" stroke-width="1.9" />
<line x1="147.14" y1="680.22" x2="157.65" y2="680.22" stroke="#ee2a24" stroke-width="1.9" />
<line x1="152.39" y1="664.98" x2="152.39" y2="680.22" stroke="#ee2a24" stroke-width="1.9" />
</g>
<g id="pg">
<defs><radialGradient id="sb" cx="0.42" cy="0.4" r="0.68" fx="0.3" fy="0.26"><stop offset="0" stop-color="#5068cc"/><stop offset="0.28" stop-color="#3144a6"/><stop offset="0.6" stop-color="#243086"/><stop offset="0.85" stop-color="#161d58"/><stop offset="1" stop-color="#0d1238"/></radialGradient><radialGradient id="sr" cx="0.42" cy="0.4" r="0.68" fx="0.3" fy="0.26"><stop offset="0" stop-color="#ff3a3a"/><stop offset="0.28" stop-color="#e51c25"/><stop offset="0.6" stop-color="#b3141a"/><stop offset="0.85" stop-color="#7a0c10"/><stop offset="1" stop-color="#4a0608"/></radialGradient></defs>
<text x="192.70" y="452.30" font-size="20.4" font-weight="bold" stroke="#000" stroke-width="0.9" textLength="13.72" lengthAdjust="spacingAndGlyphs">g</text>
<line x1="244.00" y1="480.50" x2="244.00" y2="626.40" stroke="#000" stroke-width="1.75" />
<line x1="243.15" y1="625.60" x2="420.60" y2="625.60" stroke="#000" stroke-width="1.65" />
<line x1="240.40" y1="623.70" x2="244.00" y2="623.70" stroke="#000" stroke-width="1.7" />
<text x="231.56" y="629.30" font-size="16.83" class="k" textLength="8.85" lengthAdjust="spacingAndGlyphs">0</text>
<line x1="240.40" y1="579.70" x2="244.00" y2="579.70" stroke="#000" stroke-width="1.7" />
<text x="213.17" y="585.30" font-size="16.83" class="k" textLength="27.25" lengthAdjust="spacingAndGlyphs">100</text>
<line x1="240.40" y1="532.80" x2="244.00" y2="532.80" stroke="#000" stroke-width="1.7" />
<text x="213.60" y="538.40" font-size="16.83" class="k" textLength="26.82" lengthAdjust="spacingAndGlyphs">200</text>
<line x1="240.40" y1="487.50" x2="244.00" y2="487.50" stroke="#000" stroke-width="1.7" />
<text x="213.80" y="493.10" font-size="16.83" class="k" textLength="26.61" lengthAdjust="spacingAndGlyphs">300</text>
<line x1="259.00" y1="625.60" x2="259.00" y2="630.20" stroke="#000" stroke-width="1.7" />
<text x="237.20" y="647.20" font-size="16.83" class="k" textLength="40.04" lengthAdjust="spacingAndGlyphs">–0.25</text>
<line x1="301.00" y1="625.60" x2="301.00" y2="630.20" stroke="#000" stroke-width="1.7" />
<text x="296.39" y="647.20" font-size="16.83" class="k" textLength="9.20" lengthAdjust="spacingAndGlyphs">0</text>
<line x1="350.00" y1="625.60" x2="350.00" y2="630.20" stroke="#000" stroke-width="1.7" />
<text x="335.04" y="647.20" font-size="16.83" class="k" textLength="31.94" lengthAdjust="spacingAndGlyphs">0.25</text>
<line x1="392.50" y1="625.60" x2="392.50" y2="630.20" stroke="#000" stroke-width="1.7" />
<text x="381.63" y="647.20" font-size="16.83" class="k" textLength="23.35" lengthAdjust="spacingAndGlyphs">0.5</text>
<text x="251.67" y="668.50" font-size="16.43" class="k" textLength="164.99" lengthAdjust="spacingAndGlyphs">MCI/AD versus healthy</text>
<text x="286.79" y="687.90" font-size="16.43" class="k" textLength="94.58" lengthAdjust="spacingAndGlyphs">(fold change)</text>
<text x="154.80" y="548.50" font-size="16.43" class="k" textLength="105.00" lengthAdjust="spacingAndGlyphs" transform="rotate(-90 206.80 548.50)">–log<tspan font-size="10.5" dy="3.6">10</tspan><tspan dy="-3.6">(</tspan><tspan font-style="italic">q</tspan> value)</text>
<path d="M284.4,615.3h0.01M290.2,617.9h0.01M289.7,617.6h0.01M282.9,612.5h0.01M312.9,613.6h0.01M319.5,608.2h0.01M309.0,617.8h0.01M301.3,620.4h0.01M302.0,619.5h0.01M301.8,620.3h0.01M303.2,621.6h0.01M295.6,614.6h0.01M320.2,607.2h0.01M293.9,620.2h0.01M298.2,620.8h0.01M297.5,618.2h0.01M296.4,620.2h0.01M316.1,608.7h0.01M299.3,622.2h0.01M290.7,620.8h0.01M284.1,607.7h0.01M302.3,621.0h0.01M287.1,617.8h0.01M297.2,621.5h0.01M284.0,614.3h0.01M301.6,620.1h0.01M318.4,610.4h0.01M314.9,616.1h0.01M283.2,609.4h0.01M288.9,617.0h0.01M313.1,614.5h0.01M303.0,622.5h0.01M296.8,622.0h0.01M308.5,618.9h0.01M321.5,604.4h0.01M319.1,606.5h0.01M304.7,618.0h0.01M288.0,611.9h0.01M299.3,622.4h0.01M318.9,606.6h0.01M298.6,621.4h0.01M292.9,618.0h0.01M310.9,616.0h0.01M308.9,615.4h0.01M304.6,621.5h0.01M299.2,619.6h0.01M303.4,619.8h0.01M284.8,616.9h0.01M311.0,612.7h0.01M307.4,618.8h0.01M301.7,619.2h0.01M279.3,611.2h0.01M302.3,621.6h0.01M282.0,613.5h0.01M298.9,621.5h0.01M317.9,607.3h0.01M323.2,604.2h0.01M299.1,620.6h0.01M309.4,621.5h0.01M291.3,619.8h0.01M285.0,619.6h0.01M314.6,615.6h0.01M300.2,619.7h0.01M282.4,611.7h0.01M302.2,621.8h0.01M297.4,621.7h0.01M291.0,616.5h0.01M288.3,616.3h0.01M309.3,619.3h0.01M305.4,621.5h0.01M288.1,619.9h0.01M322.2,602.1h0.01M294.5,621.2h0.01M285.9,614.5h0.01M313.8,611.9h0.01M298.3,622.3h0.01M302.0,622.1h0.01M327.3,600.1h0.01M301.9,621.2h0.01M280.3,610.7h0.01M290.8,618.0h0.01M298.8,621.8h0.01M290.1,617.5h0.01M310.3,616.0h0.01M292.7,621.4h0.01M326.1,600.0h0.01M295.6,620.8h0.01M301.2,621.6h0.01M295.6,622.5h0.01M309.8,619.9h0.01M291.9,617.7h0.01M284.4,609.9h0.01M295.3,621.2h0.01M303.2,621.4h0.01M301.4,621.6h0.01M297.8,621.6h0.01M288.9,611.9h0.01M305.0,621.4h0.01M312.7,617.0h0.01M307.2,618.2h0.01M316.6,611.2h0.01M281.4,610.8h0.01M286.8,617.3h0.01M311.6,614.2h0.01M320.2,604.1h0.01M325.5,607.0h0.01M301.1,621.0h0.01M309.2,618.1h0.01M289.6,615.8h0.01M292.2,621.9h0.01M288.6,613.8h0.01M326.6,602.3h0.01M298.7,621.7h0.01M298.2,619.4h0.01M298.5,620.7h0.01M291.0,618.6h0.01M297.6,621.2h0.01M309.9,618.3h0.01M300.9,620.0h0.01M285.4,614.8h0.01M324.5,599.7h0.01M300.5,621.7h0.01M301.8,618.9h0.01M293.8,617.9h0.01M299.7,622.2h0.01M300.2,620.3h0.01M293.5,619.1h0.01M295.9,621.2h0.01M292.9,621.5h0.01M306.3,622.0h0.01M289.8,617.7h0.01M294.0,622.1h0.01M289.1,612.5h0.01M300.0,621.2h0.01M312.3,611.7h0.01M308.3,618.2h0.01M296.4,621.3h0.01M298.9,621.1h0.01M285.2,617.9h0.01M299.7,621.8h0.01M295.7,620.5h0.01M303.9,620.9h0.01M285.5,613.7h0.01M327.7,595.3h0.01M283.0,606.6h0.01M307.2,619.1h0.01M293.6,621.9h0.01M278.9,608.9h0.01M320.4,605.1h0.01M298.5,619.7h0.01M304.8,618.9h0.01M310.8,618.8h0.01M321.2,607.2h0.01M303.4,621.1h0.01M291.1,615.5h0.01M318.9,610.3h0.01M312.5,617.6h0.01M316.6,610.5h0.01M281.7,613.7h0.01M299.1,621.4h0.01M293.4,621.8h0.01M310.6,617.6h0.01M295.0,621.8h0.01M311.0,616.3h0.01M316.3,610.5h0.01M315.1,612.3h0.01M298.2,621.1h0.01M297.8,620.8h0.01M308.1,620.1h0.01M309.7,617.9h0.01M310.1,616.7h0.01M316.2,612.0h0.01M304.2,621.5h0.01M304.5,619.1h0.01M281.1,608.1h0.01M297.6,622.2h0.01M306.2,621.0h0.01M298.9,622.6h0.01M304.4,620.7h0.01M297.7,619.1h0.01M292.7,614.6h0.01M298.9,619.9h0.01M295.8,619.6h0.01M299.3,619.0h0.01M295.6,617.5h0.01M284.0,613.6h0.01M301.0,621.2h0.01M302.5,620.1h0.01M301.0,620.2h0.01M293.4,620.7h0.01M304.7,616.3h0.01M290.1,617.8h0.01M310.5,619.0h0.01M296.2,621.5h0.01M307.8,615.9h0.01M315.9,610.8h0.01M324.0,600.0h0.01M280.2,607.9h0.01M302.4,622.0h0.01M297.8,620.7h0.01M305.7,619.9h0.01M296.9,622.5h0.01M300.9,621.5h0.01M285.9,611.5h0.01M316.6,607.6h0.01M295.0,620.0h0.01M296.6,622.1h0.01M281.6,611.2h0.01M283.3,613.2h0.01M282.1,610.6h0.01M292.3,620.0h0.01M293.1,619.5h0.01M297.3,621.8h0.01M297.6,621.8h0.01M288.8,615.5h0.01M296.5,619.9h0.01M297.7,621.2h0.01M323.9,606.7h0.01M305.3,621.3h0.01M322.9,600.7h0.01M295.6,619.5h0.01M294.3,619.1h0.01M287.9,617.6h0.01M305.2,622.3h0.01M322.2,604.2h0.01M301.8,621.2h0.01M318.4,609.5h0.01M287.6,617.0h0.01M310.9,614.6h0.01M282.4,612.7h0.01M310.7,617.4h0.01M302.6,618.5h0.01M300.9,622.1h0.01M311.8,618.2h0.01M313.6,613.6h0.01M298.7,620.3h0.01M318.5,611.9h0.01M322.6,599.9h0.01M297.4,622.2h0.01M287.1,616.6h0.01M327.8,596.2h0.01M302.7,620.4h0.01M295.0,615.9h0.01M298.9,620.6h0.01M317.0,609.8h0.01M302.6,622.5h0.01M291.9,618.3h0.01M305.0,621.2h0.01M290.3,617.2h0.01M305.8,620.2h0.01M293.7,619.0h0.01M292.4,615.8h0.01M289.4,622.3h0.01M294.7,620.3h0.01M318.3,608.0h0.01M291.3,618.9h0.01M311.2,616.3h0.01M308.7,618.0h0.01M303.6,621.7h0.01M303.8,619.9h0.01M306.4,621.6h0.01M327.9,597.3h0.01M309.4,617.6h0.01M320.5,606.3h0.01M282.3,612.1h0.01M312.0,617.7h0.01M307.5,618.8h0.01M293.4,619.2h0.01M282.7,614.5h0.01M288.6,619.2h0.01M297.7,620.7h0.01M294.6,618.9h0.01M303.1,621.8h0.01M283.5,614.9h0.01M281.2,609.1h0.01M310.9,614.2h0.01M290.1,617.5h0.01M301.1,616.3h0.01M288.5,616.1h0.01M292.7,621.1h0.01M306.8,620.6h0.01M291.0,616.5h0.01M299.4,621.2h0.01M314.4,615.1h0.01M312.4,614.3h0.01M313.6,613.0h0.01M288.5,614.2h0.01M282.7,611.8h0.01M304.5,621.5h0.01M299.6,621.0h0.01M292.5,621.9h0.01M297.5,622.3h0.01M306.9,621.9h0.01M317.7,607.2h0.01M308.6,616.4h0.01M301.0,621.9h0.01M297.3,621.4h0.01M286.1,615.0h0.01M323.3,605.2h0.01M298.1,619.7h0.01M304.0,619.0h0.01M320.0,604.8h0.01M288.1,611.2h0.01M300.5,619.3h0.01M294.7,618.8h0.01M297.1,618.0h0.01M314.4,610.6h0.01M306.2,621.3h0.01M319.9,611.3h0.01M308.3,615.8h0.01M309.9,615.9h0.01M319.7,608.3h0.01M297.3,621.6h0.01M309.6,611.9h0.01M311.1,617.2h0.01M297.3,619.0h0.01M318.4,607.0h0.01M300.7,620.4h0.01M286.9,613.6h0.01M299.4,619.3h0.01M298.9,621.8h0.01M285.4,611.1h0.01M297.6,621.6h0.01M315.8,609.8h0.01M314.5,613.0h0.01M298.7,621.2h0.01M304.1,621.2h0.01M299.0,618.9h0.01M314.8,611.3h0.01M315.8,612.6h0.01M309.7,615.8h0.01M306.0,620.6h0.01M304.5,620.6h0.01M297.6,619.8h0.01M315.2,610.0h0.01M311.5,614.3h0.01M289.3,618.8h0.01M306.5,619.0h0.01M284.4,614.0h0.01M300.4,621.4h0.01M298.2,620.0h0.01M311.1,618.5h0.01M294.0,618.1h0.01M315.9,610.4h0.01M282.7,611.9h0.01M301.8,621.0h0.01M323.0,600.9h0.01M303.9,621.9h0.01M318.1,614.6h0.01M296.9,622.2h0.01M280.7,607.0h0.01M307.7,615.7h0.01M284.9,616.6h0.01M325.1,601.6h0.01M301.2,622.3h0.01M311.3,615.3h0.01M317.7,607.8h0.01M292.0,622.5h0.01M289.6,618.9h0.01M292.0,614.6h0.01M282.7,609.3h0.01M299.3,621.9h0.01M292.4,619.3h0.01M301.3,622.1h0.01M300.4,622.2h0.01M306.4,616.1h0.01M279.9,613.7h0.01M303.2,619.5h0.01M296.4,622.1h0.01M317.3,611.0h0.01M285.7,614.6h0.01M304.2,620.0h0.01M286.5,615.4h0.01M290.0,621.0h0.01M317.8,607.8h0.01M294.9,620.5h0.01M303.1,619.1h0.01M306.8,619.0h0.01M287.2,615.3h0.01M301.4,622.2h0.01M281.8,610.1h0.01M306.6,622.2h0.01M296.6,621.5h0.01M302.2,622.2h0.01M282.6,614.0h0.01M286.8,615.3h0.01M319.7,605.6h0.01M281.3,612.8h0.01M304.0,620.6h0.01M299.8,621.1h0.01M278.3,612.4h0.01M303.6,621.1h0.01M315.9,612.9h0.01M304.1,620.7h0.01M316.4,610.6h0.01M289.7,617.4h0.01M309.7,622.0h0.01M304.4,621.7h0.01M318.3,611.8h0.01M306.4,621.5h0.01M307.7,616.4h0.01M301.3,622.0h0.01M289.0,614.3h0.01M304.0,619.1h0.01M301.7,620.3h0.01M297.3,619.6h0.01M312.2,614.2h0.01M296.3,618.7h0.01M305.3,620.6h0.01M301.6,621.5h0.01M314.0,611.1h0.01M297.4,620.6h0.01M296.2,620.8h0.01M279.2,613.1h0.01M297.9,620.9h0.01M294.5,620.0h0.01M291.2,619.6h0.01M303.6,619.9h0.01M308.4,619.2h0.01M307.5,617.1h0.01M309.1,618.3h0.01M289.2,616.6h0.01M298.5,620.1h0.01M303.8,622.2h0.01M297.3,620.4h0.01M310.7,616.1h0.01M318.6,606.3h0.01M324.2,602.1h0.01M296.1,621.2h0.01M289.9,618.2h0.01M297.8,621.9h0.01M301.9,622.3h0.01M308.0,617.6h0.01M306.6,618.3h0.01M309.8,615.7h0.01M304.0,619.8h0.01M305.9,618.2h0.01M279.4,611.0h0.01M304.7,621.3h0.01M301.6,622.1h0.01M295.9,619.3h0.01M306.5,619.5h0.01M297.8,622.4h0.01M286.2,618.6h0.01M284.3,615.9h0.01M309.6,619.0h0.01M294.9,621.1h0.01M297.3,618.2h0.01M280.1,607.7h0.01M306.9,622.4h0.01M316.0,610.8h0.01M311.4,613.1h0.01M300.3,621.3h0.01M305.6,618.2h0.01M306.2,617.5h0.01M283.0,615.1h0.01M313.0,615.0h0.01M326.4,603.2h0.01M286.2,616.7h0.01M296.7,622.2h0.01M304.9,620.6h0.01M305.9,619.2h0.01M308.3,617.8h0.01M301.3,621.6h0.01M296.7,621.0h0.01M291.7,616.0h0.01M288.9,616.9h0.01M297.8,619.4h0.01M290.8,618.5h0.01M293.7,619.7h0.01M306.6,622.0h0.01M309.3,615.8h0.01M288.4,618.8h0.01M308.0,618.6h0.01M325.3,599.9h0.01M284.9,614.7h0.01M298.0,621.2h0.01M280.6,610.5h0.01M296.5,621.9h0.01M284.2,609.4h0.01M309.5,617.1h0.01M295.7,619.8h0.01M320.1,607.2h0.01M316.5,608.4h0.01M297.7,622.1h0.01M285.5,617.0h0.01M313.9,610.2h0.01M296.4,621.1h0.01M309.8,616.9h0.01M296.0,622.0h0.01M293.1,619.4h0.01M302.8,621.2h0.01M293.7,618.8h0.01M302.5,620.2h0.01M302.4,621.4h0.01M302.8,622.5h0.01M311.0,617.4h0.01M321.4,606.6h0.01M300.4,620.1h0.01M289.8,616.2h0.01M301.0,620.0h0.01M293.7,619.1h0.01M305.3,620.4h0.01M278.8,613.3h0.01M315.0,613.1h0.01M304.8,621.4h0.01M283.2,610.1h0.01M290.7,618.7h0.01M279.4,610.7h0.01M297.7,621.4h0.01M308.2,619.7h0.01M294.9,619.2h0.01M296.5,622.3h0.01M305.5,617.8h0.01M287.1,614.5h0.01M302.8,621.6h0.01M300.6,622.6h0.01M304.0,620.0h0.01M294.2,620.6h0.01M283.6,610.2h0.01M289.2,617.2h0.01M298.9,622.4h0.01M292.2,622.1h0.01M286.1,609.3h0.01M295.4,622.1h0.01M288.8,620.1h0.01M309.6,620.3h0.01M296.8,621.7h0.01M312.7,617.8h0.01M303.4,622.3h0.01M306.8,618.6h0.01M310.5,616.0h0.01M291.8,620.3h0.01M285.8,621.6h0.01M293.8,618.8h0.01M327.7,602.0h0.01M308.9,615.6h0.01M299.7,620.1h0.01M319.7,610.3h0.01M303.8,620.6h0.01M313.8,613.6h0.01M303.1,621.8h0.01M288.0,616.8h0.01M310.8,619.9h0.01M295.7,620.8h0.01M316.7,606.1h0.01M311.3,618.1h0.01M297.9,620.8h0.01M291.7,615.4h0.01M284.1,612.1h0.01M309.1,616.0h0.01M281.8,609.5h0.01M322.0,604.5h0.01M288.1,617.4h0.01M293.3,620.6h0.01M292.1,617.5h0.01M312.9,613.9h0.01M301.5,620.6h0.01M313.5,610.3h0.01M296.1,619.1h0.01M315.0,605.2h0.01M297.4,619.7h0.01M294.8,622.0h0.01M298.6,621.2h0.01M302.6,621.8h0.01M292.4,620.6h0.01M292.5,617.4h0.01M291.3,616.6h0.01M308.3,619.3h0.01M307.4,618.4h0.01M282.8,609.8h0.01M296.4,622.2h0.01M310.9,612.9h0.01M294.2,619.3h0.01M320.7,608.7h0.01M295.1,620.0h0.01M298.2,621.6h0.01M308.7,614.2h0.01M289.2,618.7h0.01M293.9,621.7h0.01M308.5,618.0h0.01M327.0,595.1h0.01M310.7,616.6h0.01M328.1,593.6h0.01M303.6,622.0h0.01M288.7,617.9h0.01M304.9,619.3h0.01M282.4,609.9h0.01M315.3,609.1h0.01M304.8,621.4h0.01M298.9,621.3h0.01M325.4,599.6h0.01M299.2,622.4h0.01M293.3,620.2h0.01M307.1,617.6h0.01M307.8,617.6h0.01M301.2,622.0h0.01M301.9,619.6h0.01M301.2,620.9h0.01M285.9,615.5h0.01M304.4,621.3h0.01M298.9,620.1h0.01M308.1,615.6h0.01M313.8,612.0h0.01M307.9,617.5h0.01M310.4,615.7h0.01M280.5,611.0h0.01M301.7,618.5h0.01M311.1,619.3h0.01M325.5,599.7h0.01M303.2,620.0h0.01M295.9,621.1h0.01M294.4,622.2h0.01M303.9,622.5h0.01M281.3,609.6h0.01M293.0,620.1h0.01M306.1,619.0h0.01M294.8,620.4h0.01M302.6,619.6h0.01M278.6,608.2h0.01M326.2,601.7h0.01M307.8,619.7h0.01M294.0,617.6h0.01M287.7,616.3h0.01M305.0,619.9h0.01M302.4,621.3h0.01M297.7,618.9h0.01M314.3,613.5h0.01M294.5,617.2h0.01M310.3,613.5h0.01M304.6,622.5h0.01M310.1,618.9h0.01M311.7,617.1h0.01M278.5,608.5h0.01M327.4,600.6h0.01M281.9,610.8h0.01M297.1,621.9h0.01M305.1,619.6h0.01M281.8,607.6h0.01M305.6,618.0h0.01M305.0,619.6h0.01M306.2,618.8h0.01M297.8,622.4h0.01M301.8,622.1h0.01M293.6,619.1h0.01M324.6,605.5h0.01M300.7,621.3h0.01M286.5,616.1h0.01M288.3,617.1h0.01M303.9,622.0h0.01M320.3,608.2h0.01M292.8,620.5h0.01M294.6,620.8h0.01M295.0,620.9h0.01M290.5,614.3h0.01M305.7,620.7h0.01M306.2,622.0h0.01M323.7,605.4h0.01M302.6,621.4h0.01M296.7,621.0h0.01M306.6,620.1h0.01M294.9,617.9h0.01M318.5,603.5h0.01M301.3,622.5h0.01M290.2,618.3h0.01M301.1,621.3h0.01M312.7,618.3h0.01M292.7,615.7h0.01M314.5,613.0h0.01M305.9,621.6h0.01M298.9,621.4h0.01M304.2,621.3h0.01M306.3,622.4h0.01M320.9,606.0h0.01M305.4,620.7h0.01M324.2,605.2h0.01M291.2,613.9h0.01M306.1,619.7h0.01M294.9,621.2h0.01M309.0,619.6h0.01M297.4,620.6h0.01M311.1,616.5h0.01M303.0,621.9h0.01M284.2,611.1h0.01M281.3,610.9h0.01M281.6,607.8h0.01M312.5,614.3h0.01M317.4,610.7h0.01M299.8,620.6h0.01M308.6,619.6h0.01M299.1,621.4h0.01M307.8,617.8h0.01M326.8,599.7h0.01M298.7,621.2h0.01M325.7,595.9h0.01M321.1,605.0h0.01M299.6,621.7h0.01M324.9,603.2h0.01M281.3,611.6h0.01M311.7,612.7h0.01M279.4,604.2h0.01M304.2,620.4h0.01M316.1,611.2h0.01M299.9,620.2h0.01M298.6,622.1h0.01M313.0,614.0h0.01M292.3,620.4h0.01M296.4,622.2h0.01M287.0,614.4h0.01M304.8,620.4h0.01M293.6,620.7h0.01M295.4,620.9h0.01M315.5,611.5h0.01M306.5,620.2h0.01M305.2,622.5h0.01M290.4,617.5h0.01M296.7,619.5h0.01M319.6,611.4h0.01M308.9,615.3h0.01M295.1,620.2h0.01M293.1,622.3h0.01M293.4,619.6h0.01M299.1,621.8h0.01M285.4,613.6h0.01M313.9,617.4h0.01M295.3,619.8h0.01M325.5,600.7h0.01M307.6,616.7h0.01M314.5,610.4h0.01M297.6,620.4h0.01M281.8,609.8h0.01M298.8,621.0h0.01M301.8,620.6h0.01M290.8,618.8h0.01M304.5,620.2h0.01M299.2,620.1h0.01M324.4,600.3h0.01M303.8,619.9h0.01M292.9,618.1h0.01M280.8,614.3h0.01M291.4,616.8h0.01M279.4,603.2h0.01M298.2,620.4h0.01M301.6,621.5h0.01M295.0,620.0h0.01M313.4,615.4h0.01M293.3,618.1h0.01M300.8,621.6h0.01M310.6,619.5h0.01M302.0,621.7h0.01M312.4,617.3h0.01M298.1,620.3h0.01M320.8,606.8h0.01M286.3,621.5h0.01M299.0,620.1h0.01M310.8,617.5h0.01M292.4,619.7h0.01M297.5,621.8h0.01M308.2,619.7h0.01M309.0,617.9h0.01M290.7,619.4h0.01M307.6,617.7h0.01M287.7,620.5h0.01M297.2,621.1h0.01M289.9,615.7h0.01M288.4,614.4h0.01M295.1,621.9h0.01M294.0,621.0h0.01M314.1,614.1h0.01M304.3,619.4h0.01M324.1,606.2h0.01M318.1,610.1h0.01M287.0,619.4h0.01M293.4,619.6h0.01M317.0,612.4h0.01M308.7,618.3h0.01M324.8,601.5h0.01M283.7,613.5h0.01M321.8,605.3h0.01M316.1,609.8h0.01M309.3,615.3h0.01M308.8,615.8h0.01M321.9,608.0h0.01M325.4,602.3h0.01M293.5,620.1h0.01M301.5,621.1h0.01M317.0,611.9h0.01M304.0,621.7h0.01M305.7,622.0h0.01M294.7,621.2h0.01M292.7,616.7h0.01M316.9,611.3h0.01M298.5,619.4h0.01M314.8,611.6h0.01M288.0,615.5h0.01M303.3,619.2h0.01M298.9,620.8h0.01M294.6,618.6h0.01M310.2,618.8h0.01M304.1,622.4h0.01M303.3,622.6h0.01M310.3,620.2h0.01M323.3,602.8h0.01M304.6,618.6h0.01M300.5,621.9h0.01M294.5,620.8h0.01M314.5,614.5h0.01M313.5,610.4h0.01M297.0,621.0h0.01M315.3,613.4h0.01M305.6,619.7h0.01M300.1,620.2h0.01M315.4,610.1h0.01M293.5,622.2h0.01M280.5,610.4h0.01M296.4,621.5h0.01M300.4,622.4h0.01M320.8,604.0h0.01M294.6,621.3h0.01M284.2,613.8h0.01M303.6,620.1h0.01M287.6,613.1h0.01M303.2,621.9h0.01M292.6,618.4h0.01M294.7,621.8h0.01M301.4,621.9h0.01M300.9,621.1h0.01M298.3,618.9h0.01M315.2,613.2h0.01M311.0,612.9h0.01M300.0,622.1h0.01M305.2,621.7h0.01M295.3,620.8h0.01M298.9,621.3h0.01M289.2,618.7h0.01M305.2,620.6h0.01M281.2,614.8h0.01M297.8,621.7h0.01M316.3,611.1h0.01M290.3,618.6h0.01M291.0,617.1h0.01M294.4,620.4h0.01M325.7,600.3h0.01M309.8,618.5h0.01M322.9,603.3h0.01M292.7,618.6h0.01M292.9,621.1h0.01M295.1,618.2h0.01M295.8,621.1h0.01M282.0,612.5h0.01M319.6,603.5h0.01M299.2,619.9h0.01M307.4,618.9h0.01M285.6,616.1h0.01M290.7,614.2h0.01M302.5,620.9h0.01M315.1,612.4h0.01M279.6,606.2h0.01M321.2,604.4h0.01M295.1,617.8h0.01M289.1,618.8h0.01M301.3,620.6h0.01M327.6,600.9h0.01M302.0,619.1h0.01M306.9,619.9h0.01M287.4,614.0h0.01M312.1,614.3h0.01M289.0,615.1h0.01M321.8,604.3h0.01M307.3,619.4h0.01M281.3,611.6h0.01M305.4,621.2h0.01M298.5,621.7h0.01M281.3,604.9h0.01M311.7,615.2h0.01M298.6,618.9h0.01M294.3,621.8h0.01M296.0,620.7h0.01M300.2,620.1h0.01M306.6,619.5h0.01M291.6,615.7h0.01M309.7,619.2h0.01M315.9,611.5h0.01M311.2,617.0h0.01M291.9,620.7h0.01M305.9,622.5h0.01M322.8,604.0h0.01M306.5,619.6h0.01M303.2,622.2h0.01M309.9,620.1h0.01M312.8,614.6h0.01M291.9,621.1h0.01M320.0,608.6h0.01M300.6,617.1h0.01M293.8,620.1h0.01M304.0,620.4h0.01M278.9,608.7h0.01M292.0,617.1h0.01M283.8,615.1h0.01M301.0,621.7h0.01M284.5,612.3h0.01M289.0,619.5h0.01M303.3,622.6h0.01M295.2,621.4h0.01M295.9,620.9h0.01M306.1,621.7h0.01M296.4,622.2h0.01M314.4,612.9h0.01M297.6,621.1h0.01M296.3,620.1h0.01M301.0,620.0h0.01M298.5,620.9h0.01M309.0,619.1h0.01M280.4,612.3h0.01M290.8,618.9h0.01M287.5,621.7h0.01M300.8,622.1h0.01M281.5,605.4h0.01M300.7,620.1h0.01M313.2,610.8h0.01M297.4,621.7h0.01M302.9,619.5h0.01M303.4,621.9h0.01M299.7,619.8h0.01M299.4,620.1h0.01M287.2,613.2h0.01M287.4,615.7h0.01M290.1,616.5h0.01M311.4,615.5h0.01M298.7,621.7h0.01M316.3,610.1h0.01M280.8,609.6h0.01M296.4,620.8h0.01M297.2,621.3h0.01M314.1,612.0h0.01M324.0,600.6h0.01M301.1,621.1h0.01M303.6,622.0h0.01M296.7,622.4h0.01M303.6,621.7h0.01M298.1,621.3h0.01M287.9,616.2h0.01M307.6,618.8h0.01M283.0,613.8h0.01M291.4,616.4h0.01M295.8,622.5h0.01M296.9,618.5h0.01M313.2,612.9h0.01M298.0,619.6h0.01M290.0,614.2h0.01M296.3,621.5h0.01M326.1,596.1h0.01M328.1,598.9h0.01M311.0,615.1h0.01M299.2,622.2h0.01M281.3,611.3h0.01M292.2,620.2h0.01M309.4,621.5h0.01M291.3,617.2h0.01M298.5,622.4h0.01M288.1,618.2h0.01M297.8,621.3h0.01M300.2,622.2h0.01M281.5,603.2h0.01M289.8,620.9h0.01M325.0,600.2h0.01M297.1,619.8h0.01M299.8,621.6h0.01M304.2,622.3h0.01M286.3,612.6h0.01M301.9,621.7h0.01M326.6,602.4h0.01M301.8,621.1h0.01M305.3,621.8h0.01M296.8,619.4h0.01M307.2,619.2h0.01M302.0,619.5h0.01M303.8,622.1h0.01M291.7,620.3h0.01M305.9,621.7h0.01M312.1,613.5h0.01M309.8,617.5h0.01M308.7,618.0h0.01M293.0,620.9h0.01M303.9,620.9h0.01M312.3,611.1h0.01M299.4,621.4h0.01M302.6,619.7h0.01M296.1,621.1h0.01M301.1,621.9h0.01M285.7,613.9h0.01M291.2,617.1h0.01M300.4,621.8h0.01M288.9,614.8h0.01M306.7,621.1h0.01M310.6,613.3h0.01M281.4,611.7h0.01M295.6,621.3h0.01M295.0,620.9h0.01M300.9,622.2h0.01M295.3,622.4h0.01M317.7,609.2h0.01M301.7,620.9h0.01M304.6,621.5h0.01M281.9,605.8h0.01M294.2,622.3h0.01M323.4,602.5h0.01M298.1,620.0h0.01M321.4,602.5h0.01M294.0,620.6h0.01M299.7,622.1h0.01M296.2,621.9h0.01M304.0,620.6h0.01M303.0,622.4h0.01M294.6,618.1h0.01M284.6,607.8h0.01M308.1,621.2h0.01M322.0,607.4h0.01M298.5,622.4h0.01M294.4,622.1h0.01M308.3,620.8h0.01M312.0,611.9h0.01M297.5,622.2h0.01M295.7,618.3h0.01M293.3,617.7h0.01M303.3,620.7h0.01M322.8,601.6h0.01M289.5,616.4h0.01M295.8,622.2h0.01M301.0,622.6h0.01M279.7,608.4h0.01M318.3,609.5h0.01M304.5,618.1h0.01M279.0,606.5h0.01M294.8,621.5h0.01M294.0,619.2h0.01M296.2,617.9h0.01M284.5,615.7h0.01M282.7,613.0h0.01M299.0,622.2h0.01M307.1,618.8h0.01M326.0,599.1h0.01M289.4,616.6h0.01M289.2,619.2h0.01M298.7,622.0h0.01M317.6,613.2h0.01M282.8,611.6h0.01M302.0,620.0h0.01M298.6,622.2h0.01M294.8,620.0h0.01M318.4,605.5h0.01M300.3,620.9h0.01M298.3,621.1h0.01M298.9,621.8h0.01M294.6,620.0h0.01M283.5,611.6h0.01M304.0,621.3h0.01M320.0,606.9h0.01M307.8,615.7h0.01M287.1,615.3h0.01M288.6,620.7h0.01M303.0,620.3h0.01M323.7,603.7h0.01M300.8,621.3h0.01M317.0,606.7h0.01M292.1,618.4h0.01M289.2,616.2h0.01M294.5,621.3h0.01M298.5,622.6h0.01M304.8,621.3h0.01M308.3,619.3h0.01M306.8,617.9h0.01M297.3,619.6h0.01M301.2,621.2h0.01M289.7,618.0h0.01M287.1,614.8h0.01M315.0,610.4h0.01M293.5,619.3h0.01M301.8,621.4h0.01M308.2,614.0h0.01M295.7,619.7h0.01M284.3,613.3h0.01M286.8,613.7h0.01M288.4,612.9h0.01M291.2,616.8h0.01M302.1,621.7h0.01M281.8,608.2h0.01M299.4,622.3h0.01M307.5,618.4h0.01M292.4,617.6h0.01M311.4,615.5h0.01M292.9,619.4h0.01M306.2,619.5h0.01M301.6,621.1h0.01M315.5,611.2h0.01M291.6,617.8h0.01M310.8,614.2h0.01M302.9,621.8h0.01M320.0,603.2h0.01M314.5,614.0h0.01M292.8,621.5h0.01M321.1,607.0h0.01M300.3,621.7h0.01M280.7,612.7h0.01M286.4,614.6h0.01M285.4,614.1h0.01M293.6,622.1h0.01M278.6,607.6h0.01M317.1,606.2h0.01M310.5,615.0h0.01M281.2,607.8h0.01M296.5,622.4h0.01M324.9,600.4h0.01M294.6,619.9h0.01M283.7,614.0h0.01M306.9,621.9h0.01M324.8,599.4h0.01M319.6,607.0h0.01M305.8,621.8h0.01M292.2,617.3h0.01M299.9,620.5h0.01M320.2,605.6h0.01M300.7,620.2h0.01M323.1,603.2h0.01M326.8,597.0h0.01M301.8,621.5h0.01M287.4,616.1h0.01M294.4,618.0h0.01M285.5,612.7h0.01M299.3,617.5h0.01M320.3,608.1h0.01M319.3,608.6h0.01M320.0,607.2h0.01M280.4,606.1h0.01M304.8,616.4h0.01M286.0,616.2h0.01M296.6,621.6h0.01M309.9,619.1h0.01M301.3,620.9h0.01M305.6,618.4h0.01M307.8,618.9h0.01M301.0,620.3h0.01M294.6,621.6h0.01M307.1,621.3h0.01M308.9,619.2h0.01M305.6,620.7h0.01M323.8,603.0h0.01M308.5,616.5h0.01M327.7,604.2h0.01M310.5,616.4h0.01M321.4,607.1h0.01M295.6,619.6h0.01M307.9,621.2h0.01M316.8,607.7h0.01M298.0,621.5h0.01M297.0,619.9h0.01M297.9,621.8h0.01M311.6,616.5h0.01M307.3,620.9h0.01M295.2,621.8h0.01M288.0,617.7h0.01M299.2,622.5h0.01M315.3,614.9h0.01M300.9,622.0h0.01M299.6,622.0h0.01M313.2,610.1h0.01M321.5,605.0h0.01M297.7,621.4h0.01M317.0,614.9h0.01M290.6,619.2h0.01M284.9,611.0h0.01M298.4,619.7h0.01M299.3,622.0h0.01M295.1,621.5h0.01M309.9,619.5h0.01M322.6,608.7h0.01M290.9,617.8h0.01M282.0,612.3h0.01M303.9,621.5h0.01M304.6,617.7h0.01M300.3,619.2h0.01M291.1,618.8h0.01M280.2,609.6h0.01M310.3,618.3h0.01M298.1,622.1h0.01M307.1,621.4h0.01M304.9,621.6h0.01M315.5,611.5h0.01M293.1,614.5h0.01M327.3,597.6h0.01M281.3,610.4h0.01M309.3,617.1h0.01M293.0,619.4h0.01M305.5,618.3h0.01M301.8,622.1h0.01M304.8,617.5h0.01M310.3,616.3h0.01M280.7,610.8h0.01M319.9,608.8h0.01M290.4,614.9h0.01M324.4,595.4h0.01M307.0,618.8h0.01M281.5,611.2h0.01M295.9,620.5h0.01M297.1,620.4h0.01M292.0,620.9h0.01M297.7,621.5h0.01M302.3,621.4h0.01M289.8,615.1h0.01M291.4,619.4h0.01M325.6,600.6h0.01M295.2,622.2h0.01M282.7,611.7h0.01M299.0,620.6h0.01M320.7,605.6h0.01M297.7,620.4h0.01M325.3,600.5h0.01M304.1,621.1h0.01M303.6,621.9h0.01M297.7,622.1h0.01M291.2,620.1h0.01M319.5,605.9h0.01M305.0,621.1h0.01M312.3,615.0h0.01M302.6,618.6h0.01M318.5,611.0h0.01M298.8,620.9h0.01M301.9,620.0h0.01M299.7,618.5h0.01M322.3,609.3h0.01M291.8,619.3h0.01M325.8,600.3h0.01M306.1,618.1h0.01M297.2,621.2h0.01M305.3,621.3h0.01M297.8,621.2h0.01M306.7,620.6h0.01M302.5,620.6h0.01M301.7,622.2h0.01M308.7,617.7h0.01M305.9,619.4h0.01M307.4,617.8h0.01M309.8,615.9h0.01M301.7,619.2h0.01M291.2,622.5h0.01M293.0,620.3h0.01M288.5,616.5h0.01M301.5,620.2h0.01M286.0,611.6h0.01M301.1,621.5h0.01M289.3,618.5h0.01M291.1,619.4h0.01M312.1,613.6h0.01M307.3,620.4h0.01M296.3,622.4h0.01M310.2,616.2h0.01M310.7,614.3h0.01M300.4,622.1h0.01M319.6,603.6h0.01M325.0,607.6h0.01M307.3,620.1h0.01M290.6,616.2h0.01M321.4,605.5h0.01M294.9,621.9h0.01M305.6,618.9h0.01M292.7,620.9h0.01M306.1,621.4h0.01M298.4,621.2h0.01M306.0,622.1h0.01M296.1,619.7h0.01M312.1,615.0h0.01M306.2,619.7h0.01M303.1,620.2h0.01M309.4,615.0h0.01M295.4,621.8h0.01M298.2,622.5h0.01M307.5,616.4h0.01M298.6,621.2h0.01M294.1,621.5h0.01M305.2,615.5h0.01M294.1,617.5h0.01M299.9,621.1h0.01M314.1,613.0h0.01M317.3,613.6h0.01M309.9,615.8h0.01M295.4,622.5h0.01M313.4,619.4h0.01M308.9,616.8h0.01M308.0,616.6h0.01M313.7,613.9h0.01M295.7,620.1h0.01M278.5,608.3h0.01M323.6,606.1h0.01M303.6,620.4h0.01M306.2,619.3h0.01M297.5,621.4h0.01M294.4,619.8h0.01M308.1,618.9h0.01M280.5,606.9h0.01M302.6,621.6h0.01M287.3,612.8h0.01M289.7,614.2h0.01M322.3,602.5h0.01M287.7,610.0h0.01M293.6,620.4h0.01M288.7,617.5h0.01M314.9,616.8h0.01M288.8,614.2h0.01M326.3,601.4h0.01M305.1,616.9h0.01M318.5,612.3h0.01M278.8,607.5h0.01M276.4,606.1h0.01M323.1,602.9h0.01M283.9,611.6h0.01M303.4,620.6h0.01M283.3,612.9h0.01M274.0,600.0h0.01M303.1,619.8h0.01M332.3,595.8h0.01M328.7,597.0h0.01M302.5,613.2h0.01M302.7,614.6h0.01M289.9,616.8h0.01M309.0,614.8h0.01M284.6,611.4h0.01M315.2,614.8h0.01M308.9,617.6h0.01M334.0,593.2h0.01M284.0,611.3h0.01M278.4,609.1h0.01M275.3,606.7h0.01M278.3,610.7h0.01M289.3,617.6h0.01M320.0,608.9h0.01M314.6,611.6h0.01M333.9,591.7h0.01M316.1,606.8h0.01M320.8,603.7h0.01M304.2,619.4h0.01M284.5,616.5h0.01M330.7,594.0h0.01M299.6,616.8h0.01M320.1,610.9h0.01M280.8,609.8h0.01M313.4,607.6h0.01M320.3,602.6h0.01M273.6,608.7h0.01M282.2,610.6h0.01M317.9,609.1h0.01M288.3,611.5h0.01M299.1,618.2h0.01M321.0,607.3h0.01M288.6,619.6h0.01M302.5,610.6h0.01M318.3,605.0h0.01M280.4,604.4h0.01M286.7,614.2h0.01M328.6,594.9h0.01M332.0,591.3h0.01M318.0,608.3h0.01M313.6,606.1h0.01M277.3,604.7h0.01M287.4,614.1h0.01M304.2,618.9h0.01M284.5,610.5h0.01M305.2,619.1h0.01M307.6,617.1h0.01M305.6,615.4h0.01M326.9,589.5h0.01M320.3,606.9h0.01M315.3,615.0h0.01M279.4,609.9h0.01M313.5,613.5h0.01M306.7,613.1h0.01M310.2,619.6h0.01M291.7,617.0h0.01M315.7,608.3h0.01M292.3,621.4h0.01M319.3,604.6h0.01M320.0,603.8h0.01M332.5,597.0h0.01M292.3,616.7h0.01M323.8,606.9h0.01M304.9,617.6h0.01M295.4,616.9h0.01M302.2,620.9h0.01M331.2,585.7h0.01M332.5,582.8h0.01M321.5,604.9h0.01M326.9,597.0h0.01M277.4,610.1h0.01M314.3,602.6h0.01M323.4,600.9h0.01M279.0,612.2h0.01M323.0,599.2h0.01M290.8,619.1h0.01M288.8,618.6h0.01M276.8,611.6h0.01M316.7,613.2h0.01M298.8,614.5h0.01M307.9,621.3h0.01M326.5,596.8h0.01M306.8,615.9h0.01M309.8,610.5h0.01M276.0,607.6h0.01M330.8,595.6h0.01M319.7,606.2h0.01M311.5,612.0h0.01M288.8,621.0h0.01M308.6,617.0h0.01M282.3,611.4h0.01M274.9,602.3h0.01M305.2,620.6h0.01M328.2,600.7h0.01M310.3,618.5h0.01M328.0,599.5h0.01M294.4,618.1h0.01M331.3,594.7h0.01M314.9,609.0h0.01M282.7,605.1h0.01M295.3,617.6h0.01M283.0,613.5h0.01M321.7,603.3h0.01M294.8,621.3h0.01M332.6,594.6h0.01M326.9,600.3h0.01M328.9,603.5h0.01M330.0,598.9h0.01M277.4,603.8h0.01M273.7,597.8h0.01M319.2,603.2h0.01M302.8,619.0h0.01M324.6,602.6h0.01M313.9,615.1h0.01M287.5,619.0h0.01M331.5,594.7h0.01M331.6,587.6h0.01M294.5,619.8h0.01M314.1,607.4h0.01M330.6,589.4h0.01M317.3,607.6h0.01M332.0,583.0h0.01M333.5,581.5h0.01M331.5,584.5h0.01M332.8,580.2h0.01M342.0,586.0h0.01M339.0,592.0h0.01M334.0,601.0h0.01M336.0,603.0h0.01M327.0,609.0h0.01M338.0,614.0h0.01M357.5,597.0h0.01M273.0,607.0h0.01M271.0,610.0h0.01M279.0,619.0h0.01M287.0,605.0h0.01M302.0,604.0h0.01M314.0,591.0h0.01M317.0,594.0h0.01M328.0,587.0h0.01M329.0,594.0h0.01" stroke="#000" stroke-width="1.8" stroke-linecap="round" stroke-linejoin="round" fill="none"/>
<ellipse cx="265.2" cy="547.1" rx="4.6" ry="4.9" fill="url(#sb)"/>
<ellipse cx="278.9" cy="575.5" rx="4.6" ry="4.9" fill="url(#sb)"/>
<ellipse cx="266.6" cy="578.8" rx="4.6" ry="4.9" fill="url(#sb)"/>
<ellipse cx="269.8" cy="587.3" rx="4.6" ry="4.9" fill="url(#sb)"/>
<ellipse cx="278.0" cy="590.7" rx="4.6" ry="4.9" fill="url(#sb)"/>
<ellipse cx="281.8" cy="591.7" rx="4.6" ry="4.9" fill="url(#sb)"/>
<ellipse cx="251.0" cy="594.0" rx="4.6" ry="4.9" fill="url(#sb)"/>
<ellipse cx="263.7" cy="596.0" rx="4.6" ry="4.9" fill="url(#sb)"/>
<ellipse cx="275.1" cy="596.4" rx="4.6" ry="4.9" fill="url(#sb)"/>
<ellipse cx="409.5" cy="485.2" rx="4.6" ry="5.0" fill="url(#sr)"/>
<ellipse cx="349.6" cy="520.1" rx="4.6" ry="5.0" fill="url(#sr)"/>
<ellipse cx="383.5" cy="525.4" rx="4.6" ry="5.0" fill="url(#sr)"/>
<ellipse cx="363.3" cy="535.2" rx="4.6" ry="5.0" fill="url(#sr)"/>
<ellipse cx="359.4" cy="547.6" rx="4.6" ry="5.0" fill="url(#sr)"/>
<ellipse cx="336.5" cy="567.0" rx="4.6" ry="5.0" fill="url(#sr)"/>
<ellipse cx="346.6" cy="571.3" rx="4.6" ry="5.0" fill="url(#sr)"/>
<ellipse cx="366.2" cy="568.6" rx="4.6" ry="5.0" fill="url(#sr)"/>
<ellipse cx="357.4" cy="584.3" rx="4.6" ry="5.0" fill="url(#sr)"/>
<ellipse cx="365.6" cy="590.5" rx="4.6" ry="5.0" fill="url(#sr)"/>
<text x="247.72" y="542.20" font-size="16.89" class="k" textLength="79.41" lengthAdjust="spacingAndGlyphs" style="font-style:italic">HLA-DQA1</text>
<text x="245.82" y="571.80" font-size="16.89" class="k" textLength="79.30" lengthAdjust="spacingAndGlyphs" style="font-style:italic">HLA-DQA2</text>
<text x="355.37" y="490.80" font-size="16.89" class="k" textLength="49.57" lengthAdjust="spacingAndGlyphs" style="font-style:italic">IFITM3</text>
<text x="314.94" y="516.60" font-size="16.89" class="k" textLength="41.81" lengthAdjust="spacingAndGlyphs" style="font-style:italic">CD8B</text>
<text x="362.63" y="521.80" font-size="16.89" class="k" textLength="56.93" lengthAdjust="spacingAndGlyphs" style="font-style:italic">NFKBIA</text>
<text x="367.86" y="542.90" font-size="16.89" class="k" textLength="36.86" lengthAdjust="spacingAndGlyphs" style="font-style:italic">FTH1</text>
<text x="364.21" y="559.20" font-size="16.89" class="k" textLength="64.50" lengthAdjust="spacingAndGlyphs" style="font-style:italic">ZFP36L2</text>
<text x="366.51" y="583.60" font-size="16.89" class="k" textLength="73.52" lengthAdjust="spacingAndGlyphs" style="font-style:italic">GADD45B</text>
</g>
<g id="ph">
<text x="439.20" y="452.70" font-size="21.4" font-weight="bold" stroke="#000" stroke-width="0.9" textLength="13.98" lengthAdjust="spacingAndGlyphs">h</text>
<line x1="481.50" y1="484.00" x2="481.50" y2="626.60" stroke="#000" stroke-width="1.75" />
<line x1="480.65" y1="625.80" x2="671.50" y2="625.80" stroke="#000" stroke-width="1.65" />
<line x1="477.90" y1="623.10" x2="481.50" y2="623.10" stroke="#000" stroke-width="1.7" />
<text x="467.34" y="629.20" font-size="16.83" class="k" textLength="9.20" lengthAdjust="spacingAndGlyphs">0</text>
<line x1="477.90" y1="590.80" x2="481.50" y2="590.80" stroke="#000" stroke-width="1.7" />
<text x="467.65" y="596.90" font-size="16.83" class="k" textLength="8.70" lengthAdjust="spacingAndGlyphs">4</text>
<line x1="477.90" y1="558.50" x2="481.50" y2="558.50" stroke="#000" stroke-width="1.7" />
<text x="467.15" y="564.60" font-size="16.83" class="k" textLength="9.50" lengthAdjust="spacingAndGlyphs">6</text>
<line x1="477.90" y1="526.20" x2="481.50" y2="526.20" stroke="#000" stroke-width="1.7" />
<text x="467.29" y="532.30" font-size="16.83" class="k" textLength="9.35" lengthAdjust="spacingAndGlyphs">8</text>
<line x1="477.90" y1="493.90" x2="481.50" y2="493.90" stroke="#000" stroke-width="1.7" />
<text x="458.59" y="500.00" font-size="16.83" class="k" textLength="17.95" lengthAdjust="spacingAndGlyphs">10</text>
<line x1="489.20" y1="625.80" x2="489.20" y2="631.70" stroke="#000" stroke-width="1.7" />
<text x="479.51" y="647.30" font-size="17.14" class="k" textLength="17.02" lengthAdjust="spacingAndGlyphs">–5</text>
<line x1="544.80" y1="625.80" x2="544.80" y2="631.70" stroke="#000" stroke-width="1.7" />
<text x="540.54" y="647.30" font-size="17.14" class="k" textLength="8.51" lengthAdjust="spacingAndGlyphs">0</text>
<line x1="610.60" y1="625.80" x2="610.60" y2="631.70" stroke="#000" stroke-width="1.7" />
<text x="606.35" y="647.30" font-size="17.14" class="k" textLength="8.51" lengthAdjust="spacingAndGlyphs">5</text>
<line x1="665.80" y1="625.80" x2="665.80" y2="631.70" stroke="#000" stroke-width="1.7" />
<text x="657.02" y="647.30" font-size="17.14" class="k" textLength="17.02" lengthAdjust="spacingAndGlyphs">10</text>
<text x="551.08" y="666.60" font-size="16.43" class="k" textLength="54.64" lengthAdjust="spacingAndGlyphs"><tspan font-style="italic">z</tspan>-score</text>
<text x="405.80" y="559.50" font-size="15.50" class="k" textLength="103.98" lengthAdjust="spacingAndGlyphs" transform="rotate(-90 457.30 559.50)">–log<tspan font-size="10.5" dy="3.6">10</tspan><tspan dy="-3.6">(</tspan><tspan font-style="italic">q</tspan> value)</text>
<text x="458.77" y="465.70" font-size="14.20" fill="#4253a4" stroke="#4253a4" stroke-width="0.2" textLength="66.80" lengthAdjust="spacingAndGlyphs">Amino acid</text>
<text x="457.88" y="477.40" font-size="14.20" fill="#4253a4" stroke="#4253a4" stroke-width="0.2" textLength="70.02" lengthAdjust="spacingAndGlyphs">metabolism</text>
<text x="547.32" y="502.40" font-size="13.67" fill="#ee3a2d" stroke="#ee3a2d" stroke-width="0.2" textLength="52.76" lengthAdjust="spacingAndGlyphs">Cytokine</text>
<text x="547.63" y="514.40" font-size="13.67" fill="#ee3a2d" stroke="#ee3a2d" stroke-width="0.2" textLength="55.94" lengthAdjust="spacingAndGlyphs">signalling</text>
<text x="540.12" y="537.10" font-size="13.67" fill="#ee3a2d" stroke="#ee3a2d" stroke-width="0.2" textLength="25.78" lengthAdjust="spacingAndGlyphs">TCR</text>
<text x="525.03" y="549.50" font-size="13.67" fill="#ee3a2d" stroke="#ee3a2d" stroke-width="0.2" textLength="55.73" lengthAdjust="spacingAndGlyphs">signalling</text>
<text x="624.07" y="482.70" font-size="13.67" fill="#ee3a2d" stroke="#ee3a2d" stroke-width="0.2" textLength="51.72" lengthAdjust="spacingAndGlyphs">Adaptive</text>
<text x="623.20" y="494.80" font-size="13.67" fill="#ee3a2d" stroke="#ee3a2d" stroke-width="0.2" textLength="53.14" lengthAdjust="spacingAndGlyphs">immunity</text>
<text x="599.81" y="566.50" font-size="13.67" fill="#ee3a2d" stroke="#ee3a2d" stroke-width="0.2" textLength="37.44" lengthAdjust="spacingAndGlyphs">Stress</text>
<text x="590.93" y="578.50" font-size="13.67" fill="#ee3a2d" stroke="#ee3a2d" stroke-width="0.2" textLength="54.95" lengthAdjust="spacingAndGlyphs">response</text>
<text x="509.89" y="604.30" font-size="13.67" fill="#ee3a2d" stroke="#ee3a2d" stroke-width="0.2" textLength="106.45" lengthAdjust="spacingAndGlyphs">Downstream TCR</text>
<text x="535.63" y="616.40" font-size="13.67" fill="#ee3a2d" stroke="#ee3a2d" stroke-width="0.2" textLength="55.94" lengthAdjust="spacingAndGlyphs">signalling</text>
<circle cx="493.00" cy="490.20" r="10.90" fill="url(#sb)" />
<circle cx="656.20" cy="512.20" r="16.50" fill="url(#sr)" />
<circle cx="604.90" cy="527.80" r="11.00" fill="url(#sr)" />
<circle cx="589.20" cy="543.90" r="7.60" fill="url(#sr)" />
<circle cx="583.80" cy="563.50" r="5.90" fill="url(#sr)" />
<circle cx="585.30" cy="588.20" r="5.40" fill="url(#sr)" />
</g>
</svg></body></html>
